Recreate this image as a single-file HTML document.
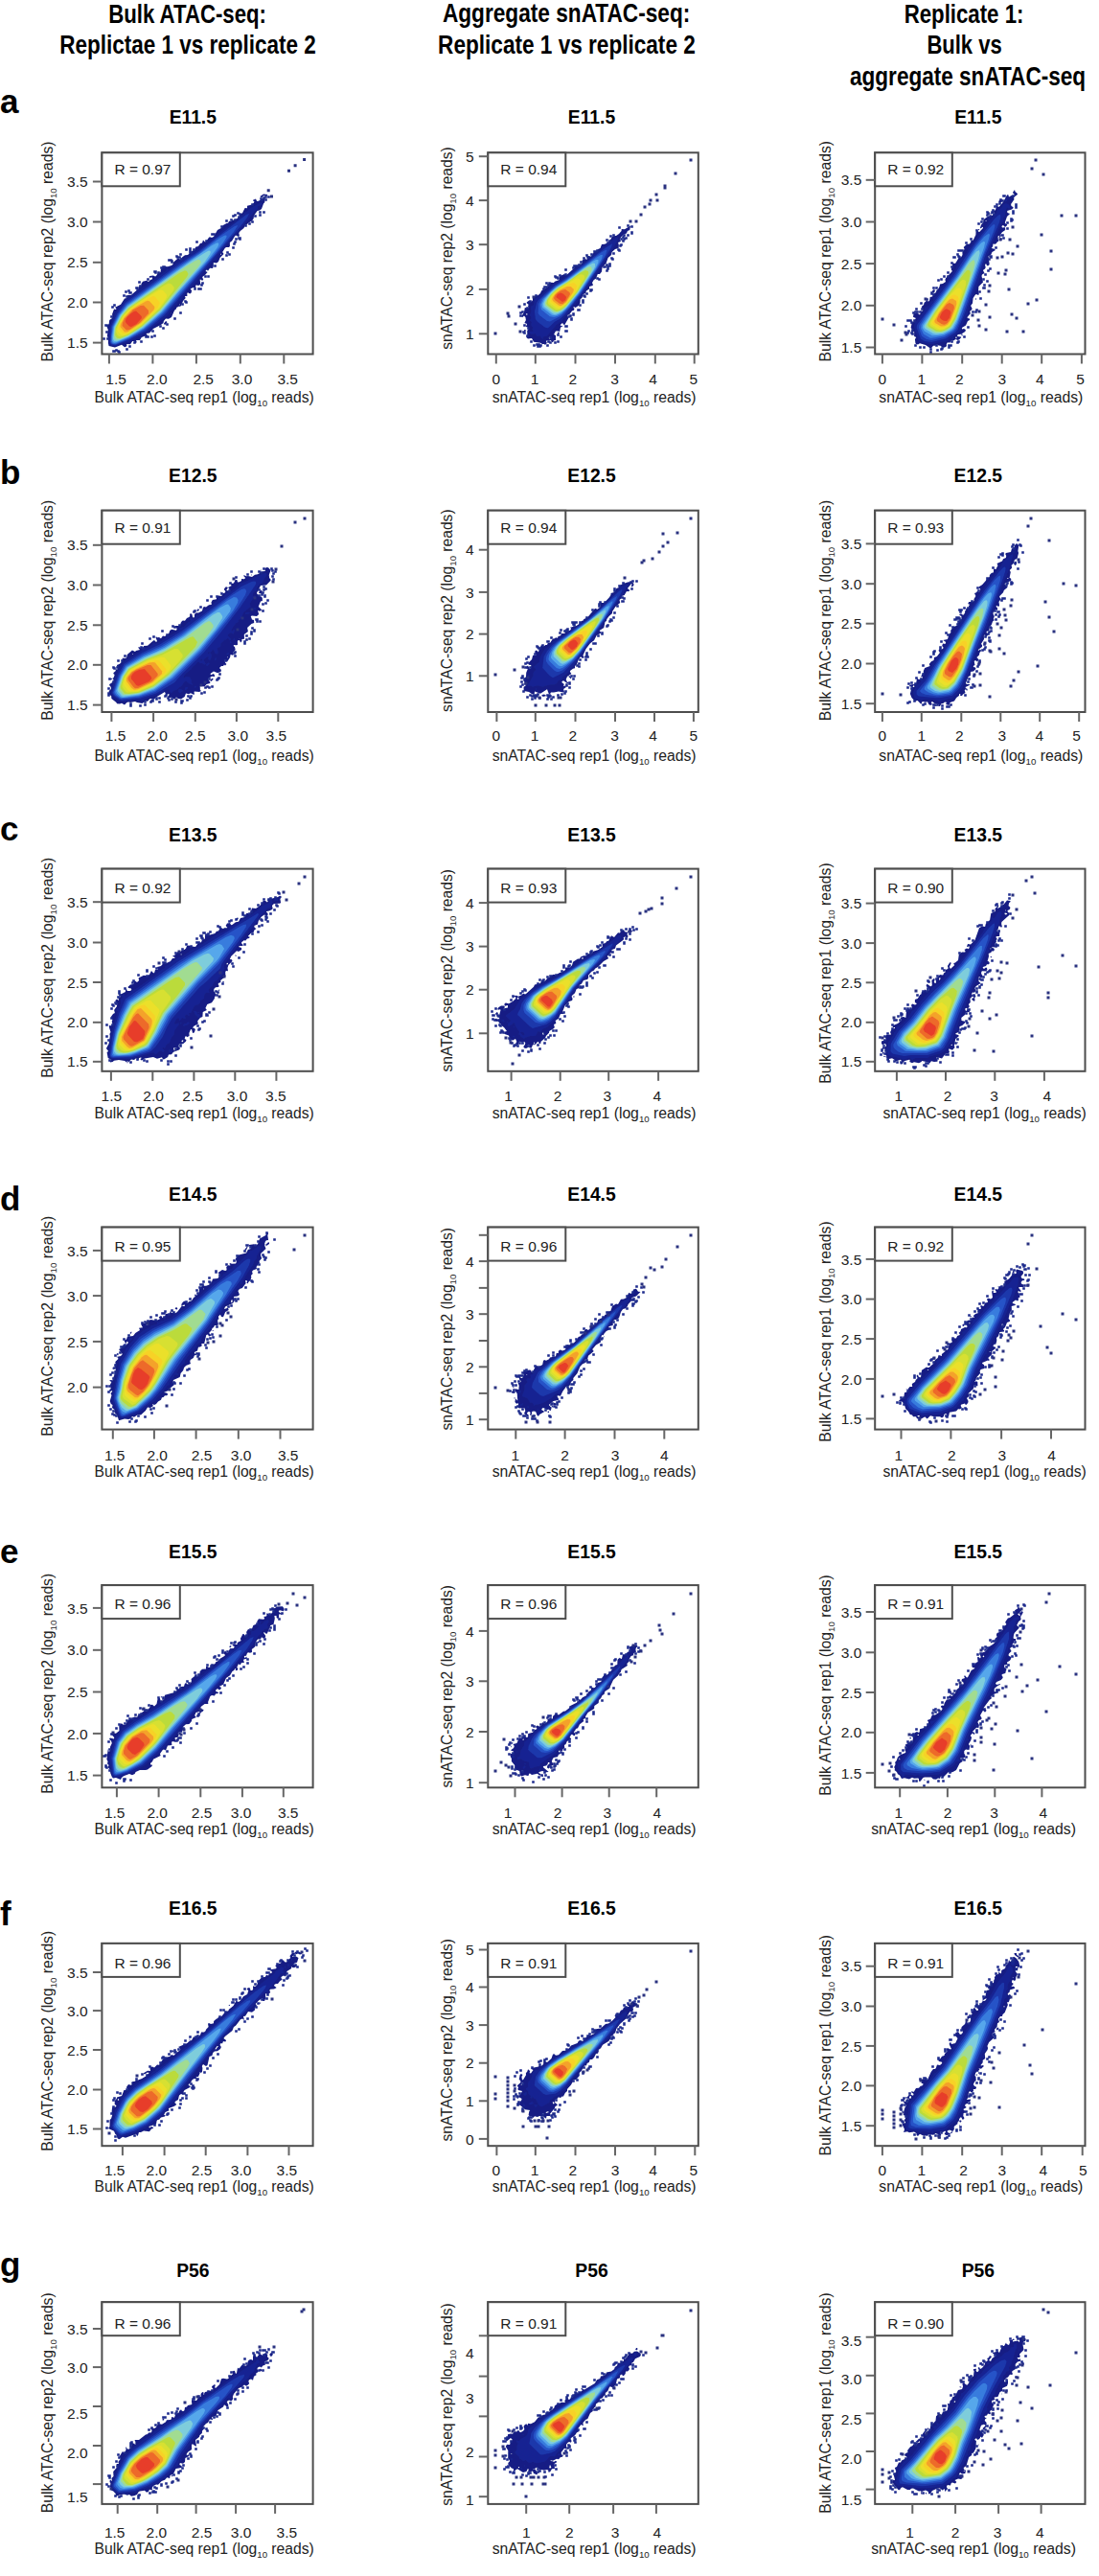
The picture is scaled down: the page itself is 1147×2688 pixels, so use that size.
<!DOCTYPE html><html><head><meta charset="utf-8"><style>html,body{margin:0;padding:0;background:#fff}svg{display:block}text{font-family:"Liberation Sans", sans-serif}</style></head><body>
<svg width="1147" height="2688" viewBox="0 0 1147 2688">
<defs><filter id="soft" x="-5%" y="-5%" width="110%" height="110%"><feGaussianBlur stdDeviation="0.6"/></filter></defs>
<rect width="1147" height="2688" fill="#fff"/>
<text x="113.2" y="23.7" font-size="27" font-weight="bold" fill="#000" textLength="164.8" lengthAdjust="spacingAndGlyphs">Bulk ATAC-seq:</text>
<text x="62.3" y="56.4" font-size="27" font-weight="bold" fill="#000" textLength="267.5" lengthAdjust="spacingAndGlyphs">Replictae 1 vs replicate 2</text>
<text x="461.9" y="23" font-size="27" font-weight="bold" fill="#000" textLength="258.4" lengthAdjust="spacingAndGlyphs">Aggregate snATAC-seq:</text>
<text x="457.1" y="56.4" font-size="27" font-weight="bold" fill="#000" textLength="268.7" lengthAdjust="spacingAndGlyphs">Replicate 1 vs replicate 2</text>
<text x="943.7" y="23.7" font-size="27" font-weight="bold" fill="#000" textLength="124.7" lengthAdjust="spacingAndGlyphs">Replicate 1:</text>
<text x="967.4" y="56.2" font-size="27" font-weight="bold" fill="#000" textLength="78.3" lengthAdjust="spacingAndGlyphs">Bulk vs</text>
<text x="887" y="89.3" font-size="27" font-weight="bold" fill="#000" textLength="246.1" lengthAdjust="spacingAndGlyphs">aggregate snATAC-seq</text>
<text x="0" y="117.8" font-size="35" font-weight="bold" fill="#000">a</text>
<text x="0" y="505" font-size="35" font-weight="bold" fill="#000">b</text>
<text x="0" y="877.3" font-size="35" font-weight="bold" fill="#000">c</text>
<text x="0" y="1262.6" font-size="35" font-weight="bold" fill="#000">d</text>
<text x="0" y="1631.2" font-size="35" font-weight="bold" fill="#000">e</text>
<text x="0" y="2008.8" font-size="35" font-weight="bold" fill="#000">f</text>
<text x="0" y="2375.2" font-size="35" font-weight="bold" fill="#000">g</text>
<g filter="url(#soft)">
<path fill="#151f84" d="M273 206.4l-1.7-1.4 3.7-2.4 4.2 .4-.2 1.4-4-.2zM131 362.1l-1 .1-3-2.4-7 2.8-6.4-1.6-.7-3 .1-5.5-1.2-1.5 1-7-1.7-4 2.6-2 .5-4 2.9-2 .2-3-.3-.9-1.2-.1 1.2-.1 2-5.5 2 .5 .4-.9-1.4-1.2 6-3.1 4-6.1 2.3-.6 .9-3 3.8-.3 7.9-6.7 0-2 2.4-1 .2-2 1.5-2.2 4-1.1 2 1.4 2-2.1 2-.7 0-1.7-3 .1-.4-.7 .7-1 3.7-.5 2 1.1 1-.5 1.7-3.1 2.8-1 .4-3 1.1-1.5 3.2-1.5 2.8 .3 4-1.4 1.4-.9 .2-2 5.4-4.7 2 1.3 1-.3 1-1.8 3-2.3 3-.2 5-4.4 2.2-.6 .8-3.3 3-.6 2-3.1 2-.4 1-3.1 2 2.1 1-.3 3-4.6 1-.5 2 .8 2-1.1 4-6.9 3.8-2 2.1-3 4.1-2.2 1 .3 1-2.3 3 .3-.3-1.1 4.3-.9 4-3-.1-2.1 3.1-1.7 2.6-5.3 2.4 .3 0-2.6 5-1.2 2-1.9 .4-1.6-1.4-.5 0-.8 3-1.2 1 2.3 1 .3 7-3.3 .4 4.2-1.4 1.4-2 5.6-2 1.5-2.4 .5-3.6 4.9-.3 3.1-1.7 2.5-4 2.2-1 1.5-2 .5-1.5 3.3-3.7 3-1.5 2 .6 3-.9 .9-3-1.3-1 .9-3 5.1-2.1 1.4 0 4-1 1-2.9 .1-1.3 .9-2.5 4 1.3 2-3.9 4-1.6 4-2 1.5-3.2-.5 0 4-.8 2-3-.2-2 2.9-1-1.1-1 .4-.5 1 2.1 1-2.6 3.1-2.9 1.9 1.2 3-1.3 .7-2-1.3-.3 .6 .6 5-2.3 1-2-.6-1 .5 .5 2.1-.5 1-2-.9-2.7 .9-.5 1 1.4 1-.8 3-1.4 .5-2-1.3-.7 .8 .1 3-2.5 0 .8 2-2.6 3-2.1 4.8-1 1.3-1-.5-2.8 1.4-.2 1.3-2 1.7-3 7.1-3 1.6-3-.1-2.1 2.4-.4 2-2.6 2-7.9 4-4 4.4-3.5 .6 1.5 2-.4 1-2.6-.2-3.2 1.2-1.8 3.1-4-.2 .7 2.1-.7 .9-1-.2-1-1.8-1.8 .1-2.2 3.2-3.8-.2 .2 2zM230.5 266l.5-1.3-1.2 .3zM187.5 318l-.5-1.2 0 1.7zM178.2 327l-.2-.8 0 1.4zM173 338.4l-1 .4-1.3-.8 2.3-3.1 1.5 1.1z"/>
<path fill="#172492" d="M121 361.2l-5-.8-1.9-2.4-.4-8 .6-8 5.9-15 9.8-12.9 18-13.6 4-2 18-13.8 3.3-1.7 .7-3.1 2 1.3 7.9-6.2 7-4 2.1-2.6 3-.6 6-4.6 7-3.9 7.7-6.3 1.3-2 3-1.4 10-8.1 15.2-10.5 7.8-7 1-2.4 2-.4 4-3.8 12-6.1 .1 2.7-4.1 .9-.5 1.1 .9 2-4.4 3.1-6 8.4-29.9 34.5-3.6 5 .2 2-2.7 .5-1 1-21.2 25.5-6 6-6.8 9.9-1-.3-1.4 1.4-1.2 2 .3 1-1.7 .4-4 5.6-1.8 1-2.2 3.7-21 17-5.5 3.3-.5 1.2-4 1-9 5.5-8 1.9zM120 326.8l-1-.2 0-1.8 1.4 .2z"/>
<path fill="#1d37ab" d="M120 360.3l-4-1-1.2-2.3 1-16 6.6-14 8.3-11 56.3-40.6 20.7-13.4 49.3-38 3-1.1-2 4.1-6.9 9-79.1 92.5-20 16.7-17 9.4z"/>
<path fill="#2653c7" d="M121 359.2l-4-.1-1.5-2.1 1.3-16 6.3-13 8.5-11 57.4-41.3 19.4-12.7 20.2-16 16.4-11 3.4-1-4.5 7-18 22-54.9 63.4-20 16.9-16 9.2z"/>
<path fill="#377bdd" d="M121 358.4l-3 .2-1.6-1.6-.1-6 1.4-10 6.6-13 8-10 57-41 19.7-13.1 19-14.7 6-3.4 2-.4 .7 .6-.5 2-3.1 5-10.3 13-52.8 60.5-20 17.1-15 8.9z"/>
<path fill="#56a7eb" d="M122 357.1l-3 .7-1.8-1.8-.1-5 1.5-10 6.4-12.4 8-9.8 88-62.6 5-2.8 2 .1 .4 1.5-1.3 3-9.9 13-30.7 34-17.5 20.8-19 16.6-15 9.1z"/>
<path fill="#7ecddb" d="M122 356.2l-3-.1-1-2.6 1.4-12.5 6.4-12 7.4-9 65.9-47 15.9-10.1 3-1.3 1.4 .4 .5 1-.9 2.6-5.2 7.4-27.9 31-17.9 21.2-19.1 16.8-14.9 9.2z"/>
<path fill="#a1dc91" d="M125 354.2l-4 .6-1.6-1.8-.5-4 1-7 6.8-13 7.3-8.5 60-42.5 10-6.1 3-1.1 2 .6 .8 2.6-2.4 4-39.7 46-18.9 17-14.8 9.3z"/>
<path fill="#bbdb3b" d="M125 353.2l-3-.4-1.9-2.8 .6-8 6.3-12 7-8.2 53-36.7 6-2.9 2 .9 1.5 2.9-1.5 3-28 34.3-19 17.2-14 9z"/>
<path fill="#d7e030" d="M128 351.1l-3 .5-2.3-1.6-1.5-3 .1-4 6-12 5.7-6.9 8-6.5 30-19.7 5-2.3 3 .9 2.9 3.5-.7 3-14.4 19-18.8 17.4-14 9.3z"/>
<path fill="#ebe02a" d="M131 349.2l-3 .6-2-.5-3-3.3-.6-2 1.3-5 5.9-10 6.7-7 10.7-7.4 19-11.5 2-.6 2 .5 3.7 4 .5 2-1.4 3-6.5 9-18.3 17.4-13 8.9z"/>
<path fill="#f7d228" d="M131 348.2l-3-.6-3.4-3.6-.8-2 1.2-4 4.8-8 7.2-7.5 11-7.5 10-5.3 2-.6 2 .7 4.9 6.2-2.3 5-17.4 17-12.2 8.4z"/>
<path fill="#f4a22a" d="M133 346.4l-3 0-4.5-5.4 .5-3 3.9-7 7.1-7.4 5.1-3.6 9.9-5.6 2-.6 2 .4 5.3 5.8-.1 2-1.2 2-12.9 13z"/>
<path fill="#ed6a29" d="M135 344.1l-3 .5-4.4-4.6 .3-3 2.1-4.4 9-9.3 7.7-4.3 3.3-.2 5 5.3 0 2.9-9.3 10z"/>
<path fill="#e73e29" d="M137 341l-2-.4-3-3-1-1.6 0-2 1.6-3 3.4-3.3 3.7-2.7 2.3-.5 5.7 5.5 .1 2-5.3 6z"/>
<path fill="#1d2a8c" d="M107.2 352.2h2.6v2.6h-2.6zM192.2 313.2h2.6v2.6h-2.6zM166.2 339.2h2.6v2.6h-2.6zM270.2 220.2h2.6v2.6h-2.6zM130.2 303.2h2.6v2.6h-2.6zM188.2 269.2h2.6v2.6h-2.6zM279.2 204.2h2.6v2.6h-2.6zM110.2 345.2h2.6v2.6h-2.6zM146.2 355.2h2.6v2.6h-2.6zM134.2 304.2h2.6v2.6h-2.6zM153.2 290.2h2.6v2.6h-2.6zM242.2 257.2h2.6v2.6h-2.6zM270.2 223.2h2.6v2.6h-2.6zM161.2 283.2h2.6v2.6h-2.6zM187.2 325.2h2.6v2.6h-2.6zM197.2 260.2h2.6v2.6h-2.6zM160.2 282.2h2.6v2.6h-2.6zM230.2 235.2h2.6v2.6h-2.6zM276.2 204.2h2.6v2.6h-2.6zM135.2 304.2h2.6v2.6h-2.6zM235.2 229.2h2.6v2.6h-2.6zM242.2 224.2h2.6v2.6h-2.6zM235.2 265.2h2.6v2.6h-2.6zM193.2 314.2h2.6v2.6h-2.6zM214.2 250.2h2.6v2.6h-2.6zM183.2 266.2h2.6v2.6h-2.6zM142.2 300.2h2.6v2.6h-2.6zM160.2 349.2h2.6v2.6h-2.6zM157.2 350.2h2.6v2.6h-2.6zM144.2 293.2h2.6v2.6h-2.6zM209.2 296.2h2.6v2.6h-2.6zM247.2 221.2h2.6v2.6h-2.6zM220.2 243.2h2.6v2.6h-2.6zM178.2 271.2h2.6v2.6h-2.6zM161.2 282.2h2.6v2.6h-2.6zM139.2 356.2h2.6v2.6h-2.6zM201.2 259.2h2.6v2.6h-2.6zM178.2 272.2h2.6v2.6h-2.6zM109.2 338.2h2.6v2.6h-2.6zM198.2 262.2h2.6v2.6h-2.6zM110.2 338.2h2.6v2.6h-2.6zM197.2 258.2h2.6v2.6h-2.6zM240.2 228.2h2.6v2.6h-2.6zM249.2 248.2h2.6v2.6h-2.6zM222.2 243.2h2.6v2.6h-2.6zM186.2 267.2h2.6v2.6h-2.6zM158.2 344.2h2.6v2.6h-2.6zM204.2 251.2h2.6v2.6h-2.6zM153.2 350.2h2.6v2.6h-2.6zM216.2 287.2h2.6v2.6h-2.6zM276.2 207.2h2.6v2.6h-2.6zM249.2 247.2h2.6v2.6h-2.6zM231.2 269.2h2.6v2.6h-2.6zM189.2 316.2h2.6v2.6h-2.6zM248.2 225.2h2.6v2.6h-2.6zM175.2 270.2h2.6v2.6h-2.6zM202.2 300.2h2.6v2.6h-2.6zM184.2 267.2h2.6v2.6h-2.6zM262.2 230.2h2.6v2.6h-2.6zM120.2 364.2h2.6v2.6h-2.6zM244.2 223.2h2.6v2.6h-2.6zM122.2 365.2h2.6v2.6h-2.6zM173.2 337.2h2.6v2.6h-2.6zM259.2 232.2h2.6v2.6h-2.6zM238.2 264.2h2.6v2.6h-2.6zM116.2 319.2h2.6v2.6h-2.6zM223.2 276.2h2.6v2.6h-2.6zM244.2 251.2h2.6v2.6h-2.6zM118.2 317.2h2.6v2.6h-2.6zM208.2 300.2h2.6v2.6h-2.6zM169.2 341.2h2.6v2.6h-2.6zM131.2 308.2h2.6v2.6h-2.6zM272.2 207.2h2.6v2.6h-2.6zM151.2 350.2h2.6v2.6h-2.6zM187.2 264.2h2.6v2.6h-2.6zM213.2 287.2h2.6v2.6h-2.6zM249.2 222.2h2.6v2.6h-2.6zM169.2 277.2h2.6v2.6h-2.6zM128.2 307.2h2.6v2.6h-2.6zM243.2 253.2h2.6v2.6h-2.6zM131.2 363.2h2.6v2.6h-2.6zM197.2 262.2h2.6v2.6h-2.6zM118.2 365.2h2.6v2.6h-2.6zM164.2 283.2h2.6v2.6h-2.6zM134.2 360.2h2.6v2.6h-2.6zM244.2 228.2h2.6v2.6h-2.6zM167.2 278.2h2.6v2.6h-2.6zM177.2 270.2h2.6v2.6h-2.6zM170.2 277.2h2.6v2.6h-2.6zM274.2 220.2h2.6v2.6h-2.6zM210.2 294.2h2.6v2.6h-2.6zM248.2 247.2h2.6v2.6h-2.6zM265.2 224.2h2.6v2.6h-2.6zM236.2 262.2h2.6v2.6h-2.6zM181.2 331.2h2.6v2.6h-2.6zM111.2 352.2h2.6v2.6h-2.6zM117.2 365.2h2.6v2.6h-2.6zM245.2 248.2h2.6v2.6h-2.6zM123.2 366.2h2.6v2.6h-2.6zM262.2 212.2h2.6v2.6h-2.6zM255.2 234.2h2.6v2.6h-2.6zM193.2 259.2h2.6v2.6h-2.6zM115.2 329.2h2.6v2.6h-2.6zM133.2 302.2h2.6v2.6h-2.6zM274.2 205.2h2.6v2.6h-2.6zM206.2 300.2h2.6v2.6h-2.6zM145.2 297.2h2.6v2.6h-2.6zM142.2 299.2h2.6v2.6h-2.6zM141.2 299.2h2.6v2.6h-2.6zM271.2 206.2h2.6v2.6h-2.6z"/>
<path fill="#2a3080" d="M278.7 197.2h3v3h-3zM282.0 203.5h3v3h-3zM300.0 176.7h3v3h-3zM306.6 171.3h3v3h-3zM316.1 165.0h3v3h-3z"/>
</g>
<rect x="106.4" y="159.3" width="220.2" height="210.2" fill="none" stroke="#4d4d4d" stroke-width="2"/>
<rect x="106.4" y="159.3" width="81.4" height="35" fill="#fff" stroke="#4d4d4d" stroke-width="2"/>
<text x="119.4" y="182" font-size="15" fill="#222" textLength="59" lengthAdjust="spacingAndGlyphs">R = 0.97</text>
<line x1="113.9" y1="369.5" x2="113.9" y2="379.5" stroke="#666" stroke-width="2"/>
<text x="121.1" y="400.7" font-size="15.5" fill="#222" text-anchor="middle">1.5</text>
<line x1="159.4" y1="369.5" x2="159.4" y2="379.5" stroke="#666" stroke-width="2"/>
<text x="163.9" y="400.7" font-size="15.5" fill="#222" text-anchor="middle">2.0</text>
<line x1="204.9" y1="369.5" x2="204.9" y2="379.5" stroke="#666" stroke-width="2"/>
<text x="212.2" y="400.7" font-size="15.5" fill="#222" text-anchor="middle">2.5</text>
<line x1="250.8" y1="369.5" x2="250.8" y2="379.5" stroke="#666" stroke-width="2"/>
<text x="252.5" y="400.7" font-size="15.5" fill="#222" text-anchor="middle">3.0</text>
<line x1="296.3" y1="369.5" x2="296.3" y2="379.5" stroke="#666" stroke-width="2"/>
<text x="300.2" y="400.7" font-size="15.5" fill="#222" text-anchor="middle">3.5</text>
<line x1="96.9" y1="189.5" x2="106.4" y2="189.5" stroke="#666" stroke-width="2"/>
<text x="91.6" y="195.1" font-size="15.5" fill="#222" text-anchor="end">3.5</text>
<line x1="96.9" y1="231.5" x2="106.4" y2="231.5" stroke="#666" stroke-width="2"/>
<text x="91.6" y="237.1" font-size="15.5" fill="#222" text-anchor="end">3.0</text>
<line x1="96.9" y1="273.8" x2="106.4" y2="273.8" stroke="#666" stroke-width="2"/>
<text x="91.6" y="279.4" font-size="15.5" fill="#222" text-anchor="end">2.5</text>
<line x1="96.9" y1="315.5" x2="106.4" y2="315.5" stroke="#666" stroke-width="2"/>
<text x="91.6" y="321.1" font-size="15.5" fill="#222" text-anchor="end">2.0</text>
<line x1="96.9" y1="357.6" x2="106.4" y2="357.6" stroke="#666" stroke-width="2"/>
<text x="91.6" y="363.2" font-size="15.5" fill="#222" text-anchor="end">1.5</text>
<text x="201.3" y="128.8" font-size="19.3" font-weight="bold" fill="#000" text-anchor="middle">E11.5</text>
<text x="98.6" y="419.6" font-size="16" fill="#222" textLength="229.1" lengthAdjust="spacingAndGlyphs">Bulk ATAC-seq rep1 (log<tspan font-size="9.9" dy="4">10</tspan><tspan dy="-4"> reads)</tspan></text>
<text transform="translate(55.2,377.5) rotate(-90)" x="0" y="0" font-size="16" fill="#222" textLength="230" lengthAdjust="spacingAndGlyphs">Bulk ATAC-seq rep2 (log<tspan font-size="9.9" dy="4">10</tspan><tspan dy="-4"> reads)</tspan></text>
<g filter="url(#soft)">
<path fill="#151f84" d="M569 360.1l-1-1.2-2 .1-2-1.3-7-1-2-3.6-4 .3-1.7-1.4 1-2-.1-5 1.7-2-.9-1.5-2.2-.5 1.3-3-2.7-1 1.5-3-.5-3-1.4-1.6-2 1.9-.8-1.3 2.8-4.2 .8-4.8 3.2 .6 .6-.6-.6-2 .8-1-2.3-2 .7-1 1.8-1.3 2 1.1 1-.3 1-1.5 0-3 5.7-2 2.3-2 1-2.6 7-4.4 1-2.4 2-1.8 2.9 .2 1.1-1.3 4.7-1.7 .1-3 1.2-1.2 4-1.8 2 1.3 8.1-7.3 .9-2.5 2 .4 3.1-.9 2.9-3-.6-2 1.1-1 1.5-.7 3 .1 1-3.3 3 .4 3-4.4 3-1 1.2-2.1 2.3-1 1.5-4.1 3-.1 3-1.4 2.5-2.4 2.5-4.1 1-.7 3-.1 3-2.2 2.6-2.9 .1-2 3.3 .3 6-3.8-.7 4.5-2.4 1-.9 2.5-3 .9-3.3 3.6-.9 2 1.3 2-3 1 .8 3-.3 3-3.6 1.1-3.3 2.9-.6 3-3.5 3-2.1 6-4 4-.5 4.6-2 2.4-2.2 0-1.8 4.7-2.2 1.3-1.8 3 .9 2-.3 1-3.5 1-.1 2.4-3 2.1-1 2.8-2.4 .7-1.2 4-1.7 1-.2 4-1.5 2.7-3 2-1 .2-1-1.1-.6 1.2 1.1 1-.5 1.8-2 .6-3 4.2-2 .4 1.3 3-4.3 7.4-2-2.4-2.2 2 .2 .7 2.6 .3-2.6 1.7-1 5.1-1-1.4-3 .1-1.9 3.5 1.9 1.1 0 5-2 .5-1 1.7-1-.2-1-1.8-4-.1-1.1 .8 1 2zM550.5 328l-.5-1-1.3 1 1.3 .7zM595 331.1l0-1.4 1-.2 0 1.2zM548 346.1l-1-.4 0-1.5 1-.2 1.4 1zM584 348.1l-2 .3 0-1.9 2 .9zM574.5 353l-.5-1.5-1.1 .5 .1 1.4 1 .6zM562 360.7l-.9-.7 .9-.5 .7 .5z"/>
<path fill="#172492" d="M649 244.1l-1 .6-.2-.7 1.2-.8zM567 353.7l-2-.6-1-2.5-1-.4-2 1-1-.6-1-2.4-5 .6-1.5-1.8 .5-1 3.9 0-1.3-2 .6-2-2-3 .6-3-2.1-2 1.3-1.1 .5-1.9-1.7-2 1.6-4-.4-4.1 1-1.8 1 .2 1-1.3 1-5.9 4-2 5.3-4.1 5.6-5 1.1-2.1 2-.3 1-1.8 10.9-5.8 11.1-9.2 15-10.5 5.2-4.3 1.2-2 7.4-5 1.2-2.7 1 .7 1-.6 10-8.1 4-1.6 .1 1.3-4 8-5.5 9-2.7 3-3.9 7.5-7.3 9.5-5.7 10.3-2 1.4-9.4 13.3-1.3 3-2.3 2 .1 1-2.1 1.1-4 6.6-7.1 7.3-1.9 3.9-3 .7-.4 1.4-1.6 .6-10 11.8-4 1-.6 .6zM567 355.5l0-1.5 .6 1z"/>
<path fill="#1d37ab" d="M572 342.3l-3-.6-8-6-2.1-2.7-1-8 2.3-9 1.7-3 17.1-15.3 11-6.9 41-31.6 8-4.9-.9 3.7-5.9 10-25.9 39-17.3 21.6-4 3.6-6 3.6z"/>
<path fill="#2653c7" d="M574 335.4l-3-.4-8-6-1.4-2 .5-10 2.7-5 15.2-13.9 11-6.9 37-28.1 4-2.3 1.5 .2-1.5 5-8.5 14-17.6 26-11.6 15-9.3 9.1z"/>
<path fill="#377bdd" d="M578 331.1l-4-.9-9.2-7.2-1-5 2.7-6 13.7-13 10.8-6.8 32-23.9 4-2.4 2 .1-.9 4-6.3 11-16.1 24-10.9 14-8.8 8.8-4 2.3z"/>
<path fill="#56a7eb" d="M580 329.2l-4-.5-9.9-7.7-.5-4 2.4-5 7-7.7 6-5 10.1-6.3 26.9-20 4-2.1 2.5 .1-.1 3-2.4 5-18 27-14 17.1-5 4z"/>
<path fill="#7ecddb" d="M582 327.3l-3 .6-2-.7-9.4-7.2-.5-3 2.2-5 6-7 5.9-5 10.8-6.8 22-16.2 5-2.5 2 .5 .1 3-2 4-15.2 23-12.9 16-4 3.5z"/>
<path fill="#a1dc91" d="M582 326.1l-4-.3-8.8-6.8-.5-3 2.6-5 5-6 5.7-4.7 10.1-6.3 18.9-14 4-1.7 2 .3 .9 2.4-1.7 4-13.1 20-12.1 14.9-4 3.5z"/>
<path fill="#bbdb3b" d="M581 325l-3-1.3-6.3-4.7-1.5-2 .9-4 3.5-5 7.4-6.9 11-6.9 12-9.1 6-3.1 2.9 1 .4 2-1.2 3-10.8 17-12.3 14.9-5 3.8z"/>
<path fill="#d7e030" d="M584 323.1l-2 .5-2-.6-7.8-6-.4-3 2.3-4 3.1-4 4.8-4.2 19-12.7 5-2.8 3 .5 1.2 1.2-.3 3-7 12-10.9 14-4 3.7z"/>
<path fill="#ebe02a" d="M584 322l-3-.4-7.3-5.6-.6-2 1.9-4 3.1-4 5.9-4.8 17-10.4 2-.4 1.5 .6 1.5 1.2 .4 1.8-4.4 9-11 14.1z"/>
<path fill="#f7d228" d="M586 320.1l-3 .5-7-4.9-1.3-1.7 .7-3 3.6-5 5-4 11-6.1 4-.8 3.3 2.9-.9 4-10.2 14z"/>
<path fill="#f4a22a" d="M585 319.2l-2-.6-6-4.6-.7-2 .7-2 3-4 5-3.8 7-3.3 3.7 .1 3.3 2.9-.9 3.1-7.1 10.2-3 2.6z"/>
<path fill="#ed6a29" d="M587 317.2l-3-.5-5-3.8-1-1.9 1.3-3 3.2-3 3.5-2.1 4-.9 4.4 3 .6 2-4.1 7z"/>
<path fill="#e73e29" d="M587 315.1l-6.7-5.1 1.5-3 3.2-1.5 3 1.2 3.2 3.3-1.2 3.3z"/>
<path fill="#1d2a8c" d="M592.2 329.2h2.6v2.6h-2.6zM542.2 328.2h2.6v2.6h-2.6zM590.2 339.2h2.6v2.6h-2.6zM633.2 277.2h2.6v2.6h-2.6zM572.2 294.2h2.6v2.6h-2.6zM601.2 276.2h2.6v2.6h-2.6zM630.2 277.2h2.6v2.6h-2.6zM635.2 276.2h2.6v2.6h-2.6zM652.2 247.2h2.6v2.6h-2.6zM647.2 248.2h2.6v2.6h-2.6zM571.2 355.2h2.6v2.6h-2.6zM599.2 276.2h2.6v2.6h-2.6zM558.2 307.2h2.6v2.6h-2.6zM639.2 263.2h2.6v2.6h-2.6zM545.2 345.2h2.6v2.6h-2.6zM635.2 250.2h2.6v2.6h-2.6zM647.2 254.2h2.6v2.6h-2.6zM597.2 278.2h2.6v2.6h-2.6zM546.2 316.2h2.6v2.6h-2.6zM609.2 308.2h2.6v2.6h-2.6zM589.2 339.2h2.6v2.6h-2.6zM604.2 275.2h2.6v2.6h-2.6zM594.2 328.2h2.6v2.6h-2.6zM546.2 346.2h2.6v2.6h-2.6zM573.2 356.2h2.6v2.6h-2.6zM583.2 286.2h2.6v2.6h-2.6zM595.2 332.2h2.6v2.6h-2.6zM650.2 248.2h2.6v2.6h-2.6zM629.2 277.2h2.6v2.6h-2.6zM632.2 281.2h2.6v2.6h-2.6zM604.2 317.2h2.6v2.6h-2.6zM658.2 242.2h2.6v2.6h-2.6zM608.2 268.2h2.6v2.6h-2.6zM590.2 344.2h2.6v2.6h-2.6zM637.2 268.2h2.6v2.6h-2.6zM616.2 264.2h2.6v2.6h-2.6zM616.2 301.2h2.6v2.6h-2.6zM654.2 234.2h2.6v2.6h-2.6zM638.2 269.2h2.6v2.6h-2.6zM646.2 255.2h2.6v2.6h-2.6zM624.2 290.2h2.6v2.6h-2.6zM550.2 309.2h2.6v2.6h-2.6zM563.2 359.2h2.6v2.6h-2.6zM619.2 261.2h2.6v2.6h-2.6zM580.2 288.2h2.6v2.6h-2.6zM546.2 338.2h2.6v2.6h-2.6zM579.2 288.2h2.6v2.6h-2.6zM542.2 325.2h2.6v2.6h-2.6zM650.2 244.2h2.6v2.6h-2.6zM632.2 275.2h2.6v2.6h-2.6zM597.2 327.2h2.6v2.6h-2.6zM654.2 244.2h2.6v2.6h-2.6zM578.2 356.2h2.6v2.6h-2.6zM612.2 267.2h2.6v2.6h-2.6zM644.2 259.2h2.6v2.6h-2.6zM611.2 265.2h2.6v2.6h-2.6zM550.2 341.2h2.6v2.6h-2.6zM581.2 355.2h2.6v2.6h-2.6zM562.2 360.2h2.6v2.6h-2.6zM615.2 301.2h2.6v2.6h-2.6zM556.2 359.2h2.6v2.6h-2.6zM589.2 280.2h2.6v2.6h-2.6zM621.2 261.2h2.6v2.6h-2.6zM632.2 249.2h2.6v2.6h-2.6zM649.2 246.2h2.6v2.6h-2.6zM649.2 250.2h2.6v2.6h-2.6zM603.2 275.2h2.6v2.6h-2.6zM605.2 272.2h2.6v2.6h-2.6zM615.2 302.2h2.6v2.6h-2.6zM595.2 331.2h2.6v2.6h-2.6zM560.2 360.2h2.6v2.6h-2.6zM549.2 349.2h2.6v2.6h-2.6zM602.2 322.2h2.6v2.6h-2.6zM578.2 287.2h2.6v2.6h-2.6zM589.2 344.2h2.6v2.6h-2.6zM611.2 305.2h2.6v2.6h-2.6zM581.2 289.2h2.6v2.6h-2.6zM589.2 285.2h2.6v2.6h-2.6zM552.2 313.2h2.6v2.6h-2.6zM544.2 324.2h2.6v2.6h-2.6zM569.2 294.2h2.6v2.6h-2.6zM645.2 260.2h2.6v2.6h-2.6zM598.2 276.2h2.6v2.6h-2.6zM622.2 289.2h2.6v2.6h-2.6zM622.2 260.2h2.6v2.6h-2.6zM571.2 296.2h2.6v2.6h-2.6zM635.2 274.2h2.6v2.6h-2.6zM633.2 252.2h2.6v2.6h-2.6zM607.2 312.2h2.6v2.6h-2.6zM658.2 241.2h2.6v2.6h-2.6zM570.2 359.2h2.6v2.6h-2.6zM608.2 307.2h2.6v2.6h-2.6zM607.2 314.2h2.6v2.6h-2.6zM603.2 322.2h2.6v2.6h-2.6zM597.2 326.2h2.6v2.6h-2.6zM636.2 245.2h2.6v2.6h-2.6zM581.2 348.2h2.6v2.6h-2.6zM553.2 355.2h2.6v2.6h-2.6zM566.2 300.2h2.6v2.6h-2.6zM559.2 358.2h2.6v2.6h-2.6zM658.2 235.2h2.6v2.6h-2.6zM561.2 358.2h2.6v2.6h-2.6zM569.2 298.2h2.6v2.6h-2.6zM567.2 298.2h2.6v2.6h-2.6zM573.2 351.2h2.6v2.6h-2.6zM633.2 279.2h2.6v2.6h-2.6zM584.2 350.2h2.6v2.6h-2.6zM645.2 236.2h2.6v2.6h-2.6zM549.2 320.2h2.6v2.6h-2.6zM639.2 244.2h2.6v2.6h-2.6z"/>
<path fill="#2a3080" d="M515.5 346.5h3v3h-3zM528.5 325.5h3v3h-3zM529.5 328.5h3v3h-3zM536.5 336.5h3v3h-3zM540.5 318.5h3v3h-3zM541.5 344.5h3v3h-3zM555.5 308.5h3v3h-3zM656.5 229.5h3v3h-3zM662.5 229.5h3v3h-3zM667.5 222.5h3v3h-3zM671.5 214.5h3v3h-3zM676.5 211.5h3v3h-3zM677.5 207.5h3v3h-3zM683.5 201.5h3v3h-3zM684.5 207.5h3v3h-3zM692.5 192.5h3v3h-3zM692.5 194.5h3v3h-3zM703.5 179.5h3v3h-3zM719.5 165.5h3v3h-3z"/>
</g>
<rect x="509.3" y="159.3" width="219.5" height="210.2" fill="none" stroke="#4d4d4d" stroke-width="2"/>
<rect x="509.3" y="159.3" width="81" height="35" fill="#fff" stroke="#4d4d4d" stroke-width="2"/>
<text x="522.3" y="182" font-size="15" fill="#222" textLength="59" lengthAdjust="spacingAndGlyphs">R = 0.94</text>
<line x1="517.8" y1="369.5" x2="517.8" y2="379.5" stroke="#666" stroke-width="2"/>
<text x="517.8" y="400.7" font-size="15.5" fill="#222" text-anchor="middle">0</text>
<line x1="558.8" y1="369.5" x2="558.8" y2="379.5" stroke="#666" stroke-width="2"/>
<text x="558" y="400.7" font-size="15.5" fill="#222" text-anchor="middle">1</text>
<line x1="600.5" y1="369.5" x2="600.5" y2="379.5" stroke="#666" stroke-width="2"/>
<text x="597.8" y="400.7" font-size="15.5" fill="#222" text-anchor="middle">2</text>
<line x1="642" y1="369.5" x2="642" y2="379.5" stroke="#666" stroke-width="2"/>
<text x="641.5" y="400.7" font-size="15.5" fill="#222" text-anchor="middle">3</text>
<line x1="683.8" y1="369.5" x2="683.8" y2="379.5" stroke="#666" stroke-width="2"/>
<text x="681.6" y="400.7" font-size="15.5" fill="#222" text-anchor="middle">4</text>
<line x1="724.7" y1="369.5" x2="724.7" y2="379.5" stroke="#666" stroke-width="2"/>
<text x="723.9" y="400.7" font-size="15.5" fill="#222" text-anchor="middle">5</text>
<line x1="499.8" y1="163.2" x2="509.3" y2="163.2" stroke="#666" stroke-width="2"/>
<text x="494.6" y="168.8" font-size="15.5" fill="#222" text-anchor="end">5</text>
<line x1="499.8" y1="209.1" x2="509.3" y2="209.1" stroke="#666" stroke-width="2"/>
<text x="494.6" y="214.7" font-size="15.5" fill="#222" text-anchor="end">4</text>
<line x1="499.8" y1="255.2" x2="509.3" y2="255.2" stroke="#666" stroke-width="2"/>
<text x="494.6" y="260.8" font-size="15.5" fill="#222" text-anchor="end">3</text>
<line x1="499.8" y1="301.9" x2="509.3" y2="301.9" stroke="#666" stroke-width="2"/>
<text x="494.6" y="307.5" font-size="15.5" fill="#222" text-anchor="end">2</text>
<line x1="499.8" y1="348.3" x2="509.3" y2="348.3" stroke="#666" stroke-width="2"/>
<text x="494.6" y="353.9" font-size="15.5" fill="#222" text-anchor="end">1</text>
<text x="617.5" y="128.8" font-size="19.3" font-weight="bold" fill="#000" text-anchor="middle">E11.5</text>
<text x="513.7" y="419.6" font-size="16" fill="#222" textLength="212.9" lengthAdjust="spacingAndGlyphs">snATAC-seq rep1 (log<tspan font-size="9.9" dy="4">10</tspan><tspan dy="-4"> reads)</tspan></text>
<text transform="translate(472.1,364.8) rotate(-90)" x="0" y="0" font-size="16" fill="#222" textLength="211.5" lengthAdjust="spacingAndGlyphs">snATAC-seq rep2 (log<tspan font-size="9.9" dy="4">10</tspan><tspan dy="-4"> reads)</tspan></text>
<g filter="url(#soft)">
<path fill="#151f84" d="M972 363.2l-1 .4-5-3.7-6-1.6-2 1.2-2-.5-.6-1-.5-4 1.4-2-2.2-1 0-5-2.1 .9-1.2-.9 1.6-2-1.8-2 .9-4-1-1 3.5-1.6 1.8-3.4-2.8-1.2 .4-2.8 .9-1 2.7-.7 3 2.1 1.4-3.4 2-1-1.6-4 2.3-2 .4-2 2.5-2.3 2 .7 1-.6 .7-3.8 2.3-.5 2-3.2 2-1.2 .3-2.1 1.7-1.2 1.6-2.8 .4-2.6 2.9-.4 3.1-2-.6-2 .8-2 6.7-7-1.3-2 1.5-3-.1-3 1-.6 2 .5 3.7-5.9 2.3-.4 1.5-2.6-.1-3 2.2-3-.9-2 3.3-3.3 3-.1 1.5-2.6-.5-1-2-.1 4 .1 1-.9 2.4-5.1 .1-3 1.5-1.6 2 1.9 4-4.3 0-1.3-3 1.9-.1-.6 1.1-3.6 2.3-2.4-.3-1 1-2.3 4-3 2 .1 3-1.2 2.1-2.6-1.1-.2-2 1.7-2-.3-1 .7-.5-.9 2.5-.6 5-3.4 .9-4 1.1-.4 1 1.5 1-.7 4-4.7 4-7.2 1.2-.5 .8 2.4 3-1.6 2 1.1 .7-1.9-1.8-2 2.1-3 .5 2 2.4 2 0 1-3.9 3 .5 2-3.4 5 .4 2 1.8 1 .3 1-1.6 1.5-4.8 1.5 .2 2 2.7 1-3.1 3.1-2.1 5.9 .1 1.1 2 .8 .2 1.1-2.2 1.9-2-1.9-1.6 1 .6 1.4 3-.1 .2 2.7-3.2 2.3-3 3.7-1 0-.5 1 .6 5-1.1 .2-1.1 1.8-1.9 .9-1-.7-.7 .8-.1 2-1.5 2 3.3 .8 .9 1.2-3.4 2-1.5 3.3-2.4 .7 1.1 9-1.7 1.5-1-.4-1-2.1-1 1.4 .7 2.6-.7 1.6-2.1 1.4 1.6 3-2.5 1.4-.5 1.6 1.5 6.4-4.6 4.6-.4 5 .8 3-.8 1-2-.9-1 .4-2.4 3.5-.6 5.5-1.9 2.5 1.5 3-.3 1-2.1 2 .7 2-3.4 4 .3 1 2.2 .5 0 1.5-2 1-2 4.4-4.1 2.6 .1 1.4 2-.4 1.9 1-.5 2-4.4 2.7-3 .2-1 1.1 .3 1 3.7 .4 .3 .6-2.3 2.6-2 .5-1-1-1 .1-2 1.3-2-.2-2 2.4-2-.5-1.2 1.8 .2 2.2-2 1.3-2 .2-3-2.2-1 .2-2-1.1-2 1.1-2 0zM1045 211.2l-2 .5-.9-.7 .7-2 1.2-.5 1.4 .5 .5 1zM1029.3 231l.3-1-1.5 0zM1021 240.4l0-1.5 1.5 .1zM1043 248.4l-.5-.4 .5-2 1-.9 .2 1.9zM975 305.7l-2.3-.7 .6-2 1.7-1.1 .9 1.1zM1018 313.1l0-2 1.2 .9zM1004 350.5l-.8-1.5 .8-.7 .8 1.7zM998.2 353l.6-1-.8-.5-.9 .5 .9 1.6z"/>
<path fill="#172492" d="M1050 210.6l-1-.6 .4-1 .6-1.1 1 0 .3 1.1zM972 359.3l-10-2-3.7-2.3 0-2-4.4-12 1.1-4 9.6-12 .4-3.5 5-3.1 2-3.9 1 .1 1.4-1.6-.4-2 4-3.1 2.8-3.9 .4-2 5.9-6 10.6-15 .6-3 3.3-4 .3-1-.9-1.1 2-.6 6.4-8.3 1.6-3.7 2-1.6 8.1-11.7 6.1-7 4.8-7.5 8.5-9.5 .5-2.9 2-.2 3.1-2.9 .9-2.2 2-1.3 2 0 2.2 1.5 1 3-1.2 .9-2-1.9-1.9 5 .1 5-1.2-.2-1.2 2.2 .2 4-1-.4-2.2 3.4-4.2 11-4.8 9-3.1 9-1.9 3-.6 4-2.3 4-6.1 20-11 29-.5 2 .8 2-2.1 1.7-3 7.8-2.6 4.5-.1 3-7.3 6.6-4 1.6-4 3.4-2-.4zM1032 230.5l-.7-1.5 .7-1.4 1 .4 .2 1zM995 354.3l-1.5-.3 .5-1.7 1-.1z"/>
<path fill="#1d37ab" d="M972 357.1l-6.9-1.1-4.1-2.2-4.3-11.8 .4-3 38.9-52.3 10.4-16.7 12-17 19.6-24.7 4-3.7 2-.5 .3 2.9-1.3 5-14 32.6-22.6 63.4-6.9 16-2.5 3.1-10 6.3z"/>
<path fill="#2653c7" d="M972 355.1l-5-1-5-3.3-3.1-8.8 .5-3 5.9-9 31.7-42.1 21.7-32.9 13.3-16.3 4-4 2-.7 .5 2-1.5 5.3-10 24.4-23.6 66.3-5.2 11-3.2 3.5-9 5.4z"/>
<path fill="#377bdd" d="M976 352.2l-5 .5-7-4-2.9-5.7 .3-4 5-8 31.6-42.2 20-30.7 9-11.1 5-3.6 1 1.6-1.2 5-32.5 88-3.3 5.7-4 3.1-7 3.8z"/>
<path fill="#56a7eb" d="M979 350l-6 .3-8-4.6-2.4-3.7 .6-3 9.9-15 26.3-35 18.6-28.6 6-7 3-1.7 1.1 1.3-1.1 5.3-24.4 68.7-4.1 10-3.5 5.9-2.5 2.1-7.5 4z"/>
<path fill="#7ecddb" d="M984 348l-7 .7-3-.5-8.6-5.2-1.1-2 .6-2 9.6-15 25.5-34 14-21.6 5-6 3-1.4 .6 3-1.6 6.9-21.9 62.1-5.1 9.2-4 2.9z"/>
<path fill="#a1dc91" d="M983 347l-6 .3-3-1.2-7-4.4-.7-1.7 .7-2 8.8-14 24.9-33 10.3-15.5 4-4.1 2 .2 .5 3.4-2.5 10.1-17 47.9-5.4 9-4.6 3z"/>
<path fill="#bbdb3b" d="M982 346l-5-.4-7.9-4.6-.9-2 1.1-3 7.7-12 29-38.3 3-3.4 2-.6 1.5 1.3 .3 2-1.7 8-14.2 40-4.9 8.1-5 3.2z"/>
<path fill="#d7e030" d="M985 344.2l-4 .7-4-1.1-6.1-3.8-.9-2 .6-2 6.9-11 11.5-15.5 13-15.6 2-1.7 2-.5 2 1.5 0 4.3-10.9 32.5-5.5 10z"/>
<path fill="#ebe02a" d="M985 343.1l-3 .6-3-.8-6.4-3.9-.8-1 .1-2 6.7-11 11.4-15.2 8-8.4 3-1.2 2.5 1.8 .4 2-5.8 21-3.3 8-2.9 5-1.9 2.2z"/>
<path fill="#f7d228" d="M984 342.3l-3-.2-6-3.5-1.6-1.6 .2-2 5.4-9 10-13.4 5-4.9 3-.3 3 2 .6 2.6-3.4 13-3.4 8-3.1 5-2.7 2.4z"/>
<path fill="#f4a22a" d="M986 340.2l-4 .4-6.1-3.6-.7-2 4.8-8.8 7-9.5 4-4.3 3-1 4 2.6 .3 3-1.2 5-5.1 12.5-3 3.9z"/>
<path fill="#ed6a29" d="M987 338.2l-2 .5-2.4-.7-4.6-3-.2-2 2.2-5 5-6.8 3-3.6 3-1.7 4 2.1 .9 2-.2 2-3.7 10.5-3 4.3z"/>
<path fill="#e73e29" d="M988 335.1l-3-.4-3-1.8-1.3-1.9 2.3-5 3-3.1 2-.7 3.4 1.8 1 2-1.4 5.6z"/>
<path fill="#1d2a8c" d="M1056.2 203.2h2.6v2.6h-2.6zM1047.2 203.2h2.6v2.6h-2.6zM966.2 311.2h2.6v2.6h-2.6zM1045.2 244.2h2.6v2.6h-2.6zM1032.2 224.2h2.6v2.6h-2.6zM1025.2 299.2h2.6v2.6h-2.6zM1038.2 257.2h2.6v2.6h-2.6zM1036.2 222.2h2.6v2.6h-2.6zM1023.2 230.2h2.6v2.6h-2.6zM982.2 362.2h2.6v2.6h-2.6zM953.2 334.2h2.6v2.6h-2.6zM1033.2 267.2h2.6v2.6h-2.6zM1009.2 340.2h2.6v2.6h-2.6zM1033.2 266.2h2.6v2.6h-2.6zM1022.2 310.2h2.6v2.6h-2.6zM994.2 267.2h2.6v2.6h-2.6zM946.2 346.2h2.6v2.6h-2.6zM1029.2 292.2h2.6v2.6h-2.6zM1005.2 350.2h2.6v2.6h-2.6zM984.2 287.2h2.6v2.6h-2.6zM951.2 347.2h2.6v2.6h-2.6zM1026.2 299.2h2.6v2.6h-2.6zM977.2 364.2h2.6v2.6h-2.6zM1007.2 252.2h2.6v2.6h-2.6zM952.2 325.2h2.6v2.6h-2.6zM946.2 333.2h2.6v2.6h-2.6zM1027.2 285.2h2.6v2.6h-2.6zM998.2 264.2h2.6v2.6h-2.6zM1059.2 215.2h2.6v2.6h-2.6zM998.2 356.2h2.6v2.6h-2.6zM981.2 290.2h2.6v2.6h-2.6zM1054.2 229.2h2.6v2.6h-2.6zM1021.2 303.2h2.6v2.6h-2.6zM995.2 267.2h2.6v2.6h-2.6zM949.2 333.2h2.6v2.6h-2.6zM1046.2 247.2h2.6v2.6h-2.6zM960.2 315.2h2.6v2.6h-2.6zM1050.2 237.2h2.6v2.6h-2.6zM1055.2 228.2h2.6v2.6h-2.6zM988.2 287.2h2.6v2.6h-2.6zM989.2 359.2h2.6v2.6h-2.6zM970.2 363.2h2.6v2.6h-2.6zM1042.2 211.2h2.6v2.6h-2.6zM970.2 366.2h2.6v2.6h-2.6zM1031.2 269.2h2.6v2.6h-2.6zM1035.2 218.2h2.6v2.6h-2.6zM1059.2 214.2h2.6v2.6h-2.6zM1046.2 203.2h2.6v2.6h-2.6zM955.2 321.2h2.6v2.6h-2.6zM992.2 277.2h2.6v2.6h-2.6zM1030.2 221.2h2.6v2.6h-2.6zM1043.2 248.2h2.6v2.6h-2.6zM1059.2 212.2h2.6v2.6h-2.6zM999.2 266.2h2.6v2.6h-2.6zM992.2 273.2h2.6v2.6h-2.6zM950.2 335.2h2.6v2.6h-2.6zM951.2 343.2h2.6v2.6h-2.6zM1056.2 219.2h2.6v2.6h-2.6zM950.2 346.2h2.6v2.6h-2.6zM1032.2 266.2h2.6v2.6h-2.6zM1043.2 207.2h2.6v2.6h-2.6zM1024.2 227.2h2.6v2.6h-2.6zM1056.2 221.2h2.6v2.6h-2.6zM944.2 339.2h2.6v2.6h-2.6zM999.2 260.2h2.6v2.6h-2.6zM1025.2 290.2h2.6v2.6h-2.6zM959.2 324.2h2.6v2.6h-2.6zM1029.2 220.2h2.6v2.6h-2.6zM989.2 361.2h2.6v2.6h-2.6zM1034.2 220.2h2.6v2.6h-2.6zM948.2 333.2h2.6v2.6h-2.6zM1014.2 324.2h2.6v2.6h-2.6zM1050.2 231.2h2.6v2.6h-2.6zM978.2 291.2h2.6v2.6h-2.6zM976.2 299.2h2.6v2.6h-2.6zM992.2 355.2h2.6v2.6h-2.6zM1018.2 239.2h2.6v2.6h-2.6zM981.2 363.2h2.6v2.6h-2.6zM1017.2 324.2h2.6v2.6h-2.6zM1003.2 260.2h2.6v2.6h-2.6zM959.2 361.2h2.6v2.6h-2.6zM973.2 299.2h2.6v2.6h-2.6zM973.2 306.2h2.6v2.6h-2.6zM956.2 324.2h2.6v2.6h-2.6zM961.2 321.2h2.6v2.6h-2.6zM1020.2 232.2h2.6v2.6h-2.6zM991.2 359.2h2.6v2.6h-2.6zM1032.2 279.2h2.6v2.6h-2.6zM971.2 304.2h2.6v2.6h-2.6zM1000.2 267.2h2.6v2.6h-2.6zM947.2 344.2h2.6v2.6h-2.6zM1012.2 248.2h2.6v2.6h-2.6zM1029.2 223.2h2.6v2.6h-2.6zM954.2 359.2h2.6v2.6h-2.6zM976.2 359.2h2.6v2.6h-2.6zM1044.2 244.2h2.6v2.6h-2.6zM963.2 361.2h2.6v2.6h-2.6zM1054.2 227.2h2.6v2.6h-2.6zM954.2 324.2h2.6v2.6h-2.6zM1018.2 322.2h2.6v2.6h-2.6zM971.2 305.2h2.6v2.6h-2.6zM1026.2 296.2h2.6v2.6h-2.6zM988.2 283.2h2.6v2.6h-2.6zM1030.2 281.2h2.6v2.6h-2.6zM999.2 355.2h2.6v2.6h-2.6zM1039.2 212.2h2.6v2.6h-2.6zM1037.2 214.2h2.6v2.6h-2.6zM953.2 333.2h2.6v2.6h-2.6zM1045.2 208.2h2.6v2.6h-2.6zM1001.2 260.2h2.6v2.6h-2.6z"/>
<path fill="#2a3080" d="M919.5 331.5h3v3h-3zM931.5 337.5h3v3h-3zM939.5 353.5h3v3h-3zM943.5 345.5h3v3h-3zM944.5 347.5h3v3h-3zM964.5 310.5h3v3h-3zM1079.5 165.5h3v3h-3zM1075.5 174.5h3v3h-3zM1087.5 180.5h3v3h-3zM1106.5 223.5h3v3h-3zM1121.5 223.5h3v3h-3zM1055.5 235.5h3v3h-3zM1052.5 248.5h3v3h-3zM1042.5 248.5h3v3h-3zM1060.5 255.5h3v3h-3zM1050.5 262.5h3v3h-3zM1055.5 263.5h3v3h-3zM1085.5 243.5h3v3h-3zM1095.5 260.5h3v3h-3zM1095.5 279.5h3v3h-3zM1039.5 267.5h3v3h-3zM1044.5 266.5h3v3h-3zM1040.5 283.5h3v3h-3zM1048.5 280.5h3v3h-3zM1047.5 284.5h3v3h-3zM1051.5 300.5h3v3h-3zM1031.5 296.5h3v3h-3zM1030.5 302.5h3v3h-3zM1027.5 316.5h3v3h-3zM1020.5 323.5h3v3h-3zM1013.5 327.5h3v3h-3zM1019.5 332.5h3v3h-3zM1020.5 338.5h3v3h-3zM1031.5 329.5h3v3h-3zM1027.5 342.5h3v3h-3zM1049.5 344.5h3v3h-3zM1066.5 344.5h3v3h-3zM1054.5 326.5h3v3h-3zM1059.5 330.5h3v3h-3zM1071.5 315.5h3v3h-3zM1080.5 311.5h3v3h-3z"/>
</g>
<rect x="913.2" y="159.3" width="219.3" height="210.2" fill="none" stroke="#4d4d4d" stroke-width="2"/>
<rect x="913.2" y="159.3" width="80.6" height="35" fill="#fff" stroke="#4d4d4d" stroke-width="2"/>
<text x="926.2" y="182" font-size="15" fill="#222" textLength="59" lengthAdjust="spacingAndGlyphs">R = 0.92</text>
<line x1="920.9" y1="369.5" x2="920.9" y2="379.5" stroke="#666" stroke-width="2"/>
<text x="920.9" y="400.7" font-size="15.5" fill="#222" text-anchor="middle">0</text>
<line x1="962.4" y1="369.5" x2="962.4" y2="379.5" stroke="#666" stroke-width="2"/>
<text x="961.8" y="400.7" font-size="15.5" fill="#222" text-anchor="middle">1</text>
<line x1="1004.2" y1="369.5" x2="1004.2" y2="379.5" stroke="#666" stroke-width="2"/>
<text x="1001.2" y="400.7" font-size="15.5" fill="#222" text-anchor="middle">2</text>
<line x1="1045.7" y1="369.5" x2="1045.7" y2="379.5" stroke="#666" stroke-width="2"/>
<text x="1045.7" y="400.7" font-size="15.5" fill="#222" text-anchor="middle">3</text>
<line x1="1087.2" y1="369.5" x2="1087.2" y2="379.5" stroke="#666" stroke-width="2"/>
<text x="1085.2" y="400.7" font-size="15.5" fill="#222" text-anchor="middle">4</text>
<line x1="1128.9" y1="369.5" x2="1128.9" y2="379.5" stroke="#666" stroke-width="2"/>
<text x="1127.6" y="400.7" font-size="15.5" fill="#222" text-anchor="middle">5</text>
<line x1="903.7" y1="187.8" x2="913.2" y2="187.8" stroke="#666" stroke-width="2"/>
<text x="899.3" y="193.4" font-size="15.5" fill="#222" text-anchor="end">3.5</text>
<line x1="903.7" y1="231.5" x2="913.2" y2="231.5" stroke="#666" stroke-width="2"/>
<text x="899.3" y="237.1" font-size="15.5" fill="#222" text-anchor="end">3.0</text>
<line x1="903.7" y1="275.1" x2="913.2" y2="275.1" stroke="#666" stroke-width="2"/>
<text x="899.3" y="280.7" font-size="15.5" fill="#222" text-anchor="end">2.5</text>
<line x1="903.7" y1="318.8" x2="913.2" y2="318.8" stroke="#666" stroke-width="2"/>
<text x="899.3" y="324.4" font-size="15.5" fill="#222" text-anchor="end">2.0</text>
<line x1="903.7" y1="362.5" x2="913.2" y2="362.5" stroke="#666" stroke-width="2"/>
<text x="899.3" y="368.1" font-size="15.5" fill="#222" text-anchor="end">1.5</text>
<text x="1020.8" y="128.8" font-size="19.3" font-weight="bold" fill="#000" text-anchor="middle">E11.5</text>
<text x="917.3" y="419.6" font-size="16" fill="#222" textLength="213" lengthAdjust="spacingAndGlyphs">snATAC-seq rep1 (log<tspan font-size="9.9" dy="4">10</tspan><tspan dy="-4"> reads)</tspan></text>
<text transform="translate(867.2,377.5) rotate(-90)" x="0" y="0" font-size="16" fill="#222" textLength="230.5" lengthAdjust="spacingAndGlyphs">Bulk ATAC-seq rep1 (log<tspan font-size="9.9" dy="4">10</tspan><tspan dy="-4"> reads)</tspan></text>
<g filter="url(#soft)">
<path fill="#151f84" d="M130 735.5l-3-1.8-2 .8-3-.2-.6-1.3-5-4-.3-3-2-1-.4-4 2.2-2-.1-2-1.7-2 .2-1 3.7-2.5 .5-1.5-.5-1.9-2 1.2-.8-.3 .3-1 2.5-.2 1-1.6 .6-2.2-1.3-1 .2-1 2.3-2-.3-2 1.5 .6 .9-.6-1-4 3.1-1.3 1.6-1.7 1.4-4.8 1 .7 3-.4 .8-3.5 5.2-4.4 3 1.4 1-1.1 4-.9-1.6-2 .2-1 4.4 1.6 1-2.7 4-.2 6-5.3 1-.3 2 1.8 1-.9-1.6-4 .6-.8 1 1.1 2-.3 2 1.3 2-2.8 2 .5 4.2-3 1.1-3 1.7-1.2 5 .9 .7-1.7-2-2 .1-1 5.2 0 .6-3 1.4-1.9 1-.7 2 .4 2-2.7 2.3-1.1 .9-1-.1-2 .9-.9 1.4 .9 .7 3 .9 .6 1-.6 0-3.1 2-1.6 2 .3 4-2 .9-3.6 1.1-1 2 .6 3-2.3 2.4-.3 .6-1-.7-1 1.5-3 4.2-.8 0-2.7 2-1 3.2 .5 1.6-3 1.2 .1 1.1-1.1 .2-1-1.6-2 1.3-2.1 1-.7 1.9 .8-1.6 3 2.7 .4 .5-1.4-1.4-2 3.7-2-1.1-1 .5-1 2.8-.6 1.6-3.4 1.8 0 .6 2.6 2-.3 2-1.3 0-2.1 3 .3 1.1-1.2-2.1-2.3 1-.4 2 1 2-.4 4 1.1 3-2.3 3-.4 5-3.1 2.4-.2 .7-1-1-1 1.9-2 2 .3 2.6 2.7-1.8 5 .3 3 1.7 2-.5 1-4.3 4.6-6 .5-4.1 7.9 2.5 3 2.6 .7 .8 1.3 .1 3-1.9 .5-2.3 5.5 3.2 3-.1 1-1.8 .8-2-.8 1.1 4-2.1 1.9-5-.5-1.3 .6 1.3 3.5 2 .5 .2 3-2.8 1-4.3 4 .8 4-4.1 3 .2 4.8-2.6 .2 .1 2-1.5 1.4-1-2.1-1.2-.3-.9 1 .1 3.7-1 .6-3-.2-.3 .9 1.3 1 .7 3-2.6 3 .8 2-.9 .7-2.4-.7-.5 3-3.1 4.7-2-2.2-.5 .5 .5 2.5 1.4 1.5-1.4 1.4-1-1-1 1.5-2 .2-2 1.9 1.9 2-.4 2-3.5 1.2-4-1.7-3.5 2.5 .5 1.3 3-1.3 1.2 2-.2 1-3-.3-3.5 2.3-.1 1 2 3-.2 1-3.7 1-1.5 2-2 .4-2.4-1.4-.8 1 .1 4 1.2 1-2.1 .9-5-.5-.5 .6 .5 2.4-1 .4-3-1.6-2 1.1-3-.8-1.3 3.5-3.7 2.4-3-.4-2-1.4-2 2.1-3-2-3 .7-1.1-1.4 1.7-2-.5-1-2.1 1-1-.4-1-2.5-9 5.5-2 2.1-3-.8-2 .7-2 2.4-2-.8-3.6 2.8-5.4-.9-2-1.1-5 .9-2-.5-1.6 .6zM273 595.6l-1-.6 1-.4zM262 601.1l0-2.3 .6 1.2zM273 619.4l-3.1-.4 .9-2 2.2-1.4 .8 2.4zM230 619l0-1.5 .8 .5zM206 638.3l-.7-1.3 1.7-1.9 1 1.5zM250.2 666l-.5 0 .3 .5zM139.3 682l-1.3-.1 0 .8zM238 686l-1-.8 0 1zM220 711.2l-.6-1.2 .5-1 2.1-1.5 .6 1.5zM197 727.8l-1.2-.8 1.2-.5 .8 .5z"/>
<path fill="#172492" d="M130 732.1l-6.2-1.1-7.2-6-.6-2 4.6-17 5.9-12 4.4-5 4.1-1.7 17-11 3-.8 4-2.8 1-1.7 2 1 4-1.6 6-3.7 3-2.8 5-2 6.5-3.9 .9-1-.3-2 2.9 .1 2-1 4.9-5.1 2.1-.6 0-1.4-1.6-1 .6-.7 4 .9 1-.5 2-3.1 2-.2 4.7-3.4 1.3-2.9 2 .3 7.6-5.4 1.4-2.1 4.2-2.9 .4-2 3.4-.3 5-4.9 3-.9 7-5 4-4.4 4-1 21-9.5 2 .3 .5 1.7-2.9 4-1.6 3.9-3 1.6-3.3 4.5 .1 2-.8 .9-1.4 .1-1.8 3 .2 2.6 2-1.1 1.8 1.5-1.8 1.6-2 .1-3.4 5.3 .9 3-7.2 6-3.2 7-2.6 1 .3 2-2.8 1.6-3.1 4.4-1.5 3 .6 .9 2-2 1.1 .1-1.1 4-1 .5-2-1.5-2.9 2-.5 1 3.4 4-.6 1-.4 .4-2-2.7-2 1.8-2 0-.7 1.5-2.3 1.7-.8 1.3 0 3-3.5 1 .9 5-.6 1.4-2.7-.4-.8-3-1.5-1-2 2.8-2-.6-1 .6 0 1.4 2-1 1 .4 .9 2.4-.9 3.8-1 .9-2-.7 1-2-1-1.1-4.2 3.1-.2 1 2.4 4-2 .6-2-1.6-2 .3-2-1.7-1 .4-2 2.8-3.2 2.2-1 2-7.2 6-1.2 3 .6 .5 2-1.4 4 .3 1.9 3.6-.3 2 1.4 2.1-1 .4-4.8-2.5-.2-1.2-2-.1-3.6 5.3-2 1-2.4 2.6-4 1.2-2 2.4-1.8-1.2-.1-2-2.1-.7-4 1.4-2 2-6 2.7-11.7 3.6-2.3 1.8-8-.2zM259 603.4l0-.7 .7 .3zM267 636.3l-2.4-.3 0-2 2.4 .5zM256 641l0-1.4 3-.8 3.1 1.2zM245 668.1l-1.3-.1 .3-2.5 1.4 1.5zM241 671.6l-1.2-.6 .2-1.5 1-.5 .6 2zM234 673.4l-1.2-.4 1.2-.5 .5 .5zM222.1 677l-.6 0 .5 .9zM238 683.2l-1.8-.2 1.8-1.9 1.4-.1zM224 689.4l-.1-1.4 1.1-1.8 1 .5-.2 1.3zM210.8 689l.5-1-1.3-.5-1.1 1.5 1.1 .7zM216 695.2l-1-2.2 3-1.5 .7 .5-.4 1zM216 712.2l-1.6-.2-.4-1.4 1.6 .4zM204 717.8l-1.4-.8 1.4-1.5 .8 .5zM194 720.1l-1.3-.1 .3-2 1-1 2 0 .2 1zM188 723.3l-1.1-.3-.9-2 1-2 1-.2 2.7 1.2 0 1z"/>
<path fill="#1d37ab" d="M133 730.1l-6 .6-2-.5-6-4.3-1.8-2.9 6.2-19 6-11 18.6-11.8 19.6-9.2 21.4-13 63-47.1 10.4-4.9 2.6-.6 2 .5 .1 2.1-1 2-15.7 23-20.9 27-17 20-22.4 22-8.1 9.3-19 11.1-17 5.4z"/>
<path fill="#2653c7" d="M133 729l-7 .6-6-4.1-1.7-2.5 6-18 6.2-11 18.5-11.4 19-8.6 21-12.8 53-39.9 10-6.3 3-.7 1.3 .7 .9 2-1.3 4-7.5 12-8.9 12-28.8 35-29.1 29-19.6 13.1-17 5.6z"/>
<path fill="#377bdd" d="M133 728.1l-7 .4-4.8-3.5-1.7-3 5.9-17 5.9-10 18.7-11.3 19.6-8.7 19.4-11.8 48-36.2 7-4 3 .5 1.6 2.5-.5 3-4.7 8-6 8-28.1 34-29.3 29-18 12.6-17 6z"/>
<path fill="#56a7eb" d="M133 727.2l-5 .7-2-.6-3.6-3.3-1.4-3 5.5-16 5.5-9 18-10.7 13-5.3 9-4.6 20-12.4 23-18.2 15-10.9 6-3.2 2-.1 1 .8 2 3.3-.9 3.3-14.1 19-18 21.2-29 28.7-18 12.7-16 6z"/>
<path fill="#7ecddb" d="M134 726.1l-5 .7-2-.6-3.7-4.2-.8-2 4.6-14 5.9-9.4 18-10.4 21-9.1 21-13 29-22.3 5-2.7 2-.1 1 .8 2.2 3.2-.1 2-8 12-17.1 20.2-29 28.6-17 12.5-16 6.3z"/>
<path fill="#a1dc91" d="M134 725.2l-5.5-.2-3.5-4.1-1-2.9 4.1-12 5.9-8.9 18-10 19.5-8.1 21.5-13.1 21-15.9 4-2 2.1 1 2.3 3 .4 2-3.7 6-13.1 16.1-29.1 28.9-16.9 12.5-15 6.1z"/>
<path fill="#bbdb3b" d="M135 724l-5-.3-3.8-4.7-.6-2 3.4-11 5.5-8 18.5-10.1 17-6.6 28.4-16.3 2.6-.8 1.3 .8 3.7 5-2.1 5-27.9 29.1-16 12.2-15 6.4z"/>
<path fill="#d7e030" d="M144 722.1l-11 .7-2-1.3-3.4-4.5-.1-3 2-7 5.4-8 19.1-10.4 15-5.2 13-6.4 3.8 0 4.8 6 .2 2-2.6 4-11.8 13-16.2 13z"/>
<path fill="#ebe02a" d="M144 721.2l-9 .2-1.9-1.4-3.7-5-.4-2 1-5 5-7.7 3-2.4 17-8.5 13-3.7 3.8 .3 6.4 8 .2 2-2.1 4-4.9 5-11.4 8.9z"/>
<path fill="#f7d228" d="M144 720.3l-4 .6-3-.7-5.4-6.2-1-2 0-3 2.4-4.7 4.9-5.3 16.1-8.1 8-2.2 4 .5 7.1 8.8 .4 2-1.1 2-12.8 11z"/>
<path fill="#f4a22a" d="M144 719.3l-4 .4-2.6-1.7-5.4-7.3 0-2.7 .9-2 4.1-5.1 6-3.5 13-5.9 4-.6 2 .6 7 8.8 .1 2.7-10.1 9.2z"/>
<path fill="#ed6a29" d="M144 718.1l-3 .2-2-1.8-5-6.5-.5-2 .8-2 3.7-4.6 3.9-2.4 12.1-5.1 3.5 .1 7.2 9-.1 2-5.9 6z"/>
<path fill="#e73e29" d="M146 715.2l-2 .5-1.7-.7-5.3-6.7-.2-2.3 1.7-3 2.4-2 4.1-2 5.8-1 6.9 8 .7 2-2.7 3z"/>
<path fill="#1d2a8c" d="M155.2 665.2h2.6v2.6h-2.6zM245.2 601.2h2.6v2.6h-2.6zM158.2 730.2h2.6v2.6h-2.6zM217.2 707.2h2.6v2.6h-2.6zM274.2 614.2h2.6v2.6h-2.6zM275.2 620.2h2.6v2.6h-2.6zM269.2 595.2h2.6v2.6h-2.6zM122.2 688.2h2.6v2.6h-2.6zM129.2 683.2h2.6v2.6h-2.6zM283.2 594.2h2.6v2.6h-2.6zM261.2 658.2h2.6v2.6h-2.6zM186.2 651.2h2.6v2.6h-2.6zM162.2 728.2h2.6v2.6h-2.6zM215.2 625.2h2.6v2.6h-2.6zM254.2 668.2h2.6v2.6h-2.6zM174.2 727.2h2.6v2.6h-2.6zM226.2 707.2h2.6v2.6h-2.6zM283.2 600.2h2.6v2.6h-2.6zM146.2 674.2h2.6v2.6h-2.6zM217.2 716.2h2.6v2.6h-2.6zM227.2 706.2h2.6v2.6h-2.6zM113.2 707.2h2.6v2.6h-2.6zM278.2 625.2h2.6v2.6h-2.6zM208.2 632.2h2.6v2.6h-2.6zM274.2 611.2h2.6v2.6h-2.6zM234.2 688.2h2.6v2.6h-2.6zM286.2 595.2h2.6v2.6h-2.6zM171.2 725.2h2.6v2.6h-2.6zM264.2 656.2h2.6v2.6h-2.6zM266.2 645.2h2.6v2.6h-2.6zM181.2 653.2h2.6v2.6h-2.6zM172.2 724.2h2.6v2.6h-2.6zM118.2 696.2h2.6v2.6h-2.6zM264.2 657.2h2.6v2.6h-2.6zM284.2 597.2h2.6v2.6h-2.6zM276.2 613.2h2.6v2.6h-2.6zM267.2 645.2h2.6v2.6h-2.6zM202.2 636.2h2.6v2.6h-2.6zM150.2 734.2h2.6v2.6h-2.6zM158.2 729.2h2.6v2.6h-2.6zM135.2 733.2h2.6v2.6h-2.6zM175.2 729.2h2.6v2.6h-2.6zM261.2 595.2h2.6v2.6h-2.6zM220.2 715.2h2.6v2.6h-2.6zM244.2 679.2h2.6v2.6h-2.6zM256.2 666.2h2.6v2.6h-2.6zM197.2 727.2h2.6v2.6h-2.6zM188.2 732.2h2.6v2.6h-2.6zM148.2 675.2h2.6v2.6h-2.6zM201.2 637.2h2.6v2.6h-2.6zM117.2 710.2h2.6v2.6h-2.6zM270.2 647.2h2.6v2.6h-2.6zM269.2 620.2h2.6v2.6h-2.6zM261.2 660.2h2.6v2.6h-2.6zM257.2 598.2h2.6v2.6h-2.6zM243.2 680.2h2.6v2.6h-2.6zM228.2 702.2h2.6v2.6h-2.6zM272.2 619.2h2.6v2.6h-2.6zM173.2 661.2h2.6v2.6h-2.6zM273.2 636.2h2.6v2.6h-2.6zM267.2 647.2h2.6v2.6h-2.6zM273.2 629.2h2.6v2.6h-2.6zM254.2 670.2h2.6v2.6h-2.6zM178.2 728.2h2.6v2.6h-2.6zM165.2 727.2h2.6v2.6h-2.6zM168.2 657.2h2.6v2.6h-2.6zM259.2 665.2h2.6v2.6h-2.6zM135.2 735.2h2.6v2.6h-2.6zM209.2 722.2h2.6v2.6h-2.6zM282.2 592.2h2.6v2.6h-2.6zM121.2 695.2h2.6v2.6h-2.6zM112.2 722.2h2.6v2.6h-2.6zM273.2 617.2h2.6v2.6h-2.6zM230.2 618.2h2.6v2.6h-2.6zM157.2 730.2h2.6v2.6h-2.6zM189.2 730.2h2.6v2.6h-2.6zM275.2 621.2h2.6v2.6h-2.6zM165.2 731.2h2.6v2.6h-2.6zM276.2 628.2h2.6v2.6h-2.6zM112.2 717.2h2.6v2.6h-2.6zM195.2 725.2h2.6v2.6h-2.6zM244.2 683.2h2.6v2.6h-2.6zM145.2 735.2h2.6v2.6h-2.6zM117.2 695.2h2.6v2.6h-2.6zM159.2 663.2h2.6v2.6h-2.6zM262.2 654.2h2.6v2.6h-2.6zM162.2 727.2h2.6v2.6h-2.6zM239.2 607.2h2.6v2.6h-2.6zM215.2 715.2h2.6v2.6h-2.6zM225.2 621.2h2.6v2.6h-2.6zM198.2 725.2h2.6v2.6h-2.6zM156.2 731.2h2.6v2.6h-2.6zM212.2 721.2h2.6v2.6h-2.6zM284.2 603.2h2.6v2.6h-2.6zM213.2 716.2h2.6v2.6h-2.6zM256.2 662.2h2.6v2.6h-2.6zM179.2 652.2h2.6v2.6h-2.6zM112.2 724.2h2.6v2.6h-2.6zM182.2 731.2h2.6v2.6h-2.6zM238.2 615.2h2.6v2.6h-2.6zM194.2 729.2h2.6v2.6h-2.6zM225.2 708.2h2.6v2.6h-2.6zM269.2 614.2h2.6v2.6h-2.6zM274.2 592.2h2.6v2.6h-2.6zM126.2 688.2h2.6v2.6h-2.6zM219.2 621.2h2.6v2.6h-2.6zM271.2 596.2h2.6v2.6h-2.6zM188.2 730.2h2.6v2.6h-2.6zM147.2 670.2h2.6v2.6h-2.6zM150.2 731.2h2.6v2.6h-2.6z"/>
<path fill="#2a3080" d="M306.5 543.5h3v3h-3zM316.5 539.5h3v3h-3zM292.5 568.5h3v3h-3zM286.5 592.5h3v3h-3zM283.5 605.5h3v3h-3zM264.5 622.5h3v3h-3zM261.5 634.5h3v3h-3zM251.5 643.5h3v3h-3zM246.5 655.5h3v3h-3zM242.5 602.5h3v3h-3zM208.5 713.5h3v3h-3zM212.5 710.5h3v3h-3zM182.5 728.5h3v3h-3z"/>
</g>
<rect x="106.4" y="532.7" width="220.2" height="210.3" fill="none" stroke="#4d4d4d" stroke-width="2"/>
<rect x="106.4" y="532.7" width="81.4" height="35" fill="#fff" stroke="#4d4d4d" stroke-width="2"/>
<text x="119.4" y="556" font-size="15" fill="#222" textLength="59" lengthAdjust="spacingAndGlyphs">R = 0.91</text>
<line x1="116.4" y1="743" x2="116.4" y2="753" stroke="#666" stroke-width="2"/>
<text x="120.5" y="773" font-size="15.5" fill="#222" text-anchor="middle">1.5</text>
<line x1="160.1" y1="743" x2="160.1" y2="753" stroke="#666" stroke-width="2"/>
<text x="164.2" y="773" font-size="15.5" fill="#222" text-anchor="middle">2.0</text>
<line x1="203.8" y1="743" x2="203.8" y2="753" stroke="#666" stroke-width="2"/>
<text x="203.8" y="773" font-size="15.5" fill="#222" text-anchor="middle">2.5</text>
<line x1="246.9" y1="743" x2="246.9" y2="753" stroke="#666" stroke-width="2"/>
<text x="248.3" y="773" font-size="15.5" fill="#222" text-anchor="middle">3.0</text>
<line x1="290.3" y1="743" x2="290.3" y2="753" stroke="#666" stroke-width="2"/>
<text x="288.4" y="773" font-size="15.5" fill="#222" text-anchor="middle">3.5</text>
<line x1="96.9" y1="568.8" x2="106.4" y2="568.8" stroke="#666" stroke-width="2"/>
<text x="91.6" y="574.4" font-size="15.5" fill="#222" text-anchor="end">3.5</text>
<line x1="96.9" y1="610.5" x2="106.4" y2="610.5" stroke="#666" stroke-width="2"/>
<text x="91.6" y="616.1" font-size="15.5" fill="#222" text-anchor="end">3.0</text>
<line x1="96.9" y1="652.3" x2="106.4" y2="652.3" stroke="#666" stroke-width="2"/>
<text x="91.6" y="657.9" font-size="15.5" fill="#222" text-anchor="end">2.5</text>
<line x1="96.9" y1="693.8" x2="106.4" y2="693.8" stroke="#666" stroke-width="2"/>
<text x="91.6" y="699.4" font-size="15.5" fill="#222" text-anchor="end">2.0</text>
<line x1="96.9" y1="735.6" x2="106.4" y2="735.6" stroke="#666" stroke-width="2"/>
<text x="91.6" y="741.2" font-size="15.5" fill="#222" text-anchor="end">1.5</text>
<text x="201.3" y="502.6" font-size="19.3" font-weight="bold" fill="#000" text-anchor="middle">E12.5</text>
<text x="98.6" y="793.5" font-size="16" fill="#222" textLength="229.1" lengthAdjust="spacingAndGlyphs">Bulk ATAC-seq rep1 (log<tspan font-size="9.9" dy="4">10</tspan><tspan dy="-4"> reads)</tspan></text>
<text transform="translate(55.2,751.8) rotate(-90)" x="0" y="0" font-size="16" fill="#222" textLength="230" lengthAdjust="spacingAndGlyphs">Bulk ATAC-seq rep2 (log<tspan font-size="9.9" dy="4">10</tspan><tspan dy="-4"> reads)</tspan></text>
<g filter="url(#soft)">
<path fill="#151f84" d="M574 724.3l-1.2-.3-1.8-4.8-7 4.6-6-2.3-.3 2.5-1.7 .8-4-2.9-5.3-.9-.2-4 2.5-1.9 .1-1.1-3-4 2.9-4 .2-4 1.6-4-1.8-.5-.3-1.5 2.3-1.6 2 3.5 1-.8 .3-3.1-2.3-.3-.9-1.7 4-4 .9-3.7 1-.7 2.6 .4-1.5-4 .6-1 1.3-.5 2 1.9 .7-3.4 2.3-3.9 2 1.1 1.4-.2 .6-.9 2-.1 .7-2 2.3 0 3-4.6 2-.2 1-.9 2 .5 .5-1.8 2.5-.8 1.3-2.2 3.2 0 .5-3.1 2 .9 3-1 1.2-1.8-1.2-1.2 6.6-1.8 4.2-3 1.2-2.2 1.1 .2 1.3-2 3.6-1.4 7.9-9.6 1.4 0 .7 1 2.8-2 .8-1-.4-3 .6-1 3.8 0 5.4-5.8 1.4-2.2 .2-2 3.4-1.1 2.4-3.9 2.6-1 .4-2 4.3-2 .3-1.4 1 .9 4-1.3 4 .2 1.4 1.6 0 2-1.4 1.2-1.5-.2 1.1-2-.6-1-4.1 5 2.5 2-1.4 1.2-2-.2-2.3 4-2.7 1.1-.2 1.9-2.3 2 .7 3-4.8 4-3.3 5-.1 2-3.4 3-2.3 3-.4 2-1.4 1-1.2 6-4.7 3 1.8 2-.4 .7-4.3 2.3-2.7 5.2-4 3.1-4.4 5.7-3.2 7 1.4 2-1.8 .9-2-1.6-2.1 2.7-1.9 5.3-1.9 1.7-.1 2.2-2 .5-3 2.2-.1 1.1 1.5 2-4.4 3.1-1.3 2.9 1.3 2.7 1.3 .3 .3 1-1.6 0-4-2.7-1.3 .7-.4 1 2.5 2-.8 2.1 2-.7 1 1.6-2.9 2 .9 3-1 .6-5-1.2-5 1.2-3-.2zM596 708.6l-2.7-2.6 .7-.9 2.4 1.9zM567 727l-1.7-1 .5-1 2.2-.5 2.5 1.5z"/>
<path fill="#172492" d="M568 716.1l-1 .7-6-1.5-5 1.4-2-1.1-3 .5-.1-1.1 5.7-10-.2-3 2.7-3-.1-1.2-2-1.8 6-5.5 0-2.5 2.6-6 3.3-5 2.1-.7 5.4-5.3 .6-1.5 5-2.1 10.5-7.4 3.5-1.7 18.3-13.3 12.7-10.9 2.2-3.1 1.8-.9 18-18.3 7-2.1-5 7.8-.7 2.5-2.3 1.8-4.6 7.2-.4 1.8-2 1.8-11.7 18.4-8.9 12-1.4 4.7-4 3.1-17 24.7-3 2.1-2 3.8-6.5 5.6-.4 2-3.1 1.3-1.9 2.7-2.1 1.3-4-.1zM552 706.4l-1.2-1.4 1.2-1 .7 1zM549 719.3l-.5-.3 .5-1 .6 1zM560 720.2l-1.2-1.2 1.2-.8z"/>
<path fill="#1d37ab" d="M577 707.2l-3-2-7.8-8.2 1.5-12 3.6-6 4.3-5 5.4-4.6 34.7-24.4 11.3-9.7 19-18.3 3.3-2-.2 2-2 4-15.7 25-29.1 41-14.3 14.8z"/>
<path fill="#2653c7" d="M583 701.1l-2 0-2-1.2-7.1-6.9-1.9-3-.2-3 .9-3 5-8 6.3-6.1 34-24.3 23-20.5 5-3.4-.8 3.3-12 20-26.9 38-4.3 5.3-8 7.3-5 3.8z"/>
<path fill="#377bdd" d="M584 698.1l-3.2-1.1-7.3-7-1.1-2 .9-5 4.1-7 5.6-5.7 33-23.9 19-16.5 4-2.7 .6 .8-1.6 4-7.5 13-25.5 35.9-9 9.7-8 5.8z"/>
<path fill="#56a7eb" d="M586 695.2l-3-.6-6.9-6.6-1.2-2 1.5-6 3.2-5 4.4-4.5 32.2-23.5 16.8-14 3-1-1 3.4-6 10.6-24.2 34-7.8 8.6-6 4.2z"/>
<path fill="#7ecddb" d="M589 692.3l-2 .4-2-.6-7.3-7.1-.2-4 3.3-6 5-5 41.2-30.9 5-2.9-.1 2.8-3.7 7-23.2 32.8-7 7.9z"/>
<path fill="#a1dc91" d="M591 690.1l-4 .4-7.7-7.5 .2-4 3.2-5 8.1-7 32.2-23.8 4-2.5 1.9 .3-.9 3.4-3.9 6.6-19.2 27-6.9 7.8z"/>
<path fill="#bbdb3b" d="M590 689l-2.9-1-6.1-6.1-.2-2.9 2.9-5 8.1-7 23.2-17 7-4.7 3-.9 .2 2.6-3.2 5.9-17.8 25.1-7.2 7.7z"/>
<path fill="#d7e030" d="M592 687.3l-3-.4-6.1-5.9-.4-3 2.1-4 8.1-7 22.3-16 5-2.7 2 .5-2 5.5-16 23.1-7 7.4z"/>
<path fill="#ebe02a" d="M595 685.2l-4 .5-6.3-5.7-.8-2 1.7-4 9.3-8 16.1-10.9 5-2.8 2 .4 .2 1.3-1.4 3-11 17-5.8 7z"/>
<path fill="#f7d228" d="M595 684.2l-3 .1-5-4.5-1.4-1.8 .3-3 6.1-6 8-5.8 9-5.2 3-.1 .8 1.1-.2 2-4.8 9-5.8 8z"/>
<path fill="#f4a22a" d="M595 683.1l-2-.1-5-4.6-1.1-1.4 .1-2 5.9-6 7.1-5 4-2 3.5 0 1.6 3-2.1 5-5 7.1z"/>
<path fill="#ed6a29" d="M596 681.2l-2.3-.2-4.3-4-.6-1 .4-2 7.8-7.1 4-2.2 3 .1 2.1 2.2-.8 4-4.2 6z"/>
<path fill="#e73e29" d="M599 677.2l-2 .7-1-.4-3-2.9-.5-1.6 2.5-3.4 4-2 2 .7 2.1 2.7-1.1 3.2z"/>
<path fill="#1d2a8c" d="M561.2 675.2h2.6v2.6h-2.6zM650.2 623.2h2.6v2.6h-2.6zM572.2 724.2h2.6v2.6h-2.6zM588.2 657.2h2.6v2.6h-2.6zM562.2 727.2h2.6v2.6h-2.6zM554.2 725.2h2.6v2.6h-2.6zM636.2 645.2h2.6v2.6h-2.6zM603.2 694.2h2.6v2.6h-2.6zM643.2 631.2h2.6v2.6h-2.6zM574.2 728.2h2.6v2.6h-2.6zM623.2 662.2h2.6v2.6h-2.6zM588.2 722.2h2.6v2.6h-2.6zM590.2 714.2h2.6v2.6h-2.6zM612.2 684.2h2.6v2.6h-2.6zM595.2 704.2h2.6v2.6h-2.6zM620.2 670.2h2.6v2.6h-2.6zM630.2 627.2h2.6v2.6h-2.6zM550.2 684.2h2.6v2.6h-2.6zM635.2 647.2h2.6v2.6h-2.6zM604.2 649.2h2.6v2.6h-2.6zM659.2 605.2h2.6v2.6h-2.6zM559.2 673.2h2.6v2.6h-2.6zM593.2 716.2h2.6v2.6h-2.6zM624.2 629.2h2.6v2.6h-2.6zM601.2 693.2h2.6v2.6h-2.6zM544.2 704.2h2.6v2.6h-2.6zM632.2 652.2h2.6v2.6h-2.6zM547.2 691.2h2.6v2.6h-2.6zM627.2 659.2h2.6v2.6h-2.6zM584.2 656.2h2.6v2.6h-2.6zM610.2 684.2h2.6v2.6h-2.6zM565.2 672.2h2.6v2.6h-2.6zM557.2 681.2h2.6v2.6h-2.6zM640.2 613.2h2.6v2.6h-2.6zM545.2 720.2h2.6v2.6h-2.6zM556.2 725.2h2.6v2.6h-2.6zM591.2 655.2h2.6v2.6h-2.6zM576.2 726.2h2.6v2.6h-2.6zM593.2 712.2h2.6v2.6h-2.6zM581.2 724.2h2.6v2.6h-2.6zM625.2 627.2h2.6v2.6h-2.6zM591.2 657.2h2.6v2.6h-2.6zM549.2 690.2h2.6v2.6h-2.6zM560.2 674.2h2.6v2.6h-2.6zM640.2 615.2h2.6v2.6h-2.6zM589.2 720.2h2.6v2.6h-2.6zM611.2 680.2h2.6v2.6h-2.6zM544.2 705.2h2.6v2.6h-2.6zM571.2 668.2h2.6v2.6h-2.6zM558.2 725.2h2.6v2.6h-2.6zM573.2 725.2h2.6v2.6h-2.6zM560.2 723.2h2.6v2.6h-2.6zM627.2 660.2h2.6v2.6h-2.6zM590.2 713.2h2.6v2.6h-2.6zM544.2 713.2h2.6v2.6h-2.6zM663.2 605.2h2.6v2.6h-2.6zM649.2 607.2h2.6v2.6h-2.6zM543.2 706.2h2.6v2.6h-2.6zM552.2 724.2h2.6v2.6h-2.6zM611.2 682.2h2.6v2.6h-2.6zM542.2 715.2h2.6v2.6h-2.6zM640.2 638.2h2.6v2.6h-2.6zM557.2 727.2h2.6v2.6h-2.6zM546.2 707.2h2.6v2.6h-2.6zM645.2 610.2h2.6v2.6h-2.6zM611.2 643.2h2.6v2.6h-2.6zM570.2 728.2h2.6v2.6h-2.6zM598.2 704.2h2.6v2.6h-2.6zM543.2 710.2h2.6v2.6h-2.6zM574.2 664.2h2.6v2.6h-2.6zM571.2 726.2h2.6v2.6h-2.6zM604.2 648.2h2.6v2.6h-2.6zM648.2 626.2h2.6v2.6h-2.6zM583.2 659.2h2.6v2.6h-2.6zM633.2 651.2h2.6v2.6h-2.6zM637.2 646.2h2.6v2.6h-2.6zM596.2 648.2h2.6v2.6h-2.6zM552.2 695.2h2.6v2.6h-2.6zM585.2 723.2h2.6v2.6h-2.6zM649.2 626.2h2.6v2.6h-2.6zM597.2 650.2h2.6v2.6h-2.6zM603.2 691.2h2.6v2.6h-2.6zM597.2 707.2h2.6v2.6h-2.6zM556.2 724.2h2.6v2.6h-2.6zM657.2 606.2h2.6v2.6h-2.6zM547.2 695.2h2.6v2.6h-2.6zM593.2 711.2h2.6v2.6h-2.6zM604.2 687.2h2.6v2.6h-2.6zM598.2 648.2h2.6v2.6h-2.6zM598.2 651.2h2.6v2.6h-2.6zM617.2 635.2h2.6v2.6h-2.6zM658.2 613.2h2.6v2.6h-2.6zM548.2 686.2h2.6v2.6h-2.6zM549.2 726.2h2.6v2.6h-2.6zM610.2 687.2h2.6v2.6h-2.6zM598.2 650.2h2.6v2.6h-2.6zM639.2 643.2h2.6v2.6h-2.6zM648.2 622.2h2.6v2.6h-2.6zM558.2 724.2h2.6v2.6h-2.6zM590.2 656.2h2.6v2.6h-2.6zM559.2 725.2h2.6v2.6h-2.6zM624.2 631.2h2.6v2.6h-2.6zM600.2 648.2h2.6v2.6h-2.6zM547.2 712.2h2.6v2.6h-2.6zM570.2 724.2h2.6v2.6h-2.6zM615.2 676.2h2.6v2.6h-2.6zM570.2 668.2h2.6v2.6h-2.6zM562.2 675.2h2.6v2.6h-2.6zM618.2 670.2h2.6v2.6h-2.6zM554.2 728.2h2.6v2.6h-2.6z"/>
<path fill="#2a3080" d="M515.5 702.5h3v3h-3zM535.5 697.5h3v3h-3zM544.5 694.5h3v3h-3zM561.5 726.5h3v3h-3zM581.5 726.5h3v3h-3zM583.5 726.5h3v3h-3zM557.5 734.5h3v3h-3zM568.5 734.5h3v3h-3zM577.5 734.5h3v3h-3zM582.5 734.5h3v3h-3zM650.5 601.5h3v3h-3zM668.5 585.5h3v3h-3zM670.5 583.5h3v3h-3zM679.5 581.5h3v3h-3zM686.5 574.5h3v3h-3zM690.5 568.5h3v3h-3zM695.5 564.5h3v3h-3zM690.5 555.5h3v3h-3zM705.5 554.5h3v3h-3zM719.5 539.5h3v3h-3zM547.5 711.5h3v3h-3zM549.5 705.5h3v3h-3z"/>
</g>
<rect x="509.3" y="532.7" width="219.5" height="210.3" fill="none" stroke="#4d4d4d" stroke-width="2"/>
<rect x="509.3" y="532.7" width="81" height="35" fill="#fff" stroke="#4d4d4d" stroke-width="2"/>
<text x="522.3" y="556" font-size="15" fill="#222" textLength="59" lengthAdjust="spacingAndGlyphs">R = 0.94</text>
<line x1="518.4" y1="743" x2="518.4" y2="753" stroke="#666" stroke-width="2"/>
<text x="517.8" y="773" font-size="15.5" fill="#222" text-anchor="middle">0</text>
<line x1="558.8" y1="743" x2="558.8" y2="753" stroke="#666" stroke-width="2"/>
<text x="558" y="773" font-size="15.5" fill="#222" text-anchor="middle">1</text>
<line x1="600.5" y1="743" x2="600.5" y2="753" stroke="#666" stroke-width="2"/>
<text x="597.8" y="773" font-size="15.5" fill="#222" text-anchor="middle">2</text>
<line x1="642" y1="743" x2="642" y2="753" stroke="#666" stroke-width="2"/>
<text x="641.5" y="773" font-size="15.5" fill="#222" text-anchor="middle">3</text>
<line x1="683" y1="743" x2="683" y2="753" stroke="#666" stroke-width="2"/>
<text x="681.6" y="773" font-size="15.5" fill="#222" text-anchor="middle">4</text>
<line x1="723.9" y1="743" x2="723.9" y2="753" stroke="#666" stroke-width="2"/>
<text x="723.9" y="773" font-size="15.5" fill="#222" text-anchor="middle">5</text>
<line x1="499.8" y1="573.7" x2="509.3" y2="573.7" stroke="#666" stroke-width="2"/>
<text x="494.6" y="579.3" font-size="15.5" fill="#222" text-anchor="end">4</text>
<line x1="499.8" y1="617.9" x2="509.3" y2="617.9" stroke="#666" stroke-width="2"/>
<text x="494.6" y="623.5" font-size="15.5" fill="#222" text-anchor="end">3</text>
<line x1="499.8" y1="661.6" x2="509.3" y2="661.6" stroke="#666" stroke-width="2"/>
<text x="494.6" y="667.2" font-size="15.5" fill="#222" text-anchor="end">2</text>
<line x1="499.8" y1="705.3" x2="509.3" y2="705.3" stroke="#666" stroke-width="2"/>
<text x="494.6" y="710.9" font-size="15.5" fill="#222" text-anchor="end">1</text>
<text x="617.5" y="502.6" font-size="19.3" font-weight="bold" fill="#000" text-anchor="middle">E12.5</text>
<text x="513.7" y="793.5" font-size="16" fill="#222" textLength="212.9" lengthAdjust="spacingAndGlyphs">snATAC-seq rep1 (log<tspan font-size="9.9" dy="4">10</tspan><tspan dy="-4"> reads)</tspan></text>
<text transform="translate(472.1,742.9) rotate(-90)" x="0" y="0" font-size="16" fill="#222" textLength="211.5" lengthAdjust="spacingAndGlyphs">snATAC-seq rep2 (log<tspan font-size="9.9" dy="4">10</tspan><tspan dy="-4"> reads)</tspan></text>
<g filter="url(#soft)">
<path fill="#151f84" d="M981 737.1l-1.5-.1 .2-2-3.7-.4-3-2.7-1.3 1.1 1.3 2-2 .9-1.7-.9-1.3-2.7-2 .5-3-.7-1.1 .9 .1 1.2-1 .4-3.4-3.6-2.6 .7-3.5-3.7-1.6-4 1.7-7-2.7-1 1.1-1.4 5-.8 1.1-.8 .9-5.2 2 1.1 4-1.2 0-1.1-2-.6 2.8-4 0-2 1.4-3 5.4-2-.9-2 2.3-2.8 2.6-1.2 .4-3 2.9-1 3-4-1.3-2 .2-1 1.2-1 2 .5 1.8-1.5-1.6-2 .8-2.6 2.5 .6 .7-2-2.9-2 4.7-.9 1.4-5.1 2-2-.3-2 2.9-4 4-1.2 .6-1.8-.6-1.2 2-.7 2.4-3.1 0-3-1.9-1-.2-1 1.7-.8 2 1.6 1-.6 1.2-2.2-.2-1.5 1.1-.5 .1-2 3-1-.2-2 1.2-1-2-1 1-2 3.8-.1 1.5-.9 0-2 1.9-3-1.4-3 2-.8 1-1.5 2 1.2 1.3-2.9-1.8-2 .6-1 2.9-1.7 3.8-4.3 1.2-2.6 2.7-1.4 .2-2 1.8-2 2.3-.7 0-3.9 2.4 .6 2-4-.9-2 5.5-2.4 1-2.4 2.9-1.2 .3-2-1-2 .8-1 5-1 1-3.8 2 .1 1-3.3 2-2 2.3 2-.9 6 .7 2-1.6 6-2.5 1-1.3 4-2.2 2 .7 2-.4 1-2 2 1 2-1.2 6 1.4 .6 .4 1.4-.5 1-6.2 3 .3 1.4 2.4 1.6 0 1-3.6 3-.8 2.2-3.7 3.8-.2 1 1.6 2-2.2 3 .6 4-1.1 1-2-1.3-.4 1.3 1.4 1.5 0 2.5-2-1.1-2.4 3.1 0 2 1.2 2-1 3 1 1-1.8 1.6-1.2 3.4-2.2 2-.1 4-3 1 .5 2 1.4 1-.5 1-1.9 1.4-1-1.8-1.1 .4 .1 4-3.1 5 1.2 1-.2 2-4 3 .1 1 2-1.5 1.2 1.5-1.8 2-.4 2.5-2.6 2.5 1.9 2-.8 2-.5 .5-2-1.5-1.3 1 .8 4-1.5 .7-.2 1.3 2.2 .6 .5 1.4-2.5 2.4-3 .7-.1 3.9-2.2 1-2.8 7 1.1 .9 3.1 .1-.3 1-4.2 2 .4 1.6 1-.3 .9 1.7-.9 .8-1-1.5-1.3 .7 .8 3-2.5 1.5-1 1.6-1.8-.1 .1-2-1.1 0-.3 2-2.7 2-2.2 3.4-4.4 1.6-.6 2.2-1 .8-2.7-1-.1-1 1.1-1-2.3-.6-2 1.9-1.3-.3zM1048 578l-1 .1 0-.6zM1060 590.3l-1.5-1.3 0-1 1.5-2.5 1.2 1.5zM1052.5 604l-.5-1.2-1 1.2zM1000 646.4l-1.2-.4 1.2-1.1 .9 1.1zM954.3 717l-.3-2.5-1.6 2.5zM978 737.1l-5-1.1 4-.5z"/>
<path fill="#172492" d="M1058 576.9l-.7-.9 .7-1 .7 1zM981 732.2l-4-1.8-12-.8-3 .9-6.1-1.5-1.3-1-1.6-5.6 3.8-7.4 4.2-2.8 .4-2.2 3-1 4.5-8 .1-2 2-.9 3-6.1 11-14 18-29.1 7.1-9.9 .5-1-.8-2 2.2-.3 1-.9 6-8.8 1-3.1 9.9-12.9 .5-2 2.6-2.2 12.5-15.8 .3-2 2.2-3.2 2-.8 5.1-5 1.9-.4 .3 1.4-2.2 5-1.3 7-8.4 20-1.3 6-2.4 4-.2 3-1.8 2-9.4 27-4.8 9-3.5 11-2.5 4-1.3 6-2.7 5-1.9 6 0 3-1.6 1-8 19.4-6 6.6-5 3.9-4 .2-3 1.6-2-.5z"/>
<path fill="#1d37ab" d="M982 728.1l-5 .2-18-1.7-2.2-1.6-.3-4 9.7-11 9.2-16 8.6-11.7 43.6-66.3 15.4-19.6 4-4.1 2-.9 .6 1.6-.4 3-3.6 11-16.8 45-25 62-2.2 4-7.6 7.7z"/>
<path fill="#2653c7" d="M984 726l-6 .6-12-1.9-4.4-1.7-1.6-2 7.7-10 8.9-16 47.9-72 13.5-17.7 4-4 2-.7 .1 4.4-2.9 9-13.6 37-8.5 20-9.8 27-4.8 11-4.3 8-6.2 6.4-3 1.5z"/>
<path fill="#377bdd" d="M980 725l-5-.5-6-2-3.7-2.5-.6-1 .4-2 4.9-6.8 8.8-16.2 45.2-68 10-13.1 3-2.7 2-.5 .4 2.3-1.4 6-9.5 27-10.5 25.6-10.3 28.4-5.1 11-3.5 6-6.1 6.2-3 1.3z"/>
<path fill="#56a7eb" d="M984 723l-5 .6-5-1.3-5.3-3.3-.9-1 .1-2 7.1-11.5 5.2-10.5 27.6-42 19.2-27.9 4-4.6 3-1.6 .9 1.1 0 2-3.7 13-26 68-6.4 12-5.8 6.2-3 1.8z"/>
<path fill="#7ecddb" d="M981 722l-4.9-1-4.5-3-1.2-2 8.7-18 40.9-61.9 7-8.8 2-1.1 1 .3 .6 1.5-.4 4-3.7 12-10.5 26-9.7 27-3.7 8-5.3 9-6.1 6z"/>
<path fill="#a1dc91" d="M986 720.1l-5 .3-4-1.7-4-3.5 .7-3.2 7.7-16 16.2-25 21.4-31.2 4-4.4 2-.8 1 .6 .4 1.8-1.4 7.3-20.5 54.7-8.5 14.7-5.6 5.3z"/>
<path fill="#bbdb3b" d="M989 718.3l-5 .6-3.5-.9-5.2-4 .4-3 6.9-15 16-25 16.4-23.4 4-4.1 2-.4 1 1 .3 1.9-1.3 5.9-16.6 45.1-8.4 14.9z"/>
<path fill="#d7e030" d="M988 717.3l-5-.6-4.1-2.7-1.6-2 4.3-12 5.7-10 17.7-26.6 7-9.2 2-1.8 2-.6 1.7 2.2-.6 4-13.6 39-8.1 14z"/>
<path fill="#ebe02a" d="M989 715.1l-3 .3-6.2-4.4 2.8-11 5-9 12.4-18.9 7-9 2-1.8 2-.5 1.9 2.2-.4 4-3.3 12-5.7 16-7.5 13.5-3 3.7z"/>
<path fill="#f7d228" d="M991 712.1l-3 .5-5.3-3.6-.5-3 1.1-5 5.3-10 10.4-15.8 5-6 3-.8 2 1.6 .3 4-5.1 17-2.9 7-4.3 7.4z"/>
<path fill="#f4a22a" d="M992 709.5l-2 .4-5-3.1-1.1-1.8 .5-4 4.5-9 8.1-12.3 4-4.9 3-1.2 2.1 1.4 .9 2-2 9-5 12.7-4 6.5z"/>
<path fill="#ed6a29" d="M993 706.4l-2 .2-4.1-2.6-.9-1.2 .1-2.8 3.9-8 5-7.5 4-4.6 2-.5 3 2.8-1 6.4-4 10z"/>
<path fill="#e73e29" d="M994 702.1l-4-1.8-1-2.3 4-8.4 3-3.2 2-.3 2.4 1.9-.2 5-2.2 4.8z"/>
<path fill="#1d2a8c" d="M1031.2 664.2h2.6v2.6h-2.6zM1019.2 612.2h2.6v2.6h-2.6zM1038.2 640.2h2.6v2.6h-2.6zM1041.2 637.2h2.6v2.6h-2.6zM989.2 736.2h2.6v2.6h-2.6zM1057.2 571.2h2.6v2.6h-2.6zM974.2 734.2h2.6v2.6h-2.6zM960.2 707.2h2.6v2.6h-2.6zM1001.2 646.2h2.6v2.6h-2.6zM946.2 732.2h2.6v2.6h-2.6zM1045.2 578.2h2.6v2.6h-2.6zM1014.2 713.2h2.6v2.6h-2.6zM964.2 733.2h2.6v2.6h-2.6zM1043.2 577.2h2.6v2.6h-2.6zM973.2 679.2h2.6v2.6h-2.6zM995.2 645.2h2.6v2.6h-2.6zM948.2 731.2h2.6v2.6h-2.6zM1006.2 724.2h2.6v2.6h-2.6zM1009.2 633.2h2.6v2.6h-2.6zM1027.2 674.2h2.6v2.6h-2.6zM1015.2 704.2h2.6v2.6h-2.6zM1066.2 575.2h2.6v2.6h-2.6zM1009.2 710.2h2.6v2.6h-2.6zM1020.2 615.2h2.6v2.6h-2.6zM1061.2 592.2h2.6v2.6h-2.6zM1032.2 668.2h2.6v2.6h-2.6zM953.2 730.2h2.6v2.6h-2.6zM1021.2 688.2h2.6v2.6h-2.6zM1012.2 716.2h2.6v2.6h-2.6zM1030.2 660.2h2.6v2.6h-2.6zM962.2 734.2h2.6v2.6h-2.6zM991.2 734.2h2.6v2.6h-2.6zM1018.2 699.2h2.6v2.6h-2.6zM1033.2 657.2h2.6v2.6h-2.6zM996.2 645.2h2.6v2.6h-2.6zM1010.2 707.2h2.6v2.6h-2.6zM1031.2 658.2h2.6v2.6h-2.6zM988.2 661.2h2.6v2.6h-2.6zM950.2 717.2h2.6v2.6h-2.6zM950.2 711.2h2.6v2.6h-2.6zM1032.2 653.2h2.6v2.6h-2.6zM980.2 674.2h2.6v2.6h-2.6zM955.2 706.2h2.6v2.6h-2.6zM946.2 716.2h2.6v2.6h-2.6zM999.2 643.2h2.6v2.6h-2.6zM982.2 735.2h2.6v2.6h-2.6zM1050.2 607.2h2.6v2.6h-2.6zM990.2 651.2h2.6v2.6h-2.6zM977.2 734.2h2.6v2.6h-2.6zM973.2 734.2h2.6v2.6h-2.6zM1045.2 623.2h2.6v2.6h-2.6zM970.2 684.2h2.6v2.6h-2.6zM993.2 653.2h2.6v2.6h-2.6zM1000.2 635.2h2.6v2.6h-2.6zM987.2 736.2h2.6v2.6h-2.6zM1055.2 607.2h2.6v2.6h-2.6zM1024.2 677.2h2.6v2.6h-2.6zM1027.2 663.2h2.6v2.6h-2.6zM947.2 712.2h2.6v2.6h-2.6zM973.2 681.2h2.6v2.6h-2.6zM974.2 678.2h2.6v2.6h-2.6zM1042.2 640.2h2.6v2.6h-2.6zM962.2 702.2h2.6v2.6h-2.6zM997.2 643.2h2.6v2.6h-2.6zM1002.2 635.2h2.6v2.6h-2.6zM986.2 659.2h2.6v2.6h-2.6zM1013.2 626.2h2.6v2.6h-2.6zM1049.2 609.2h2.6v2.6h-2.6zM1021.2 689.2h2.6v2.6h-2.6zM1032.2 667.2h2.6v2.6h-2.6zM1061.2 562.2h2.6v2.6h-2.6zM1001.2 635.2h2.6v2.6h-2.6zM1029.2 602.2h2.6v2.6h-2.6zM998.2 650.2h2.6v2.6h-2.6zM1040.2 637.2h2.6v2.6h-2.6zM1044.2 625.2h2.6v2.6h-2.6zM1038.2 645.2h2.6v2.6h-2.6zM1054.2 606.2h2.6v2.6h-2.6zM1013.2 716.2h2.6v2.6h-2.6zM1056.2 567.2h2.6v2.6h-2.6zM973.2 737.2h2.6v2.6h-2.6zM1005.2 633.2h2.6v2.6h-2.6zM1026.2 671.2h2.6v2.6h-2.6zM1033.2 654.2h2.6v2.6h-2.6zM1062.2 585.2h2.6v2.6h-2.6zM1041.2 642.2h2.6v2.6h-2.6zM1037.2 636.2h2.6v2.6h-2.6zM1063.2 567.2h2.6v2.6h-2.6zM1019.2 694.2h2.6v2.6h-2.6zM1000.2 644.2h2.6v2.6h-2.6zM1020.2 692.2h2.6v2.6h-2.6zM982.2 738.2h2.6v2.6h-2.6zM1041.2 580.2h2.6v2.6h-2.6zM1001.2 637.2h2.6v2.6h-2.6zM1055.2 569.2h2.6v2.6h-2.6zM1058.2 586.2h2.6v2.6h-2.6zM1026.2 676.2h2.6v2.6h-2.6zM999.2 647.2h2.6v2.6h-2.6zM980.2 675.2h2.6v2.6h-2.6zM1035.2 591.2h2.6v2.6h-2.6zM1045.2 576.2h2.6v2.6h-2.6zM998.2 644.2h2.6v2.6h-2.6zM1047.2 623.2h2.6v2.6h-2.6zM954.2 712.2h2.6v2.6h-2.6zM981.2 668.2h2.6v2.6h-2.6zM1031.2 667.2h2.6v2.6h-2.6zM1064.2 568.2h2.6v2.6h-2.6zM958.2 700.2h2.6v2.6h-2.6zM962.2 693.2h2.6v2.6h-2.6zM1054.2 608.2h2.6v2.6h-2.6z"/>
<path fill="#2a3080" d="M919.5 722.5h3v3h-3zM938.5 723.5h3v3h-3zM1074.5 539.5h3v3h-3zM1071.5 547.5h3v3h-3zM1093.5 562.5h3v3h-3zM1108.5 607.5h3v3h-3zM1121.5 609.5h3v3h-3zM1089.5 626.5h3v3h-3zM1093.5 642.5h3v3h-3zM1098.5 657.5h3v3h-3zM1054.5 624.5h3v3h-3zM1053.5 630.5h3v3h-3zM1046.5 634.5h3v3h-3zM1047.5 640.5h3v3h-3zM1048.5 645.5h3v3h-3zM1043.5 653.5h3v3h-3zM1039.5 649.5h3v3h-3zM1041.5 661.5h3v3h-3zM1041.5 675.5h3v3h-3zM1046.5 680.5h3v3h-3zM1032.5 678.5h3v3h-3zM1031.5 677.5h3v3h-3zM1026.5 669.5h3v3h-3zM1020.5 690.5h3v3h-3zM1015.5 702.5h3v3h-3zM1021.5 701.5h3v3h-3zM1015.5 714.5h3v3h-3zM1021.5 713.5h3v3h-3zM1031.5 725.5h3v3h-3zM1053.5 714.5h3v3h-3zM1056.5 708.5h3v3h-3zM1061.5 699.5h3v3h-3zM1081.5 693.5h3v3h-3zM1061.5 582.5h3v3h-3z"/>
</g>
<rect x="913.2" y="532.7" width="219.3" height="210.3" fill="none" stroke="#4d4d4d" stroke-width="2"/>
<rect x="913.2" y="532.7" width="80.6" height="35" fill="#fff" stroke="#4d4d4d" stroke-width="2"/>
<text x="926.2" y="556" font-size="15" fill="#222" textLength="59" lengthAdjust="spacingAndGlyphs">R = 0.93</text>
<line x1="920.9" y1="743" x2="920.9" y2="753" stroke="#666" stroke-width="2"/>
<text x="920.9" y="773" font-size="15.5" fill="#222" text-anchor="middle">0</text>
<line x1="961.8" y1="743" x2="961.8" y2="753" stroke="#666" stroke-width="2"/>
<text x="961.8" y="773" font-size="15.5" fill="#222" text-anchor="middle">1</text>
<line x1="1003.3" y1="743" x2="1003.3" y2="753" stroke="#666" stroke-width="2"/>
<text x="1001.2" y="773" font-size="15.5" fill="#222" text-anchor="middle">2</text>
<line x1="1044.3" y1="743" x2="1044.3" y2="753" stroke="#666" stroke-width="2"/>
<text x="1045.7" y="773" font-size="15.5" fill="#222" text-anchor="middle">3</text>
<line x1="1085.2" y1="743" x2="1085.2" y2="753" stroke="#666" stroke-width="2"/>
<text x="1084.7" y="773" font-size="15.5" fill="#222" text-anchor="middle">4</text>
<line x1="1126.2" y1="743" x2="1126.2" y2="753" stroke="#666" stroke-width="2"/>
<text x="1123.5" y="773" font-size="15.5" fill="#222" text-anchor="middle">5</text>
<line x1="903.7" y1="567.4" x2="913.2" y2="567.4" stroke="#666" stroke-width="2"/>
<text x="899.3" y="573" font-size="15.5" fill="#222" text-anchor="end">3.5</text>
<line x1="903.7" y1="609.2" x2="913.2" y2="609.2" stroke="#666" stroke-width="2"/>
<text x="899.3" y="614.8" font-size="15.5" fill="#222" text-anchor="end">3.0</text>
<line x1="903.7" y1="650.7" x2="913.2" y2="650.7" stroke="#666" stroke-width="2"/>
<text x="899.3" y="656.3" font-size="15.5" fill="#222" text-anchor="end">2.5</text>
<line x1="903.7" y1="692.5" x2="913.2" y2="692.5" stroke="#666" stroke-width="2"/>
<text x="899.3" y="698.1" font-size="15.5" fill="#222" text-anchor="end">2.0</text>
<line x1="903.7" y1="734.2" x2="913.2" y2="734.2" stroke="#666" stroke-width="2"/>
<text x="899.3" y="739.8" font-size="15.5" fill="#222" text-anchor="end">1.5</text>
<text x="1020.8" y="502.6" font-size="19.3" font-weight="bold" fill="#000" text-anchor="middle">E12.5</text>
<text x="917.3" y="793.5" font-size="16" fill="#222" textLength="213" lengthAdjust="spacingAndGlyphs">snATAC-seq rep1 (log<tspan font-size="9.9" dy="4">10</tspan><tspan dy="-4"> reads)</tspan></text>
<text transform="translate(867.2,752.3) rotate(-90)" x="0" y="0" font-size="16" fill="#222" textLength="230.5" lengthAdjust="spacingAndGlyphs">Bulk ATAC-seq rep1 (log<tspan font-size="9.9" dy="4">10</tspan><tspan dy="-4"> reads)</tspan></text>
<g filter="url(#soft)">
<path fill="#151f84" d="M134 1108.6l-1-1.6-1 1.5-1.8-1.5-6.2-1.1-5 .8-1.4 1.3-2.6 .4-.3-1.4 1.7-1-3.7-2-1.1-6 1.6-1-2.3-3 2.7-5 1.2-8-.4-2 1.1-2-1.6-5 0-2 2.1 .3 1.5-1.3-.8-3 .7-2-1.5-3 2.1-2.9 1.9-1.1-.8-3 2.9-4 .3-3-1.9-2 0-1 1.6-1.5 2 1.5-.5-3 2.2-1 .3-2.6 4.9-2.4 .1-2.4 1-.8 .8 2.2 3.2 .1 1.2-1.1-.2-1.5-2.8-.5-.8-1 2.6-2.6 3-.4 .9-1 .1-2.5 1-.1 2 1.7 2.2-2.1-.7-2 .5-.7 5-2.6 3 .6 2.9-1.3 2.1-4 2 2.3 1-.1 1-3.2 2.9 0-.8-3 3.9-.9 3-3.6 2 .8 5-2.3 2-2.9 2 0 .7-1.1-2.3-1 .2-1 1.4-.1 3.8-3.9 2.2 .3 2-1.7 2.4-.6 1.6-1.2 1-2.8 2-.6 3 1.2 4 .3 3-4.2 3-.5 1-2.6 3-1 0-4 5-.1 5.3-1.5 1.7-2.3 2-.1 2-4 3 1.6 1-1 3 .1 .4-.3-1.8-2 1.4-2.6 3-.4 1 1.9 1 .3 4-3 3-.5 2-3.6 4.4-1.1 1.6-3.8 1-.5 3 .9 2-6 4 .4 4-2.8 3.5-4.2-.3-1 2.8 .1 2 1.3 .8-1.4-1.2-1 2.4-1.3 3-.1 6-1.5 2-1.4 1.1 .3 .8 1-1.5 2 .7 4-1.1 .8-6 .2-2.1 2 .8 3-.7 1-3 1.6-2.8 .4-.3 1 1.1 .3 .7 1.7-.7 1.9-3-1.4-3 2-3.3 4.5-.7 3.5-3.7 1.5 .4 2 1.8 1-2.5 1.9 0 1.7-3 1.1-3 3.1 0 .7 1-.3 .7 .8-.7 .9-2 .5-2 2.3-1-.7-2.7 2-.4 1 1.7 2-.2 1-3.4-.1-1 1.1 3 1.1 .2 1.9-3.2 2-2-.7-5.9 5.7-1.2 3 2.1 .3 .5 1.7-4.1 4-.9 3 .5 3.2-2-.2-.8 1 .2 5-5.2 4 .3 2-2.7 1 .1 2 1.1 1-1.3 1-2.7 .3-1.7 1.7-.1 2 2.5 4-1.7 2.4-.1 1.6-2.9 4.2-4.7 1.8-1.9 4 1.5 2-4.2 2-.3 5-2.4 1-2.6 3-.1 2 .9 1-5.2 3-1 2 1-.6 1.9 1.6-.9 3.1-1 .9-1-.3-1-3.6-1 .1-1.6 3.8 .2 3-2.6 1.3-1-1.5-1 1.6-.3 1.6 1.8 1-.5 1.8-3 2.5-4 0-.5 2.7 1.6 2-1.1 1.6-6 2.2-2 2.5-3 .3-.9 2.4-4.1 2.5-1-.3-1-2-5 1.5-4-1.6-9 1.4-3 2-1.2-.5-.2-1 1.2-1-.8-.6-1.8 .6-1.2 2.6-1-.6 .8-1-1.8-.7-2 1.6-3-.3zM248 960.1l-1 .1-.5-1.2 .1-1 1.4-.6 .8 .6zM189.7 996l-.7-.7-.4 .7 .4 .6zM246 998.1l-1-1.6 2 .5zM237.9 1006l0-1-.9-.2-.6 1.2 .6 .5zM233 1025.5l-1-1.5 2-.1zM228 1034.2l-.5-.2 .5-1 1-.5 .4 .5zM190.7 1087l.7-1-.4-.7-1.6 .7 .6 1.5zM182.5 1096l2.2-2-.8-1-1.9 0-1 1 1 2.4zM133 1109.2l-.8-.2 .8-.7 .9 .7z"/>
<path fill="#172492" d="M290 940.4l-1-.8-2 .5-.9-1.1 .9-1.1 3 .4zM135 1105.3l-18-.6-2.4-.7-.9-2 .9-6-.5-3 2.9-17.3 6-20.7-2.1-1 1.1-1.2 2-.5 1-2.4 1.1-2.9-.1-4 2.4-2-1.1-2 .3-1 1.4-1 1 2.1 1 .1 8-6.2 2-.6 23-16.2 4.4-4.2 3.8-2 .4-2 3.4-.9 4-4.4 2-.1 4.8-3.6 2.2-.2 11-7.4 6.7-3.4 1.3-2 3-.8 13-8.4 13-6.4 4-3.3 8-3.9 4.9-4.2 3.1-1 11-7.4 6-5.4 7.3-3.2 .1-2 1.6-.9 1 .9 .4 2-2 3-.1 2-3.3 .9-7.4 8.1-4.4 7-2.8 2-1.4 3.9-2 .5-3 3.3-8.2 12.3-15.3 20-.6 3 .5 3-1.5 3 1.1 2.1-2 .4-1.1 2.5-2.4 1-1.5 2.8-3.1 1.2-2.3 4 .4 1-2 .8-2.4 3.2 1.1 3-3.7-.2-1.7 2.2-.3 4-3.7 2 0 2-2.1 2-4.2 1.6-3.9 7.4-2.2 0 .9 3-.8 .2-2-1.7-2.1 1.5 .9 3-.8 .3-3-1.4-1 2.1-2 1.3-.1-2.3-.9-.9-2.5 1.9-1.5 4 1 .7 3-1.3 .8 .6-.6 2-3.8 5-1 5-2.4 2.5-1.9 5.5-3.1 1.7-2 4.5-1-1.3-1.4 .1-.1 1 2.2 2-.7 1.6-1 .7-1-1.6-2-.3-5 4.1-.6-1.5-1.4-.8zM274 944.8l-.7-.8 .9 0zM239 1003.3l-.5-.3 1.1 0zM208 1061.3l-1 .7-2-2.6-1-.1-1.8-4.3 1.8 0 1.7 1 .3 2.3 2-.1 1 1.8zM208 1057.6l-1.8-1.6 1.8-.3zM189 1068.3l-1.8-.3 1.8-1.1 .7 1.1zM194 1070.1l-2 .7-1.1-.8 1.1-1.7 2-.1 2-1.7 2 .4-1 1.5zM192 1077.5l-.7-.5 .7-.4zM178 1098.3l-1.5-.3-.5-2.4 4.1 .4 .1 1z"/>
<path fill="#1d37ab" d="M137 1103.2l-19 .7-2-.3-1.3-1.6 2.7-20 2-8 5.1-17 6.5-14.5 55-39.2 83-50.2 1 .9-1.8 3-34.3 45-2.6 4-1.3 4.2-14 13.5-8 6.7-28.6 32.6-5.2 9-4.5 10-7.2 10-3.8 4-2.7 1.7z"/>
<path fill="#2653c7" d="M136 1102.3l-18 .7-2-.8-.4-1.2 4.5-25 5.8-18 6.6-14 55.5-39.5 62-37.4 4-2.1 3-.4-.1 2.4-4.9 7.7-24 31.6-20 19.8-30 34.9-11 20-9.9 14-3.1 1.7z"/>
<path fill="#377bdd" d="M125 1102.1l-6.1-.1-1.9-.9 .8-10.1 2.8-13 5.8-17 7.7-16 53.5-38 11.4-7.3 36.5-21.7 5.5-2.2 3 .9 .9 2.3-1.8 4-14.9 20-21.8 22-30.4 35.3-10.6 19.7-9.4 13.9-3 1.7-17 5.6z"/>
<path fill="#56a7eb" d="M129 1101.1l-6 .2-4-.8-1-1.5 .2-5 3.8-17 6.8-18 6.8-13 64.5-45 25.9-15.1 3-.9 2.5 1 2.6 4-5.1 9-3.2 4-20.8 21-30.3 35-10.6 20-9.1 14-14.8 6-5.2 1.5z"/>
<path fill="#7ecddb" d="M131 1100.1l-7 .3-3-.7-1.9-2.7 .1-4 3.5-15 7.6-19 6.6-12 63.1-44 13-7.1 4-1.2 2 .7 4.1 4.6-.9 3-25.2 27.5-23.6 27.5-5.3 9-5.1 11-8 13.1-2.4 1.9-11.6 4.7z"/>
<path fill="#a1dc91" d="M133 1099l-9.4 0-2.6-2.1-.9-3.9 3.2-14 8-19 6-11 53.7-38.1 10.3-5.9 2.7-1.1 2 .4 5 5.4-.4 2.3-38.6 45.1-5 8.7-5 11.2-8 13.5-2 1.5-11 4.8z"/>
<path fill="#bbdb3b" d="M134 1098l-5 .4-4-.9-3-3-.6-3.5 2.9-12 8.4-19 5.7-10 37.6-25.8 7-4.3 4-.7 6 6.4 0 2.4-7.1 10-15.9 19.3-8.9 18.7-7.4 13-2.7 2.2-12 5.4z"/>
<path fill="#d7e030" d="M134 1097.1l-4 .2-3-1.1-3.1-3.2-1.1-3 1.6-9 10.3-22 4.8-8 2-2 24.5-15.2 3-1.3 2 .3 7 7.3 .2 2.9-9.8 14-8.2 18-6.5 12-2.7 3-12 5.7z"/>
<path fill="#ebe02a" d="M135 1096.1l-5-.7-5-5-.7-3.4 1-6 10.2-21 5.5-8.7 12-7.1 4-.4 8.9 9.2 .6 2-7.1 19-8.4 14.7-12.4 6.3z"/>
<path fill="#f7d228" d="M135 1095.1l-3.3-1.1-5.5-6-.7-3 .3-3 10.6-21 5.6-8.7 5-3.1 4-.7 10.9 11.5-.2 3-2.8 9-7.9 15.3-12.3 6.7z"/>
<path fill="#f4a22a" d="M138 1093.2l-3 .5-2.5-1.7-5.3-6-.3-4 12.1-22.9 4.7-6.1 3.3-1 11 11.1 .8 1.9-.4 4-1.4 4.5-6.2 12.5z"/>
<path fill="#ed6a29" d="M139 1091.2l-2 .6-2-.8-6-6.4-.5-2.6 3.6-8 6.9-12.3 3-3.5 2-1 11 11.2 .7 3.6-5.7 13.3z"/>
<path fill="#e73e29" d="M143 1087.2l-3-.3-6.5-6.9-.7-2 2.2-6.6 5-6.5 2 .6 9.3 10.5-.3 3.6-1.8 4.4z"/>
<path fill="#1d2a8c" d="M204.2 982.2h2.6v2.6h-2.6zM171.2 1003.2h2.6v2.6h-2.6zM189.2 989.2h2.6v2.6h-2.6zM193.2 984.2h2.6v2.6h-2.6zM143.2 1016.2h2.6v2.6h-2.6zM210.2 978.2h2.6v2.6h-2.6zM218.2 971.2h2.6v2.6h-2.6zM112.2 1084.2h2.6v2.6h-2.6zM245.2 958.2h2.6v2.6h-2.6zM215.2 974.2h2.6v2.6h-2.6zM135.2 1107.2h2.6v2.6h-2.6zM268.2 971.2h2.6v2.6h-2.6zM286.2 935.2h2.6v2.6h-2.6zM137.2 1024.2h2.6v2.6h-2.6zM198.2 1082.2h2.6v2.6h-2.6zM241.2 1004.2h2.6v2.6h-2.6zM231.2 1025.2h2.6v2.6h-2.6zM279.2 937.2h2.6v2.6h-2.6zM248.2 998.2h2.6v2.6h-2.6zM271.2 958.2h2.6v2.6h-2.6zM281.2 936.2h2.6v2.6h-2.6zM116.2 1068.2h2.6v2.6h-2.6zM276.2 955.2h2.6v2.6h-2.6zM169.2 998.2h2.6v2.6h-2.6zM253.2 992.2h2.6v2.6h-2.6zM209.2 975.2h2.6v2.6h-2.6zM208.2 975.2h2.6v2.6h-2.6zM205.2 1069.2h2.6v2.6h-2.6zM149.2 1105.2h2.6v2.6h-2.6zM209.2 977.2h2.6v2.6h-2.6zM252.2 951.2h2.6v2.6h-2.6zM142.2 1104.2h2.6v2.6h-2.6zM162.2 1009.2h2.6v2.6h-2.6zM207.2 1072.2h2.6v2.6h-2.6zM254.2 954.2h2.6v2.6h-2.6zM214.2 1057.2h2.6v2.6h-2.6zM182.2 1100.2h2.6v2.6h-2.6zM138.2 1022.2h2.6v2.6h-2.6zM226.2 1034.2h2.6v2.6h-2.6zM289.2 930.2h2.6v2.6h-2.6zM228.2 966.2h2.6v2.6h-2.6zM240.2 959.2h2.6v2.6h-2.6zM225.2 1037.2h2.6v2.6h-2.6zM152.2 1012.2h2.6v2.6h-2.6zM269.2 965.2h2.6v2.6h-2.6zM215.2 1058.2h2.6v2.6h-2.6zM224.2 1033.2h2.6v2.6h-2.6zM277.2 956.2h2.6v2.6h-2.6zM272.2 964.2h2.6v2.6h-2.6zM281.2 952.2h2.6v2.6h-2.6zM204.2 978.2h2.6v2.6h-2.6zM212.2 1064.2h2.6v2.6h-2.6zM216.2 973.2h2.6v2.6h-2.6zM182.2 993.2h2.6v2.6h-2.6zM117.2 1048.2h2.6v2.6h-2.6zM174.2 1109.2h2.6v2.6h-2.6zM252.2 953.2h2.6v2.6h-2.6zM254.2 984.2h2.6v2.6h-2.6zM276.2 958.2h2.6v2.6h-2.6zM262.2 973.2h2.6v2.6h-2.6zM206.2 1073.2h2.6v2.6h-2.6zM278.2 960.2h2.6v2.6h-2.6zM206.2 982.2h2.6v2.6h-2.6zM110.2 1080.2h2.6v2.6h-2.6zM124.2 1037.2h2.6v2.6h-2.6zM152.2 1011.2h2.6v2.6h-2.6zM174.2 1106.2h2.6v2.6h-2.6zM116.2 1047.2h2.6v2.6h-2.6zM242.2 1007.2h2.6v2.6h-2.6zM129.2 1030.2h2.6v2.6h-2.6zM122.2 1039.2h2.6v2.6h-2.6zM217.2 1055.2h2.6v2.6h-2.6zM214.2 974.2h2.6v2.6h-2.6zM152.2 1017.2h2.6v2.6h-2.6zM109.2 1087.2h2.6v2.6h-2.6zM187.2 1089.2h2.6v2.6h-2.6zM115.2 1051.2h2.6v2.6h-2.6zM259.2 947.2h2.6v2.6h-2.6zM272.2 941.2h2.6v2.6h-2.6zM187.2 1090.2h2.6v2.6h-2.6zM290.2 931.2h2.6v2.6h-2.6zM159.2 1007.2h2.6v2.6h-2.6zM274.2 937.2h2.6v2.6h-2.6zM113.2 1105.2h2.6v2.6h-2.6zM259.2 952.2h2.6v2.6h-2.6zM211.2 972.2h2.6v2.6h-2.6zM212.2 972.2h2.6v2.6h-2.6zM198.2 986.2h2.6v2.6h-2.6zM171.2 1000.2h2.6v2.6h-2.6zM177.2 1106.2h2.6v2.6h-2.6zM287.2 943.2h2.6v2.6h-2.6zM210.2 1065.2h2.6v2.6h-2.6zM119.2 1045.2h2.6v2.6h-2.6zM120.2 1046.2h2.6v2.6h-2.6zM268.2 943.2h2.6v2.6h-2.6zM226.2 965.2h2.6v2.6h-2.6zM214.2 1058.2h2.6v2.6h-2.6zM285.2 948.2h2.6v2.6h-2.6zM238.2 960.2h2.6v2.6h-2.6zM152.2 1106.2h2.6v2.6h-2.6zM182.2 1093.2h2.6v2.6h-2.6zM288.2 944.2h2.6v2.6h-2.6zM272.2 959.2h2.6v2.6h-2.6zM167.2 1105.2h2.6v2.6h-2.6zM110.2 1068.2h2.6v2.6h-2.6zM115.2 1061.2h2.6v2.6h-2.6zM123.2 1033.2h2.6v2.6h-2.6zM261.2 950.2h2.6v2.6h-2.6zM123.2 1035.2h2.6v2.6h-2.6zM169.2 1003.2h2.6v2.6h-2.6z"/>
<path fill="#2a3080" d="M310.5 920.5h3v3h-3zM316.5 913.5h3v3h-3zM294.5 929.5h3v3h-3zM297.5 937.5h3v3h-3zM185.5 991.5h3v3h-3zM164.5 1003.5h3v3h-3zM227.5 1038.5h3v3h-3zM221.5 1051.5h3v3h-3zM218.5 1079.5h3v3h-3zM198.5 1091.5h3v3h-3zM228.5 1013.5h3v3h-3zM232.5 1017.5h3v3h-3z"/>
</g>
<rect x="106.4" y="906.6" width="220.2" height="211.2" fill="none" stroke="#4d4d4d" stroke-width="2"/>
<rect x="106.4" y="906.6" width="81.4" height="35" fill="#fff" stroke="#4d4d4d" stroke-width="2"/>
<text x="119.4" y="932.2" font-size="15" fill="#222" textLength="59" lengthAdjust="spacingAndGlyphs">R = 0.92</text>
<line x1="115.9" y1="1117.8" x2="115.9" y2="1127.8" stroke="#666" stroke-width="2"/>
<text x="116.4" y="1148.7" font-size="15.5" fill="#222" text-anchor="middle">1.5</text>
<line x1="159.3" y1="1117.8" x2="159.3" y2="1127.8" stroke="#666" stroke-width="2"/>
<text x="160.1" y="1148.7" font-size="15.5" fill="#222" text-anchor="middle">2.0</text>
<line x1="202.4" y1="1117.8" x2="202.4" y2="1127.8" stroke="#666" stroke-width="2"/>
<text x="201.1" y="1148.7" font-size="15.5" fill="#222" text-anchor="middle">2.5</text>
<line x1="245.3" y1="1117.8" x2="245.3" y2="1127.8" stroke="#666" stroke-width="2"/>
<text x="247.5" y="1148.7" font-size="15.5" fill="#222" text-anchor="middle">3.0</text>
<line x1="288.4" y1="1117.8" x2="288.4" y2="1127.8" stroke="#666" stroke-width="2"/>
<text x="287.9" y="1148.7" font-size="15.5" fill="#222" text-anchor="middle">3.5</text>
<line x1="96.9" y1="941.2" x2="106.4" y2="941.2" stroke="#666" stroke-width="2"/>
<text x="91.6" y="946.8" font-size="15.5" fill="#222" text-anchor="end">3.5</text>
<line x1="96.9" y1="983.5" x2="106.4" y2="983.5" stroke="#666" stroke-width="2"/>
<text x="91.6" y="989.1" font-size="15.5" fill="#222" text-anchor="end">3.0</text>
<line x1="96.9" y1="1025" x2="106.4" y2="1025" stroke="#666" stroke-width="2"/>
<text x="91.6" y="1030.6" font-size="15.5" fill="#222" text-anchor="end">2.5</text>
<line x1="96.9" y1="1066.8" x2="106.4" y2="1066.8" stroke="#666" stroke-width="2"/>
<text x="91.6" y="1072.4" font-size="15.5" fill="#222" text-anchor="end">2.0</text>
<line x1="96.9" y1="1107.8" x2="106.4" y2="1107.8" stroke="#666" stroke-width="2"/>
<text x="91.6" y="1113.4" font-size="15.5" fill="#222" text-anchor="end">1.5</text>
<text x="201.3" y="878.3" font-size="19.3" font-weight="bold" fill="#000" text-anchor="middle">E13.5</text>
<text x="98.6" y="1167" font-size="16" fill="#222" textLength="229.1" lengthAdjust="spacingAndGlyphs">Bulk ATAC-seq rep1 (log<tspan font-size="9.9" dy="4">10</tspan><tspan dy="-4"> reads)</tspan></text>
<text transform="translate(55.2,1124.8) rotate(-90)" x="0" y="0" font-size="16" fill="#222" textLength="230" lengthAdjust="spacingAndGlyphs">Bulk ATAC-seq rep2 (log<tspan font-size="9.9" dy="4">10</tspan><tspan dy="-4"> reads)</tspan></text>
<g filter="url(#soft)">
<path fill="#151f84" d="M555 1093.3l-1 .5-1.9-.8 .4-2-.5-1.1-1.6 1.1 .9 1-.3 1-2 .9-2-.3-.7-1.6 1.6-2 .4-2-1.3-.9-2 .6-3-1-1 3.6-2-.2-1-1.1 1.3-2-1.3-2.9-3 1.7-3-1.7-1-3.7-4.3-1.4-.5-1 .8-1.4 2-.6-3-4-2.8-2-.2-1.5-2-1-1-2-2 .4-1.3-.9 .3-2 1-.2 2 1.7 1.3-1.5-.7-2 1.9-7-.5-.8-2 .5-.9-.7 1.4-2 2.5-1.4 3-.1 1 1.5-1.7 2 .7 .3 1.2-1.3 2.8-.5 0-2.5-3 .8-.6-.8 .3-2 1.3-.5 3 .7 4-2.3 3.3-2.9-.3-1.7-1-.2-2 1.6-.4-.7 2.4-2 2-.2 2 .9 4-1.7 1-1.4 2 .9 1-.5 8-7.3 1-2.3 6-1.3 1-2.7 3.5 .6 3.5-4 1 .3 2-2.6 3-.9 2 .8 4-2.6 2-.3 4.1-2.7-.1-2.4 5-.2 2.1-2.4 .9-3.3 5-3.2 2 .1 1-2.2 3-1.1 3 0 2-2.1 3.9-.2 1.1-2.2 5-1.6 4.7-3.2-.2-3 3.4-1 1.6-2 1.5 0 3-5.7 3 1.7 4-4.8 2 .2 1-1.8 3-1.6 1 2.3 3 .5 1.5-2.8 2.1 0 1.5 2-2.1 1.3-3-.1-.5 1.8 1.1 2-.6 1.1-1 1.1-1-1.7-2.3 .5 .4 2-.8 1-7.3 5.4-1 3.3-3.2 1.3-.5 1 1.2 2-2.5 .6-3.3 3.4 1.6 2-5.3 3-6 6-3 1.8-1 1.7-2.8 1.5-3.2 3.8 .2 2.2-1 2-4.2 1.1-2 3.4-2.4 1.5 0 3-2.9 1-1.7 4.3-3.1 2.7-.3 1 1 2-.5 2-3.1 .9-4.2 4.1-2.9 7 2 2-3.9 .1-2.2 4.9-3.2 2 .8 3-2.4 1 .8 3-.6 1-4.9 3-.3 1.8-3.1 3.2-.8 2-4.6 4-.2 2-1.7 0-.6-1.9-1 .1-3 3.3-.9-.5 .9-2.1-1-.3-.1 2.4-1.3 1zM609 1000l-1-1.1-1.2 1.1 1.2 .8zM599 1041l-.8-1 .8-.9 .6 .9zM541.6 1042l-.6-1.6-1.6 1.6 1.6 .9zM519 1058.7l-1 .3-1.2-1 2.2-2.2 1 2.2zM567.5 1080l-.5-3-1 2zM545 1090.1l-1-1.3 1 0z"/>
<path fill="#172492" d="M547 1083.7l-1 0-4.7-4.7 .9-2-4.2-6.3-1-3.3-1-.4-1.6 2-3.4 2.1-1-1 0-1.9 3.2-3.2-5.7-5 9.2-7 6.5-10 8.8-6.5 2-2.4 13-8 12.5-6.1 24-15 1.5-2 3-.7 5-4.2 2-.3 14-8.4 17-13.6 2 1-.9 4.2-9.4 10-5.6 7-.6 2-2.3 1-1.2 2.5-4 2.6-7 7.1-16.2 17.8-.8 3-3 2.6-2 3.4 1.2 3-3.2 .2-.8 .8-9.8 16-4.4 5.5-7 6.2-5 2.3-2 3-2-1-1 .7-2 4.6-1-.7-2 .6-2-.4-6 1.9zM526 1066.4l-2.9-1.4 1.2-1 1.5 0 .9 2zM530 1067.6l-1.4-1.6 .4-.4 1.6 1.4zM537 1072.1l-1 .2-.2-1.3 1.3 0zM536 1075.4l0-.8 .8 .4zM547.5 1080l-.5-2.2-2-1-1.8 .2 .1 1 2.7 2.6zM537 1082.2l-1.7-.2 0-1 .7-.5 1.4 .5z"/>
<path fill="#1d37ab" d="M556 1073.1l-3-2-12.8-12.1 .3-2 2.5-4.2 1.5-5.8 2.7-4 7.8-7.2 9-6.2 17.6-9.6 57.4-35.6 .6 .6-.9 2-5.6 8-24.1 25-10 11.5-20 30.2-5 4.8-4 2.6z"/>
<path fill="#2653c7" d="M569 1067.2l-5 .7-5-.8-11.5-10.1-1.1-3 0-5 3.2-6 7-7 9.4-6.4 15.7-8.6 37.3-23.2 12-5.7 1 .9-3.3 5-30.4 33-18.3 27.8-6 5.5z"/>
<path fill="#377bdd" d="M566 1066l-3 0-2.3-1-11.8-11-.6-3 .9-4 5.8-8 11-8.4 16-8.9 26-16.4 13-7.2 4-1.5 1.4 .4-.6 2-3.8 5-24 26.2-18.7 27.8-7.3 5.9z"/>
<path fill="#56a7eb" d="M568 1064l-3 .5-3-.9-11.4-10.6-.4-3 .8-3 5.4-8 10.6-8 15-8.5 21.2-13.5 12.8-7 4.3-1 .7 1-2.3 4-21.5 24-18.2 26.9-6 4.8z"/>
<path fill="#7ecddb" d="M569 1062.3l-3 .6-3-.8-10.8-10.1-.4-2 .7-3 4.3-7 3.2-3.2 7-4.9 34.3-20.9 9.3-5 4.5-1 .6 2-1.8 3-17.5 20-17.4 25.5-4 3.6z"/>
<path fill="#a1dc91" d="M568 1061.3l-4-.7-10.2-9.6 .2-4 4-7 10-7.8 32-19.5 7-3.4 3.5-.3 .5 2-1.2 2-14.2 17-16.6 24.2-4 3.7z"/>
<path fill="#bbdb3b" d="M570 1059.3l-3 .6-2-.8-9.6-9.1 0-3 3.7-7 9-7 28.2-17 6.1-3 3.1 0 .6 2-1.1 2-10 12.6-16.1 23.4-3.9 3.8z"/>
<path fill="#d7e030" d="M570 1058.1l-2 .2-2-.9-9-8.4 .1-3 2.3-5 2.8-3 6.8-4.8 20.7-12.2 7.3-3.5 3 .4 .6 2.1-1.6 3-21 30-3 2.8z"/>
<path fill="#ebe02a" d="M572 1056.4l-4 0-9-8.1-.6-2.3 1.4-4 3.6-4 14.2-9 12.4-6.5 2-.6 2 .7 1.2 1.4-.4 2-4.8 8.2-12.2 17.8-2.8 2.8z"/>
<path fill="#f7d228" d="M572 1055.3l-3-.3-8.7-8-.5-2 1-3 2.5-3 8.9-6 9.8-5.2 3-.9 2.2 .1 2.8 3-1.2 4-11.8 17.9z"/>
<path fill="#f4a22a" d="M572 1054.2l-2.9-1.2-7.1-6.5-.9-1.5 .2-2 2.1-3 7-5 8-4 3.6-.3 3.7 3.3-.7 4-8.3 13-2 2z"/>
<path fill="#ed6a29" d="M574 1052.3l-2 .4-2-1.1-7-6.5-.4-2.1 2.1-3 4.3-3 4-2 3-.3 5 4.2 .2 2.1-4.2 8.1z"/>
<path fill="#e73e29" d="M574 1050.6l-2-.2-7-6.3-.5-1.1 .9-2 3.6-2 2-.1 5 4.1 1 3z"/>
<path fill="#1d2a8c" d="M523.2 1075.2h2.6v2.6h-2.6zM615.2 992.2h2.6v2.6h-2.6zM553.2 1095.2h2.6v2.6h-2.6zM604.2 1036.2h2.6v2.6h-2.6zM550.2 1096.2h2.6v2.6h-2.6zM535.2 1090.2h2.6v2.6h-2.6zM624.2 1008.2h2.6v2.6h-2.6zM591.2 1046.2h2.6v2.6h-2.6zM531.2 1084.2h2.6v2.6h-2.6zM593.2 1006.2h2.6v2.6h-2.6zM650.2 982.2h2.6v2.6h-2.6zM643.2 989.2h2.6v2.6h-2.6zM639.2 997.2h2.6v2.6h-2.6zM519.2 1063.2h2.6v2.6h-2.6zM647.2 969.2h2.6v2.6h-2.6zM652.2 978.2h2.6v2.6h-2.6zM615.2 1017.2h2.6v2.6h-2.6zM544.2 1095.2h2.6v2.6h-2.6zM514.2 1058.2h2.6v2.6h-2.6zM611.2 1024.2h2.6v2.6h-2.6zM533.2 1087.2h2.6v2.6h-2.6zM562.2 1021.2h2.6v2.6h-2.6zM571.2 1081.2h2.6v2.6h-2.6zM520.2 1068.2h2.6v2.6h-2.6zM525.2 1052.2h2.6v2.6h-2.6zM532.2 1042.2h2.6v2.6h-2.6zM616.2 992.2h2.6v2.6h-2.6zM634.2 977.2h2.6v2.6h-2.6zM659.2 966.2h2.6v2.6h-2.6zM567.2 1087.2h2.6v2.6h-2.6zM560.2 1089.2h2.6v2.6h-2.6zM585.2 1012.2h2.6v2.6h-2.6zM587.2 1055.2h2.6v2.6h-2.6zM656.2 973.2h2.6v2.6h-2.6zM622.2 1013.2h2.6v2.6h-2.6zM633.2 976.2h2.6v2.6h-2.6zM570.2 1018.2h2.6v2.6h-2.6zM587.2 1007.2h2.6v2.6h-2.6zM522.2 1074.2h2.6v2.6h-2.6zM579.2 1074.2h2.6v2.6h-2.6zM604.2 1029.2h2.6v2.6h-2.6zM650.2 983.2h2.6v2.6h-2.6zM518.2 1058.2h2.6v2.6h-2.6zM542.2 1035.2h2.6v2.6h-2.6zM586.2 1064.2h2.6v2.6h-2.6zM587.2 1006.2h2.6v2.6h-2.6zM544.2 1033.2h2.6v2.6h-2.6zM541.2 1087.2h2.6v2.6h-2.6zM537.2 1089.2h2.6v2.6h-2.6zM536.2 1089.2h2.6v2.6h-2.6zM573.2 1079.2h2.6v2.6h-2.6zM630.2 1006.2h2.6v2.6h-2.6zM633.2 977.2h2.6v2.6h-2.6zM625.2 985.2h2.6v2.6h-2.6zM619.2 1014.2h2.6v2.6h-2.6zM607.2 1028.2h2.6v2.6h-2.6zM539.2 1090.2h2.6v2.6h-2.6zM562.2 1093.2h2.6v2.6h-2.6zM515.2 1063.2h2.6v2.6h-2.6zM645.2 989.2h2.6v2.6h-2.6zM592.2 1049.2h2.6v2.6h-2.6zM553.2 1094.2h2.6v2.6h-2.6zM663.2 968.2h2.6v2.6h-2.6zM524.2 1076.2h2.6v2.6h-2.6zM592.2 1007.2h2.6v2.6h-2.6zM629.2 1006.2h2.6v2.6h-2.6zM519.2 1059.2h2.6v2.6h-2.6zM622.2 986.2h2.6v2.6h-2.6zM588.2 1059.2h2.6v2.6h-2.6zM587.2 1008.2h2.6v2.6h-2.6zM576.2 1074.2h2.6v2.6h-2.6zM660.2 969.2h2.6v2.6h-2.6zM652.2 968.2h2.6v2.6h-2.6zM583.2 1062.2h2.6v2.6h-2.6zM627.2 982.2h2.6v2.6h-2.6zM615.2 994.2h2.6v2.6h-2.6zM577.2 1079.2h2.6v2.6h-2.6zM546.2 1031.2h2.6v2.6h-2.6zM635.2 995.2h2.6v2.6h-2.6zM656.2 979.2h2.6v2.6h-2.6zM606.2 1029.2h2.6v2.6h-2.6zM516.2 1051.2h2.6v2.6h-2.6zM512.2 1054.2h2.6v2.6h-2.6zM623.2 987.2h2.6v2.6h-2.6zM594.2 1002.2h2.6v2.6h-2.6zM573.2 1017.2h2.6v2.6h-2.6zM534.2 1038.2h2.6v2.6h-2.6zM513.2 1058.2h2.6v2.6h-2.6zM568.2 1083.2h2.6v2.6h-2.6zM521.2 1076.2h2.6v2.6h-2.6zM550.2 1090.2h2.6v2.6h-2.6zM656.2 968.2h2.6v2.6h-2.6zM530.2 1082.2h2.6v2.6h-2.6zM617.2 1019.2h2.6v2.6h-2.6zM616.2 991.2h2.6v2.6h-2.6zM611.2 994.2h2.6v2.6h-2.6zM611.2 1025.2h2.6v2.6h-2.6zM516.2 1069.2h2.6v2.6h-2.6zM544.2 1087.2h2.6v2.6h-2.6zM604.2 1028.2h2.6v2.6h-2.6zM560.2 1025.2h2.6v2.6h-2.6zM590.2 1048.2h2.6v2.6h-2.6zM566.2 1021.2h2.6v2.6h-2.6zM513.2 1062.2h2.6v2.6h-2.6zM547.2 1032.2h2.6v2.6h-2.6zM521.2 1069.2h2.6v2.6h-2.6zM611.2 1027.2h2.6v2.6h-2.6zM638.2 992.2h2.6v2.6h-2.6zM579.2 1016.2h2.6v2.6h-2.6zM565.2 1022.2h2.6v2.6h-2.6z"/>
<path fill="#2a3080" d="M533.5 1108.5h3v3h-3zM540.5 1099.5h3v3h-3zM531.5 1086.5h3v3h-3zM526.5 1081.5h3v3h-3zM666.5 951.5h3v3h-3zM672.5 949.5h3v3h-3zM675.5 947.5h3v3h-3zM678.5 946.5h3v3h-3zM689.5 941.5h3v3h-3zM689.5 935.5h3v3h-3zM704.5 925.5h3v3h-3zM719.5 913.5h3v3h-3zM655.5 970.5h3v3h-3z"/>
</g>
<rect x="509.3" y="906.6" width="219.5" height="211.2" fill="none" stroke="#4d4d4d" stroke-width="2"/>
<rect x="509.3" y="906.6" width="81" height="35" fill="#fff" stroke="#4d4d4d" stroke-width="2"/>
<text x="522.3" y="932.2" font-size="15" fill="#222" textLength="59" lengthAdjust="spacingAndGlyphs">R = 0.93</text>
<line x1="533.6" y1="1117.8" x2="533.6" y2="1127.8" stroke="#666" stroke-width="2"/>
<text x="530.6" y="1148.7" font-size="15.5" fill="#222" text-anchor="middle">1</text>
<line x1="584.7" y1="1117.8" x2="584.7" y2="1127.8" stroke="#666" stroke-width="2"/>
<text x="582" y="1148.7" font-size="15.5" fill="#222" text-anchor="middle">2</text>
<line x1="635.2" y1="1117.8" x2="635.2" y2="1127.8" stroke="#666" stroke-width="2"/>
<text x="633.8" y="1148.7" font-size="15.5" fill="#222" text-anchor="middle">3</text>
<line x1="687.1" y1="1117.8" x2="687.1" y2="1127.8" stroke="#666" stroke-width="2"/>
<text x="685.7" y="1148.7" font-size="15.5" fill="#222" text-anchor="middle">4</text>
<line x1="499.8" y1="942.1" x2="509.3" y2="942.1" stroke="#666" stroke-width="2"/>
<text x="494.6" y="947.7" font-size="15.5" fill="#222" text-anchor="end">4</text>
<line x1="499.8" y1="987.6" x2="509.3" y2="987.6" stroke="#666" stroke-width="2"/>
<text x="494.6" y="993.2" font-size="15.5" fill="#222" text-anchor="end">3</text>
<line x1="499.8" y1="1032.7" x2="509.3" y2="1032.7" stroke="#666" stroke-width="2"/>
<text x="494.6" y="1038.3" font-size="15.5" fill="#222" text-anchor="end">2</text>
<line x1="499.8" y1="1078.3" x2="509.3" y2="1078.3" stroke="#666" stroke-width="2"/>
<text x="494.6" y="1083.9" font-size="15.5" fill="#222" text-anchor="end">1</text>
<text x="617.5" y="878.3" font-size="19.3" font-weight="bold" fill="#000" text-anchor="middle">E13.5</text>
<text x="513.7" y="1167" font-size="16" fill="#222" textLength="212.9" lengthAdjust="spacingAndGlyphs">snATAC-seq rep1 (log<tspan font-size="9.9" dy="4">10</tspan><tspan dy="-4"> reads)</tspan></text>
<text transform="translate(472.1,1118.6) rotate(-90)" x="0" y="0" font-size="16" fill="#222" textLength="211.5" lengthAdjust="spacingAndGlyphs">snATAC-seq rep2 (log<tspan font-size="9.9" dy="4">10</tspan><tspan dy="-4"> reads)</tspan></text>
<g filter="url(#soft)">
<path fill="#151f84" d="M942 1110.2l-2 .4-.6-.6 2-2-1.4-2.2-6 1.9-.3-1.7-2.7-1.8-3.2 .8 .2 1.3-1-.1-2-3-3-.6 0-.9 3 1.1 .4-.8-1.7-2 .9-2-.6-2.5-1-1.2-2 1-.2-2.3 3.2-.6 1.1-1.4-1.1-1.9-3 1.2-1-1.3 0-2.5 4.7-1.5-.8-3 1.1-2 5-.6-.9-2.4 1.5-3 3.4-1 0-1-2.3 0 .3-2 5-2 3.5-3 .3-1-1.3-2 .5-.6 3-.5 2.3 1.1 .7-7 2-2.5 2 .7 2.1-1.2-1.1-3 1-1.5 3 1.1 1.4-.6 .2-1-1.7-1 0-3 2.9-1 2.2-3.8 1.8-1.2-.4-1 .8-1 2.2-1 .6-1.4 1.2 .4 .8 2 2.8-2 0-1-3.2-3 .4-1.7 1-.3 3 2.2 1.1-.2 .7-1-.4-5 2.6-2.2 .7 1.2-1 3 1.3 1 1-.6-.3-3.4 4.2-5 3.1 .6 .5-.6 .5-1.5 2-1.5-.1-2 2.3-1 .4-1-.7-2 2.1-3.2 1-.7 .7 .9-1.8 4 1.1 1.9 4.3-3.9-1-1 .2-1 1.5-.4 3-2.6 .8-6 3.2-2.5 3 .1 .7-.6-1.2-2 2.5-1.6 2 .9 1-2.8-3.1 .5 1.1-2.9 3 .3 4.5-4.4 4.5-12.7 3-1.7 3.1 .4 .7-3 4.3-4 1.2-7 4.4-2-.1-3 2.2-2 .2-2 1.5 1-1.5 3 3-1.4 4.2-3.6 2.8-3.6 3.4 .6 .2 1-1.4 1-.7 3 2 2-.8 2-2 1-.2 1 1.8 2-.1 2-7.8 7-.3 2 .8 3-.9 .8-2-1.5-.9 .7-.2 2-1.3 2 .4 1.3 1 .1 1-1.8 .5 .4-.4 6-3.1-.1-.6 1.1 1.4 2-1.1 1 .2 2-1.8 2 .9 3-2 .6-1-.7-1 1.1 2 .2 1 1.8-1 1.5-2-.1-.7 1.6-2.6 1 .3 3-1.4 5 1.4 .3 .8 1.7-.8 1.2-2 0-1 1.8-3.1 1-.2 1 1.3 1.1 2-1.5 1 .3 .4 2.1-1.4 1.4-4-.2-.7 .8-.2 2 1.3 2 .2 2-1.6 .8-2-1.7-1.1 1.9 .6 3 2.1 2-4.8 3-1.4 2 1 3-1.4 1.8-2-.2-.9 1.4 .9 1.7 2-.4 1.2 .7 .2 1-1.2 1 .3 3-.5 .8-1-.2-1.7-1.6-.2-1 2.6-1-1.7-1.4-2.5 2.4 .3 4-2 2 1 2-.4 1-1.4 1.5-2-.8-.8 1.3 .8 2.1 2-1.6 1 .1 1 1.4-.2 1-3.8 .3-1 2.6-3.7 3.1 .2 3 3.5 .8 .5 1.2-3.5 3.3-2.4 .7-.9 6-2.7 .9-1 1.1 3 .9 1 1.1-3.7 3-1.5 7 .7 2-2.5 2.8-3-1.3-1 .3 1 3.2-1 .9-3 .4-4 5.1-5.5-1.4-.5 1 1.9 3-.9 .7-3 .4-3-.9-2 2.5-1-1.2-7-1.5-.3 1-2.7 1.3-5-1.1-2 1.1-2.7-1.3 .4-2-.7-.3-4.6 1.3-1.5 1zM1049 951l.6-1-.6-1zM1051.3 954l-.6-1-1.7-.6-.6 .6 .6 1.4zM1034.4 990l-.4-.7-.7 .7 .7 .6zM1035 999.2l-1.6-.2 .6-1 1 .2zM980.2 1023l1.6-2-.8-.7-1 .4zM999 1088.7l0-1.6 .9 .9zM993.5 1091l.5-1-1-.3-.5 1.3zM922 1099.4l-1 .2 0-1.8 1 .2z"/>
<path fill="#172492" d="M952 1106.1l-2-2.5-7 1.9-2-1.1-12-2.4-2.4-2-.6-4.7-1.2-1.3 2-2 .1-4 5.7-8 .4-3 1-.1 1.5-1.9 .5-3.3 4-1.6 7.4-7.1 4.5-8 3.1-1.9 8.3-11.1 7.9-8 2.5-4 5.3-3.4 7-6.9 .7-1.7-.5-2 1.8 0 1-2.2 3 .2 10-10.5 10.4-12.5 4.4-7 8.2-10 2.1-4 7.7-9 1.2-2-1-.1 0-1.4 1-.1 1 1 2.5-2.4 1.5-3.6 3-1.4 1 .4 .4 3.6-1.8 3-.4 4-3.8 8 .1 4-.5 1.1-1 .1-2.1 3.8-1.8 7-2.7 4 0 1 1.1 1-.3 1-2.2 1.3-2.2 5.7-.1 2-1.6 2-.4 3-2.7 4.2-.5 2.8-2.8 5-.2 3-3.5 5.7-7.4 17.3-.8 4-4.1 8-4.9 14 .8 3-.6 .8-2 .4-1 1.8-2 9.9-3 2-5 7.5-4 2.6-12 3.6-2 1.3-12 0-2 .5zM1019 1026.7l-.5-.7 .5-.2zM994 1094.3l-1-.3 1-1.3z"/>
<path fill="#1d37ab" d="M944 1102.1l-10.8-2.1-2.2-1-1.6-2 .4-8 8-13 12.2-12.8 11.7-15.2 10.3-11.6 12.4-11.4 18-19 29.6-37.7 4-4.1 2-.6 0 3-1.9 6.4-10.6 27-24.5 57.6-9.6 25.4-6.4 11-3 2.2-14 4.7-18 .1z"/>
<path fill="#2653c7" d="M967 1099.1l-25.3-.1-3.7-1.3-4-2.9-1.4-1.8-.3-3 7.7-13.7 11-11.3 12.4-16 39.6-41 23-28.8 5-4.2 .7 1-.6 4-4.1 11.7-27.1 63.3-11.1 29-4.8 8-2 2z"/>
<path fill="#377bdd" d="M968 1097.2l-10 .4-13-.8-8.2-5.8-1.1-3 6-11 10.7-11 12.4-16 11-12 17.2-16.8 28-32.4 2-1.7 2-.1-.1 4-2.9 8.8-24 55-10.6 28.2-6.4 9.5z"/>
<path fill="#56a7eb" d="M966 1096l-9 .1-10.2-1.1-7.8-5.8-.7-1.2 .2-2 4.4-8 10.6-11 12.5-16.1 26.5-26.9 19.5-21.7 4-3.5 2-.3 .8 2.5-1.8 6.4-20.4 46.6-10.9 29-5.7 8.2z"/>
<path fill="#7ecddb" d="M967 1094.3l-10 .4-9-1.5-6.8-5.2-.6-2 .6-2 2.8-5.1 10.6-10.9 11.5-15 11.2-12 27.7-28 4-3 2 0 1.1 2-1.1 5.2-16 36.6-10.4 28.2-5.6 8z"/>
<path fill="#a1dc91" d="M966 1093.1l-9 .4-6.9-1.5-7.1-5.9 .7-4.1 12.3-13.6 11.9-15.4 11.1-11.7 19-18.2 3-2.1 2 0 2.2 3-1.2 4.9-10.2 24.1-10.2 28-5.6 8z"/>
<path fill="#bbdb3b" d="M964 1092.1l-7 .1-4.4-1.2-7.4-6 .1-3 11.7-12.8 11.8-15.2 11.2-11.7 12-10.5 2-1 1.6 .2 3.2 3-.4 4-16.2 43-3.2 5.1-2 1.9z"/>
<path fill="#d7e030" d="M967 1090.1l-7 .9-4-.6-8-5.8-.8-2.6 10.8-12 12.5-16 11.5-11.4 5-3.4 2-.1 4 3.3 .2 2.6-10.9 33-5.3 8.4z"/>
<path fill="#ebe02a" d="M966 1089.1l-8.1-.1-7.8-6-.1-2 21-25.8 9-8.3 3-.8 5 3.8 .8 3.1-2.5 10-4.8 14-2.6 5-2.9 3.6z"/>
<path fill="#f7d228" d="M969 1087.1l-4 .8-4-.8-6.8-5.1-.9-2 1.6-3 16.1-20 5-4.5 3-.9 5 3.6 1.4 1.8 .1 3-1.1 5-4.2 12-2.7 5-2.5 2.8z"/>
<path fill="#f4a22a" d="M967 1086.1l-4-1.3-6-4.8-.6-2 13.6-18 4-3.6 2.7-.4 5.2 4 1.1 1.7-1.8 9.3-2.6 7-3.3 5-2.3 1.5z"/>
<path fill="#ed6a29" d="M973 1083.1l-4 .8-2-.5-7.3-6.4 .6-2 5.7-8.4 4-4.4 3-1.7 6.4 4.5 .9 3-3 10-2.3 3.5z"/>
<path fill="#e73e29" d="M972 1081.1l-7-4.7-1.5-2.4 2.5-5 4-2.7 6 4.3 1 2-2 6.4z"/>
<path fill="#1d2a8c" d="M917.2 1081.2h2.6v2.6h-2.6zM1020.2 1037.2h2.6v2.6h-2.6zM939.2 1107.2h2.6v2.6h-2.6zM967.2 1030.2h2.6v2.6h-2.6zM967.2 1031.2h2.6v2.6h-2.6zM1010.2 978.2h2.6v2.6h-2.6zM1018.2 1030.2h2.6v2.6h-2.6zM925.2 1077.2h2.6v2.6h-2.6zM1006.2 1071.2h2.6v2.6h-2.6zM1021.2 964.2h2.6v2.6h-2.6zM977.2 1017.2h2.6v2.6h-2.6zM1034.2 1001.2h2.6v2.6h-2.6zM1007.2 1064.2h2.6v2.6h-2.6zM976.2 1020.2h2.6v2.6h-2.6zM1021.2 1020.2h2.6v2.6h-2.6zM943.2 1051.2h2.6v2.6h-2.6zM1010.2 1052.2h2.6v2.6h-2.6zM968.2 1023.2h2.6v2.6h-2.6zM1008.2 1066.2h2.6v2.6h-2.6zM988.2 1099.2h2.6v2.6h-2.6zM1018.2 1034.2h2.6v2.6h-2.6zM1014.2 980.2h2.6v2.6h-2.6zM1039.2 942.2h2.6v2.6h-2.6zM1023.2 1021.2h2.6v2.6h-2.6zM1052.2 936.2h2.6v2.6h-2.6zM965.2 1111.2h2.6v2.6h-2.6zM953.2 1113.2h2.6v2.6h-2.6zM1029.2 961.2h2.6v2.6h-2.6zM922.2 1080.2h2.6v2.6h-2.6zM1032.2 1011.2h2.6v2.6h-2.6zM993.2 1100.2h2.6v2.6h-2.6zM962.2 1033.2h2.6v2.6h-2.6zM1027.2 1015.2h2.6v2.6h-2.6zM922.2 1084.2h2.6v2.6h-2.6zM921.2 1090.2h2.6v2.6h-2.6zM943.2 1108.2h2.6v2.6h-2.6zM1012.2 1059.2h2.6v2.6h-2.6zM934.2 1063.2h2.6v2.6h-2.6zM1005.2 1072.2h2.6v2.6h-2.6zM1048.2 965.2h2.6v2.6h-2.6zM1019.2 965.2h2.6v2.6h-2.6zM980.2 1107.2h2.6v2.6h-2.6zM1042.2 978.2h2.6v2.6h-2.6zM1052.2 932.2h2.6v2.6h-2.6zM1044.2 980.2h2.6v2.6h-2.6zM1001.2 1073.2h2.6v2.6h-2.6zM982.2 1009.2h2.6v2.6h-2.6zM1031.2 1012.2h2.6v2.6h-2.6zM952.2 1112.2h2.6v2.6h-2.6zM1015.2 1037.2h2.6v2.6h-2.6zM965.2 1108.2h2.6v2.6h-2.6zM1044.2 944.2h2.6v2.6h-2.6zM1038.2 986.2h2.6v2.6h-2.6zM993.2 1097.2h2.6v2.6h-2.6zM919.2 1094.2h2.6v2.6h-2.6zM1038.2 943.2h2.6v2.6h-2.6zM1023.2 1026.2h2.6v2.6h-2.6zM966.2 1033.2h2.6v2.6h-2.6zM956.2 1037.2h2.6v2.6h-2.6zM919.2 1095.2h2.6v2.6h-2.6zM946.2 1047.2h2.6v2.6h-2.6zM984.2 1011.2h2.6v2.6h-2.6zM935.2 1107.2h2.6v2.6h-2.6zM1000.2 1076.2h2.6v2.6h-2.6zM949.2 1051.2h2.6v2.6h-2.6zM998.2 1091.2h2.6v2.6h-2.6zM1023.2 964.2h2.6v2.6h-2.6zM1041.2 980.2h2.6v2.6h-2.6zM930.2 1072.2h2.6v2.6h-2.6zM1035.2 949.2h2.6v2.6h-2.6zM1009.2 1052.2h2.6v2.6h-2.6zM940.2 1057.2h2.6v2.6h-2.6zM1025.2 1018.2h2.6v2.6h-2.6zM1000.2 993.2h2.6v2.6h-2.6zM945.2 1053.2h2.6v2.6h-2.6zM1044.2 941.2h2.6v2.6h-2.6zM1007.2 1056.2h2.6v2.6h-2.6zM1029.2 1013.2h2.6v2.6h-2.6zM1018.2 1033.2h2.6v2.6h-2.6zM1053.2 952.2h2.6v2.6h-2.6zM918.2 1099.2h2.6v2.6h-2.6zM967.2 1022.2h2.6v2.6h-2.6zM926.2 1106.2h2.6v2.6h-2.6zM967.2 1108.2h2.6v2.6h-2.6zM1045.2 940.2h2.6v2.6h-2.6zM996.2 1087.2h2.6v2.6h-2.6zM954.2 1112.2h2.6v2.6h-2.6zM1038.2 984.2h2.6v2.6h-2.6zM1024.2 1021.2h2.6v2.6h-2.6zM922.2 1098.2h2.6v2.6h-2.6zM1040.2 985.2h2.6v2.6h-2.6zM1011.2 1056.2h2.6v2.6h-2.6zM977.2 1103.2h2.6v2.6h-2.6zM986.2 1099.2h2.6v2.6h-2.6zM925.2 1104.2h2.6v2.6h-2.6zM930.2 1068.2h2.6v2.6h-2.6zM946.2 1051.2h2.6v2.6h-2.6zM1021.2 1028.2h2.6v2.6h-2.6zM939.2 1056.2h2.6v2.6h-2.6zM1003.2 1072.2h2.6v2.6h-2.6zM939.2 1058.2h2.6v2.6h-2.6zM932.2 1063.2h2.6v2.6h-2.6zM936.2 1059.2h2.6v2.6h-2.6zM1041.2 970.2h2.6v2.6h-2.6zM1021.2 1029.2h2.6v2.6h-2.6zM998.2 1083.2h2.6v2.6h-2.6zM932.2 1106.2h2.6v2.6h-2.6zM938.2 1063.2h2.6v2.6h-2.6zM963.2 1110.2h2.6v2.6h-2.6zM923.2 1095.2h2.6v2.6h-2.6z"/>
<path fill="#2a3080" d="M919.5 1081.5h3v3h-3zM931.5 1060.5h3v3h-3zM954.5 1032.5h3v3h-3zM969.5 1018.5h3v3h-3zM1055.5 932.5h3v3h-3zM1059.5 947.5h3v3h-3zM1069.5 917.5h3v3h-3zM1075.5 913.5h3v3h-3zM1078.5 930.5h3v3h-3zM1055.5 956.5h3v3h-3zM1107.5 995.5h3v3h-3zM1121.5 1006.5h3v3h-3zM1082.5 1007.5h3v3h-3zM1049.5 1003.5h3v3h-3zM1043.5 1002.5h3v3h-3zM1039.5 1011.5h3v3h-3zM1043.5 1013.5h3v3h-3zM1041.5 1019.5h3v3h-3zM1033.5 1020.5h3v3h-3zM1031.5 1034.5h3v3h-3zM1030.5 1039.5h3v3h-3zM1092.5 1034.5h3v3h-3zM1092.5 1039.5h3v3h-3zM1038.5 1057.5h3v3h-3zM1031.5 1061.5h3v3h-3zM1023.5 1053.5h3v3h-3zM1018.5 1076.5h3v3h-3zM1075.5 1079.5h3v3h-3zM1015.5 1094.5h3v3h-3zM1035.5 1095.5h3v3h-3zM1010.5 1061.5h3v3h-3zM1009.5 1069.5h3v3h-3z"/>
</g>
<rect x="913.2" y="906.6" width="219.3" height="211.2" fill="none" stroke="#4d4d4d" stroke-width="2"/>
<rect x="913.2" y="906.6" width="80.6" height="35" fill="#fff" stroke="#4d4d4d" stroke-width="2"/>
<text x="926.2" y="932.2" font-size="15" fill="#222" textLength="59" lengthAdjust="spacingAndGlyphs">R = 0.90</text>
<line x1="935.9" y1="1117.8" x2="935.9" y2="1127.8" stroke="#666" stroke-width="2"/>
<text x="937.8" y="1148.7" font-size="15.5" fill="#222" text-anchor="middle">1</text>
<line x1="987" y1="1117.8" x2="987" y2="1127.8" stroke="#666" stroke-width="2"/>
<text x="989.1" y="1148.7" font-size="15.5" fill="#222" text-anchor="middle">2</text>
<line x1="1038.3" y1="1117.8" x2="1038.3" y2="1127.8" stroke="#666" stroke-width="2"/>
<text x="1037.5" y="1148.7" font-size="15.5" fill="#222" text-anchor="middle">3</text>
<line x1="1089.9" y1="1117.8" x2="1089.9" y2="1127.8" stroke="#666" stroke-width="2"/>
<text x="1092.9" y="1148.7" font-size="15.5" fill="#222" text-anchor="middle">4</text>
<line x1="903.7" y1="942.6" x2="913.2" y2="942.6" stroke="#666" stroke-width="2"/>
<text x="899.3" y="948.2" font-size="15.5" fill="#222" text-anchor="end">3.5</text>
<line x1="903.7" y1="984.1" x2="913.2" y2="984.1" stroke="#666" stroke-width="2"/>
<text x="899.3" y="989.7" font-size="15.5" fill="#222" text-anchor="end">3.0</text>
<line x1="903.7" y1="1025.3" x2="913.2" y2="1025.3" stroke="#666" stroke-width="2"/>
<text x="899.3" y="1030.9" font-size="15.5" fill="#222" text-anchor="end">2.5</text>
<line x1="903.7" y1="1066.8" x2="913.2" y2="1066.8" stroke="#666" stroke-width="2"/>
<text x="899.3" y="1072.4" font-size="15.5" fill="#222" text-anchor="end">2.0</text>
<line x1="903.7" y1="1107.8" x2="913.2" y2="1107.8" stroke="#666" stroke-width="2"/>
<text x="899.3" y="1113.4" font-size="15.5" fill="#222" text-anchor="end">1.5</text>
<text x="1020.8" y="878.3" font-size="19.3" font-weight="bold" fill="#000" text-anchor="middle">E13.5</text>
<text x="921.4" y="1167" font-size="16" fill="#222" textLength="212.4" lengthAdjust="spacingAndGlyphs">snATAC-seq rep1 (log<tspan font-size="9.9" dy="4">10</tspan><tspan dy="-4"> reads)</tspan></text>
<text transform="translate(867.2,1130.8) rotate(-90)" x="0" y="0" font-size="16" fill="#222" textLength="230.5" lengthAdjust="spacingAndGlyphs">Bulk ATAC-seq rep1 (log<tspan font-size="9.9" dy="4">10</tspan><tspan dy="-4"> reads)</tspan></text>
<g filter="url(#soft)">
<path fill="#151f84" d="M124 1482.3l-1.6-5.3-2.7-3-.2-3-2.5-2 .5-3-1.7-1-1.1-3 1.8-6-1-2 1.7-2-.2-1.1-2 1.2-1.3-1.1 2-2-.8-4 1.5-3-1.8-1 0-1 3.4 .2 .7-4.2 1.9-3-.4-2 .7-2-1.2-4 .9-2-.3-2 3.1-3-.4-1.4-1.9-.6 4.9-1 1.8-2-3.8-5 5-2.5 .8-1.5 2.2 .1 0-1.1 2-2-1-1.2-.8 .2-.2 1.6-1 .1-1.4-2.7 .4-.6 2-.9 1-2.7 6-.9 2.3-2.9 4.7-2.9-1-2.4 4-.4-1.8-3.3 .8-1.2 4-.1 1-1.9 2-.4 2-1.5 5 .9 3-.6 2.1-1.2-1.4-1 .5-1 1.8-.9 1.3 .9-.3 1.2 2.9-1.2 1.1-3.2 3.8 .2 1.2-3.4 1 2.5 2-.4 2 .5 2-1.2 4.6-6-.3-2 1.7-2.6 2-.9 2 2.1 1-.1 1-1.2 3-1.1 2.1-3.2 1.6-1-.7-2 1-.5 1 1.2 2.7-2.7 .3-5.4 2-.8 2-2.2 1 1.1 2 .1 3-1.1 2.9-2.7 1.1-3.4 5.2-.6 1.8-2 .5-2-2-2 4.5-3 3 1.1 1-.4 .6-.7-.4-3 1.8-1.8 2 .4 .5-.6-1.1-1 .6-1.1 2 .9 4-.4 .8-1.4-1.1-4 1.5-1 .8-2.2 9-2.3 1.8-3.5 2.8-1 .4-.9-.4-1.1-1.9-1 .4-1 4.9-.7 1 1.4 1 .1 2.1-1.8 1.9-5.6 6.3-3.4 .7-2.5 1.1-.5 1 1-.8 2 .8 5-2.1 .3-1 .9-1 3 1 .7 3-2.7 1 .3 0 1.5-3 1.9-1-.8-1 .2 1.5 3.7-5.3 5-.2 2 1.2 3-2.7 3 .5 1.6-3.5 4.4 .5 2-4 1.4-1 1.6 .8 2-1.8 2 .3 2-.9 3-2.3 2-.1 1.2-1.6-.2 .7-2-1-1-1.1 .6 .7 2.4-3.8 5-2.9 .9-1.6 2.1 1.6 4-2 1.4-4.1 .6 1 4-1.9 3-8 3.6-1 2.4 4-1.2 .7 2.2-3.5 2-2.2 5.3-2-.4-1-2.1-2 1.8 0 2 1.1 .4-1.1 .3-.9 1.7 .8 4-.9 .9-3 .1-1 2.1-1.5 .9-.6 2-2.8 3 2.1 2-.5 1-1.7 .6-1-2.1-1.7 .5-2.1 9-2.6 0-.4 1 .8 1-2 1.5-2 .3-1 3.7-3.1 1.5 .1 1.2 1.7 .8 .3 1-2 .3-1.2 2.7-3.1 2-.4 2 .7 2-4.9 2-2 2-.9 3-2.6 3-.9 4-6.7 3-.6 2 1.5 3-4.9 4-1.2 2-4.8 2 3 .5 1.4 1.5-1.4 1.3-2-.1-1.4 1.8-1.6 .2-1 2.5-3 1.8-2 2.5-2 1-2.2-1 1.1 2-.9 .7-2 1.2-3-.3-2.1 3.4-4.9 4.4-3-.4-4 2.7-2-.7-2 2.4-2 .7-4-.7zM257 1304.5l-1 .3-.7-.8 2.7-3.4 .6 .4zM212.6 1345l-.6-.9 0 1.6zM242.4 1359l.3-2-.7-1.1-1.2 2.1 1.2 1.6zM192.7 1363l.3-1.5-2.9 .5 .8 1zM185 1366.5l-2.1-.5-.1-1 1.2-1 1.3 1zM154.3 1383l1.8-1-2.1 .9-1.3-.9 .3 1zM222 1389l-.6-1 1.9 0zM137 1391.4l-1 .4-.5-.8 1.5-1.5 .5 .5zM123 1414.6l-1.5-1.6 1.5-1.3 .8 1.3zM119 1428.4l-1 .6-.6-1 .6-1.5z"/>
<path fill="#172492" d="M127 1480l-2.7-2-7.2-17 .8-7 6-30 0-3 5.6-8 1.9-6 2.9-2 .7-2 4.5-5 1.5-3.6 4.5-2.4 3.5-3.2 7-3.4 2-2.1 5.1-1.3 1.1-1-.3-2 2.1 1 1.6-1 .2-1 1.2 .5 9-3.1 2.1-1.4 .9-1.7 2-.4 10-6.9 5-5.1 3-1.5 20-17.4 2-3.6 2-.1 6.9-5.3 1.1-2.4 3.5-1.6 1.7-3 4-1 1.8-3.3 3-1 13.4-12.7 .5-1-.4-1 2.5 0 8-5.2 1.1 3.2-4.2 8 0 2-2.6 3-1.3 3.8-6.9 10.2-4.1 8 0 2.6-1-1.6-2 1.7-.1 2.3-3.9 3.1-6.3 8.9-.5 5-.7 0-.5-1.9-1 1.9-2 1-3.3 5-.7 3.1-3 1.9-2.3 5-3.4 4-3.3 6.2-5.7 5.8-3.1 5-.7 3-4 3-2.5 5.2-2 .8-7 9-1.6 3 .3 1-4.7 4.4-3.5 5.6-.1 1 2 1-.4 1-3-.8-.8 .8-1.2 3-4.3 5 .3 2.2-2 .1-7 9.3-3.1 2.4-2.9 4.6-4 2.1-5.5 4.3-2.5 3.3-10 5.3-2 0-2 1.2zM137 1398.2l-2 .4-1-1.6 1-.9 2 .1 .6 .8z"/>
<path fill="#1d37ab" d="M130 1478l-3 .6-1.9-1.6-5.8-15-.6-3 3.5-20 4-16 9.8-16.7 9.8-11.3 13.2-8.6 18.7-8.4 6-4 13.3-9.5 26.8-23.5 19.7-15 11.5-10.3 4-2.3 2 .5 .3 2.1-1.3 4-7 13-24 32.9-10.4 16.1-23.3 30-25.9 37-9.8 11-14.6 12.1z"/>
<path fill="#2653c7" d="M129 1477.2l-2 0-1.1-1.2-5.9-17 3.5-19 4.2-16 9.6-16 9.7-11 13-8.7 21-10 17-12.3 32-27.7 18-12.4 3 .1 .9 3-3.7 7-20.2 28.4-10.8 16.6-30.2 38.6-19.9 29.4-8.8 10-14.3 12.2z"/>
<path fill="#377bdd" d="M132 1475.1l-3 .8-2-.9-3-6.4-2.9-9.6 3.8-19 4.5-16 9.4-15 10.4-11 11.8-7.9 19-9.1 18-13 20-17.7 12.9-10.3 6.1-3.4 3.3 .4 1.1 1 .5 2-5.9 10.4-20.1 29.6-31.9 40.3-18.9 28.7-7.7 9-14.4 12.4z"/>
<path fill="#56a7eb" d="M131 1474l-2.9-1-2.1-2.7-3.5-9.3-.2-3 2.5-9 1.3-9 4.4-15 9.5-14.8 10-10.5 12-8.1 19.4-9.6 18.6-13.7 22-19.1 6-3.6 3 .6 2.2 2.8-.9 3-16.7 26-32.6 40.6-20.5 31.4-6 7-13.5 12z"/>
<path fill="#7ecddb" d="M133 1472.1l-2-.3-4-3.3-3-6.2-.6-4.3 2.6-9 1.1-8 4.5-15 9-14 9.4-10 11-7.8 21-10.8 18.2-13.4 15.8-13.3 4-1.6 1.9 .9 2.1 2 0 2.3-9.5 16.7-33.2 41-19.7 31-5.8 7-13.8 12.4z"/>
<path fill="#a1dc91" d="M135 1470.2l-3-.8-5-4.3-2-3.6-.4-3.5 2.2-8 1.4-9 4.8-15 8.7-13 9.3-9.7 11-7.8 20-10.3 25-18 2-.8 2 .8 3.6 3.8-2.3 6-33.3 41.3-18.9 30.7-5.9 7-12.2 11z"/>
<path fill="#bbdb3b" d="M137 1468.1l-3-.7-6-4.9-1.8-2.5-.4-2 3.5-17 6.2-17 8-11 9.5-9.3 12-8.1 17-8.2 9-5.4 2-.8 2 .4 5.2 4.4-.2 2-3 5-21 26.8-13.2 23.2-6.5 9-15.3 14.4z"/>
<path fill="#d7e030" d="M138 1466l-9-6.5-1.4-2.5 2.5-15 5.6-16 8.7-12 9.4-9 12.2-8 8-3 3 .5 8.1 6.5 .4 2-.8 2-11.3 16-11.4 21-5.4 8-8.6 9.1-7 5.8z"/>
<path fill="#ebe02a" d="M140 1463.3l-4-2.1-5.1-4.2-1.2-2 .9-11 5.4-15.9 9.3-13.1 7.7-7.3 9-5.4 3.6-.3 10 8 .4 3-14.8 28-4.5 7-9.7 10.8z"/>
<path fill="#f7d228" d="M143 1460.3l-3 .2-8-6.5-1.1-4 1-7 4.5-13 2.6-4.8 10-12 5-3.8 2.9-.4 11.4 9 1 2-.3 2-4.8 11-8 14-7.2 8.5z"/>
<path fill="#f4a22a" d="M144 1458.3l-3 0-7.7-6.3-1.2-3 .2-3 6.8-19 8.9-10.8 3-2.2 2-.3 11.8 9.3 .6 3-3.4 8.5-6.3 11.5-4.7 6z"/>
<path fill="#ed6a29" d="M144 1456.2l-2-.6-7-5.7-1.1-1.9 0-3 3.1-10.3 3-6.7 6-7 3-1.7 11.5 8.7 .9 3-3.4 8.8-4 6.7-5 5.9z"/>
<path fill="#e73e29" d="M148 1450.3l-3-.8-7-5.8-1-1.7 2-8.6 2-3.8 3-2.5 3 1.3 8.1 6.6 1.3 2-2.4 7-3 4.1z"/>
<path fill="#1d2a8c" d="M110.2 1445.2h2.6v2.6h-2.6zM121.2 1483.2h2.6v2.6h-2.6zM156.2 1373.2h2.6v2.6h-2.6zM228.2 1329.2h2.6v2.6h-2.6zM217.2 1332.2h2.6v2.6h-2.6zM147.2 1379.2h2.6v2.6h-2.6zM269.2 1289.2h2.6v2.6h-2.6zM224.2 1325.2h2.6v2.6h-2.6zM217.2 1336.2h2.6v2.6h-2.6zM224.2 1326.2h2.6v2.6h-2.6zM119.2 1413.2h2.6v2.6h-2.6zM118.2 1475.2h2.6v2.6h-2.6zM118.2 1426.2h2.6v2.6h-2.6zM261.2 1335.2h2.6v2.6h-2.6zM178.2 1454.2h2.6v2.6h-2.6zM225.2 1383.2h2.6v2.6h-2.6zM129.2 1402.2h2.6v2.6h-2.6zM260.2 1300.2h2.6v2.6h-2.6zM180.2 1368.2h2.6v2.6h-2.6zM275.2 1313.2h2.6v2.6h-2.6zM228.2 1330.2h2.6v2.6h-2.6zM156.2 1469.2h2.6v2.6h-2.6zM114.2 1469.2h2.6v2.6h-2.6zM221.2 1394.2h2.6v2.6h-2.6zM235.2 1318.2h2.6v2.6h-2.6zM208.2 1339.2h2.6v2.6h-2.6zM207.2 1342.2h2.6v2.6h-2.6zM112.2 1465.2h2.6v2.6h-2.6zM220.2 1391.2h2.6v2.6h-2.6zM197.2 1354.2h2.6v2.6h-2.6zM116.2 1431.2h2.6v2.6h-2.6zM245.2 1356.2h2.6v2.6h-2.6zM119.2 1432.2h2.6v2.6h-2.6zM206.2 1412.2h2.6v2.6h-2.6zM205.2 1348.2h2.6v2.6h-2.6zM119.2 1430.2h2.6v2.6h-2.6zM256.2 1298.2h2.6v2.6h-2.6zM246.2 1309.2h2.6v2.6h-2.6zM171.2 1367.2h2.6v2.6h-2.6zM211.2 1336.2h2.6v2.6h-2.6zM124.2 1410.2h2.6v2.6h-2.6zM112.2 1451.2h2.6v2.6h-2.6zM127.2 1404.2h2.6v2.6h-2.6zM178.2 1366.2h2.6v2.6h-2.6zM273.2 1308.2h2.6v2.6h-2.6zM262.2 1336.2h2.6v2.6h-2.6zM143.2 1476.2h2.6v2.6h-2.6zM269.2 1318.2h2.6v2.6h-2.6zM277.2 1285.2h2.6v2.6h-2.6zM285.2 1292.2h2.6v2.6h-2.6zM170.2 1369.2h2.6v2.6h-2.6zM247.2 1354.2h2.6v2.6h-2.6zM237.2 1362.2h2.6v2.6h-2.6zM175.2 1370.2h2.6v2.6h-2.6zM187.2 1442.2h2.6v2.6h-2.6zM240.2 1361.2h2.6v2.6h-2.6zM269.2 1326.2h2.6v2.6h-2.6zM180.2 1441.2h2.6v2.6h-2.6zM134.2 1482.2h2.6v2.6h-2.6zM125.2 1404.2h2.6v2.6h-2.6zM279.2 1305.2h2.6v2.6h-2.6zM214.2 1405.2h2.6v2.6h-2.6zM117.2 1471.2h2.6v2.6h-2.6zM206.2 1411.2h2.6v2.6h-2.6zM191.2 1434.2h2.6v2.6h-2.6zM133.2 1392.2h2.6v2.6h-2.6zM168.2 1369.2h2.6v2.6h-2.6zM218.2 1395.2h2.6v2.6h-2.6zM114.2 1433.2h2.6v2.6h-2.6zM162.2 1371.2h2.6v2.6h-2.6zM194.2 1428.2h2.6v2.6h-2.6zM150.2 1378.2h2.6v2.6h-2.6zM181.2 1442.2h2.6v2.6h-2.6zM276.2 1311.2h2.6v2.6h-2.6zM243.2 1314.2h2.6v2.6h-2.6zM157.2 1473.2h2.6v2.6h-2.6zM268.2 1323.2h2.6v2.6h-2.6zM254.2 1304.2h2.6v2.6h-2.6zM196.2 1427.2h2.6v2.6h-2.6zM215.2 1396.2h2.6v2.6h-2.6zM113.2 1445.2h2.6v2.6h-2.6zM119.2 1423.2h2.6v2.6h-2.6zM213.2 1402.2h2.6v2.6h-2.6zM136.2 1479.2h2.6v2.6h-2.6zM244.2 1354.2h2.6v2.6h-2.6zM117.2 1437.2h2.6v2.6h-2.6zM128.2 1396.2h2.6v2.6h-2.6zM150.2 1477.2h2.6v2.6h-2.6zM235.2 1376.2h2.6v2.6h-2.6zM210.2 1339.2h2.6v2.6h-2.6zM159.2 1468.2h2.6v2.6h-2.6zM128.2 1403.2h2.6v2.6h-2.6zM140.2 1482.2h2.6v2.6h-2.6zM204.2 1345.2h2.6v2.6h-2.6zM141.2 1481.2h2.6v2.6h-2.6zM161.2 1376.2h2.6v2.6h-2.6zM116.2 1474.2h2.6v2.6h-2.6zM218.2 1337.2h2.6v2.6h-2.6zM257.2 1298.2h2.6v2.6h-2.6zM204.2 1411.2h2.6v2.6h-2.6zM170.2 1373.2h2.6v2.6h-2.6zM265.2 1298.2h2.6v2.6h-2.6zM268.2 1294.2h2.6v2.6h-2.6zM255.2 1342.2h2.6v2.6h-2.6zM153.2 1377.2h2.6v2.6h-2.6zM180.2 1448.2h2.6v2.6h-2.6zM193.2 1357.2h2.6v2.6h-2.6zM120.2 1476.2h2.6v2.6h-2.6zM274.2 1310.2h2.6v2.6h-2.6zM205.2 1414.2h2.6v2.6h-2.6z"/>
<path fill="#2a3080" d="M316.5 1287.5h3v3h-3zM305.5 1302.5h3v3h-3zM236.5 1368.5h3v3h-3zM239.5 1372.5h3v3h-3zM228.5 1379.5h3v3h-3zM230.5 1381.5h3v3h-3zM221.5 1398.5h3v3h-3zM228.5 1392.5h3v3h-3zM206.5 1416.5h3v3h-3zM215.5 1399.5h3v3h-3zM172.5 1465.5h3v3h-3zM175.5 1448.5h3v3h-3zM152.5 1379.5h3v3h-3z"/>
</g>
<rect x="106.4" y="1280.6" width="220.2" height="211" fill="none" stroke="#4d4d4d" stroke-width="2"/>
<rect x="106.4" y="1280.6" width="81.4" height="35" fill="#fff" stroke="#4d4d4d" stroke-width="2"/>
<text x="119.4" y="1306.2" font-size="15" fill="#222" textLength="59" lengthAdjust="spacingAndGlyphs">R = 0.95</text>
<line x1="117.8" y1="1491.6" x2="117.8" y2="1501.6" stroke="#666" stroke-width="2"/>
<text x="119.7" y="1523.5" font-size="15.5" fill="#222" text-anchor="middle">1.5</text>
<line x1="160.9" y1="1491.6" x2="160.9" y2="1501.6" stroke="#666" stroke-width="2"/>
<text x="164.2" y="1523.5" font-size="15.5" fill="#222" text-anchor="middle">2.0</text>
<line x1="204.6" y1="1491.6" x2="204.6" y2="1501.6" stroke="#666" stroke-width="2"/>
<text x="210.6" y="1523.5" font-size="15.5" fill="#222" text-anchor="middle">2.5</text>
<line x1="248.8" y1="1491.6" x2="248.8" y2="1501.6" stroke="#666" stroke-width="2"/>
<text x="251.6" y="1523.5" font-size="15.5" fill="#222" text-anchor="middle">3.0</text>
<line x1="292.5" y1="1491.6" x2="292.5" y2="1501.6" stroke="#666" stroke-width="2"/>
<text x="300.7" y="1523.5" font-size="15.5" fill="#222" text-anchor="middle">3.5</text>
<line x1="96.9" y1="1304.9" x2="106.4" y2="1304.9" stroke="#666" stroke-width="2"/>
<text x="91.6" y="1310.5" font-size="15.5" fill="#222" text-anchor="end">3.5</text>
<line x1="96.9" y1="1352.1" x2="106.4" y2="1352.1" stroke="#666" stroke-width="2"/>
<text x="91.6" y="1357.7" font-size="15.5" fill="#222" text-anchor="end">3.0</text>
<line x1="96.9" y1="1399.9" x2="106.4" y2="1399.9" stroke="#666" stroke-width="2"/>
<text x="91.6" y="1405.5" font-size="15.5" fill="#222" text-anchor="end">2.5</text>
<line x1="96.9" y1="1447.6" x2="106.4" y2="1447.6" stroke="#666" stroke-width="2"/>
<text x="91.6" y="1453.2" font-size="15.5" fill="#222" text-anchor="end">2.0</text>
<text x="201.3" y="1252.7" font-size="19.3" font-weight="bold" fill="#000" text-anchor="middle">E14.5</text>
<text x="98.6" y="1541" font-size="16" fill="#222" textLength="229.1" lengthAdjust="spacingAndGlyphs">Bulk ATAC-seq rep1 (log<tspan font-size="9.9" dy="4">10</tspan><tspan dy="-4"> reads)</tspan></text>
<text transform="translate(55.2,1498.8) rotate(-90)" x="0" y="0" font-size="16" fill="#222" textLength="230" lengthAdjust="spacingAndGlyphs">Bulk ATAC-seq rep2 (log<tspan font-size="9.9" dy="4">10</tspan><tspan dy="-4"> reads)</tspan></text>
<g filter="url(#soft)">
<path fill="#151f84" d="M551 1478.4l-4-3.4 1.3-3-1.1-3-5.2 .6-1-.6 0-4.8-2 .6-1.6-1.8 .6-3.7 2 2.3 .2-.6-.5-7-1.6-2-.5-2 .4-.7 3.4 .7 .3-4-1-3 2.3-.6 .8-1.4-1.5-1-.7-3 1.4-.2 .8 1.2 1.3 0 1.6-3 0-1-1.4-1 .7-1.4 6-2.2 2 .4 1 2.2 1-.4 3-6.1 1.5-.5 1.5 1.6 4.2-2.6 .8-4 1-.9 2 .7 3-1.5 1-1.9 6-1.1 .7-3.3 2.1 0 0-2 1.2-1.3 1-.2 2 1 3-1.2 .5-1.3-1.1-1 2.6-2.7 3-.1 4.2-2.2 3.6-4 .8-2 2.4-.7 1-1.7 2-.6 .5-3 1.5-1.7 1-.6 2 1.4 2-2.1-.6-1 .6-1.4 3.3 .4 4-4 .9-3 5.8-2.4 1.4-2.6 2-1 .6-2.6 3.3-.4 1.7-4.9 4-2.5 2 .3 3-5.2 3-.1 3-1.6 2-4.7 1-.3 1 1.1 2.1-1.1 .9-3.4 3-.8 2 2.9 2.5 .3-4.5 4.6-4.3 1.4-1.3 4-2.8 3-.7 2-1.9 2.2-2.9 .8-2.1 3-2 6.2-3 1.9-2 .1-1.3 1.8 0 4-4.1 1-.3 1 1.1 2-.4 .6-3.2 1.4-2.6 3-.2 1.6-1-.8-1 .8-1.3 3.4 .3 3.6-5 2.8-3.8 4.6 1.5 2-5.7 4.8-1 4-2-.2-1 1.2 1 2.2-3 1.3-2.6 2.7-2.9 7-4.2 5 .1 2-2.4 2-1 3.2-2 1.6-2-.1-3.8 5.3-2.2 4.8-3-.5-.5 .7 1.7 3-.4 1-5.2 1-4.8 4 2.8 3-.6 2.5-1 .8-1-1.5-2 .2-4-1.9-1 .4-.9 1.5 3.2 2-5.1 3-1.2 1.7-1.4-.7-1.5-4-2.1-.6-1.9 .6 .1 2-1.2 2.3-1-1.3 .7-2-1.7-1.3-1.8 1.3-.2 1 2 2zM631 1395.5l-.7-.5 .7-1.1zM550.3 1434l-1.4 0 1.1 .7zM536 1448.6l-.9-1.6 .9-.3 .5 1.3zM537 1454.1l-3-.5 0-1.5 2-1 1.9 .9zM537 1459.5l-.8-.5 .8-.7 1 .7zM580 1466.5l-2.6-.5 .3-2 1.3-.2 1.8 1.2zM577 1468.1l-1 .6-.8-.7 1.8-1.5zM573 1473.9l-1 .1-.7-1 1.7-.5z"/>
<path fill="#172492" d="M557 1467.1l-.4-2.1-1.6-1.6-2 .3-.7-.7 .5-1-.8-.2-1.5-2.8-5.6-2 2.7-8-.2-3 3.1-4-1-2 .5-1.1 1-.9 2 .9 .9-1.9-.4-2 3.5-1.7 1.9-4.3 3.1-.3 35-24.7 54-46.6 4-2.4 1.8 0 .2 1.4-4 4.6 .1 2-3.1 1.7-9.4 11.3-22.9 31-1.6 4-2.1 1.3-4.8 6.7-12 18-.9 3-2.2 2-.1 2.5-1 .6-1-.7-1 .4-6.4 7.2-.6 3-2-1.3-1 .4-2.9 1.9-2.1 2.6-7.5 4.4-4.7 2-4.8 .8zM553 1432.6l-1 0-.1-1.6 1.1 .6zM543 1453.3l-1 .2-.5-1.5 1.5-.5 .9 .5zM543 1468.1l0-2.2 2.3-1.9 .5 1zM551 1469.4l-.7-1.4 .7-.7 1.2 .7zM562 1471.6l-1.2-.6 1.2-1.2z"/>
<path fill="#1d37ab" d="M567 1457.1l-3-1.1-8-6.9-1-1.6 1-4.5 5.6-11 13-11 25.2-18 44.2-38 4-2.8 1.6-.2-2.3 4-19.3 25.3-35 49.3-6 6.3-5 3.8z"/>
<path fill="#2653c7" d="M578 1450.2l-4 .4-2.9-.6-9.1-8-.2-5 2.4-5 10.6-10 25.2-18.3 32-27.7 11-8-1.8 4-46.2 64.8-10 9.8z"/>
<path fill="#377bdd" d="M579 1448.1l-3 .3-2-.6-9.1-7.8-.9-2 .2-2 2.8-5 9.1-9 24.5-18 28.4-24.4 8-5.6 .2 1-2.2 4-40 56.6-9 8.6z"/>
<path fill="#56a7eb" d="M580 1446.2l-3 .4-1.6-.6-8.4-7.1-.8-2.9 2.5-5 8.6-9 23.7-17.6 24-20.4 7-4.4-1.1 3.4-5.9 9-30.4 43-7.6 7.2z"/>
<path fill="#7ecddb" d="M581 1444.4l-4 0-8.5-7.4 0-3 2.5-4 7.3-8 22.8-17 20.9-17.4 5.2-2.6-.3 2-4.8 8-27.5 39-5.6 5.5z"/>
<path fill="#a1dc91" d="M580 1443.1l-3-1.4-5.5-4.7-1.3-2 .9-3 4.2-6 4-4 38.7-30.1 3-1.9 2-.1-.9 3.1-3.1 5.2-25.2 35.8-7.8 6.6z"/>
<path fill="#bbdb3b" d="M583 1441l-2 .3-2-.9-6.7-6.4 .7-3 3.2-5 4.1-4 30.7-23.6 7-4 .7 .6-.4 2-3.3 5.9-21 29.9-5 4.9z"/>
<path fill="#d7e030" d="M585 1439.1l-4 .1-6.7-6.2 .4-3 2.4-4 3.9-3.8 27-20.5 4-2.4 2.1-.3 .3 2-2.4 5-15.9 23-5.1 6.3z"/>
<path fill="#ebe02a" d="M584 1438l-2.4-1-5.5-5-.2-2 2-4 3.1-3.1 18.2-13.9 7.8-5.1 3-.7 .8 1.8-2.8 6-14 20-5 5.1z"/>
<path fill="#f7d228" d="M587 1436.3l-3 0-6-5-.6-2.3 .8-2 3.6-4 17.2-12.9 4-2.4 3-.4 1 1 .1 1.7-1.9 4-12.7 18z"/>
<path fill="#f4a22a" d="M587 1435.2l-2-.2-5.8-5-.4-2 1-2 3-3 15.2-11 3-1.4 2 .1 1 2.3-6 10.1-6.3 8.9z"/>
<path fill="#ed6a29" d="M589 1433.3l-3 .2-4.3-3.5-1.4-2 .6-2 3.1-3 9-6 2.1-1 2.3 0 1.5 2-1 3-4.9 8.1z"/>
<path fill="#e73e29" d="M590 1431.1l-2 .9-1-.4-4.7-4.6 1.7-2.5 5-2.6 2 .4 2.2 2.7z"/>
<path fill="#1d2a8c" d="M576.2 1410.2h2.6v2.6h-2.6zM626.2 1396.2h2.6v2.6h-2.6zM606.2 1389.2h2.6v2.6h-2.6zM640.2 1384.2h2.6v2.6h-2.6zM643.2 1376.2h2.6v2.6h-2.6zM614.2 1420.2h2.6v2.6h-2.6zM641.2 1381.2h2.6v2.6h-2.6zM544.2 1434.2h2.6v2.6h-2.6zM546.2 1429.2h2.6v2.6h-2.6zM609.2 1419.2h2.6v2.6h-2.6zM591.2 1446.2h2.6v2.6h-2.6zM605.2 1429.2h2.6v2.6h-2.6zM580.2 1462.2h2.6v2.6h-2.6zM533.2 1442.2h2.6v2.6h-2.6zM608.2 1427.2h2.6v2.6h-2.6zM616.2 1380.2h2.6v2.6h-2.6zM598.2 1441.2h2.6v2.6h-2.6zM585.2 1457.2h2.6v2.6h-2.6zM658.2 1355.2h2.6v2.6h-2.6zM603.2 1435.2h2.6v2.6h-2.6zM611.2 1418.2h2.6v2.6h-2.6zM541.2 1473.2h2.6v2.6h-2.6zM613.2 1420.2h2.6v2.6h-2.6zM537.2 1467.2h2.6v2.6h-2.6zM605.2 1389.2h2.6v2.6h-2.6zM542.2 1474.2h2.6v2.6h-2.6zM605.2 1433.2h2.6v2.6h-2.6zM555.2 1430.2h2.6v2.6h-2.6zM637.2 1360.2h2.6v2.6h-2.6zM561.2 1425.2h2.6v2.6h-2.6zM620.2 1375.2h2.6v2.6h-2.6zM660.2 1354.2h2.6v2.6h-2.6zM542.2 1434.2h2.6v2.6h-2.6zM592.2 1452.2h2.6v2.6h-2.6zM555.2 1479.2h2.6v2.6h-2.6zM662.2 1357.2h2.6v2.6h-2.6zM659.2 1361.2h2.6v2.6h-2.6zM620.2 1380.2h2.6v2.6h-2.6zM536.2 1440.2h2.6v2.6h-2.6zM607.2 1389.2h2.6v2.6h-2.6zM582.2 1461.2h2.6v2.6h-2.6zM639.2 1378.2h2.6v2.6h-2.6zM632.2 1368.2h2.6v2.6h-2.6zM556.2 1476.2h2.6v2.6h-2.6zM580.2 1464.2h2.6v2.6h-2.6zM534.2 1444.2h2.6v2.6h-2.6zM628.2 1374.2h2.6v2.6h-2.6zM665.2 1352.2h2.6v2.6h-2.6zM545.2 1476.2h2.6v2.6h-2.6zM576.2 1413.2h2.6v2.6h-2.6zM590.2 1403.2h2.6v2.6h-2.6zM537.2 1434.2h2.6v2.6h-2.6zM544.2 1469.2h2.6v2.6h-2.6zM612.2 1420.2h2.6v2.6h-2.6zM554.2 1479.2h2.6v2.6h-2.6zM670.2 1347.2h2.6v2.6h-2.6zM557.2 1424.2h2.6v2.6h-2.6zM624.2 1370.2h2.6v2.6h-2.6zM608.2 1385.2h2.6v2.6h-2.6zM547.2 1476.2h2.6v2.6h-2.6zM538.2 1435.2h2.6v2.6h-2.6zM626.2 1402.2h2.6v2.6h-2.6zM595.2 1401.2h2.6v2.6h-2.6zM660.2 1359.2h2.6v2.6h-2.6zM531.2 1450.2h2.6v2.6h-2.6zM559.2 1481.2h2.6v2.6h-2.6zM594.2 1451.2h2.6v2.6h-2.6zM600.2 1396.2h2.6v2.6h-2.6zM572.2 1476.2h2.6v2.6h-2.6zM653.2 1364.2h2.6v2.6h-2.6zM548.2 1428.2h2.6v2.6h-2.6zM540.2 1434.2h2.6v2.6h-2.6zM618.2 1412.2h2.6v2.6h-2.6zM571.2 1413.2h2.6v2.6h-2.6zM557.2 1479.2h2.6v2.6h-2.6zM668.2 1342.2h2.6v2.6h-2.6zM660.2 1355.2h2.6v2.6h-2.6zM627.2 1395.2h2.6v2.6h-2.6zM535.2 1449.2h2.6v2.6h-2.6zM579.2 1467.2h2.6v2.6h-2.6zM628.2 1373.2h2.6v2.6h-2.6zM653.2 1351.2h2.6v2.6h-2.6zM597.2 1443.2h2.6v2.6h-2.6zM540.2 1471.2h2.6v2.6h-2.6zM577.2 1466.2h2.6v2.6h-2.6zM595.2 1443.2h2.6v2.6h-2.6zM588.2 1404.2h2.6v2.6h-2.6zM649.2 1370.2h2.6v2.6h-2.6zM659.2 1359.2h2.6v2.6h-2.6zM539.2 1466.2h2.6v2.6h-2.6zM618.2 1382.2h2.6v2.6h-2.6zM659.2 1347.2h2.6v2.6h-2.6zM592.2 1448.2h2.6v2.6h-2.6zM663.2 1341.2h2.6v2.6h-2.6zM568.2 1470.2h2.6v2.6h-2.6zM540.2 1440.2h2.6v2.6h-2.6zM635.2 1385.2h2.6v2.6h-2.6zM540.2 1435.2h2.6v2.6h-2.6zM595.2 1447.2h2.6v2.6h-2.6zM640.2 1383.2h2.6v2.6h-2.6zM594.2 1398.2h2.6v2.6h-2.6zM594.2 1397.2h2.6v2.6h-2.6zM663.2 1356.2h2.6v2.6h-2.6zM537.2 1444.2h2.6v2.6h-2.6zM573.2 1477.2h2.6v2.6h-2.6zM549.2 1478.2h2.6v2.6h-2.6zM575.2 1463.2h2.6v2.6h-2.6zM544.2 1431.2h2.6v2.6h-2.6zM574.2 1464.2h2.6v2.6h-2.6zM594.2 1449.2h2.6v2.6h-2.6z"/>
<path fill="#2a3080" d="M515.5 1446.5h3v3h-3zM528.5 1449.5h3v3h-3zM547.5 1482.5h3v3h-3zM559.5 1482.5h3v3h-3zM572.5 1482.5h3v3h-3zM554.5 1476.5h3v3h-3zM592.5 1449.5h3v3h-3zM615.5 1382.5h3v3h-3zM609.5 1389.5h3v3h-3zM625.5 1377.5h3v3h-3zM633.5 1370.5h3v3h-3zM668.5 1338.5h3v3h-3zM670.5 1341.5h3v3h-3zM672.5 1331.5h3v3h-3zM677.5 1321.5h3v3h-3zM681.5 1323.5h3v3h-3zM689.5 1320.5h3v3h-3zM693.5 1312.5h3v3h-3zM705.5 1299.5h3v3h-3zM719.5 1287.5h3v3h-3z"/>
</g>
<rect x="509.3" y="1280.6" width="219.5" height="211" fill="none" stroke="#4d4d4d" stroke-width="2"/>
<rect x="509.3" y="1280.6" width="81" height="35" fill="#fff" stroke="#4d4d4d" stroke-width="2"/>
<text x="522.3" y="1306.2" font-size="15" fill="#222" textLength="59" lengthAdjust="spacingAndGlyphs">R = 0.96</text>
<line x1="538.3" y1="1491.6" x2="538.3" y2="1501.6" stroke="#666" stroke-width="2"/>
<text x="537.7" y="1523.5" font-size="15.5" fill="#222" text-anchor="middle">1</text>
<line x1="589.6" y1="1491.6" x2="589.6" y2="1501.6" stroke="#666" stroke-width="2"/>
<text x="589.6" y="1523.5" font-size="15.5" fill="#222" text-anchor="middle">2</text>
<line x1="641.5" y1="1491.6" x2="641.5" y2="1501.6" stroke="#666" stroke-width="2"/>
<text x="642" y="1523.5" font-size="15.5" fill="#222" text-anchor="middle">3</text>
<line x1="693.3" y1="1491.6" x2="693.3" y2="1501.6" stroke="#666" stroke-width="2"/>
<text x="693.3" y="1523.5" font-size="15.5" fill="#222" text-anchor="middle">4</text>
<line x1="499.8" y1="1288.8" x2="509.3" y2="1288.8" stroke="#666" stroke-width="2"/>
<line x1="499.8" y1="1316.1" x2="509.3" y2="1316.1" stroke="#666" stroke-width="2"/>
<text x="494.6" y="1321.7" font-size="15.5" fill="#222" text-anchor="end">4</text>
<line x1="499.8" y1="1343.9" x2="509.3" y2="1343.9" stroke="#666" stroke-width="2"/>
<line x1="499.8" y1="1371.2" x2="509.3" y2="1371.2" stroke="#666" stroke-width="2"/>
<text x="494.6" y="1376.8" font-size="15.5" fill="#222" text-anchor="end">3</text>
<line x1="499.8" y1="1399" x2="509.3" y2="1399" stroke="#666" stroke-width="2"/>
<line x1="499.8" y1="1426.3" x2="509.3" y2="1426.3" stroke="#666" stroke-width="2"/>
<text x="494.6" y="1431.9" font-size="15.5" fill="#222" text-anchor="end">2</text>
<line x1="499.8" y1="1453.9" x2="509.3" y2="1453.9" stroke="#666" stroke-width="2"/>
<line x1="499.8" y1="1481.2" x2="509.3" y2="1481.2" stroke="#666" stroke-width="2"/>
<text x="494.6" y="1486.8" font-size="15.5" fill="#222" text-anchor="end">1</text>
<text x="617.5" y="1252.7" font-size="19.3" font-weight="bold" fill="#000" text-anchor="middle">E14.5</text>
<text x="513.7" y="1541" font-size="16" fill="#222" textLength="212.9" lengthAdjust="spacingAndGlyphs">snATAC-seq rep1 (log<tspan font-size="9.9" dy="4">10</tspan><tspan dy="-4"> reads)</tspan></text>
<text transform="translate(472.1,1492.6) rotate(-90)" x="0" y="0" font-size="16" fill="#222" textLength="211.5" lengthAdjust="spacingAndGlyphs">snATAC-seq rep2 (log<tspan font-size="9.9" dy="4">10</tspan><tspan dy="-4"> reads)</tspan></text>
<g filter="url(#soft)">
<path fill="#151f84" d="M968 1480.2l-1 .1-1-1.6-1-.1-3 1.7-2-.4-2 .7-1-.3-1-2-3-.1-1-1.8-2.2-.4-1.6-3-3-3-1.5-5-2.7-2.7-3.2-.3 2.2-2.3 3.3-1.7 .7-4.8 3.7-1.2-.5-2 2.3-3 2.7 0-.4-3 3.2-2 .7-2 2-2-1.2-2 .5-1.3 1 0 1 2.3 2 .3 1-7.6 5-3.2 2 .7 1.7-1.2 3.3-3 2-4 2.7-2 .9-3 3.4 1-.1-2 3.6-3 0-2 1.5 .7 1.4-.7 .6-2-.9-1 1.5-1-.8-2 3.4-1 .6-1-.8-2 .5-1 1.5-.7 3 .2 1.1-2.5 2.6-1 0-1-1.2-1 2.1-2 .4-2.1 4-1.8 2 .1 .6-1.2-1.5-2 .9-3.4 2-1.1 2 .2 2-3.2 2.1 .5-1.3-2 2.3-2 2.9-1 .3-2-1.1-1 .2-1 3 0 .6-1-.9-2 .9-1 2 .9 1-.3 1-3.1 2.7-.5 .3-1-1-2 .6-1 1.4-.3 2 .9 2-1.5-.9-6.1 .9-1.8 .8 .8-.1 2 2.5 0 .7-1-1.4-2 .5-1.2 2 .9 1.4-1.7-.4-.9-1.3-.1 3.3-.9 3 .6 1.4-2.7-.1-3 4.7-2.5 4-5 3.4-.5 .4-1-.7-2 .9-1.5 6 1.6 .9 .9 .1 2-2.5 3 1 2 2.5 .5 .3 1.5-2.3 .2-1.4 1.8 .4 1.6 2 1 .6 1.4-.6 1-4.4 0-.4 1 2.5 3-.7 1.3-2-1.2-.7 .9 2.3 5-.4 1-1.3 0-.1 3-.8 .5-2-1-3.4 2.5 .4 1.1 2.9 .9-.3 1-3.9 1 .2 4-1.9 2.8-1.4 6.2 1.7 2-.6 1-2.7 1-2 4.9-2.1 2.1 1.1 1.2 0 1.3-4.7 .5-1.3 4.3-2 1.7 .3 3-.8 3-.5 1-1-.5-1.4 1.5 0 1 2.4 .7 0 1.3-3.8 3 .3 3-4.3 4 1.6 2-.8 .9-1-.3-5.9 2.4 .1 1 1.8 1 .3 4-3.7 1-1 2 .5 2-4.1 4.4-.4 2.6-1.7 2 2.1-.7 1.3 .7 .1 4-.4 .6-2-1.1-2 .2 0 3.3-5.3 5 .6 3-2.3 2 1.6 3-.4 2-2.2 2.2-1-1.6-4 1.2-.3 1.2 1.1 2-1.8 1.4-2-.1-2 2.1-7 1.3-1 4.4-1.3-.1-.4-2-1.3-1-1.7 1-.3 2-2 1.5-2-1.2-6 0-4-1zM1058 1328.2l-1.3-.2 .3-2.1 1.7 1.1zM1068 1326.6l-.5-.6 .7 0zM1054 1330.3l-1.2-.3 .2-1.8 1.8 .8zM1013 1374.5l-.6-.5 .6-1.3 1 1.3zM1012.4 1381l-.4-1.6-.7 1.6 .7 .5zM1006 1383.7l-1 .3-.7-1 .7-1.5 1.7 .5zM1047.5 1383l-1.5-1.7-1 1.7 2 1zM999 1392.7l-.7-.7 1 0zM1044 1396.6l0-.9 .5 .3zM1034.4 1410l-1.8 0 .4 .8zM969 1425.2l-.4-1.2 1.4-.8 .8 .8zM969.2 1430l-.2-.9-1.4 .9zM946 1450.1l-.3-1.1 1.1 0zM959.8 1478l-.2-1-1.9 0-.1 1 1.4 .8z"/>
<path fill="#172492" d="M1063 1329.9l-.6-1.9 .6-1.2 1 1.2zM965 1477.1l-2 .4-3-1.9-8-2.3-4.4-2.3-2.6-6.4-1.8-1.6 5.8-10 4.8-5 1.8-4 2.4-.5 3.4-3.5 .6-1.6 3.2-2.4 .8-2 3-1.5 6.5-6.5 2.3-3-.7-3 4.9-1.7 2.6-2.3 .4-2 3-1.7 4-6 7.3-7.3 1.3-4 3.7-2 .6-1-.8-2 3.4-1-1.3-1 .3-1 1.5 1 2-1.3 4.6-5.7 1.4-4 2 .1 1-.9 9.8-11.2 6.5-6 2.7-3.2 1-3.5 2.5-.3 6.5-7 2-3.3 2.7-1.7 5.3-6.4 4-1.1 1.3 1.5-.9 6-6 17-2.6 4-5.3 13-9.2 17-.3 1.6 1 .8-2 .7-3 5-.8 2.9-4.2 7-.8 4-1.2 .3-4.6 8.7-1 6-2.9 2-2.7 7 .1 2-2.7 5-2 6-6.6 9 .5 2-2.1 .7-2.4 2.3-2.8 3-.7 2-8.1 2.8-2 1.4-10 2.7-8-.2zM1043 1347.8l-.8-.8 .8-1 .7 1zM1029 1418.4l-1.1-.4 1.1-.1zM943 1462.8l0-1 .8 .2z"/>
<path fill="#1d37ab" d="M967 1474.1l-5 .4-12.4-4.5-3-6 .2-4 12.2-14.7 26.7-27.3 40.6-47 23.7-24.1 4-3.1 2-.1 .6 2.3-.9 4-10.4 25-27.3 53.5-6.8 17.5-6.9 11-7.5 9-2.8 2.3-12 4.2z"/>
<path fill="#2653c7" d="M967 1472.1l-5 .3-8.8-3.4-4.2-4.4-.7-2.6 .8-2 11.6-14 26.3-26.7 40.9-47.3 17.1-16.5 3-1.8 1.4 .3 .6 2-.8 4-6 15-27.2 53.4-6.3 16.6-6.8 11-7.9 9.4-3 1.9-11 3.5z"/>
<path fill="#377bdd" d="M968 1470.1l-5 .4-5-2.1-6.5-5.4-.5-1 .6-2 10.3-13 26.1-26.4 41-47.3 10-8.8 2-.9 2 .4 .8 3-2.7 8-26.7 53-6.4 17-6.3 10-7.5 9-3.1 2-10.1 3.3z"/>
<path fill="#56a7eb" d="M980 1468l-16 .3-8.6-6.3-.8-1 .2-2 8-11 26.8-27 37.4-43.1 6-5.3 2-.9 1.8 .3 1.4 2-1.2 5-24 48.5-7.8 19.5-5.2 8-7 8.2-6 2.9z"/>
<path fill="#7ecddb" d="M974 1467l-7-.2-3-1.4-6.4-5.4-.4-2 1-2 5.8-7.4 26.6-26.6 31.4-36.3 6-5.2 2-.4 1 .5 1.2 2.4-1.2 4.4-19.3 39.6-5.8 16-5.3 9-9.6 11-9 3.4z"/>
<path fill="#a1dc91" d="M982 1465.2l-9 .6-5-.5-7.2-5.3-1.3-3 5.5-7.7 26.4-26.3 25.6-29.2 4-3.4 2.1-.4 2.2 2-.3 4-14.7 31-6.3 17-5.6 9-6.4 7.6-3 2z"/>
<path fill="#bbdb3b" d="M982 1464.1l-8 .5-4.2-.6-6.8-5-1-1-.2-2 4.1-6 26.2-26 16.9-18.5 4-3.5 3-.1 1.9 2.1-.9 4.8-8.1 18.2-6.2 17-5.7 9-6 6.9z"/>
<path fill="#d7e030" d="M981 1463.2l-7 .2-3-.9-6.8-5.5 .3-3 2.9-4 34.6-34.7 4-2.9 2 .5 2.4 2.1 .4 3-8.8 25-5.6 9-6 7z"/>
<path fill="#ebe02a" d="M981 1462.2l-5 .2-3.8-1.4-5.9-5 .2-3 10.5-11.3 16-15.2 6-5.2 3-.3 3 2.5 .5 2.5-4.2 16-5.5 9-5.8 6.9z"/>
<path fill="#f7d228" d="M981 1461l-3 .4-3.9-1.4-5.9-5-.1-2 9.9-10.8 13-12.2 4-2.6 2 .2 4 3.1 1 1.8-.2 4.5-1.7 5-5.1 8.4-5.6 6.6z"/>
<path fill="#f4a22a" d="M979 1460.1l-3-1.1-4.9-4-.8-1 .2-2 8.1-9 8.4-7.8 5-3.8 3 .2 4 3.3 .9 2.1-.7 4-2 4-4.7 7-4.5 4.9z"/>
<path fill="#ed6a29" d="M985 1457l-4 .8-2-.6-5.1-4.2-.3-2 6.5-8 6.9-6.1 4-1.8 5.4 3.9 .6 3-6 10.2-3 3.2z"/>
<path fill="#e73e29" d="M987 1454.2l-2 .6-2-.7-4-3.2-1.2-1.9 3.2-5 6-3.5 5 3.5 .6 2-2.4 5z"/>
<path fill="#1d2a8c" d="M938.2 1463.2h2.6v2.6h-2.6zM1027.2 1425.2h2.6v2.6h-2.6zM1069.2 1329.2h2.6v2.6h-2.6zM1053.2 1382.2h2.6v2.6h-2.6zM1023.2 1433.2h2.6v2.6h-2.6zM1021.2 1359.2h2.6v2.6h-2.6zM1068.2 1340.2h2.6v2.6h-2.6zM987.2 1482.2h2.6v2.6h-2.6zM970.2 1483.2h2.6v2.6h-2.6zM1007.2 1379.2h2.6v2.6h-2.6zM1051.2 1328.2h2.6v2.6h-2.6zM1006.2 1378.2h2.6v2.6h-2.6zM1063.2 1349.2h2.6v2.6h-2.6zM1071.2 1335.2h2.6v2.6h-2.6zM996.2 1389.2h2.6v2.6h-2.6zM1015.2 1455.2h2.6v2.6h-2.6zM977.2 1408.2h2.6v2.6h-2.6zM1019.2 1437.2h2.6v2.6h-2.6zM939.2 1457.2h2.6v2.6h-2.6zM1022.2 1436.2h2.6v2.6h-2.6zM1066.2 1318.2h2.6v2.6h-2.6zM1006.2 1468.2h2.6v2.6h-2.6zM1067.2 1320.2h2.6v2.6h-2.6zM986.2 1476.2h2.6v2.6h-2.6zM982.2 1481.2h2.6v2.6h-2.6zM1031.2 1423.2h2.6v2.6h-2.6zM969.2 1482.2h2.6v2.6h-2.6zM1034.2 1414.2h2.6v2.6h-2.6zM987.2 1404.2h2.6v2.6h-2.6zM973.2 1420.2h2.6v2.6h-2.6zM1049.2 1329.2h2.6v2.6h-2.6zM1067.2 1343.2h2.6v2.6h-2.6zM987.2 1477.2h2.6v2.6h-2.6zM974.2 1478.2h2.6v2.6h-2.6zM1069.2 1323.2h2.6v2.6h-2.6zM993.2 1395.2h2.6v2.6h-2.6zM993.2 1476.2h2.6v2.6h-2.6zM1065.2 1356.2h2.6v2.6h-2.6zM1043.2 1391.2h2.6v2.6h-2.6zM1016.2 1445.2h2.6v2.6h-2.6zM1044.2 1392.2h2.6v2.6h-2.6zM946.2 1450.2h2.6v2.6h-2.6zM942.2 1464.2h2.6v2.6h-2.6zM983.2 1405.2h2.6v2.6h-2.6zM968.2 1422.2h2.6v2.6h-2.6zM1050.2 1384.2h2.6v2.6h-2.6zM935.2 1462.2h2.6v2.6h-2.6zM942.2 1457.2h2.6v2.6h-2.6zM938.2 1462.2h2.6v2.6h-2.6zM1031.2 1425.2h2.6v2.6h-2.6zM1006.2 1380.2h2.6v2.6h-2.6zM1041.2 1404.2h2.6v2.6h-2.6zM1068.2 1323.2h2.6v2.6h-2.6zM1003.2 1469.2h2.6v2.6h-2.6zM1047.2 1332.2h2.6v2.6h-2.6zM1072.2 1334.2h2.6v2.6h-2.6zM1029.2 1351.2h2.6v2.6h-2.6zM1016.2 1367.2h2.6v2.6h-2.6zM1015.2 1450.2h2.6v2.6h-2.6zM1000.2 1383.2h2.6v2.6h-2.6zM1010.2 1371.2h2.6v2.6h-2.6zM1057.2 1324.2h2.6v2.6h-2.6zM971.2 1417.2h2.6v2.6h-2.6zM1044.2 1341.2h2.6v2.6h-2.6zM1071.2 1340.2h2.6v2.6h-2.6zM1050.2 1329.2h2.6v2.6h-2.6zM970.2 1418.2h2.6v2.6h-2.6zM973.2 1416.2h2.6v2.6h-2.6zM995.2 1476.2h2.6v2.6h-2.6zM1047.2 1339.2h2.6v2.6h-2.6zM988.2 1401.2h2.6v2.6h-2.6zM1034.2 1415.2h2.6v2.6h-2.6zM1056.2 1328.2h2.6v2.6h-2.6zM958.2 1480.2h2.6v2.6h-2.6zM1045.2 1382.2h2.6v2.6h-2.6zM986.2 1404.2h2.6v2.6h-2.6zM1061.2 1362.2h2.6v2.6h-2.6zM943.2 1471.2h2.6v2.6h-2.6zM1073.2 1329.2h2.6v2.6h-2.6zM1012.2 1375.2h2.6v2.6h-2.6zM1055.2 1367.2h2.6v2.6h-2.6zM953.2 1434.2h2.6v2.6h-2.6zM1023.2 1442.2h2.6v2.6h-2.6zM1013.2 1458.2h2.6v2.6h-2.6zM1054.2 1369.2h2.6v2.6h-2.6zM1052.2 1326.2h2.6v2.6h-2.6zM1011.2 1457.2h2.6v2.6h-2.6zM959.2 1432.2h2.6v2.6h-2.6zM1039.2 1407.2h2.6v2.6h-2.6zM1036.2 1410.2h2.6v2.6h-2.6zM1035.2 1343.2h2.6v2.6h-2.6zM1017.2 1451.2h2.6v2.6h-2.6zM1068.2 1319.2h2.6v2.6h-2.6zM1056.2 1372.2h2.6v2.6h-2.6zM1007.2 1469.2h2.6v2.6h-2.6zM1054.2 1323.2h2.6v2.6h-2.6zM1049.2 1388.2h2.6v2.6h-2.6zM1072.2 1322.2h2.6v2.6h-2.6zM1065.2 1349.2h2.6v2.6h-2.6zM1025.2 1358.2h2.6v2.6h-2.6zM1048.2 1333.2h2.6v2.6h-2.6zM1011.2 1454.2h2.6v2.6h-2.6zM1032.2 1424.2h2.6v2.6h-2.6zM1043.2 1394.2h2.6v2.6h-2.6zM953.2 1436.2h2.6v2.6h-2.6zM1019.2 1364.2h2.6v2.6h-2.6zM1063.2 1321.2h2.6v2.6h-2.6zM1020.2 1367.2h2.6v2.6h-2.6zM1060.2 1320.2h2.6v2.6h-2.6zM1016.2 1456.2h2.6v2.6h-2.6z"/>
<path fill="#2a3080" d="M919.5 1455.5h3v3h-3zM931.5 1453.5h3v3h-3zM973.5 1415.5h3v3h-3zM984.5 1406.5h3v3h-3zM986.5 1399.5h3v3h-3zM1075.5 1287.5h3v3h-3zM1071.5 1296.5h3v3h-3zM1080.5 1322.5h3v3h-3zM1071.5 1339.5h3v3h-3zM1107.5 1369.5h3v3h-3zM1121.5 1375.5h3v3h-3zM1084.5 1382.5h3v3h-3zM1091.5 1404.5h3v3h-3zM1095.5 1410.5h3v3h-3zM1056.5 1387.5h3v3h-3zM1051.5 1391.5h3v3h-3zM1053.5 1394.5h3v3h-3zM1050.5 1397.5h3v3h-3zM1045.5 1408.5h3v3h-3zM1044.5 1417.5h3v3h-3zM1035.5 1415.5h3v3h-3zM1033.5 1423.5h3v3h-3zM1037.5 1435.5h3v3h-3zM1037.5 1445.5h3v3h-3zM1026.5 1448.5h3v3h-3zM1021.5 1453.5h3v3h-3zM975.5 1481.5h3v3h-3zM958.5 1478.5h3v3h-3z"/>
</g>
<rect x="913.2" y="1280.6" width="219.3" height="211" fill="none" stroke="#4d4d4d" stroke-width="2"/>
<rect x="913.2" y="1280.6" width="80.6" height="35" fill="#fff" stroke="#4d4d4d" stroke-width="2"/>
<text x="926.2" y="1306.2" font-size="15" fill="#222" textLength="59" lengthAdjust="spacingAndGlyphs">R = 0.92</text>
<line x1="940.5" y1="1491.6" x2="940.5" y2="1501.6" stroke="#666" stroke-width="2"/>
<text x="937.8" y="1523.5" font-size="15.5" fill="#222" text-anchor="middle">1</text>
<line x1="992.4" y1="1491.6" x2="992.4" y2="1501.6" stroke="#666" stroke-width="2"/>
<text x="993.2" y="1523.5" font-size="15.5" fill="#222" text-anchor="middle">2</text>
<line x1="1045.1" y1="1491.6" x2="1045.1" y2="1501.6" stroke="#666" stroke-width="2"/>
<text x="1045.7" y="1523.5" font-size="15.5" fill="#222" text-anchor="middle">3</text>
<line x1="1097" y1="1491.6" x2="1097" y2="1501.6" stroke="#666" stroke-width="2"/>
<text x="1097.5" y="1523.5" font-size="15.5" fill="#222" text-anchor="middle">4</text>
<line x1="903.7" y1="1313.9" x2="913.2" y2="1313.9" stroke="#666" stroke-width="2"/>
<text x="899.3" y="1319.5" font-size="15.5" fill="#222" text-anchor="end">3.5</text>
<line x1="903.7" y1="1355.6" x2="913.2" y2="1355.6" stroke="#666" stroke-width="2"/>
<text x="899.3" y="1361.2" font-size="15.5" fill="#222" text-anchor="end">3.0</text>
<line x1="903.7" y1="1397.1" x2="913.2" y2="1397.1" stroke="#666" stroke-width="2"/>
<text x="899.3" y="1402.7" font-size="15.5" fill="#222" text-anchor="end">2.5</text>
<line x1="903.7" y1="1438.9" x2="913.2" y2="1438.9" stroke="#666" stroke-width="2"/>
<text x="899.3" y="1444.5" font-size="15.5" fill="#222" text-anchor="end">2.0</text>
<line x1="903.7" y1="1480.4" x2="913.2" y2="1480.4" stroke="#666" stroke-width="2"/>
<text x="899.3" y="1486" font-size="15.5" fill="#222" text-anchor="end">1.5</text>
<text x="1020.8" y="1252.7" font-size="19.3" font-weight="bold" fill="#000" text-anchor="middle">E14.5</text>
<text x="921.4" y="1541" font-size="16" fill="#222" textLength="212.4" lengthAdjust="spacingAndGlyphs">snATAC-seq rep1 (log<tspan font-size="9.9" dy="4">10</tspan><tspan dy="-4"> reads)</tspan></text>
<text transform="translate(867.2,1504.8) rotate(-90)" x="0" y="0" font-size="16" fill="#222" textLength="230.5" lengthAdjust="spacingAndGlyphs">Bulk ATAC-seq rep1 (log<tspan font-size="9.9" dy="4">10</tspan><tspan dy="-4"> reads)</tspan></text>
<g filter="url(#soft)">
<path fill="#151f84" d="M126 1856.9l-5-1.9-3 .4-1.2-1.4-1.6-4-.2-3.2-2.4-2.8 1-2-1.6-1.8 .6-2.2-1.2-2 1.2-10 .4-1 .1 2 .9 .8 1.2-1.8-.3-3 1.9-4-.8-2.5-1.9-1.5 .2-1 .7-.6 4 1.1 .2-1.5-2.7-3 2.5-1.4 2 .1 3.5-2.7-.2-5 .7-1.6 2-1.1 2 1.8 1.9-.1 2.1-4.3 3-2.4 2-.1 2-1.7 3 .3 .8-.8-.3-1 3.5-1 1-2 3-1.9 2 .3 1-.7 2.7-3.7 .3-2.1 2-.2 2 1.7 2.5-2.4 1-5 .9-1 1.5 0 1.1 3.7 1-.4 2.2-2.3 .8-4.2 11-3 1.5-1.8-.8-2 3.3 .2 2-2.2 3-.3 .8-2.7 1.2-1 2 1.7 3-1.1 .9-2.6-.4-2 4.5-3.8 2 1.4 2.3-2.6 .4-3 2.3-2.2 4-.4 0-2.5 1-.2 2 1.2 2-.3 1-2 3.5-1.6 .5-1.6 4.7-2.4-.4-1 5-3 .7-1-1.6-2 1.6-2.8 2 2.9 1-.6 2-4.2 4-.4 .7-1.9-2.2-1 .4-1 4.6 0 .2-2 3.9-2-.8-2 2.7-5 1 0 1.5 2.7 1.7-1.7-.6-3 1.9-2.9 2 .4 2-1 1.4-3.5 3.6-1.4 .6-.6-.4-2 1.8-2.8 5 .6 1.2-.8-.9-2 2.7-.5 .6-1.5-.7-1 1.1-.7 2 1.6 1-.1 4.1-3.8-3.2-1 1.1-1.6 3-.4 2-1.4 6-.4 1.7 2.8-.7 2.2-4-1-1.2 .8 .2 1 3.2 2 0 1-2.2-.7-1 .4 .1 3.3-1.1 .9-1.4-.9-.1-2-2.1 0 .4 3-1.3 6-3.1 1-3.4 8.2-1 .8-2.3-2-.5 1 2 3-.5 2-1.7 .7-2-1.4-1 2.3-3-.2-2.5 3.6-.5 4.4-3.2 2.6 .3 3-2.1 .7-2-.4-1 .7-1 2.8-2.1 .2 .1 1.5 1 .4 1-1.5 .9 1.6-.5 1-2.4 .2-1 .8 .9 3-2.9 0-1 1.9-1 .3-1-1.3-1.8 4.1 1.2 1-.4 1.5-1 .8-.9-.3-.5-1 .7-1-.9 0-1.2 2-1.7 1-2.5 4.3-4 2.7-3 6.7-4 2.1 1.9 1.2-.1 1-1.8 1.6-2-1.5-2 1.6 .4 1.3 2.6 1-.3 1-2.7 .6-1 1.8-3-.4-1.6 1-2.3 6 .2 2-3.7 0-4 3-.2 2 3.2 1-.6 1.6-2.4 1.4-.6 1.4-1.1-.4 .6-1-.5-1-3.5 1-1.3 3 1.6 2-4.6 2-.2 2-2.5 3-3.5 .3-3.1 2.7-.1 1 1 1-.2 1-1.7 1 .5 2-3.4-.9-1.3 1.9 1.1 1-.8 2-1 1.1-2-.1-.5 1 1.5 3.2-1 .6-3-.7-.9 .9 .3 3-4.4 .6-2 4.8-2-.9-1.2 .5-2.8 4 .6 2-7.6 3.7-.9 2.3-2.1 2 0 1.2 2 .6-.4 1.2-4.6 3.4-2 .7-6-.2-4.4 2.1-1 2-2.6 1.3-3-1.2-6 2.2-2.1 1.7zM270 1714.8l-1.4-.8 .4-1.6 1.2 .6zM240 1719.4l-.8-1.4 1.8-.9 .5 .9zM169 1771.6l-1.7-.6 1.7-1.1z"/>
<path fill="#172492" d="M295 1678.6l-1.4-.6 1.4-.1zM287 1683.5l0-.8 .8 .3zM123 1854.1l-4-.1-1.9-2-2.7-17 4.4-17 2.3-5-.3-1 2.2-1.4 4.9-7.6 3.1-1.3 7-4.7 2.9-4 3.1 .4 32-21.2 16.3-9.2 1.7-3.2 3-.4 2-1.3 10-9 3.8-2.1 1.2-1.9 5-2.7 12.9-10.4 6.7-6 2-4 1.4 .3 2-.9 2-2.6 8.9-6.8 7.5-7-.3-2 .8-1 2.1 0 4.6-4 .5-1-.7-1 1.6-1.7 1 .7 2-.4 1.5-2.6 4.8-2 .1 3-1.7 2 .9 3-.6 1.2-2.9 .8-3.1 2.8-1 2.2-2 1.6-4.6 6.4-1.4 3.1-16.3 18.9-7.2 9 0 1-7.5 7.1-11.1 12.9-.5 2-3.4 2.4-3.2 3.6-.8 2.2-3 2.3-12.3 13.5-1.7 3.8-2 .6-5 5.6-9.4 12-7.3 8-1.3 3-2 .3-5 5.6-6.3 5.1-.9 2-3.8 2.3-2.7 2.7-12.3 6.7zM272 1693.4l-1 .5 0-2.2 1.8 .3zM274 1706.2l-1.5-.2 .5-.5zM198 1796.1l-1-1.1 1-.6z"/>
<path fill="#1d37ab" d="M124 1852.2l-4 .7-2-1.5-1.7-17.4 4.4-17 7.7-11 12.6-9 53-33.2 34-26.6 33-27.6 3.7-1.6-1.5 4-5.2 8-12.1 15-80.9 92-16 14.4-16 8.3z"/>
<path fill="#2653c7" d="M125 1851l-4 .9-2-.9-1.7-16 4.8-18 7.4-10 12.5-8.8 16-9.3 36.9-23.9 49.1-39.3 5-3.4 3-.6 .1 1.3-2.2 4-11.8 15-74.1 83.9-16 14.5-15 8.1z"/>
<path fill="#377bdd" d="M125 1850.2l-4 .5-1.1-.7-.9-3.6-.8-11.4 4.8-17 7.3-10 11.7-8.3 17.1-9.7 35.9-23.5 38-29.5 5-3.1 1.7 .1-.5 3-7.3 10-48.4 54-20.4 24-16.1 14.7-14 7.8z"/>
<path fill="#56a7eb" d="M126 1849l-4 .3-1.4-1.3-1.4-13 5-17 6.8-9 12-8.5 17.1-9.5 35.9-23.7 24-18.1 4-2 2 .1 .4 1.7-1.5 3-7.1 9-37.9 42-17.5 21-15.4 14.4-15 8.6z"/>
<path fill="#7ecddb" d="M126 1848l-3-.4-2-2.6-1-10 4.8-16 7.2-9.5 12-8.3 17-9.3 44-29 4-1.7 1.7 .8 .6 1-.3 2-5.6 8-27.2 30-16.4 20-15.8 14.8-14 8.3z"/>
<path fill="#a1dc91" d="M130 1846l-4 .6-3-1.9-1.7-3.7-.4-6 5-16 6.1-8 12-8.5 18-9.8 19.4-12.7 7.6-4 3-.8 1.8 .8 1.9 3-1.5 3-32.2 39.2-16 15.4z"/>
<path fill="#bbdb3b" d="M129 1845.1l-3-.8-3-3.2-1.2-6.1 4.7-15 6.5-8.6 12-8.3 27.1-15.1 4.9-2.1 2 .5 3.5 3.6-.3 3-19.7 26-17.3 17-7.2 4.7z"/>
<path fill="#d7e030" d="M131 1843.3l-2 0-1.8-1.3-3.2-3.4-1-2.6 2-9.5 3.8-8.5 6.2-7.2 11-7.2 16-7.7 4-.9 2 .9 4 4.1 .3 2-2.2 5-5.6 8-5 6-14.4 14-7.1 4.8z"/>
<path fill="#ebe02a" d="M133 1841.2l-3-.2-4.9-5-.7-2 1.3-7 3.4-8 5.9-7 11-7.3 12-5.3 2-.3 2 .9 5.5 6-.6 3-2.9 5-5 6.1-14.1 13.9-6.9 4.9z"/>
<path fill="#f7d228" d="M136 1839l-4 .4-6-6.4 .3-5 3.2-8 6.5-7.7 7-4.6 9-4.7 3-.6 2 .5 6.6 7.1-1.2 4-4.4 5.8-13.3 13.2z"/>
<path fill="#f4a22a" d="M135 1838.1l-2.7-1.1-5.2-6 .2-3 2.7-7 7.9-9 10.1-6 5-.8 7.1 6.8 0 3-2.8 4-13.3 13.4-6 4.4z"/>
<path fill="#ed6a29" d="M136 1836.1l-2-.9-5-5.3 0-2.9 2-5.6 7.2-8.4 8.8-4.7 3 .1 6.5 6.6-.4 3-13.1 14z"/>
<path fill="#e73e29" d="M141 1831l-3-1-4.8-5-.5-2 1.1-3 3.2-4.3 2.4-1.7 3.6-1.2 2 .9 5 5 .7 2.3-4.7 6.2z"/>
<path fill="#1d2a8c" d="M198.2 1802.2h2.6v2.6h-2.6zM131.2 1794.2h2.6v2.6h-2.6zM225.2 1730.2h2.6v2.6h-2.6zM181.2 1764.2h2.6v2.6h-2.6zM228.2 1731.2h2.6v2.6h-2.6zM231.2 1721.2h2.6v2.6h-2.6zM132.2 1789.2h2.6v2.6h-2.6zM173.2 1826.2h2.6v2.6h-2.6zM170.2 1831.2h2.6v2.6h-2.6zM137.2 1792.2h2.6v2.6h-2.6zM129.2 1797.2h2.6v2.6h-2.6zM167.2 1774.2h2.6v2.6h-2.6zM281.2 1697.2h2.6v2.6h-2.6zM152.2 1783.2h2.6v2.6h-2.6zM229.2 1765.2h2.6v2.6h-2.6zM220.2 1736.2h2.6v2.6h-2.6zM257.2 1730.2h2.6v2.6h-2.6zM144.2 1788.2h2.6v2.6h-2.6zM107.2 1831.2h2.6v2.6h-2.6zM183.2 1760.2h2.6v2.6h-2.6zM205.2 1789.2h2.6v2.6h-2.6zM219.2 1737.2h2.6v2.6h-2.6zM206.2 1787.2h2.6v2.6h-2.6zM203.2 1747.2h2.6v2.6h-2.6zM140.2 1788.2h2.6v2.6h-2.6zM244.2 1712.2h2.6v2.6h-2.6zM120.2 1859.2h2.6v2.6h-2.6zM285.2 1697.2h2.6v2.6h-2.6zM219.2 1738.2h2.6v2.6h-2.6zM274.2 1714.2h2.6v2.6h-2.6zM113.2 1846.2h2.6v2.6h-2.6zM204.2 1797.2h2.6v2.6h-2.6zM112.2 1816.2h2.6v2.6h-2.6zM187.2 1812.2h2.6v2.6h-2.6zM243.2 1713.2h2.6v2.6h-2.6zM115.2 1808.2h2.6v2.6h-2.6zM186.2 1807.2h2.6v2.6h-2.6zM134.2 1792.2h2.6v2.6h-2.6zM285.2 1695.2h2.6v2.6h-2.6zM108.2 1831.2h2.6v2.6h-2.6zM110.2 1843.2h2.6v2.6h-2.6zM190.2 1802.2h2.6v2.6h-2.6zM191.2 1807.2h2.6v2.6h-2.6zM187.2 1817.2h2.6v2.6h-2.6zM169.2 1771.2h2.6v2.6h-2.6zM255.2 1706.2h2.6v2.6h-2.6zM202.2 1744.2h2.6v2.6h-2.6zM257.2 1734.2h2.6v2.6h-2.6zM242.2 1747.2h2.6v2.6h-2.6zM280.2 1683.2h2.6v2.6h-2.6zM286.2 1674.2h2.6v2.6h-2.6zM266.2 1715.2h2.6v2.6h-2.6zM206.2 1747.2h2.6v2.6h-2.6zM128.2 1857.2h2.6v2.6h-2.6zM284.2 1680.2h2.6v2.6h-2.6zM179.2 1822.2h2.6v2.6h-2.6zM120.2 1802.2h2.6v2.6h-2.6zM109.2 1842.2h2.6v2.6h-2.6zM206.2 1788.2h2.6v2.6h-2.6zM275.2 1709.2h2.6v2.6h-2.6zM250.2 1740.2h2.6v2.6h-2.6zM270.2 1711.2h2.6v2.6h-2.6zM253.2 1738.2h2.6v2.6h-2.6zM221.2 1774.2h2.6v2.6h-2.6zM109.2 1830.2h2.6v2.6h-2.6zM256.2 1705.2h2.6v2.6h-2.6zM148.2 1782.2h2.6v2.6h-2.6zM164.2 1770.2h2.6v2.6h-2.6zM274.2 1682.2h2.6v2.6h-2.6zM185.2 1812.2h2.6v2.6h-2.6zM267.2 1693.2h2.6v2.6h-2.6zM169.2 1770.2h2.6v2.6h-2.6zM231.2 1723.2h2.6v2.6h-2.6zM113.2 1824.2h2.6v2.6h-2.6zM194.2 1753.2h2.6v2.6h-2.6zM114.2 1856.2h2.6v2.6h-2.6zM266.2 1713.2h2.6v2.6h-2.6zM146.2 1787.2h2.6v2.6h-2.6zM196.2 1755.2h2.6v2.6h-2.6zM236.2 1722.2h2.6v2.6h-2.6zM290.2 1688.2h2.6v2.6h-2.6zM183.2 1815.2h2.6v2.6h-2.6zM240.2 1713.2h2.6v2.6h-2.6zM223.2 1727.2h2.6v2.6h-2.6zM215.2 1736.2h2.6v2.6h-2.6zM150.2 1783.2h2.6v2.6h-2.6zM293.2 1682.2h2.6v2.6h-2.6zM184.2 1814.2h2.6v2.6h-2.6zM135.2 1856.2h2.6v2.6h-2.6zM222.2 1728.2h2.6v2.6h-2.6zM264.2 1724.2h2.6v2.6h-2.6zM233.2 1757.2h2.6v2.6h-2.6zM285.2 1699.2h2.6v2.6h-2.6zM236.2 1752.2h2.6v2.6h-2.6zM283.2 1677.2h2.6v2.6h-2.6zM206.2 1746.2h2.6v2.6h-2.6zM129.2 1855.2h2.6v2.6h-2.6zM280.2 1700.2h2.6v2.6h-2.6zM123.2 1798.2h2.6v2.6h-2.6zM145.2 1781.2h2.6v2.6h-2.6zM281.2 1678.2h2.6v2.6h-2.6zM187.2 1760.2h2.6v2.6h-2.6zM109.2 1841.2h2.6v2.6h-2.6zM238.2 1750.2h2.6v2.6h-2.6zM128.2 1855.2h2.6v2.6h-2.6zM260.2 1699.2h2.6v2.6h-2.6zM154.2 1778.2h2.6v2.6h-2.6zM186.2 1757.2h2.6v2.6h-2.6zM227.2 1726.2h2.6v2.6h-2.6zM297.2 1678.2h2.6v2.6h-2.6z"/>
<path fill="#2a3080" d="M304.5 1661.5h3v3h-3zM316.5 1665.5h3v3h-3zM298.5 1671.5h3v3h-3zM308.5 1673.5h3v3h-3zM289.5 1672.5h3v3h-3zM116.5 1806.5h3v3h-3zM148.5 1781.5h3v3h-3zM207.5 1782.5h3v3h-3zM190.5 1803.5h3v3h-3zM187.5 1808.5h3v3h-3z"/>
</g>
<rect x="106.4" y="1654.1" width="220.2" height="211.2" fill="none" stroke="#4d4d4d" stroke-width="2"/>
<rect x="106.4" y="1654.1" width="81.4" height="35" fill="#fff" stroke="#4d4d4d" stroke-width="2"/>
<text x="119.4" y="1679.2" font-size="15" fill="#222" textLength="59" lengthAdjust="spacingAndGlyphs">R = 0.96</text>
<line x1="121.9" y1="1865.3" x2="121.9" y2="1875.3" stroke="#666" stroke-width="2"/>
<text x="119.7" y="1896.5" font-size="15.5" fill="#222" text-anchor="middle">1.5</text>
<line x1="165.6" y1="1865.3" x2="165.6" y2="1875.3" stroke="#666" stroke-width="2"/>
<text x="164.2" y="1896.5" font-size="15.5" fill="#222" text-anchor="middle">2.0</text>
<line x1="209.3" y1="1865.3" x2="209.3" y2="1875.3" stroke="#666" stroke-width="2"/>
<text x="210.6" y="1896.5" font-size="15.5" fill="#222" text-anchor="middle">2.5</text>
<line x1="252.9" y1="1865.3" x2="252.9" y2="1875.3" stroke="#666" stroke-width="2"/>
<text x="251.6" y="1896.5" font-size="15.5" fill="#222" text-anchor="middle">3.0</text>
<line x1="295.8" y1="1865.3" x2="295.8" y2="1875.3" stroke="#666" stroke-width="2"/>
<text x="300.7" y="1896.5" font-size="15.5" fill="#222" text-anchor="middle">3.5</text>
<line x1="96.9" y1="1677.9" x2="106.4" y2="1677.9" stroke="#666" stroke-width="2"/>
<text x="91.6" y="1683.5" font-size="15.5" fill="#222" text-anchor="end">3.5</text>
<line x1="96.9" y1="1721.8" x2="106.4" y2="1721.8" stroke="#666" stroke-width="2"/>
<text x="91.6" y="1727.4" font-size="15.5" fill="#222" text-anchor="end">3.0</text>
<line x1="96.9" y1="1765.5" x2="106.4" y2="1765.5" stroke="#666" stroke-width="2"/>
<text x="91.6" y="1771.1" font-size="15.5" fill="#222" text-anchor="end">2.5</text>
<line x1="96.9" y1="1808.9" x2="106.4" y2="1808.9" stroke="#666" stroke-width="2"/>
<text x="91.6" y="1814.5" font-size="15.5" fill="#222" text-anchor="end">2.0</text>
<line x1="96.9" y1="1852.6" x2="106.4" y2="1852.6" stroke="#666" stroke-width="2"/>
<text x="91.6" y="1858.2" font-size="15.5" fill="#222" text-anchor="end">1.5</text>
<text x="201.3" y="1625.7" font-size="19.3" font-weight="bold" fill="#000" text-anchor="middle">E15.5</text>
<text x="98.6" y="1914" font-size="16" fill="#222" textLength="229.1" lengthAdjust="spacingAndGlyphs">Bulk ATAC-seq rep1 (log<tspan font-size="9.9" dy="4">10</tspan><tspan dy="-4"> reads)</tspan></text>
<text transform="translate(55.2,1871.8) rotate(-90)" x="0" y="0" font-size="16" fill="#222" textLength="230" lengthAdjust="spacingAndGlyphs">Bulk ATAC-seq rep2 (log<tspan font-size="9.9" dy="4">10</tspan><tspan dy="-4"> reads)</tspan></text>
<g filter="url(#soft)">
<path fill="#151f84" d="M551 1853.1l-3-.9-4 1.2-1.3-1.4-.5-4-4.2-1.5-.9-1.5 .1-3-3.3-4 0-3-1.2-2-.2-2 .2-1 2.3-.3 1.2-1.7-1.2-1-1.5 0-.1-1 2.7-2 .7-2-1.4-2 4-1 2.6-5.7 3 .2 2-2 3 1.4 1-.7 .2-3.2 4.8-1.3 2-2.5 2.5-1.2-1.4-2 .5-1 1.4-.5 2 1 1.3-.5 1-1 .7-3.1 2 1.6 1.7-.5 1.9-2-.2-2 4.6-.3 1-.7 0-2 2-2.1 2-.5 2 1 5-3.6 2-.3 5-4.1 .2-1.4 8.1-4 .6-2-.6-1 .7-.4 1 1.1 1-.1 2-2.4 4-2 2.6-4.2 2.1-1 .5-3 .8-.5 1 .8 2-.3 2.8-5 3.4-1 .9-2 0-2 2.2-3 1.7-1.1 1 .8 1-.4 2.6-2.3 5.4-7.3 2.3-.7 .2-5 .7-1 1.8-1.2 1 1.3 1-.3 1-4.5 3 0 2-2.5 2-.5 .5-1.3-.8-3 .9-1 4.4-1.6 3 .6 .5 1-1.5 1.3-.6 1.7 .5 3-2.4 1-.5 2.3-2.3 .7-2 3-.4 3-2 2 .6 2-6.3 4-.9 3-1.5 1-.8 2-5.4 5.1-4.1 8.9-4.6 3-.8 3-1.9 1-1.5 3-2.1 1.9-.3 3.1-4.4 3-.2 3-6.5 4-2.5 4-.1 1.9-2.4 1.1 .7 2-4.3 3.2-2 4-2 .9-1 2.2-1.3 .7 1.6 2-.3 2-1 .3-2-1.5-1 .5-1.4 2.7 1.4 1 .1 1-4.3 2-1.3 3-1.6 1 .4 3-1.7 1-.6 2-4-.2 .1 1.2 2.5 2-2.6 .8-1 2.5-4 .7-1 1-1.2 3 1.9 3-.4 1-3.8 1-.5 2.6-1.5-.6-.6-1 .6-2 2.4-2-.9-1.1-1 .1-.5 2-1.5 1.6-2.8 .4-.4 1 5.9 5-2.7 .2-4-1.3-3.2 1.1-.7 1 2.1 1 0 1-1.2 .7-2-2-6 1.3-2-1.5-1.1 .5 .1 1.2zM546.2 1816l.6-1-.8-.8-.5 1.8zM534 1820.1l-1 .6 1-2.4 1 0 .6 .7zM534 1823.2l-1-.2 0-1.8zM535 1845.3l-.6-.3 .6-.7zM545.7 1848l-.7-.9-.4 .9 .4 .5zM567 1853.7l-1 0-.2-.7 1.2-.9z"/>
<path fill="#172492" d="M662 1720.5l-1.1-.5 .1-1.5 1.4 .5zM555 1845.2l-1.9-.2-1.1-6.3-5-1.1-4-2.5-2 1.1-1.2-.2 .2-2.4 2.5-.6 .9-6 3.6-6 .2-3 4.8-3.9 7-7.4 8-6.1 23-14.2 6.3-4.4 1.5-2 2.2-.6 7.3-5.4 20.7-19 1.8-2 .2-2.5 2-.2 2-1.4 16.9-17.9 5.1-3.9 .2 1.9-1.8 4-29.9 40-1.5 3.5-3 2.4-12 13.8-5 8.1-3 2.8-10.5 14.4-10.5 11.7-15 10.8-.7 2.5-4.3 .6zM539 1829.1l0-1.5 .9 .4zM536 1834.7l-1.8-1.7 1.8-1.5 1 1.5zM537 1836.6l-.6-.6 .6-.3zM548 1841.7l-.8-1.7 .8-.8 .9 1.8zM547 1845.9l-1.4-.9 .1-1 2.3-1.8 .5 1.8zM564 1847.1l-1.1-.1 .1-1.5 1 .4zM560 1847.2l-.8-.2 .8-.4zM556 1850.5l-.8-.5 .8-.4z"/>
<path fill="#1d37ab" d="M565 1834.2l-4 .1-9.8-8.3 .5-4 3.7-8 2.1-3 11.5-10.4 23.1-14.6 15.2-11 11.6-10 28.1-26.8 0 1.8-1.8 3-18.7 26-18.5 22.5-20 26.4-11 10.3z"/>
<path fill="#2653c7" d="M569 1829.1l-4-.8-8.2-7.3 .5-6 4.1-6 8.5-8 23.5-15 14.6-10.7 32-28.6-1 3.3-13.3 19-18.7 22.7-19 24.9-11 9.6-4 2z"/>
<path fill="#377bdd" d="M574 1826.1l-3 .9-3-.6-8.8-7.4 .1-4 3.7-6 8-7.9 22-14.1 15-11 26-22.3-1 3.4-11.9 16.9-14.3 17-18.4 24-7.4 6.8z"/>
<path fill="#56a7eb" d="M572 1825.1l-3.5-1.1-6.2-5-1.3-2 1.4-5 4.4-6 6.2-5.5 20.9-13.5 14.1-10.3 21-17.1-1.1 3.4-8.9 12.8-12.9 15.2-18.6 24-8.5 7z"/>
<path fill="#7ecddb" d="M574 1823.2l-2 .1-2-1-7-6.3 .9-4 4.9-7 4.2-3.7 21.8-14.3 29.2-21.5-1 3.1-5 7.5-31 38.6-6 4.9z"/>
<path fill="#a1dc91" d="M576 1821.2l-4-.2-7-6 .7-4 4-6 4.3-3.7 21-13.8 20-14.6 4.3-1.9-3.1 6-29.2 36.8-4 3.6z"/>
<path fill="#bbdb3b" d="M578 1819.3l-4 .3-6.9-5.6-.1-3 3.6-6 4.4-3.7 30-20.2 9.1-5.1-.2 2-1.9 3-25 31.9-4 3.7z"/>
<path fill="#d7e030" d="M578 1818.2l-3-.3-6.6-5.9 .5-3 2.6-4 3.5-3.1 27-17.8 5-2.8 2.1-.3-.1 2-1.9 3-20.1 26-4 3.8z"/>
<path fill="#ebe02a" d="M581 1816.2l-4 .6-6.4-4.8-.8-2 1.7-4 3.5-3.4 16.1-10.6 9.9-6 3-.7 .6 .7-.6 2-5 7.9-13 16.4z"/>
<path fill="#f7d228" d="M581 1815.3l-3 .3-6-4.6-.9-2 1.3-3 3.6-3.4 15-9.6 6-3.1 2.8 .1 .2 2.2-3 5-11.5 14.8z"/>
<path fill="#f4a22a" d="M582 1814.1l-3 .3-5.8-4.4-.8-2 .9-2 3.2-3 11.5-7 4.3-2 2.7 .2 .6 1.8-1.6 3.3-8.4 11.7z"/>
<path fill="#ed6a29" d="M582 1813.1l-2 .1-2-1.2-3.6-3-.5-2 1.3-2 4.3-3 4.5-2.2 3-.5 2.4 1.7-.3 3-4.1 6.6z"/>
<path fill="#e73e29" d="M583 1811.1l-2 .4-1.1-.5-3.7-3-.3-2 4.1-2.5 3 .5 2 1.7 .3 1.3z"/>
<path fill="#1d2a8c" d="M568.2 1851.2h2.6v2.6h-2.6zM556.2 1800.2h2.6v2.6h-2.6zM597.2 1772.2h2.6v2.6h-2.6zM586.2 1829.2h2.6v2.6h-2.6zM656.2 1721.2h2.6v2.6h-2.6zM605.2 1766.2h2.6v2.6h-2.6zM536.2 1845.2h2.6v2.6h-2.6zM625.2 1751.2h2.6v2.6h-2.6zM611.2 1763.2h2.6v2.6h-2.6zM640.2 1731.2h2.6v2.6h-2.6zM618.2 1787.2h2.6v2.6h-2.6zM621.2 1756.2h2.6v2.6h-2.6zM630.2 1746.2h2.6v2.6h-2.6zM652.2 1725.2h2.6v2.6h-2.6zM654.2 1717.2h2.6v2.6h-2.6zM593.2 1816.2h2.6v2.6h-2.6zM593.2 1815.2h2.6v2.6h-2.6zM607.2 1801.2h2.6v2.6h-2.6zM661.2 1734.2h2.6v2.6h-2.6zM554.2 1799.2h2.6v2.6h-2.6zM637.2 1735.2h2.6v2.6h-2.6zM564.2 1851.2h2.6v2.6h-2.6zM544.2 1854.2h2.6v2.6h-2.6zM530.2 1829.2h2.6v2.6h-2.6zM654.2 1718.2h2.6v2.6h-2.6zM601.2 1770.2h2.6v2.6h-2.6zM667.2 1721.2h2.6v2.6h-2.6zM527.2 1822.2h2.6v2.6h-2.6zM656.2 1731.2h2.6v2.6h-2.6zM618.2 1786.2h2.6v2.6h-2.6zM530.2 1819.2h2.6v2.6h-2.6zM573.2 1792.2h2.6v2.6h-2.6zM623.2 1751.2h2.6v2.6h-2.6zM528.2 1823.2h2.6v2.6h-2.6zM586.2 1828.2h2.6v2.6h-2.6zM544.2 1847.2h2.6v2.6h-2.6zM571.2 1853.2h2.6v2.6h-2.6zM634.2 1766.2h2.6v2.6h-2.6zM561.2 1853.2h2.6v2.6h-2.6zM536.2 1849.2h2.6v2.6h-2.6zM641.2 1730.2h2.6v2.6h-2.6zM546.2 1810.2h2.6v2.6h-2.6zM574.2 1843.2h2.6v2.6h-2.6zM637.2 1739.2h2.6v2.6h-2.6zM611.2 1795.2h2.6v2.6h-2.6zM584.2 1827.2h2.6v2.6h-2.6zM544.2 1811.2h2.6v2.6h-2.6zM573.2 1842.2h2.6v2.6h-2.6zM646.2 1746.2h2.6v2.6h-2.6zM600.2 1770.2h2.6v2.6h-2.6zM621.2 1753.2h2.6v2.6h-2.6zM611.2 1792.2h2.6v2.6h-2.6zM570.2 1791.2h2.6v2.6h-2.6zM555.2 1804.2h2.6v2.6h-2.6zM600.2 1807.2h2.6v2.6h-2.6zM540.2 1851.2h2.6v2.6h-2.6zM652.2 1743.2h2.6v2.6h-2.6zM578.2 1841.2h2.6v2.6h-2.6zM588.2 1824.2h2.6v2.6h-2.6zM534.2 1814.2h2.6v2.6h-2.6zM541.2 1810.2h2.6v2.6h-2.6zM665.2 1718.2h2.6v2.6h-2.6zM573.2 1789.2h2.6v2.6h-2.6zM662.2 1714.2h2.6v2.6h-2.6zM531.2 1817.2h2.6v2.6h-2.6zM544.2 1808.2h2.6v2.6h-2.6zM582.2 1836.2h2.6v2.6h-2.6zM579.2 1787.2h2.6v2.6h-2.6zM639.2 1739.2h2.6v2.6h-2.6zM615.2 1759.2h2.6v2.6h-2.6zM563.2 1798.2h2.6v2.6h-2.6zM577.2 1845.2h2.6v2.6h-2.6zM612.2 1767.2h2.6v2.6h-2.6zM537.2 1850.2h2.6v2.6h-2.6zM627.2 1751.2h2.6v2.6h-2.6zM567.2 1796.2h2.6v2.6h-2.6zM593.2 1820.2h2.6v2.6h-2.6zM534.2 1849.2h2.6v2.6h-2.6zM580.2 1839.2h2.6v2.6h-2.6zM539.2 1813.2h2.6v2.6h-2.6zM607.2 1802.2h2.6v2.6h-2.6zM572.2 1789.2h2.6v2.6h-2.6zM533.2 1842.2h2.6v2.6h-2.6zM627.2 1773.2h2.6v2.6h-2.6zM662.2 1724.2h2.6v2.6h-2.6zM577.2 1842.2h2.6v2.6h-2.6zM647.2 1724.2h2.6v2.6h-2.6zM566.2 1855.2h2.6v2.6h-2.6zM527.2 1824.2h2.6v2.6h-2.6zM555.2 1858.2h2.6v2.6h-2.6zM618.2 1785.2h2.6v2.6h-2.6zM581.2 1837.2h2.6v2.6h-2.6zM534.2 1828.2h2.6v2.6h-2.6zM594.2 1780.2h2.6v2.6h-2.6zM548.2 1806.2h2.6v2.6h-2.6zM567.2 1848.2h2.6v2.6h-2.6zM602.2 1775.2h2.6v2.6h-2.6zM571.2 1789.2h2.6v2.6h-2.6zM602.2 1806.2h2.6v2.6h-2.6zM579.2 1835.2h2.6v2.6h-2.6zM639.2 1760.2h2.6v2.6h-2.6zM577.2 1839.2h2.6v2.6h-2.6zM545.2 1856.2h2.6v2.6h-2.6zM600.2 1812.2h2.6v2.6h-2.6zM533.2 1844.2h2.6v2.6h-2.6zM665.2 1722.2h2.6v2.6h-2.6zM635.2 1744.2h2.6v2.6h-2.6zM601.2 1772.2h2.6v2.6h-2.6zM598.2 1773.2h2.6v2.6h-2.6zM575.2 1846.2h2.6v2.6h-2.6z"/>
<path fill="#2a3080" d="M515.5 1846.5h3v3h-3zM521.5 1837.5h3v3h-3zM526.5 1840.5h3v3h-3zM529.5 1842.5h3v3h-3zM524.5 1813.5h3v3h-3zM531.5 1851.5h3v3h-3zM565.5 1790.5h3v3h-3zM633.5 1758.5h3v3h-3zM657.5 1732.5h3v3h-3zM661.5 1727.5h3v3h-3zM667.5 1721.5h3v3h-3zM671.5 1715.5h3v3h-3zM677.5 1710.5h3v3h-3zM686.5 1694.5h3v3h-3zM687.5 1699.5h3v3h-3zM689.5 1703.5h3v3h-3zM701.5 1682.5h3v3h-3zM719.5 1661.5h3v3h-3zM659.5 1715.5h3v3h-3z"/>
</g>
<rect x="509.3" y="1654.1" width="219.5" height="211.2" fill="none" stroke="#4d4d4d" stroke-width="2"/>
<rect x="509.3" y="1654.1" width="81" height="35" fill="#fff" stroke="#4d4d4d" stroke-width="2"/>
<text x="522.3" y="1679.2" font-size="15" fill="#222" textLength="59" lengthAdjust="spacingAndGlyphs">R = 0.96</text>
<line x1="537.5" y1="1865.3" x2="537.5" y2="1875.3" stroke="#666" stroke-width="2"/>
<text x="530.1" y="1896.5" font-size="15.5" fill="#222" text-anchor="middle">1</text>
<line x1="586.6" y1="1865.3" x2="586.6" y2="1875.3" stroke="#666" stroke-width="2"/>
<text x="582" y="1896.5" font-size="15.5" fill="#222" text-anchor="middle">2</text>
<line x1="635.7" y1="1865.3" x2="635.7" y2="1875.3" stroke="#666" stroke-width="2"/>
<text x="633.8" y="1896.5" font-size="15.5" fill="#222" text-anchor="middle">3</text>
<line x1="685.2" y1="1865.3" x2="685.2" y2="1875.3" stroke="#666" stroke-width="2"/>
<text x="685.7" y="1896.5" font-size="15.5" fill="#222" text-anchor="middle">4</text>
<line x1="499.8" y1="1701.9" x2="509.3" y2="1701.9" stroke="#666" stroke-width="2"/>
<text x="494.6" y="1707.5" font-size="15.5" fill="#222" text-anchor="end">4</text>
<line x1="499.8" y1="1754.3" x2="509.3" y2="1754.3" stroke="#666" stroke-width="2"/>
<text x="494.6" y="1759.9" font-size="15.5" fill="#222" text-anchor="end">3</text>
<line x1="499.8" y1="1807" x2="509.3" y2="1807" stroke="#666" stroke-width="2"/>
<text x="494.6" y="1812.6" font-size="15.5" fill="#222" text-anchor="end">2</text>
<line x1="499.8" y1="1860.2" x2="509.3" y2="1860.2" stroke="#666" stroke-width="2"/>
<text x="494.6" y="1865.8" font-size="15.5" fill="#222" text-anchor="end">1</text>
<text x="617.5" y="1625.7" font-size="19.3" font-weight="bold" fill="#000" text-anchor="middle">E15.5</text>
<text x="513.7" y="1914" font-size="16" fill="#222" textLength="212.9" lengthAdjust="spacingAndGlyphs">snATAC-seq rep1 (log<tspan font-size="9.9" dy="4">10</tspan><tspan dy="-4"> reads)</tspan></text>
<text transform="translate(472.1,1865.6) rotate(-90)" x="0" y="0" font-size="16" fill="#222" textLength="211.5" lengthAdjust="spacingAndGlyphs">snATAC-seq rep2 (log<tspan font-size="9.9" dy="4">10</tspan><tspan dy="-4"> reads)</tspan></text>
<g filter="url(#soft)">
<path fill="#151f84" d="M961 1858.2l-1 .7-1-.4 0-2.5-1-.5-4 .2-2-.9-3 1.7-5-1.2-3 .7-2-3.6-2-1.2-1.1-2.2-2.4-2 .6-1-.9-2 1.4-3-.5-2 1.7-2 1-3 2.2-2.5 6-2.5 .4-1-1.1-2 .7-1.8 1.4-.2-.4-1.6-1.5-1.4 1.5-1.2 6.3-1.8 .8-6 1.8-4 2.1-.9 2 .9 .8-1 .2-2.8 6-1.6 2.7-3.6 .3-2-1.2-2 3.2-1.3 2-4.5 3 .4 6-4 1.7-2.6-1.8-2 .4-1 1.7-.6 1 .5 .7-2.9 2.3-3.6 3.6-.4-.2-1-1.7-1 .3-1 2-1 1 1.1 1-.4 3.4-3.7 1.1-3 2.5-1.9 0-1.7 4.1-1.4 .7-2-2.1-2-.1-1 .5-1 2.9-1-.9-2 .9-.7 2 2.2 1-.2 3.7-7.3 3.6-2-.3-.9-1 .5-1.9-1.6 .9-2.1 2 .3 1.6-2.2 2-1-.6-4.5 1-.7 2 1.7 .7-1.5-.8-2 .6-2 4.5-1.5 2.3-2.5 .7-2.1 5-2.9 3.4-3 .6-1.1-1.6-1.9 2.2-2-.8-2 .8-2 4.4-1.8 1.1-1.2 .8-1-.9-1 4.4-4-1.2-2 .3-1 2.5-3.5 2-.4 5.2-4.1 .5-1-.7-2.4 2-1.5 1.4-.1-1-1 1.6-1.2 2.8 3.2 .2 1-1.6 1 .6 1 1-2 1.7 1-.1 1-2.4 4 .4 3-2.6 2.3-1.8 3.7 2.4 2-.2 1-4.7 5-.7 2.1-.4 2.9 .4 .9 2.1 .1-.1 2.5-2-.3 0 1.8-1.5 2 .3 2-2.8 2 1.6 3-2.6 2.5-.5 1.5 .5 1.1 2.5 .9-.4 2-1.1 1.7-3 1.7 .5 2.6-3.5 .6 .4 2.4 2.4 2-.8 .7-.7 3.3-3.3 1.1-.6 .9 1.3 2-.2 1-1.7 2-4.6 2-1.2 1.5 1 1.4 4.2-.9-.5 1-2.4 1-3.5 3-.1 3 2.3 .7 0 1.3-2 .4-3.6 2.6 .4 2-.6 1-1.2 .6-6.4 8.4 .4 1.4 2 .4 .5 1.2-1.5 1.7-2-2-3 5.2 1.7 3.1-.7 1.2-2.3 .8-1.4 2 1.6 3-.5 3-2.4-.3-4.1 4.3 2.4 1-.3 2.2-2-1.8-2.3 2.6 1.4 2-.8 3-2.5 4 1.5 2-.9 4-3.4-.4-1.7 1.4 0 3 1 1-.3 3-4 .2-.7 .8 2.2 2 .1 1-3 2-3.6 6.9-3 1.8-2 .8-3-.6-5 5-1 .5-2-1.2-1 2.7-2-.3-2 1.1-3-.3-2-1.8-7-.1-1.6 .5zM1064.8 1686l-.8-2.6-2 .6 2 2.3zM1035 1714.1l-1 .5-.3-1.6 2.7 0zM1059 1715.7l-.6-.7 .6-.4 .7 .4zM1027.2 1729l-.2-1.5-1.4 .5 .4 1.3zM992 1769l-.5-2 .5-1.5 1.2 1.5zM958.5 1811l.5-1.1-1-.4-.5 1.5zM950 1814.4l-1-.9 1.9-.5 .1 1zM1013 1821.7l-.6-.7 .6-.8 1 .8zM939.3 1836l-.3-1.6-.9 .6 .9 1.6zM965 1858l-1-1.3 1.6 .3zM970 1858.2l-1 .4-.7-.6 .7-.6z"/>
<path fill="#172492" d="M943 1854.2l-1.3-.2-.3-2-2.8-2-1.1-3 .4-2-1.2-3 .3-2 3-2.2 3-4.8 3.1-3 .9-3.1 3-1.9 6.9-11 14.3-14 .7-1-.9-2 .8-1 3.2-.5 3-3.1 20.8-24.4 1.4-2-.6-2 .4-.5 2 .9 2.2-2.4 .6-2 2.6-2 1.1-2 .3-3 1.2 .5 1-.6 18.1-24.9 2.2-2 1.4-4 1.3 0 1-1 6.1-8 8.9-13 4.1-8 1.9-1 2-2.8 5-.6 .4 1.4-2.1 1-1.6 2 .2 3-2.2 3-.2 3 .6 1-1.6 3-2.5 10 0 1.3 1.1 .7-2.4 2-2 7-10.3 23-.1 2-3 5-.2 3-2.9 4-1.5 5-2.4 3-9 18-2.5 7-4 6-5.1 11-.4 1 .7 .9 1.2 .1-1.2 1-1-.2-1 1.2-3.8 11-3.7 6-.3 1 1.4 2-.4 1-3.2 .3-3 4.4-15 8.7-18 1.6-5-1-2 1-2-1.1-8-.3-1.4 .4 .9 1zM1020 1801l-2-.8 .3-1.2 1.8 1zM1010 1824.5l-1.1-.5 1.1-2.1zM999 1842.2l-.6-.2 .6-1.3zM994 1847.3l0-.6 .6 .3z"/>
<path fill="#1d37ab" d="M970 1850l-8 .4-19.4-1.4-2.3-2 0-6 19.7-26.3 12.9-13.7 33.9-39 42.2-56.4 2-2.2 2-.9 0 7.7-5.6 17.8-15.9 36-22.5 45.4-7.8 19.6-6.1 10-3.1 2.8-11 6.8z"/>
<path fill="#2653c7" d="M973 1848l-10 .6-15.8-1.6-3.7-2-1-3 .8-2 18-24 46.7-52.7 34-44.7 4-4.2 2-.4 .4 3-1.3 6-5 13-12.1 27-22.2 45-7.9 20-7.9 11.6-11 7.1z"/>
<path fill="#377bdd" d="M967 1847l-5 0-10.4-2-4.6-2.7-.6-2.3 16.6-23.6 46-51.9 26-34.1 4-4.2 3-1.2 .8 2-.8 3.8-5.1 13.2-8.6 19-21.3 43.1-7.8 19.9-2.9 5-4.9 7-10.4 6.9-3 1.1z"/>
<path fill="#56a7eb" d="M973 1845l-10 .7-6-1.4-6.8-4.3-.2-3 14.4-20 39.6-44.4 25-31.8 4-3.8 2-.4 1 1.2 0 2.2-3 8.7-27.5 57.3-8.3 21-7.2 10.3-10 6.6z"/>
<path fill="#7ecddb" d="M969 1844.1l-6 .2-4.3-1.3-5.7-4-.7-1 .1-2 6.6-9.9 9.7-12.1 33.3-37 20-24 3-2.8 2.6-.2 .7 3-2.3 7.4-21 43.7-7.4 18.9-3.1 6-5.1 7-9.4 6.4-3 1z"/>
<path fill="#a1dc91" d="M966 1843l-4.8-1-6.4-5 0-2 3.6-6 11-14 41.6-46.1 5-4.8 3-.2 1.3 2.1-1.3 5.6-15.7 33.4-7.4 19-4.1 7-3.8 4.5-9 6z"/>
<path fill="#bbdb3b" d="M976 1841.1l-9 .5-3-.6-6.7-5 .2-3 9.5-13.2 17-19.5 21-22.2 4-3.1 2 0 2.1 2-1.1 5.7-10 22.3-7.8 20-6.2 9-9 6.1z"/>
<path fill="#d7e030" d="M975 1840.1l-7 .1-3-1.2-5.2-4-.5-2 .7-2 11-14.4 14-15.8 15-15.2 2-1.4 2.3-.2 2.7 2.1 .1 3.9-13.6 34-6.5 9.3-9 6z"/>
<path fill="#ebe02a" d="M974 1839l-5-.4-5.4-3.6-2-2 .5-3 10-13 13.9-15.8 9-8.1 2-1.2 2 .2 3 2.6 0 2.9-6.2 18.4-3.5 8-6.3 8.7-8 5.3z"/>
<path fill="#f7d228" d="M977 1837.2l-3 .4-3.2-.6-6.7-5-.2-2 9.1-12.5 13-14.7 5-4 3 0 3.8 3.2 .3 2-5 16-7.1 11.3z"/>
<path fill="#f4a22a" d="M978 1835l-2 .7-2.6-.7-6.4-4.9-.1-2.1 7-10 10.1-11.4 4-3.5 3-.3 3.1 2.2 1.3 2-.3 4-2.1 6.5-3 6.4-4 5.8z"/>
<path fill="#ed6a29" d="M980 1832.2l-2 .5-2-.6-5.4-4.1-.4-2 4.3-7 6.5-7.3 4-3.8 3-.6 4.5 3.7-.5 5.5-2.2 5.5-3.8 6-2 2.1z"/>
<path fill="#e73e29" d="M982 1829.1l-2-.2-4-2.9-1.9-2-.1-1 3-4.9 6-4.5 5 3.1 .7 2.3-2.7 6.6z"/>
<path fill="#1d2a8c" d="M997.2 1756.2h2.6v2.6h-2.6zM1018.2 1806.2h2.6v2.6h-2.6zM990.2 1848.2h2.6v2.6h-2.6zM975.2 1785.2h2.6v2.6h-2.6zM1009.2 1828.2h2.6v2.6h-2.6zM1067.2 1697.2h2.6v2.6h-2.6zM988.2 1770.2h2.6v2.6h-2.6zM1065.2 1695.2h2.6v2.6h-2.6zM952.2 1857.2h2.6v2.6h-2.6zM949.2 1817.2h2.6v2.6h-2.6zM1001.2 1846.2h2.6v2.6h-2.6zM941.2 1825.2h2.6v2.6h-2.6zM982.2 1853.2h2.6v2.6h-2.6zM952.2 1810.2h2.6v2.6h-2.6zM950.2 1809.2h2.6v2.6h-2.6zM964.2 1801.2h2.6v2.6h-2.6zM1058.2 1682.2h2.6v2.6h-2.6zM946.2 1816.2h2.6v2.6h-2.6zM1024.2 1719.2h2.6v2.6h-2.6zM934.2 1855.2h2.6v2.6h-2.6zM931.2 1851.2h2.6v2.6h-2.6zM952.2 1808.2h2.6v2.6h-2.6zM935.2 1855.2h2.6v2.6h-2.6zM931.2 1832.2h2.6v2.6h-2.6zM955.2 1857.2h2.6v2.6h-2.6zM1035.2 1711.2h2.6v2.6h-2.6zM979.2 1784.2h2.6v2.6h-2.6zM989.2 1762.2h2.6v2.6h-2.6zM1067.2 1695.2h2.6v2.6h-2.6zM1041.2 1762.2h2.6v2.6h-2.6zM1060.2 1716.2h2.6v2.6h-2.6zM978.2 1857.2h2.6v2.6h-2.6zM1046.2 1696.2h2.6v2.6h-2.6zM972.2 1786.2h2.6v2.6h-2.6zM967.2 1798.2h2.6v2.6h-2.6zM1026.2 1782.2h2.6v2.6h-2.6zM1018.2 1804.2h2.6v2.6h-2.6zM995.2 1763.2h2.6v2.6h-2.6zM1002.2 1757.2h2.6v2.6h-2.6zM1057.2 1681.2h2.6v2.6h-2.6zM1030.2 1780.2h2.6v2.6h-2.6zM1061.2 1708.2h2.6v2.6h-2.6zM1058.2 1712.2h2.6v2.6h-2.6zM967.2 1858.2h2.6v2.6h-2.6zM1052.2 1742.2h2.6v2.6h-2.6zM1038.2 1710.2h2.6v2.6h-2.6zM990.2 1764.2h2.6v2.6h-2.6zM1061.2 1674.2h2.6v2.6h-2.6zM1065.2 1694.2h2.6v2.6h-2.6zM978.2 1783.2h2.6v2.6h-2.6zM944.2 1822.2h2.6v2.6h-2.6zM982.2 1775.2h2.6v2.6h-2.6zM1063.2 1708.2h2.6v2.6h-2.6zM1009.2 1742.2h2.6v2.6h-2.6zM1022.2 1798.2h2.6v2.6h-2.6zM984.2 1770.2h2.6v2.6h-2.6zM929.2 1842.2h2.6v2.6h-2.6zM1016.2 1815.2h2.6v2.6h-2.6zM1027.2 1720.2h2.6v2.6h-2.6zM1005.2 1835.2h2.6v2.6h-2.6zM1029.2 1718.2h2.6v2.6h-2.6zM983.2 1857.2h2.6v2.6h-2.6zM1022.2 1724.2h2.6v2.6h-2.6zM1043.2 1700.2h2.6v2.6h-2.6zM938.2 1828.2h2.6v2.6h-2.6zM1056.2 1716.2h2.6v2.6h-2.6zM1066.2 1698.2h2.6v2.6h-2.6zM1068.2 1674.2h2.6v2.6h-2.6zM1049.2 1738.2h2.6v2.6h-2.6zM1039.2 1764.2h2.6v2.6h-2.6zM1027.2 1717.2h2.6v2.6h-2.6zM932.2 1854.2h2.6v2.6h-2.6zM950.2 1816.2h2.6v2.6h-2.6zM1059.2 1726.2h2.6v2.6h-2.6zM1019.2 1725.2h2.6v2.6h-2.6zM1018.2 1805.2h2.6v2.6h-2.6zM973.2 1783.2h2.6v2.6h-2.6zM1013.2 1821.2h2.6v2.6h-2.6zM1032.2 1710.2h2.6v2.6h-2.6zM1042.2 1700.2h2.6v2.6h-2.6zM1022.2 1797.2h2.6v2.6h-2.6zM947.2 1818.2h2.6v2.6h-2.6zM1014.2 1735.2h2.6v2.6h-2.6zM1007.2 1832.2h2.6v2.6h-2.6zM1058.2 1724.2h2.6v2.6h-2.6zM1001.2 1757.2h2.6v2.6h-2.6zM1035.2 1768.2h2.6v2.6h-2.6zM1057.2 1717.2h2.6v2.6h-2.6zM1003.2 1834.2h2.6v2.6h-2.6zM1067.2 1690.2h2.6v2.6h-2.6zM963.2 1862.2h2.6v2.6h-2.6zM989.2 1852.2h2.6v2.6h-2.6zM999.2 1752.2h2.6v2.6h-2.6zM1060.2 1705.2h2.6v2.6h-2.6zM993.2 1766.2h2.6v2.6h-2.6zM1024.2 1718.2h2.6v2.6h-2.6zM955.2 1803.2h2.6v2.6h-2.6zM1051.2 1683.2h2.6v2.6h-2.6zM1067.2 1673.2h2.6v2.6h-2.6zM1051.2 1736.2h2.6v2.6h-2.6zM989.2 1764.2h2.6v2.6h-2.6zM1055.2 1727.2h2.6v2.6h-2.6zM1045.2 1760.2h2.6v2.6h-2.6zM1024.2 1795.2h2.6v2.6h-2.6zM1037.2 1711.2h2.6v2.6h-2.6zM1033.2 1778.2h2.6v2.6h-2.6zM975.2 1782.2h2.6v2.6h-2.6zM1039.2 1762.2h2.6v2.6h-2.6zM1015.2 1735.2h2.6v2.6h-2.6zM1063.2 1695.2h2.6v2.6h-2.6z"/>
<path fill="#2a3080" d="M919.5 1839.5h3v3h-3zM927.5 1838.5h3v3h-3zM926.5 1846.5h3v3h-3zM931.5 1850.5h3v3h-3zM947.5 1808.5h3v3h-3zM1000.5 1754.5h3v3h-3zM1022.5 1720.5h3v3h-3zM1064.5 1677.5h3v3h-3zM1063.5 1701.5h3v3h-3zM1090.5 1670.5h3v3h-3zM1093.5 1661.5h3v3h-3zM1064.5 1735.5h3v3h-3zM1104.5 1737.5h3v3h-3zM1121.5 1745.5h3v3h-3zM1081.5 1751.5h3v3h-3zM1059.5 1748.5h3v3h-3zM1070.5 1757.5h3v3h-3zM1065.5 1763.5h3v3h-3zM1048.5 1758.5h3v3h-3zM1047.5 1768.5h3v3h-3zM1035.5 1775.5h3v3h-3zM1038.5 1779.5h3v3h-3zM1090.5 1784.5h3v3h-3zM1030.5 1791.5h3v3h-3zM1028.5 1793.5h3v3h-3zM1037.5 1797.5h3v3h-3zM1033.5 1802.5h3v3h-3zM1022.5 1801.5h3v3h-3zM1022.5 1811.5h3v3h-3zM1022.5 1816.5h3v3h-3zM1060.5 1804.5h3v3h-3zM1036.5 1818.5h3v3h-3zM1015.5 1829.5h3v3h-3zM1015.5 1835.5h3v3h-3zM1075.5 1833.5h3v3h-3zM1035.5 1845.5h3v3h-3z"/>
</g>
<rect x="913.2" y="1654.1" width="219.3" height="211.2" fill="none" stroke="#4d4d4d" stroke-width="2"/>
<rect x="913.2" y="1654.1" width="80.6" height="35" fill="#fff" stroke="#4d4d4d" stroke-width="2"/>
<text x="926.2" y="1679.2" font-size="15" fill="#222" textLength="59" lengthAdjust="spacingAndGlyphs">R = 0.91</text>
<line x1="939.2" y1="1865.3" x2="939.2" y2="1875.3" stroke="#666" stroke-width="2"/>
<text x="937.8" y="1896.5" font-size="15.5" fill="#222" text-anchor="middle">1</text>
<line x1="988.9" y1="1865.3" x2="988.9" y2="1875.3" stroke="#666" stroke-width="2"/>
<text x="989.1" y="1896.5" font-size="15.5" fill="#222" text-anchor="middle">2</text>
<line x1="1038.3" y1="1865.3" x2="1038.3" y2="1875.3" stroke="#666" stroke-width="2"/>
<text x="1037.5" y="1896.5" font-size="15.5" fill="#222" text-anchor="middle">3</text>
<line x1="1087.4" y1="1865.3" x2="1087.4" y2="1875.3" stroke="#666" stroke-width="2"/>
<text x="1088.8" y="1896.5" font-size="15.5" fill="#222" text-anchor="middle">4</text>
<line x1="903.7" y1="1682" x2="913.2" y2="1682" stroke="#666" stroke-width="2"/>
<text x="899.3" y="1687.6" font-size="15.5" fill="#222" text-anchor="end">3.5</text>
<line x1="903.7" y1="1724.3" x2="913.2" y2="1724.3" stroke="#666" stroke-width="2"/>
<text x="899.3" y="1729.9" font-size="15.5" fill="#222" text-anchor="end">3.0</text>
<line x1="903.7" y1="1766" x2="913.2" y2="1766" stroke="#666" stroke-width="2"/>
<text x="899.3" y="1771.6" font-size="15.5" fill="#222" text-anchor="end">2.5</text>
<line x1="903.7" y1="1807.8" x2="913.2" y2="1807.8" stroke="#666" stroke-width="2"/>
<text x="899.3" y="1813.4" font-size="15.5" fill="#222" text-anchor="end">2.0</text>
<line x1="903.7" y1="1849.9" x2="913.2" y2="1849.9" stroke="#666" stroke-width="2"/>
<text x="899.3" y="1855.5" font-size="15.5" fill="#222" text-anchor="end">1.5</text>
<text x="1020.8" y="1625.7" font-size="19.3" font-weight="bold" fill="#000" text-anchor="middle">E15.5</text>
<text x="909.2" y="1914" font-size="16" fill="#222" textLength="213.7" lengthAdjust="spacingAndGlyphs">snATAC-seq rep1 (log<tspan font-size="9.9" dy="4">10</tspan><tspan dy="-4"> reads)</tspan></text>
<text transform="translate(867.2,1873.7) rotate(-90)" x="0" y="0" font-size="16" fill="#222" textLength="230.5" lengthAdjust="spacingAndGlyphs">Bulk ATAC-seq rep1 (log<tspan font-size="9.9" dy="4">10</tspan><tspan dy="-4"> reads)</tspan></text>
<g filter="url(#soft)">
<path fill="#151f84" d="M125 2232l-1 .3-1.6-1.3-.7-3-1.3-1-1.4-3.2-6-2.8 1.5-2 .1-7 1.4-1.3 1.2-3.7-.7-2 .5-5.5 1-1.1 2 .4 1.3-.8 0-1-1.6-1 0-4 2-2 .3-1.4 5.1-1.6 2.3-6 4 0-1.5-3 2.1-3.1 3 .8 .6-.7-.5-2 .9-.8 3-.5 1-1.5 2 .2 4-1.5 5-2.8 2.6-3.1-1.6-.6-3 2.1-1.2-.5 .4-1 3.8-2.3 3 .4-.5-3.1 .9-1 1.6-.4 2 1 3-3 2 .1 4-5.9 4-2.3 3-.4 2-2.1 2 .8 1-.3 1-1.6 5.3-3.9-.8-2-1.5-1 9.4-4 2.6-2.5 2-.6 2-3.7 3 1.4 1.6-.6 2.6-3 .8-2.6 3 .1 1.8-1.5 0-1 2.8-3-.6-3.3 1-.8 2 1.2 3-.9 .1-2.2 2.9-2.5 1-.2 1-1.5 3-.5 4-4.9 3.7-1.4-.1-1 5-4 3.3-6 .1 1 2 .9 2-1.5 3-4.2 4.1-2.2 1.2-4-1.6-1 .3-1.3 2-.8 1 .8 .5 2.3 1.5 0 1.1-1-.1-3.7 2 .7 2-1.3 1.6-4.7 3.4-3.5 4-.7 1-2.1 2 .7 1-2.2 2.6-.2 .1-2-2.4-1 .7-.8 6-1 .7-1.2-1.5-2 4.8-2.5 1 .3 1-3.6 2 .3 1 1.7 2 .2 4.1-4.4-.6-2 2.5-3.3 2 .3 2-1.7 2 1 1-.7 2.8 1.4 .1 1-1.9 .5-2-1.1-2 .8-1-.6-3.1 3.4 4.1-.5 2.5 1.5-1.5 4.7-3.4 1.3 .4 1 2 .4 .6 1.6-2.6 1.3-1.9-.3-1.1-1.1 .2 2.1-4.7 3-1 5-.5 .6-2-1-2 1-.8 1.4 1.3 1-.2 1-2 1-2.3 3.1-2-.2-1.7 1.1-.3 1 2.5 2-.5 .6-2 .9-4 .3-.7 1.2 .9 2-2.2 2-3-.8 .3 4.8-1.2 3-1.9 0-.2-3.1-4 2.7-3.3 3.4 1.3 2 1.5 0-1.5 0-2.1 2 .1 2.4-3 2.4-4-.7-3 4.6-2.1 .3 1.1 4.1-2-1.5-2 .6-5 6.5-2 1.3-1.6 4-7.6 6-1.4 2 2.6 2-.2 1-.8 .6-2-.6-1 2.5-1-.6-1 .7-.4 1.4 1.3 2-.9 2-3 2.3-3 .2-1.8 1.5-.8 3-2.9 1-2 9-1.5 .9-3-2-1.2 2.1 .6 2-.4 3.7-1 1.2-2-.9 .7 1-1.7 4-2.8 0 1.5 1-.5 1-3.2 .3-2 1.7-.7 2-2.5 2 0 1 2 1-.4 1-5.8 3-1.2 2 .6 2.1-1 .9-2-1-2 1.4-1.1 4.6-2.9 1.7-.7 1.3 2 2-2.3 1.8-6 2.2 0 1.4 1 .6-4.4 2-1.6 2.7 1.7 .3-.7 1.4-4 1-2 2.3-1.5 .3-.9 1-.6 3.4-7.6 2.6 .6 1.4 2-1.3 2 .9-.2 1-1.8 .4-2 2.8-6-.7-3 1.6-2-.2-1 3.4-1 .6-1-2.2-11 4-3-.9zM298 2065.1l-.5-.1 .5-1.3zM271 2091.1l-.9-1.1 1.9-.6 .3 .6zM240 2093l-1.8 0 1.8-1.2zM198 2128.7l-1-.9 1.9 .2zM225.8 2138l2.1-3-1.3 0-2.1 3 .5 .7zM181 2141.2l-1.1-.2 .1-1.4 1 0zM124.1 2192l-.1-2.3-1.5 1.3zM175 2208.1l-.6-1.1 .6-.5z"/>
<path fill="#172492" d="M305 2045.4l-1 .1 0-1.2 1.1-.3zM301 2052.1l-1.2-1.1 .1-1 1.1-.5 1 .3 .2 1.2zM292 2052.3l-1-1.3 1.5 0zM298 2053.9l-1.4-.9 1.4-2.1zM125 2230.5l-1 .1-1.3-3.6-6.7-7-.2-2 1.6-4 2.8-12 2.7-4 4.3-9 4.8-5.6 2-1.1 6.1-6.3 16.9-11 2.3-3 2.7-1.1 1-2.1 5-2.1 14-10.4 7-5.6 3-3.4 3-1.6 3-3.9 4-1.5 13.6-10.3 3.4-3.8 4.5-3.2 2.3-3 3.2-2 16.1-14 1.7-2-.1-1 3.3-1.2 5-5.2 12.4-9.6 4.8-5 14.7-11 .5-2 4.6-2.2 1-2.3 2.7 .5 .6 1-1.2 3 1.4 2-3.5 .2-5 7.6-3.9 4.2-.1 2-2 .5-2.7 3.5 .7 1-.5 1-2.5-.6-1 .9-9.2 9.7-2.5 4-12 11-9.4 10-.9 2.5-2 .7-3.3 4.8-4.4 4-25.6 32-6.7 10.1-2 1.5-5.6 7.4-.4 2-3.5 3-7.5 11-14.2 16-6.8 5-1 2.1-8 4.4-11 5.2-8.9 2.3-.1 1-2-.5-3 .5zM153 2222.1l-.7-.1 .7-.7z"/>
<path fill="#1d37ab" d="M129 2227.2l-3 .5-1.4-.7-6.6-6.6-.7-2.4 4.3-14 6-12 2.8-4 9.6-9.2 25.5-17.8 51.1-40 21.4-19.1 28-23.3 9-6.4 3-.7-1.4 3.5-6.6 8-39 42.4-62 78.6-15 12.8-13 6.6z"/>
<path fill="#2653c7" d="M129 2226.1l-2 .4-2-.8-5.8-5.7-.7-2 4.6-14 8.3-15 9.3-9 26.1-18 50.2-39.8 31.5-27.2 9.5-7 3.3-1-.2 2-2.1 3-28.4 32-15.6 18.9-47 60.1-15 12.8-13 6.6z"/>
<path fill="#377bdd" d="M131 2224.1l-3 .8-2-.7-5-4.8-.9-2.4 3.9-12 8.1-15 9.3-9 25.1-17 19.5-15.2 50.5-41.8 5.5-4 3-1.3 1 .3-2.9 5-45.1 54.8-30.7 40.2-14.3 12.4-13 6.7z"/>
<path fill="#56a7eb" d="M130 2223l-2-.3-4-3.7-1.8-2-.3-2 3.3-10 5.5-11 3-4 8.3-8 26.6-18 55.4-44.1 4.2-2.9 1.8-.6 .8 .6-1.8 4-5.9 8-26.8 33-29.6 39-15.1 13-12.6 6.3z"/>
<path fill="#7ecddb" d="M132 2221.2l-2-.2-1.5-1-4-4-.7-2 2.5-9 5-10 2.9-4 8.8-8.5 26-17.3 36-28 7-4.2 2 .5 .1 2.5-3.1 5-45 59.2-15 12.9-12 6.1z"/>
<path fill="#a1dc91" d="M135 2219.1l-4-.2-5-4.9-.4-2 1.4-6 4.8-10 2.8-4 9.4-9 25-16.3 17-12.7 7-4.2 2-.5 1.3 .7 1.7 3-2 4-23.8 34-6.5 8-14.7 13-12 6z"/>
<path fill="#bbdb3b" d="M138 2217.3l-5-.1-4.5-4.2-1.1-2 .7-5 6.9-13 8-8 10-7.2 25-15.6 3-1.4 2 .3 3.5 3.9-.5 2.6-17.3 26.4-5.7 6.5-12 10.3z"/>
<path fill="#d7e030" d="M137 2216l-2-.7-4-3.7-2-3.6 3-8.4 3.3-5.6 7.7-7.9 11-7.8 14-7.9 3-.8 2 .7 4 3.9 .7 2.8-2.7 6-7 10.4-5.8 6.6-11.6 10-4.6 2.7z"/>
<path fill="#ebe02a" d="M139 2214l-2.5-1-5.5-6 1.3-6 3.4-6 7.6-8 11.2-8 10.5-5.4 2-.5 2 .9 5.2 6-2.2 6-4 6-6 7-11.6 10-5.4 3.2z"/>
<path fill="#f7d228" d="M142 2212.2l-3-.6-6-6.2 0-3.4 3-5.9 8-8.6 10.6-7.5 6.4-3.2 3.9 .2 5.9 6 0 2-1.9 4-6.2 8-6.7 6.3-8.6 6.7z"/>
<path fill="#f4a22a" d="M145 2210.2l-4 .1-6-5.7-.7-2.6 1.6-4 5.1-6.4 5.1-4.6 10.9-7.1 3-1 2 .6 6 6 .2 1.5-1.3 3-5.5 7-5.2 5z"/>
<path fill="#ed6a29" d="M146 2208.2l-3 .3-6-5.5-.7-2 .7-2.4 2.3-3.6 5.7-6 9.3-6 4.1-1 6.3 6-.3 3-3.5 5-4.9 5z"/>
<path fill="#e73e29" d="M149 2204.1l-3-.8-4.4-4.3-.9-2 1.3-3 3-3.3 4-2.6 3-.9 6 5 1 2.8-4.9 6z"/>
<path fill="#1d2a8c" d="M251.2 2079.2h2.6v2.6h-2.6zM160.2 2216.2h2.6v2.6h-2.6zM147.2 2163.2h2.6v2.6h-2.6zM226.2 2142.2h2.6v2.6h-2.6zM272.2 2061.2h2.6v2.6h-2.6zM166.2 2151.2h2.6v2.6h-2.6zM266.2 2093.2h2.6v2.6h-2.6zM232.2 2096.2h2.6v2.6h-2.6zM298.2 2063.2h2.6v2.6h-2.6zM189.2 2188.2h2.6v2.6h-2.6zM314.2 2041.2h2.6v2.6h-2.6zM174.2 2204.2h2.6v2.6h-2.6zM268.2 2089.2h2.6v2.6h-2.6zM299.2 2061.2h2.6v2.6h-2.6zM141.2 2168.2h2.6v2.6h-2.6zM288.2 2048.2h2.6v2.6h-2.6zM241.2 2088.2h2.6v2.6h-2.6zM191.2 2183.2h2.6v2.6h-2.6zM304.2 2035.2h2.6v2.6h-2.6zM115.2 2204.2h2.6v2.6h-2.6zM245.2 2118.2h2.6v2.6h-2.6zM228.2 2103.2h2.6v2.6h-2.6zM249.2 2083.2h2.6v2.6h-2.6zM278.2 2080.2h2.6v2.6h-2.6zM299.2 2044.2h2.6v2.6h-2.6zM218.2 2154.2h2.6v2.6h-2.6zM277.2 2084.2h2.6v2.6h-2.6zM119.2 2228.2h2.6v2.6h-2.6zM121.2 2182.2h2.6v2.6h-2.6zM254.2 2108.2h2.6v2.6h-2.6zM252.2 2078.2h2.6v2.6h-2.6zM193.2 2185.2h2.6v2.6h-2.6zM199.2 2177.2h2.6v2.6h-2.6zM306.2 2039.2h2.6v2.6h-2.6zM186.2 2198.2h2.6v2.6h-2.6zM171.2 2146.2h2.6v2.6h-2.6zM299.2 2062.2h2.6v2.6h-2.6zM307.2 2049.2h2.6v2.6h-2.6zM242.2 2085.2h2.6v2.6h-2.6zM169.2 2145.2h2.6v2.6h-2.6zM277.2 2057.2h2.6v2.6h-2.6zM245.2 2085.2h2.6v2.6h-2.6zM201.2 2177.2h2.6v2.6h-2.6zM234.2 2098.2h2.6v2.6h-2.6zM215.2 2157.2h2.6v2.6h-2.6zM131.2 2179.2h2.6v2.6h-2.6zM181.2 2140.2h2.6v2.6h-2.6zM124.2 2183.2h2.6v2.6h-2.6zM280.2 2053.2h2.6v2.6h-2.6zM279.2 2057.2h2.6v2.6h-2.6zM248.2 2116.2h2.6v2.6h-2.6zM191.2 2132.2h2.6v2.6h-2.6zM185.2 2137.2h2.6v2.6h-2.6zM265.2 2069.2h2.6v2.6h-2.6zM119.2 2232.2h2.6v2.6h-2.6zM117.2 2197.2h2.6v2.6h-2.6zM212.2 2161.2h2.6v2.6h-2.6zM177.2 2139.2h2.6v2.6h-2.6zM139.2 2227.2h2.6v2.6h-2.6zM262.2 2066.2h2.6v2.6h-2.6zM221.2 2146.2h2.6v2.6h-2.6zM319.2 2034.2h2.6v2.6h-2.6zM187.2 2194.2h2.6v2.6h-2.6zM294.2 2070.2h2.6v2.6h-2.6zM187.2 2190.2h2.6v2.6h-2.6zM155.2 2155.2h2.6v2.6h-2.6zM165.2 2216.2h2.6v2.6h-2.6zM193.2 2188.2h2.6v2.6h-2.6zM249.2 2084.2h2.6v2.6h-2.6zM262.2 2103.2h2.6v2.6h-2.6zM257.2 2105.2h2.6v2.6h-2.6zM204.2 2169.2h2.6v2.6h-2.6zM205.2 2123.2h2.6v2.6h-2.6zM182.2 2140.2h2.6v2.6h-2.6zM118.2 2188.2h2.6v2.6h-2.6zM168.2 2146.2h2.6v2.6h-2.6zM181.2 2138.2h2.6v2.6h-2.6zM301.2 2060.2h2.6v2.6h-2.6zM315.2 2039.2h2.6v2.6h-2.6zM117.2 2190.2h2.6v2.6h-2.6zM111.2 2212.2h2.6v2.6h-2.6zM254.2 2074.2h2.6v2.6h-2.6zM167.2 2212.2h2.6v2.6h-2.6zM268.2 2066.2h2.6v2.6h-2.6zM200.2 2175.2h2.6v2.6h-2.6zM272.2 2085.2h2.6v2.6h-2.6zM295.2 2065.2h2.6v2.6h-2.6zM178.2 2200.2h2.6v2.6h-2.6zM279.2 2053.2h2.6v2.6h-2.6zM242.2 2088.2h2.6v2.6h-2.6zM229.2 2096.2h2.6v2.6h-2.6zM205.2 2119.2h2.6v2.6h-2.6zM205.2 2168.2h2.6v2.6h-2.6zM175.2 2142.2h2.6v2.6h-2.6zM192.2 2128.2h2.6v2.6h-2.6zM110.2 2219.2h2.6v2.6h-2.6zM197.2 2124.2h2.6v2.6h-2.6zM173.2 2205.2h2.6v2.6h-2.6zM152.2 2164.2h2.6v2.6h-2.6zM317.2 2032.2h2.6v2.6h-2.6zM203.2 2124.2h2.6v2.6h-2.6zM204.2 2125.2h2.6v2.6h-2.6zM309.2 2035.2h2.6v2.6h-2.6zM169.2 2146.2h2.6v2.6h-2.6zM198.2 2173.2h2.6v2.6h-2.6zM292.2 2044.2h2.6v2.6h-2.6zM298.2 2058.2h2.6v2.6h-2.6zM291.2 2045.2h2.6v2.6h-2.6zM309.2 2051.2h2.6v2.6h-2.6zM200.2 2178.2h2.6v2.6h-2.6z"/>
<path fill="#2a3080" d="M313.5 2035.5h3v3h-3zM316.5 2044.5h3v3h-3zM282.5 2084.5h3v3h-3zM112.5 2224.5h3v3h-3zM141.5 2164.5h3v3h-3z"/>
</g>
<rect x="106.4" y="2027.9" width="220.2" height="211.3" fill="none" stroke="#4d4d4d" stroke-width="2"/>
<rect x="106.4" y="2027.9" width="81.4" height="35" fill="#fff" stroke="#4d4d4d" stroke-width="2"/>
<text x="119.4" y="2053.6" font-size="15" fill="#222" textLength="59" lengthAdjust="spacingAndGlyphs">R = 0.96</text>
<line x1="127.9" y1="2239.2" x2="127.9" y2="2249.2" stroke="#666" stroke-width="2"/>
<text x="119.7" y="2269.5" font-size="15.5" fill="#222" text-anchor="middle">1.5</text>
<line x1="171.6" y1="2239.2" x2="171.6" y2="2249.2" stroke="#666" stroke-width="2"/>
<text x="163.4" y="2269.5" font-size="15.5" fill="#222" text-anchor="middle">2.0</text>
<line x1="214.7" y1="2239.2" x2="214.7" y2="2249.2" stroke="#666" stroke-width="2"/>
<text x="210.6" y="2269.5" font-size="15.5" fill="#222" text-anchor="middle">2.5</text>
<line x1="258.4" y1="2239.2" x2="258.4" y2="2249.2" stroke="#666" stroke-width="2"/>
<text x="251.6" y="2269.5" font-size="15.5" fill="#222" text-anchor="middle">3.0</text>
<line x1="301.5" y1="2239.2" x2="301.5" y2="2249.2" stroke="#666" stroke-width="2"/>
<text x="299.3" y="2269.5" font-size="15.5" fill="#222" text-anchor="middle">3.5</text>
<line x1="96.9" y1="2058" x2="106.4" y2="2058" stroke="#666" stroke-width="2"/>
<text x="91.6" y="2063.6" font-size="15.5" fill="#222" text-anchor="end">3.5</text>
<line x1="96.9" y1="2098.1" x2="106.4" y2="2098.1" stroke="#666" stroke-width="2"/>
<text x="91.6" y="2103.7" font-size="15.5" fill="#222" text-anchor="end">3.0</text>
<line x1="96.9" y1="2139" x2="106.4" y2="2139" stroke="#666" stroke-width="2"/>
<text x="91.6" y="2144.6" font-size="15.5" fill="#222" text-anchor="end">2.5</text>
<line x1="96.9" y1="2180.5" x2="106.4" y2="2180.5" stroke="#666" stroke-width="2"/>
<text x="91.6" y="2186.1" font-size="15.5" fill="#222" text-anchor="end">2.0</text>
<line x1="96.9" y1="2221.5" x2="106.4" y2="2221.5" stroke="#666" stroke-width="2"/>
<text x="91.6" y="2227.1" font-size="15.5" fill="#222" text-anchor="end">1.5</text>
<text x="201.3" y="1998" font-size="19.3" font-weight="bold" fill="#000" text-anchor="middle">E16.5</text>
<text x="98.6" y="2287" font-size="16" fill="#222" textLength="229.1" lengthAdjust="spacingAndGlyphs">Bulk ATAC-seq rep1 (log<tspan font-size="9.9" dy="4">10</tspan><tspan dy="-4"> reads)</tspan></text>
<text transform="translate(55.2,2244.8) rotate(-90)" x="0" y="0" font-size="16" fill="#222" textLength="230" lengthAdjust="spacingAndGlyphs">Bulk ATAC-seq rep2 (log<tspan font-size="9.9" dy="4">10</tspan><tspan dy="-4"> reads)</tspan></text>
<g filter="url(#soft)">
<path fill="#151f84" d="M570 2210.7l-3-2.3-4-.4-2 1.1-3-.8-2 1.9-1-1.9-2 .1-1.4-1.4 .7-4 1-1-5.3-.8-6-5.2 .6-3 1.4-1 .6-2-3.4-2 .2-1 2.1-2 1.5-3-4-.9-.7-1.1 .8-2-1.1-1 .1-1 3.3-3-.3-2-1.4-1 .9-5 1.4-.9 1.5 .9-1.1 2 .6 3.3 1-.1 3-5-.1-2.2 1.2-1 .9-2.4 1 .1 .9 1.3 .4 1-.9 1 1.6 .4 2.5-3.4-2-1 .1-1 7.4-1.4 1-1.7 2 .9 2.1-1.8 .2-4 1.7-.9 .1 1.9 1.9 1.1 4.5-4.1 1.4-4 1.1-.9 2 1.7 3-.5 4-4.2 3-.3 4-2.5 2-2.8 6.6-2.5 1.4-2.5 2-.5 2 .9 6-6.3 3 .5 .8-1.1 2.2-.8 1.3-1.2-.3-3 1-.8 5-.6 5-4.7 3-.5 3.6-2.4 3.9-4-1.1-2 4.1-1 2.5-4.3 2-.7 1-2.6 5.2-.4 .1-1-1.3-.3 0-1.7 3 .4 2-3.6 3 2.3 2 .5 .4 1.4-5.2 3 .9 1-.7 3-2.4 0-1 .8-4 7-6 5.1-3.7 5.1-1.3 4.7-1-.1-1 1.9-2.6 1.5 .8 1-3 4-6.2 3.8-2 3.5-2.4 1.7 .4 1-1 2.8-2 .2-2 4.1-2 2-2.3-.1-.9 3-2.1 1-.7 2.5-1-.3-1.6 .8-2.4 4.7-2.3 2.3 .1 3-3.8 4.3-2-.4-1.3 1.1 .2 1-1.9 3.5-4 4.5 0 2-2.2 2-1.8 3.4-2 .4-1 1.5-2-1.1-1.5 1.8-2.3 1-.1 3 2.6 2-.2 1-2 1-.5 1.8-5 5.9 .3 2.3-3.8 0zM544.5 2176l1.8-2-1.3-1.2-1.4 3.2zM540 2190.1l-.8-1.1 .8-.9 1 .2 .6 .7zM578.3 2195l.4-1-1.9-1 .2 2 1 .6zM570.1 2205l2.8-1-.9-.7-2.4 .7zM567.5 2206l-.5-.9-1.2 .9 1.2 .7z"/>
<path fill="#172492" d="M565 2198.4l-3-2.5-3-6-2-.2-1-2.1-.9 .4 .6 1-1.7 .6-.5-.6 .4-2-2.3-2-.5-3-2.3-2 .2-1.1 2.1-.9-.1-4.5 3.5-4.5 1.5-6.2 3-2.9 1.8 .1-.8 1.1 2-1.4 16.5-11.7 .5-1.3 4-1.5 8.9-5.2 3.1-2 1-1.6 2-.2 6.1-3.2 .9-2.2 3 0 9-5.6 5.9-4.2 .4-2 1.7 .1 3-1.4 24-18.2 2.2-.5-.2 3.2-13 16.5-37 42.3-13.6 17-.4 2.1-4 2.5-2.8 3.4-5.2 2.1-2 2.4-2 .5-.7 3zM549 2186.4l-2 .1-.9-1.5 2.9-2.1 .8 1.1zM554 2196.1l-1.8-.1-.5-1 3.3-2 1 .4 1 1.7zM547 2198l-1.3-1 .3-1.4 1.7 .4 .6 1-.3 .9zM560 2198.6l-2-.3-.7-2.3 2.7 .3 .6 .7zM558 2203.1l0-.7 .7 .6z"/>
<path fill="#1d37ab" d="M570 2186.1l-3-1.4-9.2-8.7 1.3-9 4.3-6 7.6-6.6 10-6.8 30-17.6 33-22.1 3-1-5.8 9.1-51.2 60.5-5 4.7-5 3.3z"/>
<path fill="#2653c7" d="M577 2183.2l-5-.7-10.4-9.5-.6-3 .6-3 3.9-6 6.3-6 9.2-6.3 30-17.7 25-16.1 4.3-1.9-.3 2-8.3 11-40.7 47.9-8 6.8z"/>
<path fill="#377bdd" d="M578 2181.2l-3 .2-2-.8-8-7-1.8-2.6 .1-3 1.1-3 4.6-6 5-4.6 10-6.7 46-27.6 3-1.4 1.7 .3-6.7 10-37.4 44-6.6 5.4z"/>
<path fill="#56a7eb" d="M580 2179.1l-3 .6-2.7-.7-8.8-8-.6-2 .7-3 4.6-7 4.2-4 9.6-6.4 36.5-21.6 8.5-3.9 .2 1.9-4.1 6-34.6 41-5.5 4.5z"/>
<path fill="#7ecddb" d="M578 2178.1l-3.1-1.1-8.1-8 1.2-5 4.2-6 9.8-7.3 18-10.7 19-10.8 4.9-1.2 0 2-3.3 5-30.6 36.4-6 4.5z"/>
<path fill="#a1dc91" d="M581 2176.2l-4.1-.2-8.4-8 .7-4 4-6 10.8-7.8 19.1-11.2 11.9-6 3.5 0-.1 2-2.4 4-26 31.4-4 3.3z"/>
<path fill="#bbdb3b" d="M580 2175.1l-3-1.4-6.9-6.7 .8-4 3.3-5 11.3-8 17.5-10 7-2.8 3 .8 .1 2-3 5-20.6 25-4.5 3.4z"/>
<path fill="#d7e030" d="M583 2173.4l-2 .3-2-.6-7-6.4-.4-2.7 2.6-5 8.8-6.7 14.3-8.3 6.7-3 2-.3 2 1 .9 1.3-.5 2-5.6 8-14.2 17z"/>
<path fill="#ebe02a" d="M584 2172.1l-3.6-.1-6.8-6-.8-2 1.5-4 4.7-4.3 12.6-7.7 8.4-3.7 3 .6 1.7 2.1-2.3 5-13.7 17z"/>
<path fill="#f7d228" d="M584 2171.2l-3-.6-6.3-5.6-.6-2 1.1-3 3.8-3.5 9-5.6 6.2-2.9 3.7 0 2.7 3-1.6 4-11 13.8z"/>
<path fill="#f4a22a" d="M584 2170.2l-2-.6-6-5.3-.7-1.3 .3-2 2.5-3 5.9-3.8 6-2.9 3-.2 3.3 2.9-.3 3-8 10.8z"/>
<path fill="#ed6a29" d="M586 2168.4l-3 .1-5.3-4.5-1.2-2 .7-2 2.2-2 3.6-2.1 4-1.2 2.6 1.3 2.5 3-2.1 4.8z"/>
<path fill="#e73e29" d="M585 2167.2l-2-.9-4.5-4.3-.2-1 1.7-1.9 2-.8 2 .2 3.9 3.5-.4 3z"/>
<path fill="#1d2a8c" d="M552.2 2211.2h2.6v2.6h-2.6zM565.2 2205.2h2.6v2.6h-2.6zM553.2 2212.2h2.6v2.6h-2.6zM538.2 2161.2h2.6v2.6h-2.6zM540.2 2192.2h2.6v2.6h-2.6zM576.2 2205.2h2.6v2.6h-2.6zM617.2 2119.2h2.6v2.6h-2.6zM662.2 2084.2h2.6v2.6h-2.6zM597.2 2170.2h2.6v2.6h-2.6zM615.2 2155.2h2.6v2.6h-2.6zM544.2 2201.2h2.6v2.6h-2.6zM644.2 2116.2h2.6v2.6h-2.6zM540.2 2194.2h2.6v2.6h-2.6zM606.2 2123.2h2.6v2.6h-2.6zM639.2 2125.2h2.6v2.6h-2.6zM535.2 2189.2h2.6v2.6h-2.6zM578.2 2200.2h2.6v2.6h-2.6zM622.2 2145.2h2.6v2.6h-2.6zM643.2 2119.2h2.6v2.6h-2.6zM550.2 2209.2h2.6v2.6h-2.6zM567.2 2148.2h2.6v2.6h-2.6zM602.2 2125.2h2.6v2.6h-2.6zM551.2 2208.2h2.6v2.6h-2.6zM579.2 2190.2h2.6v2.6h-2.6zM607.2 2162.2h2.6v2.6h-2.6zM590.2 2137.2h2.6v2.6h-2.6zM636.2 2130.2h2.6v2.6h-2.6zM563.2 2149.2h2.6v2.6h-2.6zM655.2 2107.2h2.6v2.6h-2.6zM583.2 2195.2h2.6v2.6h-2.6zM541.2 2183.2h2.6v2.6h-2.6zM665.2 2087.2h2.6v2.6h-2.6zM661.2 2102.2h2.6v2.6h-2.6zM612.2 2123.2h2.6v2.6h-2.6zM634.2 2107.2h2.6v2.6h-2.6zM562.2 2153.2h2.6v2.6h-2.6zM565.2 2212.2h2.6v2.6h-2.6zM654.2 2089.2h2.6v2.6h-2.6zM631.2 2107.2h2.6v2.6h-2.6zM647.2 2119.2h2.6v2.6h-2.6zM592.2 2133.2h2.6v2.6h-2.6zM535.2 2186.2h2.6v2.6h-2.6zM536.2 2178.2h2.6v2.6h-2.6zM537.2 2184.2h2.6v2.6h-2.6zM646.2 2114.2h2.6v2.6h-2.6zM634.2 2132.2h2.6v2.6h-2.6zM659.2 2103.2h2.6v2.6h-2.6zM613.2 2157.2h2.6v2.6h-2.6zM593.2 2181.2h2.6v2.6h-2.6zM576.2 2204.2h2.6v2.6h-2.6zM607.2 2161.2h2.6v2.6h-2.6zM650.2 2110.2h2.6v2.6h-2.6zM561.2 2211.2h2.6v2.6h-2.6zM614.2 2155.2h2.6v2.6h-2.6zM638.2 2124.2h2.6v2.6h-2.6zM591.2 2132.2h2.6v2.6h-2.6zM656.2 2086.2h2.6v2.6h-2.6zM658.2 2099.2h2.6v2.6h-2.6zM542.2 2159.2h2.6v2.6h-2.6zM644.2 2101.2h2.6v2.6h-2.6zM656.2 2102.2h2.6v2.6h-2.6zM662.2 2099.2h2.6v2.6h-2.6zM577.2 2205.2h2.6v2.6h-2.6zM564.2 2208.2h2.6v2.6h-2.6zM574.2 2206.2h2.6v2.6h-2.6zM620.2 2119.2h2.6v2.6h-2.6zM619.2 2117.2h2.6v2.6h-2.6zM625.2 2113.2h2.6v2.6h-2.6zM619.2 2119.2h2.6v2.6h-2.6zM643.2 2100.2h2.6v2.6h-2.6zM544.2 2173.2h2.6v2.6h-2.6zM588.2 2192.2h2.6v2.6h-2.6zM659.2 2099.2h2.6v2.6h-2.6zM656.2 2105.2h2.6v2.6h-2.6zM608.2 2156.2h2.6v2.6h-2.6zM544.2 2199.2h2.6v2.6h-2.6zM654.2 2103.2h2.6v2.6h-2.6zM648.2 2115.2h2.6v2.6h-2.6zM664.2 2092.2h2.6v2.6h-2.6zM635.2 2107.2h2.6v2.6h-2.6zM653.2 2104.2h2.6v2.6h-2.6zM569.2 2147.2h2.6v2.6h-2.6zM565.2 2209.2h2.6v2.6h-2.6zM536.2 2165.2h2.6v2.6h-2.6zM538.2 2186.2h2.6v2.6h-2.6zM601.2 2169.2h2.6v2.6h-2.6zM582.2 2200.2h2.6v2.6h-2.6zM553.2 2208.2h2.6v2.6h-2.6zM573.2 2211.2h2.6v2.6h-2.6zM577.2 2204.2h2.6v2.6h-2.6zM614.2 2121.2h2.6v2.6h-2.6zM581.2 2202.2h2.6v2.6h-2.6zM609.2 2126.2h2.6v2.6h-2.6zM578.2 2207.2h2.6v2.6h-2.6zM561.2 2150.2h2.6v2.6h-2.6zM575.2 2208.2h2.6v2.6h-2.6zM617.2 2116.2h2.6v2.6h-2.6zM650.2 2091.2h2.6v2.6h-2.6zM608.2 2126.2h2.6v2.6h-2.6zM564.2 2212.2h2.6v2.6h-2.6zM652.2 2093.2h2.6v2.6h-2.6zM554.2 2156.2h2.6v2.6h-2.6zM642.2 2101.2h2.6v2.6h-2.6zM650.2 2111.2h2.6v2.6h-2.6zM539.2 2195.2h2.6v2.6h-2.6zM539.2 2194.2h2.6v2.6h-2.6zM637.2 2126.2h2.6v2.6h-2.6zM661.2 2087.2h2.6v2.6h-2.6zM646.2 2118.2h2.6v2.6h-2.6zM539.2 2186.2h2.6v2.6h-2.6z"/>
<path fill="#2a3080" d="M515.5 2165.5h3v3h-3zM515.5 2183.5h3v3h-3zM515.5 2188.5h3v3h-3zM528.5 2166.5h3v3h-3zM528.5 2170.5h3v3h-3zM528.5 2174.5h3v3h-3zM528.5 2178.5h3v3h-3zM528.5 2182.5h3v3h-3zM528.5 2186.5h3v3h-3zM528.5 2190.5h3v3h-3zM528.5 2196.5h3v3h-3zM535.5 2174.5h3v3h-3zM535.5 2180.5h3v3h-3zM535.5 2198.5h3v3h-3zM544.5 2201.5h3v3h-3zM544.5 2217.5h3v3h-3zM557.5 2217.5h3v3h-3zM560.5 2217.5h3v3h-3zM571.5 2217.5h3v3h-3zM556.5 2211.5h3v3h-3zM560.5 2211.5h3v3h-3zM565.5 2211.5h3v3h-3zM570.5 2211.5h3v3h-3zM569.5 2229.5h3v3h-3zM663.5 2091.5h3v3h-3zM665.5 2082.5h3v3h-3zM670.5 2080.5h3v3h-3zM673.5 2074.5h3v3h-3zM683.5 2066.5h3v3h-3zM719.5 2034.5h3v3h-3zM657.5 2089.5h3v3h-3zM611.5 2158.5h3v3h-3zM607.5 2160.5h3v3h-3zM597.5 2180.5h3v3h-3zM593.5 2184.5h3v3h-3z"/>
</g>
<rect x="509.3" y="2027.9" width="219.5" height="211.3" fill="none" stroke="#4d4d4d" stroke-width="2"/>
<rect x="509.3" y="2027.9" width="81" height="35" fill="#fff" stroke="#4d4d4d" stroke-width="2"/>
<text x="522.3" y="2053.6" font-size="15" fill="#222" textLength="59" lengthAdjust="spacingAndGlyphs">R = 0.91</text>
<line x1="518.4" y1="2239.2" x2="518.4" y2="2249.2" stroke="#666" stroke-width="2"/>
<text x="517.8" y="2269.5" font-size="15.5" fill="#222" text-anchor="middle">0</text>
<line x1="558.8" y1="2239.2" x2="558.8" y2="2249.2" stroke="#666" stroke-width="2"/>
<text x="558" y="2269.5" font-size="15.5" fill="#222" text-anchor="middle">1</text>
<line x1="600.5" y1="2239.2" x2="600.5" y2="2249.2" stroke="#666" stroke-width="2"/>
<text x="597.8" y="2269.5" font-size="15.5" fill="#222" text-anchor="middle">2</text>
<line x1="642" y1="2239.2" x2="642" y2="2249.2" stroke="#666" stroke-width="2"/>
<text x="642" y="2269.5" font-size="15.5" fill="#222" text-anchor="middle">3</text>
<line x1="683.8" y1="2239.2" x2="683.8" y2="2249.2" stroke="#666" stroke-width="2"/>
<text x="681.6" y="2269.5" font-size="15.5" fill="#222" text-anchor="middle">4</text>
<line x1="725.3" y1="2239.2" x2="725.3" y2="2249.2" stroke="#666" stroke-width="2"/>
<text x="723.9" y="2269.5" font-size="15.5" fill="#222" text-anchor="middle">5</text>
<line x1="499.8" y1="2034.5" x2="509.3" y2="2034.5" stroke="#666" stroke-width="2"/>
<text x="494.6" y="2040.1" font-size="15.5" fill="#222" text-anchor="end">5</text>
<line x1="499.8" y1="2073.5" x2="509.3" y2="2073.5" stroke="#666" stroke-width="2"/>
<text x="494.6" y="2079.1" font-size="15.5" fill="#222" text-anchor="end">4</text>
<line x1="499.8" y1="2113.1" x2="509.3" y2="2113.1" stroke="#666" stroke-width="2"/>
<text x="494.6" y="2118.7" font-size="15.5" fill="#222" text-anchor="end">3</text>
<line x1="499.8" y1="2152.7" x2="509.3" y2="2152.7" stroke="#666" stroke-width="2"/>
<text x="494.6" y="2158.3" font-size="15.5" fill="#222" text-anchor="end">2</text>
<line x1="499.8" y1="2192.3" x2="509.3" y2="2192.3" stroke="#666" stroke-width="2"/>
<text x="494.6" y="2197.9" font-size="15.5" fill="#222" text-anchor="end">1</text>
<line x1="499.8" y1="2231.9" x2="509.3" y2="2231.9" stroke="#666" stroke-width="2"/>
<text x="494.6" y="2237.5" font-size="15.5" fill="#222" text-anchor="end">0</text>
<text x="617.5" y="1998" font-size="19.3" font-weight="bold" fill="#000" text-anchor="middle">E16.5</text>
<text x="513.7" y="2287" font-size="16" fill="#222" textLength="212.9" lengthAdjust="spacingAndGlyphs">snATAC-seq rep1 (log<tspan font-size="9.9" dy="4">10</tspan><tspan dy="-4"> reads)</tspan></text>
<text transform="translate(472.1,2234.5) rotate(-90)" x="0" y="0" font-size="16" fill="#222" textLength="211.5" lengthAdjust="spacingAndGlyphs">snATAC-seq rep2 (log<tspan font-size="9.9" dy="4">10</tspan><tspan dy="-4"> reads)</tspan></text>
<g filter="url(#soft)">
<path fill="#151f84" d="M1062 2042.2l-3-2.3-.6-1.9 2.4 0 .6 2 1.7 1-.1 1zM981 2229.3l-2-2.2-3-1.1-.4 1-1.6 .7-5-.6-1 2.2-1-.8-3 .3-4-2-2 2.2-1.4-1-.2-2-2.4-1.6-5 .9-2-1.1-4 .7 1.1-2.9-2.4-5 .3-1.2 3-.6 0-1.2-1.7-1 1.7-2.5 .6-2.5-3-1 .7-2-.3-.8-1 2-.8-3.2 .8-.9 1 1.8 1.5-4.9 1.6-2-3.1-3.5 0-1.1 4 1.2 .7-.6 1.3-3-4-.7 0-.9 2-.1 2-3 4 1.4 .6-1.7-2.7-2 1.1-.9 1 .9 1-.5 2-3.5 3-.2 2-2.3 1 .2 1.7-1.7-.7-1-1.4 0 .4-4 1-.7 5 .9 3.7-8.2 2.3-2.9 2-.1 .8-1 1.2-3.6 3 .7 2.2-2.1-.2-1.3-3-.7-.7-1 .4-1 1.9-1 1.4-2.3 2.5-.7 .5-2 2.3-2-.4-3 1-1 3.1 1.5 .9-.5-2.3-5 .4-1.2 1.2-.8 .8 2.1 4.1-1.1 2.4-5-2.5-3 .4-3 2.6-1 2 3 2-.7 1.1-2.3-1.9-3 .5-2 3.4-3 .9-3.3 1-.3 1 3.1 1.8-.5 1.3-3-.1-4 1.7-3-1.7-1.3 2.8-1.7 .2-2.7 2 .3 .4 1.4 1.6 1.2 1-.9-.3-1.3-2-1 4.3-3 2.7-4-.2-3 2.8-2 1.5-6 3.2-.9-2-1.3 .5-2.8 .5-.8 2 1 1-3.4 2 .5 .3-3.3 .9-1-.4-2 1.2-1 0-1 2.6-1 .7-1-.3-2.1 1.8 2.1 1.2 .3 .2-3.3 3.8-2 1-3.4 2-1.6 1-3.9 1 1.6 2-.1 1.5-2.6-1.1-1 1.6-1.2 1 .4 2 1.5 2.3 3.3 1.1 5-1.8 1-.6 3.2-2 0-.3 .8 2.4 3-1.8 3-.3 3.1-1 .9-2-1.1-1 1.1 0 1.7 1.8 1.3-2.4 3 2.6-.2 1.2 1.2-.5 1-4.7 1.5-.5 2.5-1.7 1 .2 2.1 2-1.1 1 .9 .1 3.1-1.2 1-.9 2.7-1 .9-1.1-.6 1 3-3.2 8-2.2 2-.5 1.9-2 .1-2 2.8 1 3.2-2 1.3-.4 3.7-2.8 3 .9 2-2.7 1.4-.6 1.6 .6 1.5 1.2 .5-.2 1.8-4.8 4.2-1.8 4 .7 2-.5 2-2.8 4 .4 5-2.6 2 .2 2-2.3 3 .5 .6 2-.5 .9 .9-2.9 2.7-2.8-.7 1.3 1-1.4 2 .9 2.5-1 .4 0-1.9-1-.4-1.9 1.4-.6 3 1 1 .2 4-1.4 1-1.5 3 1.2 1.8 2 .9-.1 1.3-.9 1.1-2.2-.1 .2 2-1 1.1-1 .3-2-1.4-1.1 2-.6 5-1.5 2 4.2-.4 0 1.4-1 1-1.5 0-.6 2-1.9 .4-1.1 1.6 1.8 2-3.4 2 2.6 3-2.3 1-.3 3 1.1 2-.3 1-1.3 1-1.8-3.1-1.9 2.1-.2 2-1.7 2 .4 1-3.9 3 .2 3-1.7 2-.2 1.5-6 2.8-2.4-1.3 1.6-3-1.2-.2-2 1.1-2-.4-1.1 .5 1.5 3zM1060.4 2054l1.5-1 0-1-2 0 .1 2.7zM1058.3 2063l-1.6 0 .3 .6zM1027.3 2088l1.7-1 1-3.3-.2 1.3-3.6 2 0 1zM1048.6 2094l-.6-1.2-.6 1.2 .6 .6zM1010 2107.3l-.7-2.3 .7-1.8 2.8 1.8zM1041 2118.5l-1.1-.5 .5-2 1.6-.6 .4 1.6zM1038 2128.4l-.7-1.4 .7-.2zM1020 2166.1l-1.5-1.1 1.5-.7zM951 2189l0-1.5-1-.4-.9 .9-.1 1 1 .9zM944 2190.5l-.5-.5 .5-.6zM1003 2214.3l-1 .4-.5-.7-.4-1 .9-.8 1.6 .8zM1001 2218.3l0-1.5 .7 1.2zM992.8 2225l1.1-1-1.9-1.2-2-.1-1.6 1.3 1.6 1.7 2 .1z"/>
<path fill="#172492" d="M1058 2050.4l-1 .4-2-1.8 .9-1 3.1-.7 .3 .7zM973 2226.5l-.9-.5 .6-1-.7-.9-3 1.1-2-.9-5-.4-1 1.4-1 0-2-1.8-10-.4-2-.8-.4-5.3 1.6-5 1.8-17.6 24.4-27.4 1.6-3.6 2-.6 4.4-4.8 11.9-17 2.9-6 2.8-2.8 15.3-22.2 .7-4.2 4-2.9 6.5-8.9 0-2 6.3-6 9.8-18 8.4-10 3-6.5 1-.6 2.5 2.1 .1 3 .8 1-3 5-.6 2 .8 3-2 2-1.3 4 .5 2-1.8 3 .7 6-2.4 2-.4 3-2.2 5 1.9 3-1.6 .6-1-.7-1 .9-12.2 28.2-3.4 9 .8 4-4 4-.4 3-2 3-.5 3-2.3 3.2-3.4 7.8-2.5 7 0 3-5.2 12-2.4 9-3.1 6 .2 2-2.3 3-3.3 7.5-10 8.4-4 2.1-9 .4-1.7 1.6zM988 2145.2l0-.7 .9 .5zM1026 2147.3l-.9-2.3 .9-.5 .8 1.5z"/>
<path fill="#1d37ab" d="M970 2222l-19-.7-2.8-1.3 2.7-24 33.7-39 36.2-53 13-17 9.2-15 3-3.1 2 0 0 5.1-4 18-29.9 72-8.9 26-6.7 16-3.5 6.1-9 7.2z"/>
<path fill="#2653c7" d="M970 2220l-14-.3-5.1-1.7-.5-3 2.3-18 33.3-38.9 37-53.9 16-20.2 2-1.3 .7 .3 .8 4-1.5 6.8-28 68.2-9.5 28-5.9 14-4.2 7-7.5 6-2.9 1.1z"/>
<path fill="#377bdd" d="M972 2218l-13-.2-5.6-2.8-.6-3 1.9-15 32.5-38 37.8-54.4 7-7.6 3-.9 1 2.9-2 6.9-23 56.9-8.7 26.2-6 14-4.3 7-7 5.5z"/>
<path fill="#56a7eb" d="M974 2216.1l-6 .6-5-.7-7-3.9-1.1-4.1 1.2-10 20.4-25 11.7-13 32.8-46.6 4-4.4 2-.9 1 .3 1.1 2.6-2.1 7.5-17.2 43.5-8.6 26-5.4 13-4.8 7.8-5 4.2-3 1.6z"/>
<path fill="#7ecddb" d="M971 2215.1l-6-.9-7.7-5.2-.8-3 .8-7 20-25 11.8-13 23.9-33.5 4-4.6 3-1 1.3 1.1 .3 2-2.6 10-11 28.2-8.1 24.8-5.1 12-4.8 7.7-5 4.2-3 1.4z"/>
<path fill="#a1dc91" d="M974 2213.2l-6-.1-9-5.8-.9-3.3 .9-5 19.8-25 11.2-12.2 18-24.4 3-2.9 2-.3 2 1.4 .3 1.4-1.3 6.8-7.2 19.2-7.4 23-5.4 13-5 7.8-4 3.6-3 1.4z"/>
<path fill="#bbdb3b" d="M978 2211.1l-6 .8-4-1.5-7.8-5.4-.5-2 .4-3 16.9-22 14-15.6 10-13.4 4-3.5 2 0 2.4 2.5-.4 4.5-10.1 31.5-4.8 12-2.6 5-4.5 6.1-4 3z"/>
<path fill="#d7e030" d="M976 2210l-5-.6-8-5.1-1.6-2.3 .3-2 19.1-25 17.2-19.2 2-1.4 2 .3 2.5 2.3-.5 5.4-5.9 20.6-5.6 14-4.5 7.1-3.9 3.9-3.1 1.5z"/>
<path fill="#ebe02a" d="M981 2208.4l-5 .2-3-.8-8-5.1-1.4-2.7 18.6-25 10.8-10.4 2-1.2 2 .1 3 2.3 .4 2.2-1.4 8.4-2.6 8.6-6.9 15-3.8 5z"/>
<path fill="#f7d228" d="M981 2207.1l-3 .2-3-.8-8-5.2-1.1-2.3 16.1-22.3 7-6.7 3.5-1 3.5 2 1.6 2 .1 3-1.4 6-6.8 16-4.4 6z"/>
<path fill="#f4a22a" d="M982 2205l-3 .8-2.4-.8-7.6-5-.6-2 6.6-10.6 7-9 5-4.8 3-.9 5.1 3.3 .6 2-.6 4-6.1 14.9-4 5.5z"/>
<path fill="#ed6a29" d="M981 2203.2l-2-.5-6-3.9-1-.9-.1-1.9 3.3-7 5.8-7.5 4-4 3-.5 5 3.6 0 3.6-5 12.3-4 5z"/>
<path fill="#e73e29" d="M984 2198.6l-2 .2-4.6-2.8-1.4-1.1-.6-1.9 1.6-4.2 6-5.8 5 2.4 1.3 2.6-2.1 7z"/>
<path fill="#1d2a8c" d="M1010.2 2110.2h2.6v2.6h-2.6zM1025.2 2082.2h2.6v2.6h-2.6zM990.2 2127.2h2.6v2.6h-2.6zM985.2 2230.2h2.6v2.6h-2.6zM1018.2 2090.2h2.6v2.6h-2.6zM941.2 2213.2h2.6v2.6h-2.6zM1031.2 2150.2h2.6v2.6h-2.6zM941.2 2190.2h2.6v2.6h-2.6zM1020.2 2168.2h2.6v2.6h-2.6zM1027.2 2077.2h2.6v2.6h-2.6zM1060.2 2076.2h2.6v2.6h-2.6zM1054.2 2042.2h2.6v2.6h-2.6zM1037.2 2123.2h2.6v2.6h-2.6zM940.2 2190.2h2.6v2.6h-2.6zM985.2 2139.2h2.6v2.6h-2.6zM1067.2 2042.2h2.6v2.6h-2.6zM1033.2 2068.2h2.6v2.6h-2.6zM1056.2 2044.2h2.6v2.6h-2.6zM964.2 2167.2h2.6v2.6h-2.6zM1065.2 2037.2h2.6v2.6h-2.6zM1065.2 2044.2h2.6v2.6h-2.6zM1058.2 2079.2h2.6v2.6h-2.6zM1011.2 2103.2h2.6v2.6h-2.6zM972.2 2155.2h2.6v2.6h-2.6zM1001.2 2221.2h2.6v2.6h-2.6zM940.2 2212.2h2.6v2.6h-2.6zM985.2 2137.2h2.6v2.6h-2.6zM1014.2 2183.2h2.6v2.6h-2.6zM1018.2 2091.2h2.6v2.6h-2.6zM978.2 2227.2h2.6v2.6h-2.6zM975.2 2227.2h2.6v2.6h-2.6zM997.2 2221.2h2.6v2.6h-2.6zM1020.2 2167.2h2.6v2.6h-2.6zM1018.2 2087.2h2.6v2.6h-2.6zM1020.2 2092.2h2.6v2.6h-2.6zM1006.2 2202.2h2.6v2.6h-2.6zM1010.2 2186.2h2.6v2.6h-2.6zM1012.2 2185.2h2.6v2.6h-2.6zM1041.2 2054.2h2.6v2.6h-2.6zM1029.2 2071.2h2.6v2.6h-2.6zM1028.2 2070.2h2.6v2.6h-2.6zM1062.2 2059.2h2.6v2.6h-2.6zM1022.2 2172.2h2.6v2.6h-2.6zM989.2 2227.2h2.6v2.6h-2.6zM998.2 2117.2h2.6v2.6h-2.6zM1008.2 2205.2h2.6v2.6h-2.6zM1036.2 2135.2h2.6v2.6h-2.6zM987.2 2229.2h2.6v2.6h-2.6zM945.2 2191.2h2.6v2.6h-2.6zM1031.2 2064.2h2.6v2.6h-2.6zM979.2 2229.2h2.6v2.6h-2.6zM1017.2 2092.2h2.6v2.6h-2.6zM953.2 2226.2h2.6v2.6h-2.6zM970.2 2230.2h2.6v2.6h-2.6zM1018.2 2092.2h2.6v2.6h-2.6zM948.2 2183.2h2.6v2.6h-2.6zM1034.2 2138.2h2.6v2.6h-2.6zM1007.2 2202.2h2.6v2.6h-2.6zM1007.2 2100.2h2.6v2.6h-2.6zM965.2 2168.2h2.6v2.6h-2.6zM1045.2 2115.2h2.6v2.6h-2.6zM1022.2 2162.2h2.6v2.6h-2.6zM1011.2 2102.2h2.6v2.6h-2.6zM1018.2 2172.2h2.6v2.6h-2.6zM946.2 2190.2h2.6v2.6h-2.6zM1001.2 2218.2h2.6v2.6h-2.6zM991.2 2127.2h2.6v2.6h-2.6zM939.2 2200.2h2.6v2.6h-2.6zM1042.2 2117.2h2.6v2.6h-2.6zM1013.2 2096.2h2.6v2.6h-2.6zM978.2 2146.2h2.6v2.6h-2.6zM1040.2 2051.2h2.6v2.6h-2.6zM1033.2 2070.2h2.6v2.6h-2.6zM1031.2 2145.2h2.6v2.6h-2.6zM940.2 2195.2h2.6v2.6h-2.6zM1053.2 2091.2h2.6v2.6h-2.6zM1011.2 2184.2h2.6v2.6h-2.6zM1038.2 2058.2h2.6v2.6h-2.6zM1047.2 2049.2h2.6v2.6h-2.6zM1010.2 2193.2h2.6v2.6h-2.6zM981.2 2224.2h2.6v2.6h-2.6zM959.2 2168.2h2.6v2.6h-2.6zM943.2 2195.2h2.6v2.6h-2.6zM978.2 2147.2h2.6v2.6h-2.6zM1049.2 2044.2h2.6v2.6h-2.6zM969.2 2227.2h2.6v2.6h-2.6zM1047.2 2108.2h2.6v2.6h-2.6zM1026.2 2163.2h2.6v2.6h-2.6zM1064.2 2051.2h2.6v2.6h-2.6zM970.2 2229.2h2.6v2.6h-2.6zM995.2 2122.2h2.6v2.6h-2.6zM1063.2 2038.2h2.6v2.6h-2.6zM1061.2 2033.2h2.6v2.6h-2.6zM963.2 2229.2h2.6v2.6h-2.6zM944.2 2207.2h2.6v2.6h-2.6zM1059.2 2053.2h2.6v2.6h-2.6zM1029.2 2147.2h2.6v2.6h-2.6zM1037.2 2125.2h2.6v2.6h-2.6zM1049.2 2047.2h2.6v2.6h-2.6zM1033.2 2067.2h2.6v2.6h-2.6zM1036.2 2121.2h2.6v2.6h-2.6zM1022.2 2090.2h2.6v2.6h-2.6zM1043.2 2106.2h2.6v2.6h-2.6zM1055.2 2045.2h2.6v2.6h-2.6zM997.2 2222.2h2.6v2.6h-2.6zM1035.2 2122.2h2.6v2.6h-2.6zM963.2 2167.2h2.6v2.6h-2.6zM939.2 2196.2h2.6v2.6h-2.6zM1002.2 2117.2h2.6v2.6h-2.6zM942.2 2188.2h2.6v2.6h-2.6z"/>
<path fill="#2a3080" d="M919.5 2200.5h3v3h-3zM919.5 2204.5h3v3h-3zM919.5 2209.5h3v3h-3zM931.5 2202.5h3v3h-3zM931.5 2206.5h3v3h-3zM931.5 2210.5h3v3h-3zM931.5 2214.5h3v3h-3zM931.5 2218.5h3v3h-3zM938.5 2198.5h3v3h-3zM938.5 2204.5h3v3h-3zM938.5 2210.5h3v3h-3zM938.5 2216.5h3v3h-3zM954.5 2230.5h3v3h-3zM978.5 2228.5h3v3h-3zM959.5 2169.5h3v3h-3zM1007.5 2106.5h3v3h-3zM1071.5 2034.5h3v3h-3zM1062.5 2041.5h3v3h-3zM1061.5 2061.5h3v3h-3zM1053.5 2082.5h3v3h-3zM1121.5 2068.5h3v3h-3zM1086.5 2116.5h3v3h-3zM1067.5 2132.5h3v3h-3zM1041.5 2140.5h3v3h-3zM1073.5 2153.5h3v3h-3zM1075.5 2162.5h3v3h-3zM1033.5 2150.5h3v3h-3zM1035.5 2156.5h3v3h-3zM1032.5 2171.5h3v3h-3zM1022.5 2169.5h3v3h-3zM1015.5 2186.5h3v3h-3zM1020.5 2187.5h3v3h-3zM1011.5 2198.5h3v3h-3zM1015.5 2197.5h3v3h-3zM1041.5 2197.5h3v3h-3zM1011.5 2204.5h3v3h-3z"/>
</g>
<rect x="913.2" y="2027.9" width="219.3" height="211.3" fill="none" stroke="#4d4d4d" stroke-width="2"/>
<rect x="913.2" y="2027.9" width="80.6" height="35" fill="#fff" stroke="#4d4d4d" stroke-width="2"/>
<text x="926.2" y="2053.6" font-size="15" fill="#222" textLength="59" lengthAdjust="spacingAndGlyphs">R = 0.91</text>
<line x1="920.9" y1="2239.2" x2="920.9" y2="2249.2" stroke="#666" stroke-width="2"/>
<text x="920.9" y="2269.5" font-size="15.5" fill="#222" text-anchor="middle">0</text>
<line x1="962.4" y1="2239.2" x2="962.4" y2="2249.2" stroke="#666" stroke-width="2"/>
<text x="961.8" y="2269.5" font-size="15.5" fill="#222" text-anchor="middle">1</text>
<line x1="1004.2" y1="2239.2" x2="1004.2" y2="2249.2" stroke="#666" stroke-width="2"/>
<text x="1005.5" y="2269.5" font-size="15.5" fill="#222" text-anchor="middle">2</text>
<line x1="1045.7" y1="2239.2" x2="1045.7" y2="2249.2" stroke="#666" stroke-width="2"/>
<text x="1045.7" y="2269.5" font-size="15.5" fill="#222" text-anchor="middle">3</text>
<line x1="1087.2" y1="2239.2" x2="1087.2" y2="2249.2" stroke="#666" stroke-width="2"/>
<text x="1088.8" y="2269.5" font-size="15.5" fill="#222" text-anchor="middle">4</text>
<line x1="1129.7" y1="2239.2" x2="1129.7" y2="2249.2" stroke="#666" stroke-width="2"/>
<text x="1130.3" y="2269.5" font-size="15.5" fill="#222" text-anchor="middle">5</text>
<line x1="903.7" y1="2051.7" x2="913.2" y2="2051.7" stroke="#666" stroke-width="2"/>
<text x="899.3" y="2057.3" font-size="15.5" fill="#222" text-anchor="end">3.5</text>
<line x1="903.7" y1="2093.5" x2="913.2" y2="2093.5" stroke="#666" stroke-width="2"/>
<text x="899.3" y="2099.1" font-size="15.5" fill="#222" text-anchor="end">3.0</text>
<line x1="903.7" y1="2134.9" x2="913.2" y2="2134.9" stroke="#666" stroke-width="2"/>
<text x="899.3" y="2140.5" font-size="15.5" fill="#222" text-anchor="end">2.5</text>
<line x1="903.7" y1="2176.4" x2="913.2" y2="2176.4" stroke="#666" stroke-width="2"/>
<text x="899.3" y="2182" font-size="15.5" fill="#222" text-anchor="end">2.0</text>
<line x1="903.7" y1="2218.2" x2="913.2" y2="2218.2" stroke="#666" stroke-width="2"/>
<text x="899.3" y="2223.8" font-size="15.5" fill="#222" text-anchor="end">1.5</text>
<text x="1020.8" y="1998" font-size="19.3" font-weight="bold" fill="#000" text-anchor="middle">E16.5</text>
<text x="917.3" y="2287" font-size="16" fill="#222" textLength="213" lengthAdjust="spacingAndGlyphs">snATAC-seq rep1 (log<tspan font-size="9.9" dy="4">10</tspan><tspan dy="-4"> reads)</tspan></text>
<text transform="translate(867.2,2249.4) rotate(-90)" x="0" y="0" font-size="16" fill="#222" textLength="230.5" lengthAdjust="spacingAndGlyphs">Bulk ATAC-seq rep1 (log<tspan font-size="9.9" dy="4">10</tspan><tspan dy="-4"> reads)</tspan></text>
<g filter="url(#soft)">
<path fill="#151f84" d="M281 2453.4l-.6-.4 .6-.4 .6 .4zM140 2604.3l-3 .4-2-1.7-2 .7-3-.9-4 .2-4 1.6-1.1-.6-.2-2-2.7-2.7-1.6-.3-.1-2-1.4-2 .5-4-.9-1 .2-2 .3-.4 2.1 1.4-.7-3 2.1-2-.3-5 4.4-5-1.2-3 2.6 0-.7-2 2.3-3-.8-3 3.1-5 2.1 1.7 1.6-3.7-.5-2 .9-.8 .4 1.8 1.6 .8 2-1.1 .8-.7 1.2-4.8 2.8 .8-.2 1 .7 0 .1-3-.9-2 4.5-.1 7-5.4 2-.6 1-1.5 3-.2 .6-2.2-1.4-2 1.8-.6 2 .7 1.8-1.1 2.2-4.1 4 .9 4-2.6 1-1.9 4-.3 .9-1 .1-2 3 .7 1.3-3.7 3.7-1.8-.1-1.2 2.1-1.7 1.1 1.7 1.5 0 .9-1 .5-2.9 2-.7 1-1.5 4.3-.9-.4-4 .8-1 2.1 1 2.2-.1 2.5-3.9 2.1 0 0-3 1.4-1.8 1-.2 .7 1-.4 1 .7 1.2 .2-2.2 1-1 7.8-2 .5-1-1.5-2 .2-1 2.8-2.1 .8 1.1-.7 2 .9 1 4.2-4 1.8-5.7 2-.6 4 .8 1.4-.5 1.3-3 2.3-.7 1-1.3 .1-1-1.1-1 2-1.2 1 .2 1 2.9 1-.7 1-5.6 1 1 1-.6 3-3.8 2 1.5 2-.2 1.6-1.5 .1-3 1.3-1.6 2-.5 2 1.2 0-4.1 1-1.2 1-.2 2 2.1 3-3.7 3 1.8 3-2.9 2.4 2.1-.5 2 1.9 2-1.8 2.6-2.5 .4-.4 1 .9 2.5-3 1.3-1 1.6-2-1-2 1.1-.6 1.5 1.3 2-.3 1-2.6 2 1.1 1-2.9 1.8-1 3.9-2-1.1-2 .7-.7 1.7 .9 2-1.2 1.6-2 1.1-2-1.3-3 2.7-2.9 .9-5.1 6-1.2 3 .5 2-1.3 2-1 .5-2-1.1-2.3 1.6 1.8 4-.5 .9-1 .5-3-2.1-1 2.3-5.5 3.4-2.1 6-3.9 1-.6 1 1.2 1 0 1-3.1-.4-2 3.4-2 .9-2.7 3.1 .2 3-1.5 1.5-.1 2.5-2.4 2-.6 2-3.9 3 1 6.4-1 .1-3-2.2-1 .6 .1 5.1-4.1 2.8-1.4 2.2 .4 .9 2-.7 .7 .8-.4 1-4 2-.3 3.9-2 1.9-3.2-.8-.4 2 2.2 1 .1 2-6.2 1-2.5 5.5-3.3 1.5-.7 3.3-2-1-1 .3-2 2.2-3.3 1.2-3.7 3.7-2-.2-3 1.5-1.3 2 .3 2.5-3-.7-1.1 2.2-1.9 .7-2-2-5 .9-1.2 .4-1.8 2.9zM283 2459.3l-1.9-2.3 1.9-2.3 1.7 1.3 .1 1zM273 2474l-1 .2-1.4-1.2 1.4-1.6 1.2 1.6zM182 2518.8l-.9-.8 .9-.3zM171 2525.3l-1 .4-.6-.7 .6-1.5 1.4 .5zM180 2584.2l-1.2-.2 1.2-2z"/>
<path fill="#172492" d="M126 2602.1l-3-.2-3-2.6-3-3.4-.6-2.9 5.6-15.6 7-13.4 2.7-3 8.3-7.9 6-3.9 2-2.3 11.3-6.9 1.8-3 2.9-.7 2-2.3 5-2.8 4-3.3 14.3-7.9 18.7-14.9 18.5-12.1 17.2-13 .3-1 3-1 6.6-5 12.8-8 1.6-2.3 2-.1 .9 2.4-.6 1-2.3 .8-.9 3.2-1.8 3 .3 1-4.6 4.3-1.8 2.7-12.4 11-6.6 8 .4 2-.6 .8-2-.5-6.3 6.7-.7 1.9-2 .8-3 3.7-4.6 3.6-10.8 13-9 14-12.5 17-3 6-1 5-1.1-.8-1 .7-11 12.1-2 .3-6 4.5-4 1.4-3 3-2-.2-14 5.6zM190 2568l-2.2 0 .2-1.9 1 .2z"/>
<path fill="#1d37ab" d="M125 2601l-2-.6-4-3.8-1.2-1.6-.3-2 5.7-14 6.3-12 2.5-3.6 6-5.8 36-26.1 18-11.1 18-14.1 30.1-21.3 9.9-6.1 5-1.2-.2 2.3-3.1 4-41.7 45.6-21 29.7-8.6 14.7-2.4 2.9-9 7.9-14 8.5-14 5.6z"/>
<path fill="#2653c7" d="M130 2599.1l-6 .5-4.8-4.6-.5-2 5.9-14 8.8-15 9.6-8.7 33-22.9 17-10.8 19-14.9 25-16.9 4-2 1.7 .2-.7 3-7 9.2-26.5 28.8-21.5 30-10 16.7-9 8-13 8.1-14 5.8z"/>
<path fill="#377bdd" d="M130 2598l-4 .5-1.5-.5-3.8-4-.3-2 4.9-12 8.8-15 9.9-8.8 49.5-33.2 19.4-15 12.1-7 3-.6 1 .6-.1 2-2.1 3-19.3 22-21.1 29-8.4 15.1-2.3 2.9-8.7 7.8-13 8.1-14 5.8z"/>
<path fill="#56a7eb" d="M129 2597l-3.5-1-2.8-3-.4-2 3.7-10.1 9-15.2 9-8.1 24-15.4 37.4-26.2 5.6-3.1 2 .4 1.1 1.7-1.1 3-28.4 39-9.7 17-8.9 8-13 8.2-13 5.4z"/>
<path fill="#7ecddb" d="M138 2595l-9 .4-3.2-2.4-1.7-3 2.9-9 8.2-14 9.8-8.7 24-15.2 11-8 14-8.2 4-1.5 1.4 .6 1.9 3-1.5 4-16.8 24-8.8 16-8.7 8-11.5 7.5z"/>
<path fill="#a1dc91" d="M138 2594.1l-7.4-.1-4.6-5 1.6-7 8.1-14 9.3-8.4 34-21.8 5-2.2 3 .6 3.5 3.8-.2 3-8.3 13-8.4 16-8.6 8-11 7.3-7 3.5z"/>
<path fill="#bbdb3b" d="M138 2593.1l-4 0-2-.8-4.3-5.3 1-5 7.4-13 8.6-8 10.3-6.8 19-10.4 2-.8 2 .5 4.3 4.5 .5 2-9.8 21-8.3 8-11.7 7.8-6.3 3.2z"/>
<path fill="#d7e030" d="M141 2591.2l-3 .7-3-.6-4.5-4.3-1.1-2 .9-4 6.2-11 8.5-8 10-6.6 12-6.5 3-.5 1.4 .6 5.6 5.9 .7 2.1-.9 4-4.3 9-7.5 7.4-5 3.8-10 6.2z"/>
<path fill="#ebe02a" d="M141 2590.1l-4-.4-5.7-6.7 1.8-6 3.7-6 8.2-7.9 10-6.6 9-4.5 4-.1 5.9 6.1 1 2-.8 4-2.2 5-7.8 8-5.1 3.8-11 6.7z"/>
<path fill="#f7d228" d="M145 2588l-5 .7-6-5.7-.9-3 1.9-4.8 4-5.5 8-7 13-7.7 3-.9 2 .6 7 7.4 .3 2.9-1 3-9.3 9.5-11 7.4z"/>
<path fill="#f4a22a" d="M144 2587.2l-3-.2-5.8-6-.6-2 1.4-3.5 3.9-5.5 8.1-6.9 10.5-6.1 2.5-.6 1.8 .6 7.2 7.8 .2 2.2-1 2-5.7 6-5.1 4-7.7 5z"/>
<path fill="#ed6a29" d="M146 2585l-3.5 0-4.9-5-.9-2 1.1-3 2.6-4 6.6-6 9-5.2 2-.7 2 .3 7 7.3 0 2.3-4.1 5-4.7 4z"/>
<path fill="#e73e29" d="M149 2581.1l-2-1-4-4.2-1.3-2.9 1.8-3 4.4-4 4.1-2 2-.1 7 6.8 .1 2.3-5.1 5z"/>
<path fill="#1d2a8c" d="M253.2 2466.2h2.6v2.6h-2.6zM123.2 2604.2h2.6v2.6h-2.6zM174.2 2517.2h2.6v2.6h-2.6zM190.2 2571.2h2.6v2.6h-2.6zM125.2 2603.2h2.6v2.6h-2.6zM264.2 2456.2h2.6v2.6h-2.6zM112.2 2582.2h2.6v2.6h-2.6zM252.2 2490.2h2.6v2.6h-2.6zM240.2 2474.2h2.6v2.6h-2.6zM167.2 2591.2h2.6v2.6h-2.6zM209.2 2543.2h2.6v2.6h-2.6zM236.2 2511.2h2.6v2.6h-2.6zM184.2 2512.2h2.6v2.6h-2.6zM160.2 2599.2h2.6v2.6h-2.6zM247.2 2493.2h2.6v2.6h-2.6zM112.2 2593.2h2.6v2.6h-2.6zM225.2 2520.2h2.6v2.6h-2.6zM182.2 2517.2h2.6v2.6h-2.6zM138.2 2606.2h2.6v2.6h-2.6zM205.2 2546.2h2.6v2.6h-2.6zM274.2 2456.2h2.6v2.6h-2.6zM201.2 2502.2h2.6v2.6h-2.6zM247.2 2496.2h2.6v2.6h-2.6zM257.2 2490.2h2.6v2.6h-2.6zM222.2 2521.2h2.6v2.6h-2.6zM135.2 2552.2h2.6v2.6h-2.6zM215.2 2535.2h2.6v2.6h-2.6zM123.2 2563.2h2.6v2.6h-2.6zM143.2 2603.2h2.6v2.6h-2.6zM226.2 2483.2h2.6v2.6h-2.6zM228.2 2518.2h2.6v2.6h-2.6zM178.2 2589.2h2.6v2.6h-2.6zM228.2 2517.2h2.6v2.6h-2.6zM120.2 2567.2h2.6v2.6h-2.6zM129.2 2558.2h2.6v2.6h-2.6zM185.2 2578.2h2.6v2.6h-2.6zM210.2 2541.2h2.6v2.6h-2.6zM277.2 2453.2h2.6v2.6h-2.6zM198.2 2562.2h2.6v2.6h-2.6zM119.2 2603.2h2.6v2.6h-2.6zM201.2 2500.2h2.6v2.6h-2.6zM203.2 2554.2h2.6v2.6h-2.6zM157.2 2532.2h2.6v2.6h-2.6zM283.2 2453.2h2.6v2.6h-2.6zM200.2 2502.2h2.6v2.6h-2.6zM269.2 2454.2h2.6v2.6h-2.6zM206.2 2499.2h2.6v2.6h-2.6zM226.2 2516.2h2.6v2.6h-2.6zM185.2 2579.2h2.6v2.6h-2.6zM183.2 2585.2h2.6v2.6h-2.6zM254.2 2460.2h2.6v2.6h-2.6zM239.2 2506.2h2.6v2.6h-2.6zM172.2 2590.2h2.6v2.6h-2.6zM238.2 2478.2h2.6v2.6h-2.6zM263.2 2454.2h2.6v2.6h-2.6zM256.2 2465.2h2.6v2.6h-2.6zM171.2 2521.2h2.6v2.6h-2.6zM164.2 2527.2h2.6v2.6h-2.6zM270.2 2451.2h2.6v2.6h-2.6zM273.2 2472.2h2.6v2.6h-2.6zM159.2 2598.2h2.6v2.6h-2.6zM246.2 2497.2h2.6v2.6h-2.6zM273.2 2451.2h2.6v2.6h-2.6zM216.2 2494.2h2.6v2.6h-2.6zM276.2 2464.2h2.6v2.6h-2.6zM220.2 2493.2h2.6v2.6h-2.6zM155.2 2600.2h2.6v2.6h-2.6zM136.2 2547.2h2.6v2.6h-2.6zM284.2 2453.2h2.6v2.6h-2.6zM161.2 2599.2h2.6v2.6h-2.6zM144.2 2602.2h2.6v2.6h-2.6zM269.2 2472.2h2.6v2.6h-2.6zM281.2 2462.2h2.6v2.6h-2.6zM244.2 2502.2h2.6v2.6h-2.6zM160.2 2594.2h2.6v2.6h-2.6zM189.2 2574.2h2.6v2.6h-2.6zM122.2 2560.2h2.6v2.6h-2.6zM113.2 2584.2h2.6v2.6h-2.6zM211.2 2532.2h2.6v2.6h-2.6zM154.2 2534.2h2.6v2.6h-2.6zM135.2 2550.2h2.6v2.6h-2.6zM267.2 2453.2h2.6v2.6h-2.6zM158.2 2599.2h2.6v2.6h-2.6zM121.2 2572.2h2.6v2.6h-2.6zM187.2 2577.2h2.6v2.6h-2.6zM252.2 2494.2h2.6v2.6h-2.6zM169.2 2521.2h2.6v2.6h-2.6zM195.2 2564.2h2.6v2.6h-2.6zM214.2 2533.2h2.6v2.6h-2.6zM180.2 2581.2h2.6v2.6h-2.6zM197.2 2559.2h2.6v2.6h-2.6zM161.2 2529.2h2.6v2.6h-2.6zM279.2 2469.2h2.6v2.6h-2.6zM178.2 2516.2h2.6v2.6h-2.6zM279.2 2450.2h2.6v2.6h-2.6zM117.2 2573.2h2.6v2.6h-2.6zM205.2 2547.2h2.6v2.6h-2.6zM183.2 2515.2h2.6v2.6h-2.6zM113.2 2582.2h2.6v2.6h-2.6zM275.2 2451.2h2.6v2.6h-2.6zM278.2 2464.2h2.6v2.6h-2.6zM162.2 2595.2h2.6v2.6h-2.6zM143.2 2605.2h2.6v2.6h-2.6zM167.2 2592.2h2.6v2.6h-2.6zM179.2 2588.2h2.6v2.6h-2.6zM218.2 2526.2h2.6v2.6h-2.6zM198.2 2561.2h2.6v2.6h-2.6zM136.2 2548.2h2.6v2.6h-2.6zM110.2 2591.2h2.6v2.6h-2.6zM135.2 2548.2h2.6v2.6h-2.6z"/>
<path fill="#2a3080" d="M313.5 2410.5h3v3h-3zM315.5 2408.5h3v3h-3zM269.5 2447.5h3v3h-3zM284.5 2447.5h3v3h-3zM191.5 2505.5h3v3h-3zM204.5 2499.5h3v3h-3zM173.5 2593.5h3v3h-3zM184.5 2586.5h3v3h-3zM114.5 2595.5h3v3h-3z"/>
</g>
<rect x="106.4" y="2402.2" width="220.2" height="210.7" fill="none" stroke="#4d4d4d" stroke-width="2"/>
<rect x="106.4" y="2402.2" width="81.4" height="35" fill="#fff" stroke="#4d4d4d" stroke-width="2"/>
<text x="119.4" y="2429.8" font-size="15" fill="#222" textLength="59" lengthAdjust="spacingAndGlyphs">R = 0.96</text>
<line x1="122.7" y1="2612.9" x2="122.7" y2="2622.9" stroke="#666" stroke-width="2"/>
<text x="119.7" y="2647.5" font-size="15.5" fill="#222" text-anchor="middle">1.5</text>
<line x1="164.2" y1="2612.9" x2="164.2" y2="2622.9" stroke="#666" stroke-width="2"/>
<text x="163.4" y="2647.5" font-size="15.5" fill="#222" text-anchor="middle">2.0</text>
<line x1="204.6" y1="2612.9" x2="204.6" y2="2622.9" stroke="#666" stroke-width="2"/>
<text x="210.6" y="2647.5" font-size="15.5" fill="#222" text-anchor="middle">2.5</text>
<line x1="246.1" y1="2612.9" x2="246.1" y2="2622.9" stroke="#666" stroke-width="2"/>
<text x="251.6" y="2647.5" font-size="15.5" fill="#222" text-anchor="middle">3.0</text>
<line x1="287.1" y1="2612.9" x2="287.1" y2="2622.9" stroke="#666" stroke-width="2"/>
<text x="299.3" y="2647.5" font-size="15.5" fill="#222" text-anchor="middle">3.5</text>
<line x1="96.9" y1="2430" x2="106.4" y2="2430" stroke="#666" stroke-width="2"/>
<text x="91.6" y="2436.1" font-size="15.5" fill="#222" text-anchor="end">3.5</text>
<line x1="96.9" y1="2470.1" x2="106.4" y2="2470.1" stroke="#666" stroke-width="2"/>
<text x="91.6" y="2475.6" font-size="15.5" fill="#222" text-anchor="end">3.0</text>
<line x1="96.9" y1="2511" x2="106.4" y2="2511" stroke="#666" stroke-width="2"/>
<text x="91.6" y="2523.6" font-size="15.5" fill="#222" text-anchor="end">2.5</text>
<line x1="96.9" y1="2552" x2="106.4" y2="2552" stroke="#666" stroke-width="2"/>
<text x="91.6" y="2564.6" font-size="15.5" fill="#222" text-anchor="end">2.0</text>
<line x1="96.9" y1="2592.1" x2="106.4" y2="2592.1" stroke="#666" stroke-width="2"/>
<text x="91.6" y="2610.6" font-size="15.5" fill="#222" text-anchor="end">1.5</text>
<text x="201.3" y="2376.2" font-size="19.3" font-weight="bold" fill="#000" text-anchor="middle">P56</text>
<text x="98.6" y="2665.3" font-size="16" fill="#222" textLength="229.1" lengthAdjust="spacingAndGlyphs">Bulk ATAC-seq rep1 (log<tspan font-size="9.9" dy="4">10</tspan><tspan dy="-4"> reads)</tspan></text>
<text transform="translate(55.2,2622.3) rotate(-90)" x="0" y="0" font-size="16" fill="#222" textLength="230" lengthAdjust="spacingAndGlyphs">Bulk ATAC-seq rep2 (log<tspan font-size="9.9" dy="4">10</tspan><tspan dy="-4"> reads)</tspan></text>
<g filter="url(#soft)">
<path fill="#151f84" d="M665 2452.3l-1.9-.3 .9-1.9 1 0 .5 .9zM560 2582.3l-3-1.3-1-2.5-4 1.3-.9-.8 .6-2-.7-1.2-1.6 3.2-3.4 1.1-6-3.8-3 2-.9-.3-.3-2-1.8-.6-3.5-3.4-.2-2 1.9-2-2-3 .1-8-2.6-4 1.3-2.2 3.1 .2 .6-3 2.2-2-1.9-2.1-4 3.3-1-.8-.1-1.4 1.8-2 .3-2.8 3-.7 2 .3 2-2.9 2 .7 2-1.8 2 2.4 3-1.5 1.4-1.7-.9-3 1.5-2.2 2-.4 1 1.6 0-2.2 3 .4 4-2 4-5 2 0 2.6-2.2 2.4-.4 7-4.8 2.8-2.8-.3-1 1.5-1.4 6-2.8 3.8 .2-.5-2 2.7-3.1 1-.1-.5 1.2 1.5 1 1.3-1 .7-2.1 1 .7 1.3-.6 .4-2 1.3-1.5 5.3-.5 2.6-3-1.9-1.2 2-.9 .4 1.1 1.6 .5 10.8-6.5 2.2-3.8 3.2-1.2 .8-2.5 3.4-.5 1.5-1 1.1-2.6 5-.9 3-2.3 .8-2.2 2.2-1.5 1-3 2 .2 4-2.2-.1-2.5 1.1 .6 1.3-.6 3.7-5.8 3 .5 2-1.9 3-.4 3 2.2 1 1.4-1 1.9-5 2.3-2 3.6-2 1.2 0 2.2-2 .4-1.1 1.4 1.1 1.5-.4 1.5-1.6 1.4-2 .2-.3 2.4-1.7 1.9-1 .4-1-1.8-2 1.3 0 2.4-3 1.3-1.5 6.5-3.5 2.3-2-1-1 .6-1.7 4.1-2.5 2 0 2-1.8 1.2-1 1.9-3 1.4-.4 2.5-3.6 2.6-.4 2.4-2.9 3 .1 2-2.8 1.9-2.7 6.1-2.2 1-2.6 3 .2 3-.7 .3-1-1.3-1 .5-3 4 0 1.2 1.6 1.3-2.6 1.3-2 2.9-4 2.9-.5 .9 1.1 2-.6 1.7-2-.6-1.7 .9-1.3 2 0 4.4-2-.6-3.3 4.2 .3 2.3 1.8 .7-.8 1.7-2 .3-2 2.2-2-.5-4 2.1-2-.6-.6 .8 2.6 .2 1 .9 2-1.3 1.4 1.2-3 2 .6 5-3 .3-1.6 2.7-1.4 .8-1-.7 .6-1.1-1.6-1-3 .8-3-.8-1 .6-3-2.7-1-.1-1.9 1.2 2.7 4 .1 2zM534.4 2560l-1.6 0 1.2 .7zM528 2563.1l0-1.4 1.8 .3zM575.4 2575l-1.4-3.2-.8 3.2 .8 .6zM541.8 2575l.5-1-1.4 0 .1 1.5zM557 2577l.7-1-1.2 0z"/>
<path fill="#172492" d="M664 2458.3l-2.4-.3 .3-2 1.1-1.1 1.4 1.1zM560 2570.2l-4-1.5-3 1.2-2.4-.9-1.6-2.1-3 1-4-2.6-.4-2.3 .4-.9 1.3-.1-.3-.6-2 1.5-3.7-3.9 2.3-3 .1-4 1-2 .1-1-2.1-1 .3-1.5 3 .8 2-2.6 5-2.4 1.5-2.3 .8-5 7.7-5.5 3-3.7 2-.6 7-5.4 25.4-15.8 4-3 .3-2 4.3-.5 17.7-11.5 2.1-3 3.2-1.1 14.4-10.9 .6-1.3 2.8-1.7 .5-2 4.7-1.6 7.7-5.4 1.7 0-.4 3.1-16.9 18.9-2.1 4.3-2 .8-3 3-15 17.8-4.5 7.1-13.8 18-2.7 6.2-2.7 1.8-10.3 13.2-5.4 4.8-2.6 4.2-4-.3-2.1 1.1-1.9 2.7-3 2.1zM546 2541.1l-.7-1.1 1.7 0zM537 2544.4l0-1.7 .6 1.3zM583 2562.2l-.7-1.2 1.7-.5 0 1.4zM534 2567.2l-1-1.2 1-.9 1.2 .9-.3 1zM537 2574.1l-.2-1.1 .9 0zM548 2574.1l-1-1.1 1-.9zM554 2573.6l0-1 .6 .4zM544 2577.1l-1.1-1.1 1.1-1.1 1.2 1.1z"/>
<path fill="#1d37ab" d="M567 2561.2l-2 .4-1.2-.6-11.4-11 2-11 3.9-6 11.7-10.8 52.9-34.2 23.1-17.2 6-3.1 .1 1.3-2 3-27.1 31.8-32 43-12 10.9-4 1.8z"/>
<path fill="#2653c7" d="M573 2557.1l-3-.3-2-1.1-9.2-8.7-1.8-2.7-.2-3.3 .9-3 5.6-8 4.9-5 4.8-3.6 50-32.5 19-13.5 3.3-1.4-3.2 6-20.1 23.7-30 40.3-11 9.7-4 2.3z"/>
<path fill="#377bdd" d="M576 2554.1l-3 .7-2.7-.8-9.3-8.6-1.6-2.4 0-3 1.1-3 6.2-9 7.3-6.2 59-38.9 5-3 1.5 .1-3.6 6-15.9 19.1-28 37.5-8 7.1z"/>
<path fill="#56a7eb" d="M576 2552.2l-4-.2-10.2-10-.3-2 1-3 5.6-9 2.9-3 7-4.9 39.9-26.1 15.1-8.8 .6 .8-1.5 3-13.1 16.1-27.6 36.9-7.4 6.2z"/>
<path fill="#7ecddb" d="M577 2550.1l-2 .2-2-.8-8-7.5-1.2-2 1.8-6 4.6-7 7.8-6 40-26 6-3.2 3.5-.8-1.6 4-34.9 46.3-6 5z"/>
<path fill="#a1dc91" d="M578 2548.2l-3-.5-8.9-8.7 .4-4 4-7 4.5-4.1 32-21 10-5.7 4-.9-.1 2.7-5.9 9-24 32.1-5 4.5z"/>
<path fill="#bbdb3b" d="M581 2546.1l-4.3-.1-8.4-8-.1-4 3.3-6 7.5-6 28-18 5-2.2 2.8 .2 .3 3-2 4-20.5 28-5.6 5.9z"/>
<path fill="#d7e030" d="M580 2545l-3-1.4-7.5-7.6 .2-3 2.8-5 6.5-5.2 21.6-13.8 6.4-3.1 3 .9 .9 2.2-1.8 4-17.1 23.6-6 6.1z"/>
<path fill="#ebe02a" d="M583 2543.2l-3.7-.2-7.6-7-.8-3 1.8-4 4.3-4 15-9.8 8-4.4 4-.4 2 1.8 .3 1.8-2.4 5-14.7 20z"/>
<path fill="#f7d228" d="M583 2542.2l-3-.8-7-6.6-.8-1.8 .8-3 3.8-4 12.2-8 6-3.1 4-.1 2.8 3.2-1.7 5-11.1 15.2-3 2.7z"/>
<path fill="#f4a22a" d="M583 2541l-2.3-1-6.3-6-.9-2 .5-2 2.7-3 7.5-5 5.8-3.2 4-.8 4 4-.7 3-9.3 13.2-2.1 1.8z"/>
<path fill="#ed6a29" d="M585 2539.4l-3-.4-6.3-6-.8-2 1.9-3 4.2-2.9 5-2.6 3-.5 4 3.4 .6 2.6-4.6 7.7z"/>
<path fill="#e73e29" d="M586 2537.3l-2 .4-1-.5-4.5-4.2-1.6-2 .7-2 5.4-2.7 1.8 .7 3.2 3 1 1.5-.1 1.5z"/>
<path fill="#1d2a8c" d="M649.2 2481.2h2.6v2.6h-2.6zM599.2 2495.2h2.6v2.6h-2.6zM560.2 2578.2h2.6v2.6h-2.6zM548.2 2582.2h2.6v2.6h-2.6zM524.2 2546.2h2.6v2.6h-2.6zM600.2 2492.2h2.6v2.6h-2.6zM591.2 2553.2h2.6v2.6h-2.6zM562.2 2519.2h2.6v2.6h-2.6zM573.2 2513.2h2.6v2.6h-2.6zM645.2 2485.2h2.6v2.6h-2.6zM562.2 2577.2h2.6v2.6h-2.6zM659.2 2467.2h2.6v2.6h-2.6zM550.2 2580.2h2.6v2.6h-2.6zM526.2 2546.2h2.6v2.6h-2.6zM589.2 2556.2h2.6v2.6h-2.6zM529.2 2573.2h2.6v2.6h-2.6zM560.2 2575.2h2.6v2.6h-2.6zM670.2 2456.2h2.6v2.6h-2.6zM639.2 2490.2h2.6v2.6h-2.6zM625.2 2504.2h2.6v2.6h-2.6zM578.2 2571.2h2.6v2.6h-2.6zM639.2 2466.2h2.6v2.6h-2.6zM542.2 2532.2h2.6v2.6h-2.6zM597.2 2498.2h2.6v2.6h-2.6zM542.2 2533.2h2.6v2.6h-2.6zM563.2 2520.2h2.6v2.6h-2.6zM579.2 2575.2h2.6v2.6h-2.6zM584.2 2503.2h2.6v2.6h-2.6zM659.2 2470.2h2.6v2.6h-2.6zM530.2 2535.2h2.6v2.6h-2.6zM593.2 2552.2h2.6v2.6h-2.6zM529.2 2534.2h2.6v2.6h-2.6zM642.2 2487.2h2.6v2.6h-2.6zM526.2 2561.2h2.6v2.6h-2.6zM623.2 2512.2h2.6v2.6h-2.6zM550.2 2579.2h2.6v2.6h-2.6zM543.2 2532.2h2.6v2.6h-2.6zM524.2 2554.2h2.6v2.6h-2.6zM659.2 2466.2h2.6v2.6h-2.6zM624.2 2511.2h2.6v2.6h-2.6zM637.2 2498.2h2.6v2.6h-2.6zM655.2 2454.2h2.6v2.6h-2.6zM651.2 2458.2h2.6v2.6h-2.6zM535.2 2534.2h2.6v2.6h-2.6zM525.2 2554.2h2.6v2.6h-2.6zM640.2 2465.2h2.6v2.6h-2.6zM528.2 2565.2h2.6v2.6h-2.6zM567.2 2578.2h2.6v2.6h-2.6zM569.2 2517.2h2.6v2.6h-2.6zM599.2 2544.2h2.6v2.6h-2.6zM596.2 2499.2h2.6v2.6h-2.6zM593.2 2551.2h2.6v2.6h-2.6zM619.2 2482.2h2.6v2.6h-2.6zM662.2 2468.2h2.6v2.6h-2.6zM535.2 2578.2h2.6v2.6h-2.6zM641.2 2464.2h2.6v2.6h-2.6zM611.2 2526.2h2.6v2.6h-2.6zM621.2 2513.2h2.6v2.6h-2.6zM566.2 2515.2h2.6v2.6h-2.6zM531.2 2578.2h2.6v2.6h-2.6zM526.2 2543.2h2.6v2.6h-2.6zM542.2 2530.2h2.6v2.6h-2.6zM598.2 2545.2h2.6v2.6h-2.6zM604.2 2495.2h2.6v2.6h-2.6zM652.2 2456.2h2.6v2.6h-2.6zM525.2 2575.2h2.6v2.6h-2.6zM647.2 2463.2h2.6v2.6h-2.6zM528.2 2542.2h2.6v2.6h-2.6zM591.2 2498.2h2.6v2.6h-2.6zM631.2 2499.2h2.6v2.6h-2.6zM535.2 2579.2h2.6v2.6h-2.6zM590.2 2501.2h2.6v2.6h-2.6zM532.2 2546.2h2.6v2.6h-2.6zM575.2 2581.2h2.6v2.6h-2.6zM635.2 2495.2h2.6v2.6h-2.6zM629.2 2476.2h2.6v2.6h-2.6zM599.2 2547.2h2.6v2.6h-2.6zM552.2 2579.2h2.6v2.6h-2.6zM594.2 2555.2h2.6v2.6h-2.6zM598.2 2542.2h2.6v2.6h-2.6zM529.2 2572.2h2.6v2.6h-2.6zM647.2 2481.2h2.6v2.6h-2.6zM544.2 2581.2h2.6v2.6h-2.6zM527.2 2573.2h2.6v2.6h-2.6zM607.2 2489.2h2.6v2.6h-2.6zM628.2 2503.2h2.6v2.6h-2.6zM568.2 2583.2h2.6v2.6h-2.6zM619.2 2513.2h2.6v2.6h-2.6zM538.2 2532.2h2.6v2.6h-2.6zM609.2 2533.2h2.6v2.6h-2.6zM534.2 2579.2h2.6v2.6h-2.6zM525.2 2564.2h2.6v2.6h-2.6zM608.2 2533.2h2.6v2.6h-2.6zM642.2 2464.2h2.6v2.6h-2.6zM560.2 2519.2h2.6v2.6h-2.6zM600.2 2496.2h2.6v2.6h-2.6zM581.2 2507.2h2.6v2.6h-2.6zM590.2 2558.2h2.6v2.6h-2.6zM634.2 2498.2h2.6v2.6h-2.6zM592.2 2550.2h2.6v2.6h-2.6zM570.2 2516.2h2.6v2.6h-2.6zM604.2 2540.2h2.6v2.6h-2.6zM609.2 2489.2h2.6v2.6h-2.6zM574.2 2511.2h2.6v2.6h-2.6zM602.2 2534.2h2.6v2.6h-2.6zM649.2 2459.2h2.6v2.6h-2.6zM590.2 2500.2h2.6v2.6h-2.6zM603.2 2495.2h2.6v2.6h-2.6zM627.2 2475.2h2.6v2.6h-2.6zM590.2 2561.2h2.6v2.6h-2.6z"/>
<path fill="#2a3080" d="M515.5 2555.5h3v3h-3zM515.5 2560.5h3v3h-3zM523.5 2551.5h3v3h-3zM523.5 2561.5h3v3h-3zM515.5 2573.5h3v3h-3zM533.5 2535.5h3v3h-3zM537.5 2583.5h3v3h-3zM542.5 2583.5h3v3h-3zM552.5 2583.5h3v3h-3zM555.5 2583.5h3v3h-3zM560.5 2583.5h3v3h-3zM566.5 2583.5h3v3h-3zM534.5 2590.5h3v3h-3zM543.5 2590.5h3v3h-3zM553.5 2590.5h3v3h-3zM565.5 2590.5h3v3h-3zM567.5 2590.5h3v3h-3zM547.5 2603.5h3v3h-3zM639.5 2490.5h3v3h-3zM621.5 2511.5h3v3h-3zM587.5 2558.5h3v3h-3zM672.5 2453.5h3v3h-3zM684.5 2448.5h3v3h-3zM689.5 2435.5h3v3h-3zM690.5 2435.5h3v3h-3zM719.5 2409.5h3v3h-3zM667.5 2452.5h3v3h-3z"/>
</g>
<rect x="509.3" y="2402.2" width="219.5" height="210.7" fill="none" stroke="#4d4d4d" stroke-width="2"/>
<rect x="509.3" y="2402.2" width="81" height="35" fill="#fff" stroke="#4d4d4d" stroke-width="2"/>
<text x="522.3" y="2429.8" font-size="15" fill="#222" textLength="59" lengthAdjust="spacingAndGlyphs">R = 0.91</text>
<line x1="549.2" y1="2612.9" x2="549.2" y2="2622.9" stroke="#666" stroke-width="2"/>
<text x="549.2" y="2647.5" font-size="15.5" fill="#222" text-anchor="middle">1</text>
<line x1="594.2" y1="2612.9" x2="594.2" y2="2622.9" stroke="#666" stroke-width="2"/>
<text x="594.2" y="2647.5" font-size="15.5" fill="#222" text-anchor="middle">2</text>
<line x1="640.1" y1="2612.9" x2="640.1" y2="2622.9" stroke="#666" stroke-width="2"/>
<text x="642" y="2647.5" font-size="15.5" fill="#222" text-anchor="middle">3</text>
<line x1="684.9" y1="2612.9" x2="684.9" y2="2622.9" stroke="#666" stroke-width="2"/>
<text x="685.7" y="2647.5" font-size="15.5" fill="#222" text-anchor="middle">4</text>
<line x1="499.8" y1="2437.3" x2="509.3" y2="2437.3" stroke="#666" stroke-width="2"/>
<line x1="499.8" y1="2479.6" x2="509.3" y2="2479.6" stroke="#666" stroke-width="2"/>
<line x1="499.8" y1="2521.4" x2="509.3" y2="2521.4" stroke="#666" stroke-width="2"/>
<line x1="499.8" y1="2563.5" x2="509.3" y2="2563.5" stroke="#666" stroke-width="2"/>
<line x1="499.8" y1="2605.2" x2="509.3" y2="2605.2" stroke="#666" stroke-width="2"/>
<text x="494.6" y="2460.7" font-size="15.5" fill="#222" text-anchor="end">4</text>
<text x="494.6" y="2508.4" font-size="15.5" fill="#222" text-anchor="end">3</text>
<text x="494.6" y="2564.4" font-size="15.5" fill="#222" text-anchor="end">2</text>
<text x="494.6" y="2614.4" font-size="15.5" fill="#222" text-anchor="end">1</text>
<text x="617.5" y="2376.2" font-size="19.3" font-weight="bold" fill="#000" text-anchor="middle">P56</text>
<text x="513.7" y="2665.3" font-size="16" fill="#222" textLength="212.9" lengthAdjust="spacingAndGlyphs">snATAC-seq rep1 (log<tspan font-size="9.9" dy="4">10</tspan><tspan dy="-4"> reads)</tspan></text>
<text transform="translate(472.1,2614.7) rotate(-90)" x="0" y="0" font-size="16" fill="#222" textLength="211.5" lengthAdjust="spacingAndGlyphs">snATAC-seq rep2 (log<tspan font-size="9.9" dy="4">10</tspan><tspan dy="-4"> reads)</tspan></text>
<g filter="url(#soft)">
<path fill="#151f84" d="M971 2602.1l-1 .5-1-.6-.1-2-2.9-1.4-3 .8-.8 .6-.2 2.4-1-.1 .5-2.3-.5-.8-2 .2-6-2.9-2 .3-1.3 1.2-2.6 0-5.1-2.8-1.7 .8-1.3 2.2-1.6-.2-6.3-8 .9-2.2 2.1 .2-1.3-5 2.5-4-1.5-4 2.2-.9 2-4.6 2-.1 1-1.9 5.2-2.5 .5-1-2.8-2 1.1-1.9 2.5-1.1-.4-2 2.9-3.7 2.5-1.3 .5-1.2 3 .8 2-2.4 2-.6 0-1.5-2 1.6-2.3-.7 3.3-3.3 4.1-.7 .6-1-1-2 .3-1.6 2-2.6 1-.5 .9 .7-1.9 2 1 1.6 1.9-.6-.6-3 3.7-1.6 0-3.4 5.5-6 .5-4.7 3-2.6 1-.1 1 1.1 1-.4 1-2.8 3-.4 1.7-1.1 .7-4-.5-3 2.1 .3 .6-3.3 1.6-1 .8-2.6 3-1.7 3-5.7 4.1-1 1-3-.7-2 .6-1.4 1-.2 3 2.3 1-.4 1.4-2.3-.1-3 4.7-3.8 .6-5.2-1-1 .7-1 2.7-.2-.4 2.2 1.4 1.2 1-.7 .7-1.5-1.1-2 .4-.6 1-.4 1 2.1 1.9-1.1 2.5-3 .9-3 2.7-2-.8-2 1.9-1 .8-2 2.2 1-3 4 1.9 .9 1.4-2.9 4-3-.2-1-3-1-.2-1.1 3.8-.9 1.2-1.1 2 2 2.9-6.9 2.1 0 2-3.6 .6 1.6 2.4 1 1.2-3-.9-2 2.7-.3 2-1.4 .7 1.7-1.7 .1 0 1.5 5-1.1 2 1.6 .2-2.1-1.2-2.2 3-1 4.1 1.2 .7 1-.7 2-2.1 .7-.6 2.3 1.1 6-4.5 4.6 .8 2.4-.8 .9-2.1 .1-.1 1 2.2 1.2 1-1.4 0 3-3 .8-2.3 2.4 .3 5-3.3 2-.6 1 .9 2.2-1 .7-2-.2-2 2.9-2.5 1.4-1.3 2-.2 1.1 1 .4 3-2.3 0 3.8-1 2.8-4.9 2.2 0 3-2.5 1-2.2 5-3.4 .5-.5 .5 1.1 2-3.4 1 0 2 2.1 2-2.3 5.8-2 1.2 1 2.2-1 1.1-2-.9-1 2-2.5 .6 .5 1.8 1.9 .2-1.9 1.6-.2 1.4 1.8 2-.1 4-2.1 3-1.4 0-.5-1 3.2-3-1.7-1.3-3 1.1-1.5 4.2 .1 1 4 4 .1 1-1.7 2.7-2-1.2 0 1.5-2 1.7-1 .1-1-1.5-1.4 .7-.3 1 1.6 1-.5 8-2.4 4.4-1.7 .6-.1 2-3 2-2.7 9-2.8 2 .3 1.8 .7 .2-1.1 2 1.2 0-.5-1 .7-.9 .9 .9-.5 3-3.4 .4-2-1.3-1.1 1.9 .1 1.3 3 .7 .5 2-1.5 .9-3-.5-3.5 1.6 1.9 2-1.4 1.4-3-.8-1.2 .4-.8 2.4-3.2-.4-1 2 1.3 2-3 3-.1-2.4-1-.3-1 1.4-3-2.2-2-.2-6 2.7zM1024 2466.7l-.6-.7 .6-1.3 .8 .3zM1003 2491.6l-1.8-.6 .8-.8 1.7 .8zM1046 2498.6l-.8-.6 .8-.5zM1042 2505.4l-2.2-.4 1.2-.9zM996.3 2507l1-1-.3-.8-1.6 .8zM968 2535.9l0-2.6 1.1 .7zM1021 2551.7l0-1.1 .8 .4zM967 2602.5l-1.3-.5 .3-1.3 1.5 1.3z"/>
<path fill="#172492" d="M968 2596.2l-11-.1-20-2.8-3.3-3.3 2.2-2-.1-2 1.1-2 1.5-8 4.8-7 4.8-3 .7-2 2.3-1.2 5.6-6.8 1.2-4 1.2 .4 1-.6 2-3.8 12.8-13 .5-1-1.5-1 .5-1 .7-.6 3 0-.6-2.4 .6-.7 2 .9 1-.7 1-2.5 3-2 9.5-11 6.1-9 2.1-4 0-2 4.3-3 2.2-4 3-2 .8-2.5 3-1.8 4.1-4.7 .2-2 2.7-.4 5.6-6.6 8.5-6 2.2-3 5.6-3 4-4 2.1-.4 3-2.3 1-2.8 3-.5 0-2 2.3-2 1.1 5-1.7 2-2.5 10-1.4 2-.2 3-2.5 3 .3 3-1.4 1.4-1-.4-1.7 3-2.2 2-.6 2 .5 2.1-2 1.2-2 2.6-4.3 8.1-.7 3.6-2 1.2-2.9 5.2-3.1 7 .4 3-.4 1-2.1 1-2.1 4-.1 3-2.7 4.1-4.1 11.9-5.7 11-.3 4-2.7 3-.6 2 .8 2-1.4 .2-1 1.8-.7 2 .5 1-1.5 2-.3 2.3-2.3 1.7-.7 2.5-3.3 4.5-2.1 5-2.6 1.1-3 3.3-9 5.1zM1064 2453.1l-1 .1-.1-1.2 .7 0zM1032 2467.4l-2-1.1 .6-1.3 1.4 0 .8 1zM1024 2474.6l-.4-.6 .7 0zM1023 2475.2l0-.7 .7 .5zM1019 2477.5l-1 .4 0-1zM998 2503.3l-1 .6-1.6-.9 .6-1.1zM973 2534.3l0-.7 .5 .4zM985 2595.7l-1 .3-.8-1 1.8-.7 .7 .7z"/>
<path fill="#1d37ab" d="M966 2594l-4 .2-23-2.7-.7-3.5 2.3-11 10.4-10.8 21.1-25.2 23.3-25 11.6-16.8 13.5-15.2 17.5-15.9 7-4.9 4-1 1.6 1.8-1.4 5-15.2 28.1-8 16.5-22.4 55.4-6.1 11-2.5 3.1-11 8.3z"/>
<path fill="#2653c7" d="M966 2592.1l-20-1.6-4-1.4-1-1.4-.1-2.7 2.1-8 9.8-10 20.9-25 23.8-25 11.3-16 13.2-14.9 11-10 4-2.3 2.4 .2 1.3 2-.7 3.2-16 32.9-10.3 26.9-6.7 14.9-5 14.1-5.5 10-3.1 4-10.4 7.7z"/>
<path fill="#377bdd" d="M969 2590l-7 .5-14.2-2.5-3.8-3.2 0-5.8 10-10.8 21-25.2 12-11.5 12-13.2 11-15.3 7-7.9 8-7.6 2-.8 1.5 .3 1.9 2-.4 4-10.4 24-7.2 20-6.4 14.5-5.3 15.5-4.3 8-3.4 5.1-10 7.7z"/>
<path fill="#56a7eb" d="M964 2589l-9-1.5-3.8-1.5-5.1-5 .5-3 8.4-8.6 21-25.3 12-11.2 12.9-13.9 11.1-14.7 4-3.3 2.8 0 2.4 3-1.2 6-9.2 26-5.8 13.5-5.1 15.5-5.2 10-2.8 4-9.9 7.5z"/>
<path fill="#7ecddb" d="M968 2587.1l-6 .3-6-1.7-6.1-4.7-.9-1.2 .1-1.8 28-33 12.9-11.8 18-19.5 2-.9 1 .3 2.2 1.9 .9 2-1.1 7-4 12-5.1 12-5.1 16-5.1 10-2.8 4-8.9 6.9z"/>
<path fill="#a1dc91" d="M965 2586.1l-4-.5-4.4-2.6-4.3-4-.4-1 .8-2 25.3-30.1 23-21.2 2-1.1 2 .5 3.6 3.9-.5 5-5.4 14-5.2 17-5.3 10-3.2 3.9-8 5.9z"/>
<path fill="#bbdb3b" d="M971 2584l-6 .5-2.3-.5-6.7-5.4-.9-2.6 16.9-21.6 7.7-8.4 16.3-13.7 2-1.1 2 .5 3.6 3.3 .4 3-6.7 23-4.2 9-4.1 6.2-8 6.1z"/>
<path fill="#d7e030" d="M978 2582l-12 .7-7-5.4-.9-2.3 14.1-19 7.8-8.7 10-8 4-1.2 5 4.1 .8 2.8-4.1 17-3.3 7-4 6-7.4 5.8z"/>
<path fill="#ebe02a" d="M976 2581.1l-6 .2-3-.9-5.1-4.4-.9-1.2 0-1.8 12-16.2 7-7.8 7-5.7 4-1.4 5 3.9 1.3 2.2-.8 7-2 7-4 8-3.5 4.8-7 5.2z"/>
<path fill="#f7d228" d="M979 2579.2l-5 .7-4-.9-5.8-5-.5-2 14.3-19.2 6-5.9 4-1.6 2 .9 4.9 4.8 .4 3-.7 4-2.1 6-4.5 7.9-2 2.3z"/>
<path fill="#f4a22a" d="M978 2578l-3 0-2.1-1-5.6-5-.5-2 7.3-11 4.9-5.7 5-4.6 3-.4 6 5.2 .6 2.5-.6 3.4-2.2 5.6-3.8 6.4-2.6 2.6z"/>
<path fill="#ed6a29" d="M980 2575l-3 0-5.8-5-.8-2 3.7-7 2.9-3.8 5-4.8 3-1 6 5.2 .2 3.4-4.6 10-2.6 2.8z"/>
<path fill="#e73e29" d="M983 2571.2l-3-.5-5-4.4-.5-1.3 2-5 4.5-3.5 1.7 .5 3.5 3 1.8 2.9-2 5.5z"/>
<path fill="#1d2a8c" d="M1061.2 2468.2h2.6v2.6h-2.6zM1063.2 2466.2h2.6v2.6h-2.6zM1000.2 2582.2h2.6v2.6h-2.6zM1004.2 2480.2h2.6v2.6h-2.6zM1008.2 2477.2h2.6v2.6h-2.6zM944.2 2564.2h2.6v2.6h-2.6zM1035.2 2512.2h2.6v2.6h-2.6zM1059.2 2479.2h2.6v2.6h-2.6zM1008.2 2572.2h2.6v2.6h-2.6zM1046.2 2493.2h2.6v2.6h-2.6zM979.2 2597.2h2.6v2.6h-2.6zM953.2 2548.2h2.6v2.6h-2.6zM1069.2 2451.2h2.6v2.6h-2.6zM1018.2 2558.2h2.6v2.6h-2.6zM929.2 2587.2h2.6v2.6h-2.6zM1018.2 2551.2h2.6v2.6h-2.6zM928.2 2595.2h2.6v2.6h-2.6zM1035.2 2513.2h2.6v2.6h-2.6zM1035.2 2518.2h2.6v2.6h-2.6zM1002.2 2582.2h2.6v2.6h-2.6zM1057.2 2483.2h2.6v2.6h-2.6zM930.2 2577.2h2.6v2.6h-2.6zM1060.2 2437.2h2.6v2.6h-2.6zM962.2 2600.2h2.6v2.6h-2.6zM1024.2 2545.2h2.6v2.6h-2.6zM1036.2 2506.2h2.6v2.6h-2.6zM950.2 2547.2h2.6v2.6h-2.6zM961.2 2540.2h2.6v2.6h-2.6zM1061.2 2439.2h2.6v2.6h-2.6zM951.2 2599.2h2.6v2.6h-2.6zM1027.2 2534.2h2.6v2.6h-2.6zM1045.2 2502.2h2.6v2.6h-2.6zM1040.2 2512.2h2.6v2.6h-2.6zM1026.2 2463.2h2.6v2.6h-2.6zM932.2 2580.2h2.6v2.6h-2.6zM1049.2 2482.2h2.6v2.6h-2.6zM997.2 2595.2h2.6v2.6h-2.6zM1010.2 2479.2h2.6v2.6h-2.6zM931.2 2592.2h2.6v2.6h-2.6zM1024.2 2466.2h2.6v2.6h-2.6zM971.2 2601.2h2.6v2.6h-2.6zM934.2 2566.2h2.6v2.6h-2.6zM955.2 2601.2h2.6v2.6h-2.6zM1026.2 2537.2h2.6v2.6h-2.6zM1059.2 2469.2h2.6v2.6h-2.6zM933.2 2594.2h2.6v2.6h-2.6zM1004.2 2484.2h2.6v2.6h-2.6zM977.2 2596.2h2.6v2.6h-2.6zM937.2 2565.2h2.6v2.6h-2.6zM1010.2 2482.2h2.6v2.6h-2.6zM1071.2 2441.2h2.6v2.6h-2.6zM1067.2 2437.2h2.6v2.6h-2.6zM991.2 2498.2h2.6v2.6h-2.6zM1062.2 2473.2h2.6v2.6h-2.6zM1035.2 2517.2h2.6v2.6h-2.6zM1033.2 2530.2h2.6v2.6h-2.6zM954.2 2550.2h2.6v2.6h-2.6zM1025.2 2462.2h2.6v2.6h-2.6zM1029.2 2530.2h2.6v2.6h-2.6zM965.2 2534.2h2.6v2.6h-2.6zM928.2 2583.2h2.6v2.6h-2.6zM983.2 2509.2h2.6v2.6h-2.6zM1016.2 2560.2h2.6v2.6h-2.6zM1053.2 2439.2h2.6v2.6h-2.6zM1049.2 2493.2h2.6v2.6h-2.6zM951.2 2546.2h2.6v2.6h-2.6zM1024.2 2535.2h2.6v2.6h-2.6zM1012.2 2478.2h2.6v2.6h-2.6zM1044.2 2447.2h2.6v2.6h-2.6zM939.2 2559.2h2.6v2.6h-2.6zM1016.2 2467.2h2.6v2.6h-2.6zM1065.2 2463.2h2.6v2.6h-2.6zM1066.2 2437.2h2.6v2.6h-2.6zM971.2 2529.2h2.6v2.6h-2.6zM1066.2 2465.2h2.6v2.6h-2.6zM1041.2 2505.2h2.6v2.6h-2.6zM930.2 2596.2h2.6v2.6h-2.6zM1023.2 2536.2h2.6v2.6h-2.6zM1022.2 2465.2h2.6v2.6h-2.6zM1040.2 2508.2h2.6v2.6h-2.6zM989.2 2597.2h2.6v2.6h-2.6zM965.2 2539.2h2.6v2.6h-2.6zM1067.2 2444.2h2.6v2.6h-2.6zM929.2 2589.2h2.6v2.6h-2.6zM984.2 2513.2h2.6v2.6h-2.6zM969.2 2534.2h2.6v2.6h-2.6zM1069.2 2457.2h2.6v2.6h-2.6zM978.2 2517.2h2.6v2.6h-2.6zM1034.2 2452.2h2.6v2.6h-2.6zM1011.2 2480.2h2.6v2.6h-2.6zM953.2 2601.2h2.6v2.6h-2.6zM1039.2 2451.2h2.6v2.6h-2.6zM955.2 2548.2h2.6v2.6h-2.6zM1032.2 2532.2h2.6v2.6h-2.6zM933.2 2599.2h2.6v2.6h-2.6zM1002.2 2484.2h2.6v2.6h-2.6zM1039.2 2503.2h2.6v2.6h-2.6zM960.2 2543.2h2.6v2.6h-2.6zM928.2 2593.2h2.6v2.6h-2.6zM955.2 2541.2h2.6v2.6h-2.6zM995.2 2497.2h2.6v2.6h-2.6zM985.2 2509.2h2.6v2.6h-2.6zM1035.2 2522.2h2.6v2.6h-2.6zM1018.2 2559.2h2.6v2.6h-2.6zM971.2 2528.2h2.6v2.6h-2.6zM977.2 2599.2h2.6v2.6h-2.6zM1037.2 2456.2h2.6v2.6h-2.6zM971.2 2527.2h2.6v2.6h-2.6zM1055.2 2486.2h2.6v2.6h-2.6zM1013.2 2571.2h2.6v2.6h-2.6z"/>
<path fill="#2a3080" d="M919.5 2575.5h3v3h-3zM919.5 2580.5h3v3h-3zM919.5 2588.5h3v3h-3zM926.5 2578.5h3v3h-3zM926.5 2584.5h3v3h-3zM940.5 2559.5h3v3h-3zM965.5 2537.5h3v3h-3zM979.5 2519.5h3v3h-3zM1001.5 2482.5h3v3h-3zM978.5 2603.5h3v3h-3zM1087.5 2408.5h3v3h-3zM1092.5 2411.5h3v3h-3zM1121.5 2453.5h3v3h-3zM1066.5 2439.5h3v3h-3zM1065.5 2466.5h3v3h-3zM1060.5 2479.5h3v3h-3zM1059.5 2487.5h3v3h-3zM1071.5 2489.5h3v3h-3zM1094.5 2487.5h3v3h-3zM1048.5 2494.5h3v3h-3zM1063.5 2505.5h3v3h-3zM1075.5 2511.5h3v3h-3zM1044.5 2513.5h3v3h-3zM1034.5 2517.5h3v3h-3zM1043.5 2521.5h3v3h-3zM1039.5 2524.5h3v3h-3zM1060.5 2524.5h3v3h-3zM1029.5 2535.5h3v3h-3zM1043.5 2535.5h3v3h-3zM1036.5 2544.5h3v3h-3zM1047.5 2549.5h3v3h-3zM1051.5 2553.5h3v3h-3zM1064.5 2548.5h3v3h-3zM1019.5 2555.5h3v3h-3zM1025.5 2556.5h3v3h-3zM1032.5 2564.5h3v3h-3zM1024.5 2570.5h3v3h-3zM1015.5 2567.5h3v3h-3zM1009.5 2577.5h3v3h-3zM1002.5 2582.5h3v3h-3z"/>
</g>
<rect x="913.2" y="2402.2" width="219.3" height="210.7" fill="none" stroke="#4d4d4d" stroke-width="2"/>
<rect x="913.2" y="2402.2" width="80.6" height="35" fill="#fff" stroke="#4d4d4d" stroke-width="2"/>
<text x="926.2" y="2429.8" font-size="15" fill="#222" textLength="59" lengthAdjust="spacingAndGlyphs">R = 0.90</text>
<line x1="952.3" y1="2612.9" x2="952.3" y2="2622.9" stroke="#666" stroke-width="2"/>
<text x="949.6" y="2647.5" font-size="15.5" fill="#222" text-anchor="middle">1</text>
<line x1="997.1" y1="2612.9" x2="997.1" y2="2622.9" stroke="#666" stroke-width="2"/>
<text x="997.1" y="2647.5" font-size="15.5" fill="#222" text-anchor="middle">2</text>
<line x1="1042.1" y1="2612.9" x2="1042.1" y2="2622.9" stroke="#666" stroke-width="2"/>
<text x="1041" y="2647.5" font-size="15.5" fill="#222" text-anchor="middle">3</text>
<line x1="1086.6" y1="2612.9" x2="1086.6" y2="2622.9" stroke="#666" stroke-width="2"/>
<text x="1085.2" y="2647.5" font-size="15.5" fill="#222" text-anchor="middle">4</text>
<line x1="903.7" y1="2438.7" x2="913.2" y2="2438.7" stroke="#666" stroke-width="2"/>
<line x1="903.7" y1="2478.8" x2="913.2" y2="2478.8" stroke="#666" stroke-width="2"/>
<line x1="903.7" y1="2518.4" x2="913.2" y2="2518.4" stroke="#666" stroke-width="2"/>
<line x1="903.7" y1="2558" x2="913.2" y2="2558" stroke="#666" stroke-width="2"/>
<line x1="903.7" y1="2597.6" x2="913.2" y2="2597.6" stroke="#666" stroke-width="2"/>
<text x="899.3" y="2448.4" font-size="15.5" fill="#222" text-anchor="end">3.5</text>
<text x="899.3" y="2488" font-size="15.5" fill="#222" text-anchor="end">3.0</text>
<text x="899.3" y="2530.3" font-size="15.5" fill="#222" text-anchor="end">2.5</text>
<text x="899.3" y="2571.2" font-size="15.5" fill="#222" text-anchor="end">2.0</text>
<text x="899.3" y="2613.6" font-size="15.5" fill="#222" text-anchor="end">1.5</text>
<text x="1020.8" y="2376.2" font-size="19.3" font-weight="bold" fill="#000" text-anchor="middle">P56</text>
<text x="909.2" y="2665.3" font-size="16" fill="#222" textLength="213.7" lengthAdjust="spacingAndGlyphs">snATAC-seq rep1 (log<tspan font-size="9.9" dy="4">10</tspan><tspan dy="-4"> reads)</tspan></text>
<text transform="translate(867.2,2622.8) rotate(-90)" x="0" y="0" font-size="16" fill="#222" textLength="230.5" lengthAdjust="spacingAndGlyphs">Bulk ATAC-seq rep1 (log<tspan font-size="9.9" dy="4">10</tspan><tspan dy="-4"> reads)</tspan></text>
</svg></body></html>
